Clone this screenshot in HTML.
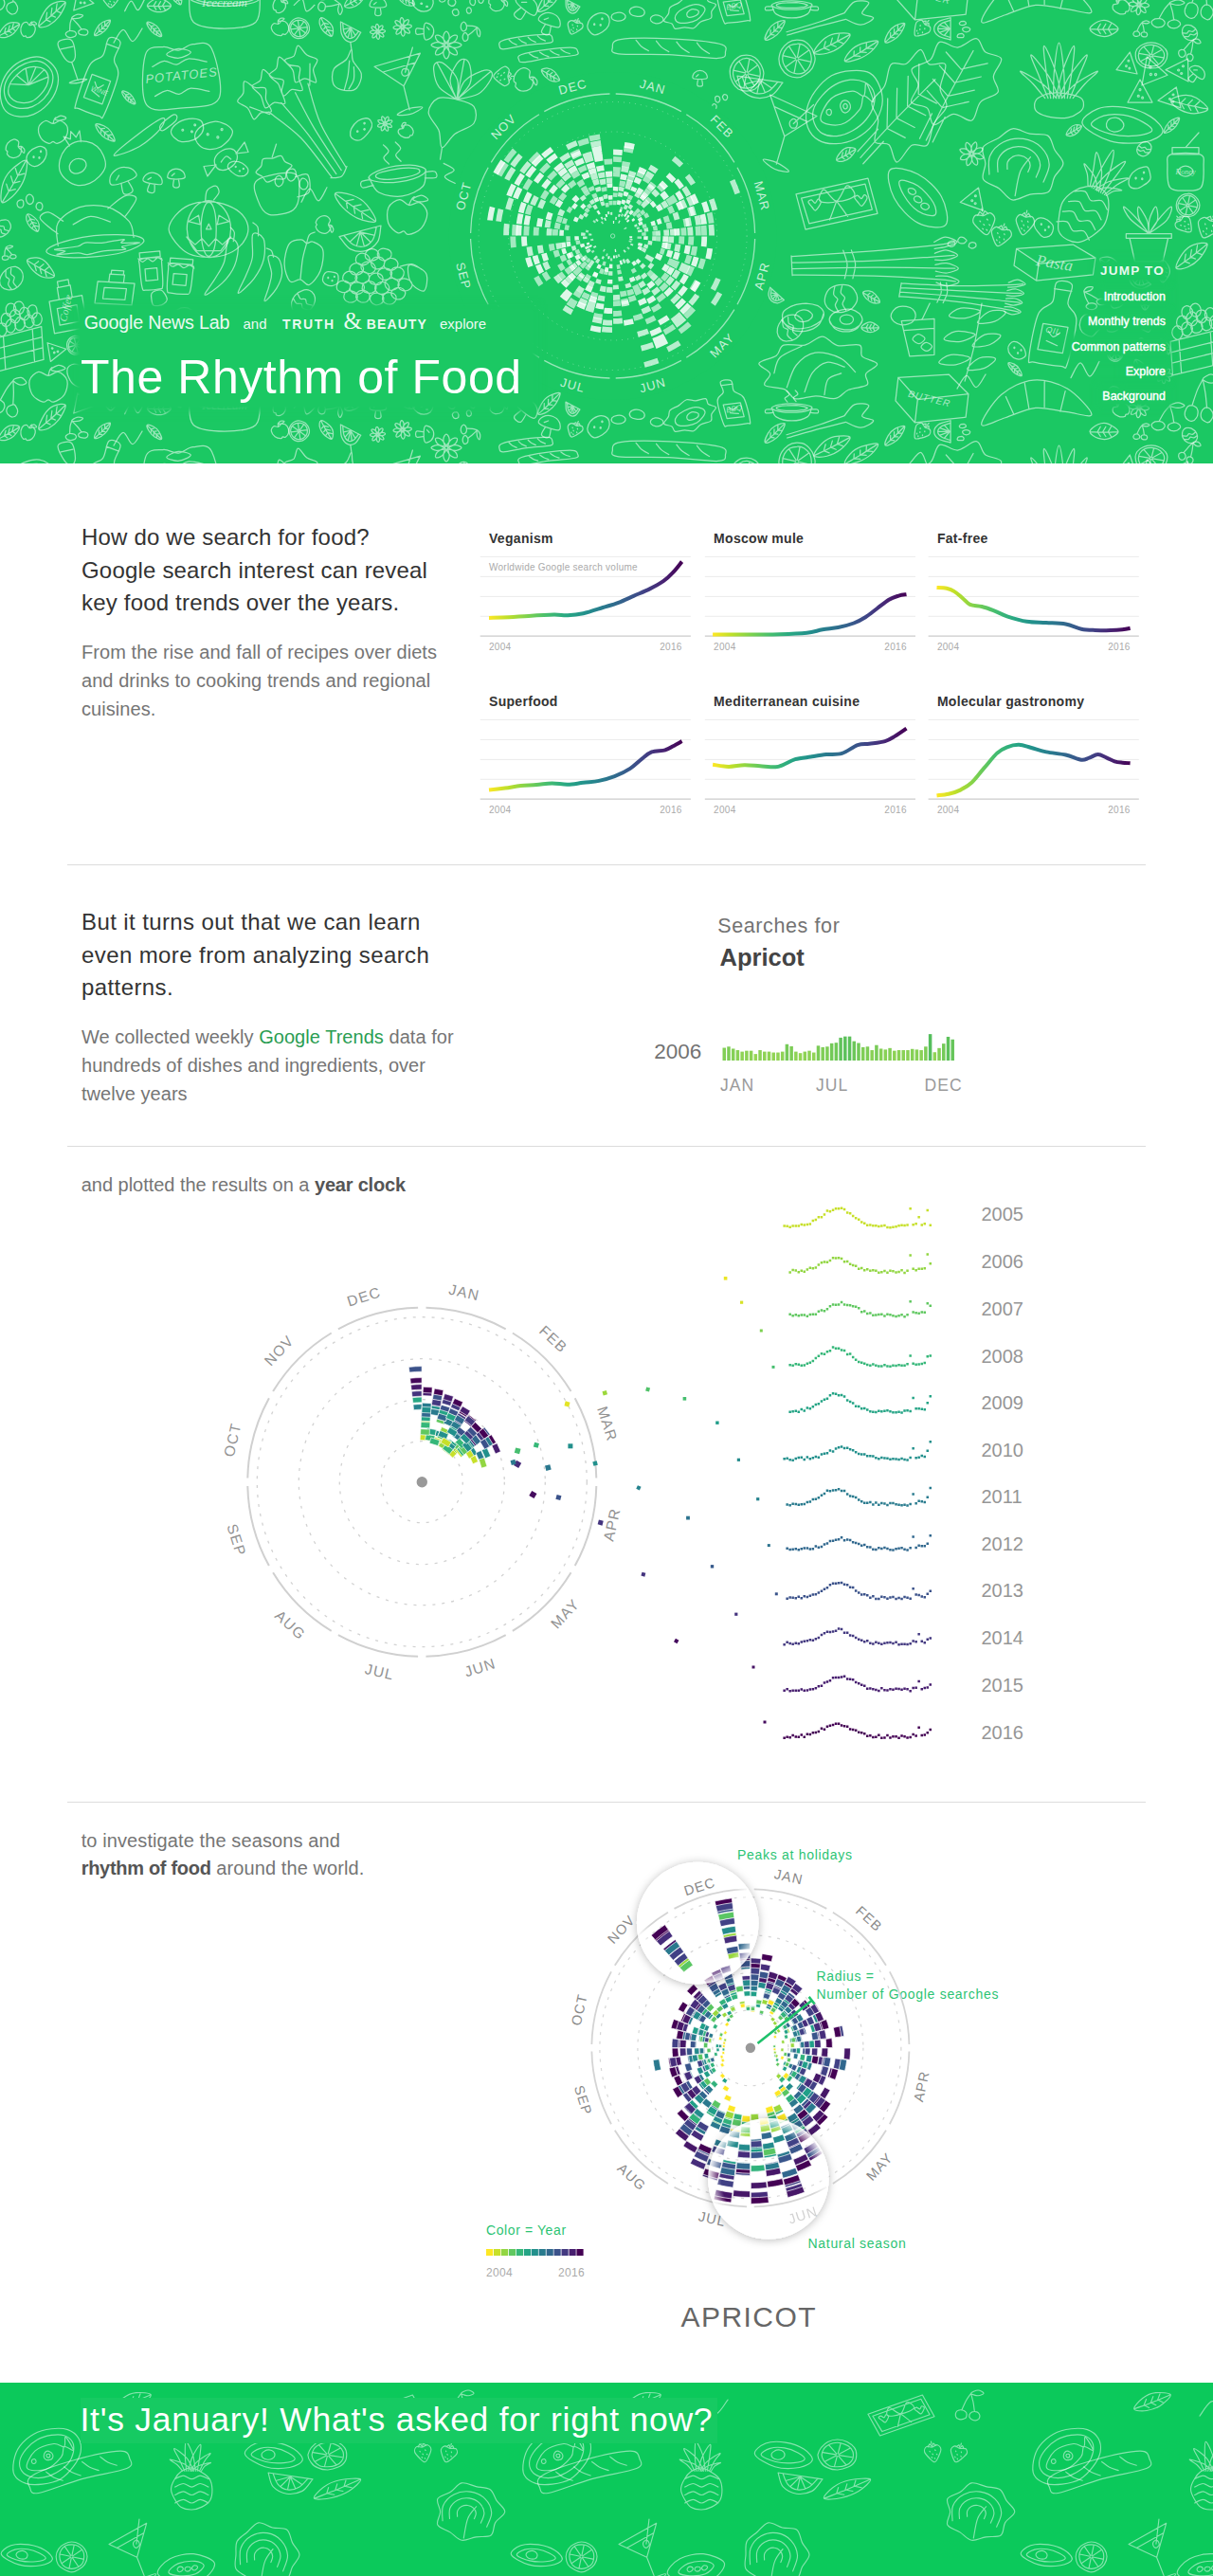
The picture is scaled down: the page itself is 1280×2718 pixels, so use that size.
<!DOCTYPE html><html lang="en"><head><meta charset="utf-8"><title>The Rhythm of Food</title><style>
*{box-sizing:border-box}
html,body{margin:0;padding:0;background:#fff}
body{font-family:"Liberation Sans", Arial, sans-serif;width:1280px;height:2718px;position:relative;overflow:hidden}
.t{position:absolute;white-space:nowrap;margin:0}
svg{position:absolute;left:0;top:0;overflow:hidden}
svg text{font-family:"Liberation Sans", Arial, sans-serif}
.hd{position:absolute;left:0;top:0;width:1280px;height:488.5px;background:#1bc863;overflow:hidden}
.ft{position:absolute;left:0;top:2514px;width:1280px;height:204px;background:#0bc95b;overflow:hidden}
.dd path{fill:none;stroke:rgba(255,255,255,.56);stroke-width:1.25;vector-effect:non-scaling-stroke;stroke-linecap:round;stroke-linejoin:round}
.ft .dd path{stroke:rgba(255,255,255,.5);stroke-width:1.15}
.hr{position:absolute;left:71px;width:1138px;height:1px;background:#dcdcdc}
.bgt{background:#1bc863;box-shadow:0 0 6px 5px #1bc863}
a{color:#2a9d52;text-decoration:none}
b{font-weight:700;color:#555}
</style></head><body><div class="hd"><svg width="1280" height="488.5" viewBox="0 0 1280 488.5"><g class="dd"><g id="dt"><path transform="translate(30.5 91.6) scale(0.629 0.983) rotate(-15)" d="M50.2 0.0C50.4 5.0 47.9 10.8 43.7 15.1C39.6 19.5 32.6 23.7 25.3 26.3C18.0 28.9 8.4 30.5 0.0 30.5C-8.4 30.5 -17.9 28.8 -25.2 26.2C-32.6 23.7 -40.1 19.6 -44.0 15.3C-48.0 10.9 -49.2 5.0 -49.1 0.0C-48.9 -5.0 -47.2 -10.6 -43.2 -15.0C-39.3 -19.4 -32.7 -23.9 -25.4 -26.4C-18.2 -29.0 -8.5 -30.2 -0.0 -30.2C8.5 -30.2 18.3 -29.0 25.4 -26.4C32.5 -23.8 38.5 -19.2 42.6 -14.8C46.8 -10.4 50.1 -5.0 50.2 0.0ZM41.9 -2.0C42.0 2.0 39.5 6.4 36.0 9.9C32.5 13.3 27.0 16.8 21.0 18.8C15.0 20.9 6.9 22.1 0.0 22.1C-6.9 22.0 -14.6 20.4 -20.6 18.4C-26.6 16.3 -32.5 13.3 -36.0 9.9C-39.5 6.5 -41.5 2.0 -41.6 -2.0C-41.8 -6.0 -40.4 -10.7 -37.0 -14.2C-33.6 -17.7 -27.4 -21.1 -21.2 -23.0C-15.1 -24.9 -7.1 -25.7 -0.0 -25.7C7.1 -25.7 15.3 -25.0 21.2 -23.0C27.2 -21.1 32.4 -17.3 35.8 -13.8C39.3 -10.3 41.9 -6.0 41.9 -2.0ZM34.2 -2.0C34.1 1.0 31.7 4.3 28.8 6.8C25.8 9.3 21.3 11.5 16.5 13.1C11.7 14.7 5.5 16.4 0.0 16.4C-5.5 16.4 -11.9 14.9 -16.7 13.3C-21.5 11.7 -25.9 9.4 -28.9 6.8C-32.0 4.3 -34.8 1.0 -35.0 -2.0C-35.2 -5.0 -33.1 -8.6 -30.1 -11.2C-27.1 -13.8 -21.8 -15.8 -16.8 -17.4C-11.8 -18.9 -5.6 -20.5 -0.0 -20.5C5.6 -20.5 12.1 -19.2 17.0 -17.6C22.0 -16.1 26.9 -13.7 29.8 -11.1C32.6 -8.5 34.4 -5.0 34.2 -2.0ZM0.0 -2.0L34.0 -2.0M0.0 -2.0L-29.4 -11.0M0.0 -2.0L17.0 -17.6M0.0 -2.0L-0.0 -20.0M0.0 -2.0L-17.0 -17.6M0.0 -2.0L29.4 -11.0"/><path transform="translate(107.4 80.5) scale(0.798 0.808) rotate(20)" d="M-8.0 -50.0C-5.3 -54.0 5.3 -54.0 8.0 -50.0C10.7 -46.0 6.0 -33.0 8.0 -26.0C10.0 -19.0 18.0 -20.0 20.0 -8.0C22.0 4.0 21.0 36.3 20.0 46.0C19.0 55.7 19.7 49.3 14.0 50.0C8.3 50.7 -8.3 50.7 -14.0 50.0C-19.7 49.3 -19.0 55.7 -20.0 46.0C-21.0 36.3 -22.0 4.0 -20.0 -8.0C-18.0 -20.0 -10.0 -19.0 -8.0 -26.0C-6.0 -33.0 -10.7 -46.0 -8.0 -50.0ZM-9.0 -42.0L9.0 -42.0M-13.0 2.0L13.0 2.0L13.0 34.0L-13.0 34.0ZM-6.0 10.0C-5.0 11.0 -2.0 16.0 0.0 16.0C2.0 16.0 5.0 11.0 6.0 10.0M-6.0 22.0C-4.0 22.7 4.0 25.3 6.0 26.0"/><path transform="translate(76.0 66.4) scale(0.601 0.471) rotate(-15)" d="M-12.0 -50.0C-8.3 -55.8 8.3 -55.8 12.0 -50.0C15.7 -44.2 12.0 -23.0 10.0 -15.0C8.0 -7.0 3.3 -2.0 0.0 -2.0C-3.3 -2.0 -8.0 -7.0 -10.0 -15.0C-12.0 -23.0 -15.7 -44.2 -12.0 -50.0ZM0.0 -2.0L0.0 40.0M-16.0 42.0C-16.0 40.8 -5.3 39.0 0.0 39.0C5.3 39.0 16.0 40.8 16.0 42.0C16.0 43.2 5.3 46.0 0.0 46.0C-5.3 46.0 -16.0 43.2 -16.0 42.0ZM-11.0 -35.0L11.0 -35.0"/><path transform="translate(190.5 79.3) scale(0.799 0.824) rotate(-5)" d="M-44.0 -30.0C-39.3 -42.0 -27.3 -37.7 -20.0 -38.0C-12.7 -38.3 -6.7 -32.0 0.0 -32.0C6.7 -32.0 12.7 -38.3 20.0 -38.0C27.3 -37.7 39.3 -42.0 44.0 -30.0C48.7 -18.0 55.3 22.0 48.0 34.0C40.7 46.0 16.0 42.0 0.0 42.0C-16.0 42.0 -40.7 46.0 -48.0 34.0C-55.3 22.0 -48.7 -18.0 -44.0 -30.0ZM-16.0 -28.0C-16.0 -26.0 -5.3 -22.0 0.0 -22.0C5.3 -22.0 16.0 -26.0 16.0 -28.0C16.0 -30.0 5.3 -34.0 0.0 -34.0C-5.3 -34.0 -16.0 -30.0 -16.0 -28.0ZM-36.0 -14.0C-33.3 -15.0 -25.3 -20.0 -20.0 -20.0C-14.7 -20.0 -9.3 -14.0 -4.0 -14.0C1.3 -14.0 5.3 -20.0 12.0 -20.0C18.7 -20.0 32.0 -15.0 36.0 -14.0M-36.0 24.0C-33.3 23.0 -25.3 18.0 -20.0 18.0C-14.7 18.0 -9.3 24.0 -4.0 24.0C1.3 24.0 5.3 18.0 12.0 18.0C18.7 18.0 32.0 23.0 36.0 24.0"/><path transform="translate(237.0 3.7) scale(0.780 0.658) rotate(0)" d="M47.4 -10.0C47.5 -7.6 46.2 -4.9 42.3 -2.9C38.4 -0.8 31.2 1.0 24.2 2.2C17.1 3.4 8.1 4.2 0.0 4.3C-8.1 4.3 -17.5 3.5 -24.4 2.3C-31.3 1.1 -37.3 -1.0 -41.2 -3.1C-45.1 -5.1 -47.8 -7.7 -47.7 -10.0C-47.7 -12.3 -45.0 -14.9 -41.0 -16.9C-37.0 -18.9 -30.5 -20.8 -23.7 -22.0C-16.8 -23.1 -7.9 -23.7 -0.0 -23.8C7.9 -23.8 16.9 -23.1 23.8 -22.0C30.8 -20.9 37.8 -19.0 41.7 -17.0C45.7 -15.0 47.3 -12.4 47.4 -10.0ZM41.2 -10.0C41.3 -8.3 40.0 -6.4 36.6 -5.0C33.2 -3.5 27.0 -2.2 20.9 -1.4C14.8 -0.6 7.0 -0.1 0.0 -0.1C-7.0 -0.0 -15.2 -0.4 -21.3 -1.2C-27.3 -2.1 -32.9 -3.5 -36.3 -5.0C-39.7 -6.5 -41.7 -8.3 -41.7 -10.0C-41.7 -11.7 -39.8 -13.5 -36.3 -15.0C-32.9 -16.5 -27.2 -17.9 -21.2 -18.7C-15.1 -19.5 -7.1 -19.8 -0.0 -19.8C7.1 -19.8 15.5 -19.6 21.4 -18.8C27.3 -18.0 32.4 -16.4 35.7 -14.9C39.0 -13.4 41.0 -11.7 41.2 -10.0ZM-48.0 -8.0C-47.0 -1.7 -50.0 22.0 -42.0 30.0C-34.0 38.0 -14.0 40.0 0.0 40.0C14.0 40.0 34.0 38.0 42.0 30.0C50.0 22.0 47.0 -1.7 48.0 -8.0"/><path transform="translate(320.5 127.1) scale(1.291 1.331) rotate(-35)" d="M-7.0 50.0C-7.5 43.3 -7.7 22.0 -9.8 10.0C-11.9 -2.0 -18.0 -16.7 -19.6 -22.0M-21.9 -53.2C-20.2 -52.9 -19.5 -46.5 -17.6 -44.2C-15.8 -41.8 -11.3 -41.1 -11.0 -38.9C-10.7 -36.7 -14.8 -34.1 -15.9 -31.1C-16.9 -28.1 -16.0 -22.1 -17.5 -21.1C-19.0 -20.1 -22.4 -24.6 -25.0 -25.1C-27.5 -25.6 -31.7 -22.6 -32.8 -24.1C-33.9 -25.6 -31.4 -31.0 -31.9 -34.2C-32.3 -37.4 -36.3 -41.3 -35.6 -43.3C-35.0 -45.3 -30.3 -44.4 -28.0 -46.1C-25.8 -47.7 -23.7 -53.5 -21.9 -53.2ZM-2.5 50.0C-2.7 43.3 -2.8 22.0 -3.5 10.0C-4.2 -2.0 -6.4 -16.7 -7.0 -22.0M-4.8 -19.9C-6.4 -19.3 -8.9 -24.4 -11.4 -25.4C-14.0 -26.5 -18.9 -24.2 -19.9 -26.1C-20.9 -27.9 -17.6 -32.9 -17.5 -36.3C-17.3 -39.7 -20.1 -44.6 -19.0 -46.3C-17.9 -48.0 -13.4 -45.3 -10.9 -46.3C-8.4 -47.3 -5.6 -52.8 -4.0 -52.1C-2.4 -51.5 -2.7 -45.1 -1.2 -42.4C0.2 -39.6 4.6 -37.8 4.6 -35.6C4.5 -33.4 0.0 -31.8 -1.5 -29.2C-3.1 -26.6 -3.1 -20.6 -4.8 -19.9ZM2.5 50.0C2.7 43.3 2.8 22.0 3.5 10.0C4.2 -2.0 6.4 -16.7 7.0 -22.0M12.4 -52.7C14.1 -52.1 14.0 -45.6 15.6 -42.9C17.1 -40.2 21.5 -38.7 21.5 -36.4C21.6 -34.2 17.3 -32.2 15.9 -29.5C14.5 -26.9 14.5 -21.0 12.9 -20.3C11.2 -19.7 8.6 -24.8 6.1 -25.7C3.6 -26.6 -1.1 -23.9 -2.2 -25.5C-3.3 -27.2 -0.4 -32.4 -0.4 -35.7C-0.5 -39.0 -3.4 -43.7 -2.4 -45.6C-1.5 -47.4 3.0 -45.6 5.5 -46.7C8.0 -47.9 10.7 -53.3 12.4 -52.7ZM7.0 50.0C7.5 43.3 7.7 22.0 9.8 10.0C11.9 -2.0 18.0 -16.7 19.6 -22.0M25.6 -19.0C24.0 -18.7 22.1 -25.0 19.8 -26.6C17.5 -28.2 12.6 -26.8 11.9 -28.6C11.2 -30.5 15.2 -34.6 15.6 -37.9C16.1 -41.1 13.6 -46.5 14.8 -48.0C15.9 -49.4 20.1 -45.9 22.7 -46.4C25.2 -47.0 28.7 -52.2 30.2 -51.2C31.7 -50.3 30.8 -44.0 31.9 -41.0C33.0 -38.0 37.1 -35.1 36.7 -33.1C36.3 -31.0 31.3 -30.8 29.5 -28.5C27.6 -26.2 27.2 -19.4 25.6 -19.0ZM-8.0 50.0C-6.7 50.7 -2.7 54.0 0.0 54.0C2.7 54.0 6.7 50.7 8.0 50.0M-20.0 -20.0C-21.7 -22.3 -28.3 -31.7 -30.0 -34.0M20.0 -20.0C21.7 -22.3 28.3 -31.7 30.0 -34.0"/><path transform="translate(367.0 74.2) scale(0.566 0.563) rotate(10)" d="M0-40C2-40 2-27 6-20C10-13 23-6 26 2C29 10 26 24 22 30C18 36 7 38 0 38C-7 38-18 36-22 30C-26 24-29 10-26 2C-23-6-10-13-6-20C-2-27-2-40 0-40ZM0-40C-1-42-3-50-4-52M0-18C0-13 2 1 2 10C2 19 0 33 0 38M10-8C11-4 14 7 14 14C14 21 9 31 8 34"/><path transform="translate(425.7 89.5) scale(0.626 0.681) rotate(-15)" d="M-40.0 -40.0L40.0 -40.0L0.0 2.0ZM0.0 2.0L0.0 40.0M-22.0 42.0C-22.0 40.5 -7.3 38.0 0.0 38.0C7.3 38.0 22.0 40.5 22.0 42.0C22.0 43.5 7.3 47.0 0.0 47.0C-7.3 47.0 -22.0 43.5 -22.0 42.0ZM-28.0 -28.0L28.0 -28.0M14.4 -18.0C14.3 -16.8 13.6 -15.4 12.9 -14.5C12.1 -13.5 10.9 -12.7 9.8 -12.4C8.7 -12.0 7.3 -12.1 6.2 -12.5C5.1 -12.8 3.8 -13.5 3.1 -14.4C2.4 -15.4 1.8 -16.8 1.8 -18.0C1.8 -19.2 2.4 -20.6 3.2 -21.5C3.9 -22.5 5.1 -23.3 6.2 -23.7C7.3 -24.0 8.6 -23.7 9.8 -23.4C10.9 -23.1 12.3 -22.6 13.1 -21.7C13.9 -20.8 14.4 -19.2 14.4 -18.0ZM8.0 -18.0L30.0 -52.0"/><path transform="translate(480.7 109.5) scale(0.886 0.772) rotate(15)" d="M0.0 -6.0C7.3 -6.0 17.3 -6.3 22.0 -2.0C26.7 2.3 30.0 13.0 28.0 20.0C26.0 27.0 14.7 33.0 10.0 40.0C5.3 47.0 3.3 62.0 0.0 62.0C-3.3 62.0 -5.3 47.0 -10.0 40.0C-14.7 33.0 -26.0 27.0 -28.0 20.0C-30.0 13.0 -26.7 2.3 -22.0 -2.0C-17.3 -6.3 -7.3 -6.0 0.0 -6.0ZM0.0 62.0C0.3 64.7 1.7 75.3 2.0 78.0M0.0 -6.0C-4.1 -7.8 -18.5 -11.4 -24.6 -16.6C-30.8 -21.9 -35.1 -32.2 -37.0 -37.6C-38.9 -42.9 -38.1 -47.1 -36.1 -48.8C-34.0 -50.5 -29.8 -50.7 -24.8 -47.9C-19.8 -45.1 -10.4 -39.1 -6.3 -32.1C-2.1 -25.1 -1.0 -10.3 0.0 -6.0M0.0 -6.0L-36.1 -48.8M0.0 -6.0C-2.4 -9.8 -12.2 -20.9 -14.3 -28.7C-16.5 -36.5 -14.2 -47.5 -12.8 -53.0C-11.3 -58.5 -8.2 -61.5 -5.6 -61.7C-2.9 -62.0 0.6 -59.7 3.2 -54.6C5.7 -49.5 10.1 -39.2 9.5 -31.1C9.0 -23.0 1.6 -10.2 0.0 -6.0M0.0 -6.0L-5.6 -61.7M0.0 -6.0C0.4 -10.5 -0.7 -25.2 2.3 -32.7C5.4 -40.2 13.8 -47.6 18.3 -51.1C22.8 -54.6 27.0 -55.1 29.3 -53.7C31.5 -52.3 33.0 -48.3 31.9 -42.7C30.8 -37.1 28.1 -26.3 22.8 -20.2C17.5 -14.1 3.8 -8.4 0.0 -6.0M0.0 -6.0L29.3 -53.7"/><path transform="translate(471.0 47.5) scale(0.348 0.315) rotate(0)" d="M6-5C10-6 23-10 30-9C37-8 46-3 46 0C46 3 37 8 30 9C23 10 10 6 6 5M8 1C11 3 24 10 28 15C32 20 35 30 32 32C30 35 20 32 15 28C10 24 3 11 1 8M5 6C6 10 10 23 9 30C8 37 3 46 0 46C-3 46-8 37-9 30C-10 23-6 10-5 6M-1 8C-3 11-10 24-15 28C-20 32-30 35-32 32C-35 30-32 20-28 15C-24 10-11 3-8 1M-6 5C-10 6-23 10-30 9C-37 8-46 3-46 0C-46-3-37-8-30-9C-23-10-10-6-6-5M-8-1C-11-3-24-10-28-15C-32-20-35-30-32-32C-30-35-20-32-15-28C-10-24-3-11-1-8M-5-6C-6-10-10-23-9-30C-8-37-3-46 0-46C3-46 8-37 9-30C10-23 6-10 5-6M1-8C3-11 10-24 15-28C20-32 30-35 32-32C35-30 32-20 28-15C24-10 11-3 8-1M5 0C5 1 5 2 4 3C4 4 2 5 2 5C1 5 0 5-2 4C-2 4-4 4-4 3C-5 2-5 1-5 0C-5-1-5-2-4-3C-4-4-2-5-2-5C-1-5 0-5 2-4C2-4 4-4 4-3C5-2 5-1 5 0Z"/><path transform="translate(554.7 43.3) scale(0.567 0.439) rotate(-10)" d="M-50 4C-50 1-52-5-44-8C-36-11-15-12 0-12C15-12 36-10 44-8C52-6 50 0 50 3C50 6 52 11 44 12C36 13 15 10 0 10C-15 10-36 13-44 12C-52 11-50 7-50 4ZM-30-8C-29-7-27-2-25 0C-23 2-19 5-18 6M-12-8C-11-7-9-2-7 0C-5 2-1 5 0 6M6-8C7-7 9-2 11 0C13 2 17 5 18 6M24-8C25-7 27-2 29 0C31 2 35 5 36 6"/><path transform="translate(578.1 57.2) scale(0.634 0.407) rotate(-12)" d="M-50.0 4.0C-50.0 0.7 -52.3 -5.3 -44.0 -8.0C-35.7 -10.7 -14.7 -12.0 0.0 -12.0C14.7 -12.0 35.7 -10.5 44.0 -8.0C52.3 -5.5 50.0 -0.3 50.0 3.0C50.0 6.3 52.3 10.8 44.0 12.0C35.7 13.2 14.7 10.0 0.0 10.0C-14.7 10.0 -35.7 13.0 -44.0 12.0C-52.3 11.0 -50.0 7.3 -50.0 4.0ZM-30.0 -8.0C-29.2 -6.7 -27.0 -2.3 -25.0 0.0C-23.0 2.3 -19.2 5.0 -18.0 6.0M-12.0 -8.0C-11.2 -6.7 -9.0 -2.3 -7.0 0.0C-5.0 2.3 -1.2 5.0 0.0 6.0M6.0 -8.0C6.8 -6.7 9.0 -2.3 11.0 0.0C13.0 2.3 16.8 5.0 18.0 6.0M24.0 -8.0C24.8 -6.7 27.0 -2.3 29.0 0.0C31.0 2.3 34.8 5.0 36.0 6.0"/><path transform="translate(85.6 168.4) scale(0.639 0.633) rotate(-20)" d="M36.9 6.0C37.2 12.0 36.9 19.4 33.8 24.5C30.8 29.6 24.3 33.8 18.7 36.7C13.1 39.6 6.4 41.6 0.0 41.9C-6.4 42.2 -14.1 41.3 -19.8 38.4C-25.4 35.5 -30.6 29.9 -33.8 24.5C-37.1 19.1 -39.6 12.1 -39.4 6.0C-39.3 -0.1 -36.2 -6.7 -32.8 -11.9C-29.4 -17.1 -24.4 -22.0 -19.0 -25.1C-13.5 -28.3 -6.3 -30.7 -0.0 -30.7C6.3 -30.7 13.6 -28.3 19.0 -25.1C24.4 -22.0 29.4 -16.9 32.4 -11.7C35.4 -6.5 36.7 -0.0 36.9 6.0ZM-10.0 -28.0L-14.0 -46.0L-5.0 -38.0L0.0 -50.0L5.0 -38.0L14.0 -46.0L10.0 -28.0M5.7 8.0C5.7 10.7 3.5 13.9 1.2 15.9C-1.1 17.8 -4.7 19.5 -8.0 19.7C-11.3 19.9 -16.3 19.3 -18.9 17.3C-21.4 15.4 -23.4 11.0 -23.3 8.0C-23.2 5.0 -20.7 1.3 -18.2 -0.7C-15.6 -2.7 -11.3 -4.1 -8.0 -4.0C-4.7 -3.9 -0.7 -2.2 1.6 -0.2C3.9 1.8 5.8 5.3 5.7 8.0Z"/><path transform="translate(56.0 138.8) scale(0.361 0.297) rotate(0)" d="M0-28C7-28 15-40 22-38C29-36 40-25 42-15C44-5 41 12 36 22C31 32 18 40 12 42C6 44 4 36 0 36C-4 36-6 44-12 42C-18 40-31 32-36 22C-41 12-44-5-42-15C-40-25-29-36-22-38C-15-40-7-28 0-28ZM0-28C0-30 2-38 3-42C4-46 7-49 8-50M6-44C6-47 17-55 22-56C27-57 38-51 38-48C38-45 27-41 22-40C17-39 6-41 6-44Z"/><path transform="translate(152.5 145.2) scale(0.646 0.933) rotate(0)" d="M-50.0 20.0C-50.3 17.7 -23.3 3.0 -10.0 -4.0C3.3 -11.0 24.0 -21.0 30.0 -22.0C36.0 -23.0 32.3 -15.3 26.0 -10.0C19.7 -4.7 4.7 5.0 -8.0 10.0C-20.7 15.0 -49.7 22.3 -50.0 20.0ZM26.0 -14.0C29.0 -17.0 43.7 -25.0 48.0 -26.0C52.3 -27.0 55.0 -23.0 52.0 -20.0C49.0 -17.0 34.3 -9.0 30.0 -8.0C25.7 -7.0 23.0 -11.0 26.0 -14.0Z"/><path transform="translate(198.7 137.3) scale(0.407 0.420) rotate(-15)" d="M40 0C40 6 38 11 32 16C27 20 17 26 8 27C-1 28-16 27-24 24C-32 21-37 14-40 9C-44 3-46-4-44-9C-41-15-32-21-23-24C-15-27-2-28 8-27C18-26 29-22 35-17C40-13 41-6 40 0ZM-12-4C-12-4-12-3-12-3C-13-2-13-2-13-2C-14-2-14-2-15-2C-15-2-15-2-16-3C-16-3-16-4-16-4C-16-4-16-5-16-5C-15-6-15-6-15-6C-14-6-14-6-13-6C-13-6-13-6-12-5C-12-5-12-4-12-4ZM10 6C10 6 10 7 10 7C9 7 9 8 9 8C8 8 8 8 7 8C7 8 7 8 6 7C6 7 6 6 6 6C6 6 6 5 6 5C6 4 7 4 7 4C8 4 8 4 9 4C9 4 9 4 10 5C10 5 10 6 10 6ZM22-8C22-8 22-7 22-7C21-6 21-6 21-6C20-6 20-6 19-6C19-6 19-6 18-7C18-7 18-8 18-8C18-8 18-9 18-9C19-10 19-10 19-10C20-10 20-10 21-10C21-10 21-10 22-9C22-9 22-8 22-8Z"/><path transform="translate(225.8 142.5) scale(0.453 0.517) rotate(-10)" d="M44 0C44 5 38 11 32 16C25 20 17 26 8 27C-1 29-16 28-24 24C-32 21-38 14-41 9C-44 3-46-4-43-9C-40-15-32-21-23-24C-14-26-1-28 8-27C17-26 25-20 32-16C38-11 44-5 44 0ZM-12-4C-12-4-12-3-12-3C-13-2-13-2-13-2C-14-2-14-2-15-2C-15-2-15-2-16-3C-16-3-16-4-16-4C-16-4-16-5-16-5C-15-6-15-6-15-6C-14-6-14-6-13-6C-13-6-13-5-12-5C-12-5-12-4-12-4ZM10 6C10 6 10 7 10 7C9 8 9 8 9 8C8 8 8 8 7 8C7 8 7 8 6 7C6 7 6 6 6 6C6 6 6 5 6 5C7 4 7 4 7 4C8 4 8 4 9 4C9 4 9 5 10 5C10 5 10 6 10 6ZM22-8C22-8 22-7 22-7C21-7 21-6 21-6C20-6 20-6 19-6C19-6 19-6 18-7C18-7 18-8 18-8C18-8 18-9 18-9C19-10 19-10 19-10C20-10 20-10 21-10C21-10 22-10 22-9C22-9 22-8 22-8Z"/><path transform="translate(238.5 168.0) scale(0.653 0.750) rotate(0)" d="M16.7 -9.1C18.3 -6.3 18.7 -1.6 17.0 1.9C15.3 5.4 10.7 9.8 6.6 12.0C2.5 14.3 -3.7 15.8 -7.6 15.3C-11.5 14.9 -15.2 12.1 -16.9 9.2C-18.6 6.3 -19.4 1.6 -17.7 -2.0C-16.0 -5.5 -10.8 -10.0 -6.6 -12.1C-2.5 -14.3 3.4 -15.3 7.3 -14.8C11.2 -14.2 15.1 -11.9 16.7 -9.1ZM-16.0 8.0L-36.0 10.0L-30.0 24.0ZM16.0 -8.0L36.0 -10.0L30.0 -24.0ZM-8.0 4.0C-6.7 2.7 -2.7 -3.3 0.0 -4.0C2.7 -4.7 6.7 -0.7 8.0 0.0"/><path transform="translate(130.7 190.2) scale(0.371 0.362) rotate(-20)" d="M-38 0C-43-5-36-20-30-26C-24-32-10-38 0-38C10-38 24-32 30-26C36-20 43-5 38 0C33 5 13 6 0 6C-13 6-33 5-38 0ZM-10 6C-11 11-16 30-14 36C-12 42-5 42 0 42C5 42 12 42 14 36C16 30 11 11 10 6M-20-8C-18-10-10-16-8-18"/><path transform="translate(160.8 192.4) scale(0.260 0.266) rotate(10)" d="M-38 0C-43-5-36-20-30-26C-24-32-10-38 0-38C10-38 24-32 30-26C36-20 43-5 38 0C33 5 13 6 0 6C-13 6-33 5-38 0ZM-10 6C-11 11-16 30-14 36C-12 42-5 42 0 42C5 42 12 42 14 36C16 30 11 11 10 6M-20-8C-18-10-10-16-8-18"/><path transform="translate(186.0 187.5) scale(0.233 0.250) rotate(0)" d="M-38 0C-43-5-36-20-30-26C-24-32-10-38 0-38C10-38 24-32 30-26C36-20 43-5 38 0C33 5 13 6 0 6C-13 6-33 5-38 0ZM-10 6C-11 11-16 30-14 36C-12 42-5 42 0 42C5 42 12 42 14 36C16 30 11 11 10 6M-20-8C-18-10-10-16-8-18"/><path transform="translate(291.7 193.4) scale(0.651 0.703) rotate(-10)" d="M-30.0 -10.0C-19.3 -15.0 19.3 -15.0 30.0 -10.0C40.7 -5.0 35.7 11.0 34.0 20.0C32.3 29.0 29.0 40.0 20.0 44.0C11.0 48.0 -11.0 48.0 -20.0 44.0C-29.0 40.0 -32.3 29.0 -34.0 20.0C-35.7 11.0 -40.7 -5.0 -30.0 -10.0ZM29.4 -22.0C29.3 -19.5 21.5 -17.3 19.1 -14.4C16.6 -11.5 17.8 -5.8 14.6 -4.5C11.4 -3.2 4.9 -6.4 0.0 -6.4C-4.9 -6.4 -11.2 -3.2 -14.6 -4.4C-18.1 -5.7 -18.1 -10.8 -20.6 -13.8C-23.2 -16.7 -29.9 -19.3 -29.8 -22.0C-29.6 -24.7 -22.2 -26.9 -19.7 -29.9C-17.2 -32.8 -18.2 -38.5 -14.9 -39.8C-11.6 -41.2 -4.9 -38.1 -0.0 -38.0C4.9 -38.0 11.2 -40.7 14.4 -39.3C17.6 -37.9 16.7 -32.5 19.2 -29.7C21.7 -26.8 29.4 -24.5 29.4 -22.0ZM32.0 -4.0C35.3 -4.0 49.0 -8.3 52.0 -4.0C55.0 0.3 53.7 17.0 50.0 22.0C46.3 27.0 33.3 25.3 30.0 26.0M0.0 -40.0L10.0 -58.0"/><path transform="translate(420.3 187.5) scale(0.657 0.519) rotate(-10)" d="M46.3 -8.0C46.4 -5.4 43.8 -2.3 40.0 0.0C36.2 2.4 30.3 4.8 23.6 6.2C17.0 7.6 7.8 8.5 0.0 8.4C-7.8 8.4 -16.6 7.4 -23.1 5.9C-29.7 4.5 -35.5 2.3 -39.5 -0.1C-43.5 -2.4 -47.2 -5.4 -47.1 -8.0C-46.9 -10.6 -42.7 -13.5 -38.6 -15.8C-34.5 -18.0 -28.9 -20.1 -22.5 -21.5C-16.0 -22.9 -7.6 -24.0 -0.0 -24.1C7.6 -24.1 16.7 -23.3 23.2 -22.0C29.7 -20.6 35.1 -18.2 39.0 -15.8C42.8 -13.5 46.1 -10.6 46.3 -8.0ZM-46.0 -8.0C-44.3 -2.7 -43.7 16.3 -36.0 24.0C-28.3 31.7 -12.0 38.0 0.0 38.0C12.0 38.0 28.3 31.7 36.0 24.0C43.7 16.3 44.3 -2.7 46.0 -8.0M36.5 -8.0C36.5 -6.0 34.5 -3.5 30.3 -1.9C26.0 -0.3 17.9 0.8 11.0 1.4C4.1 1.9 -4.5 2.1 -11.0 1.4C-17.6 0.8 -24.3 -0.7 -28.3 -2.3C-32.4 -3.9 -34.9 -6.0 -35.2 -8.0C-35.6 -10.0 -34.5 -12.6 -30.5 -14.2C-26.5 -15.7 -18.0 -16.8 -11.0 -17.4C-4.0 -18.0 4.8 -18.5 11.6 -17.9C18.5 -17.4 26.2 -15.8 30.3 -14.1C34.5 -12.5 36.5 -10.0 36.5 -8.0ZM-10.0 -30.0C-11.0 -32.3 -16.7 -39.7 -16.0 -44.0C-15.3 -48.3 -6.7 -51.7 -6.0 -56.0C-5.3 -60.3 -11.0 -67.7 -12.0 -70.0M10.0 -32.0C9.0 -34.3 3.3 -41.7 4.0 -46.0C4.7 -50.3 13.3 -53.7 14.0 -58.0C14.7 -62.3 9.0 -69.7 8.0 -72.0M-46.0 -4.0C-48.3 -3.7 -57.7 -4.3 -60.0 -2.0C-62.3 0.3 -63.0 8.3 -60.0 10.0C-57.0 11.7 -45.0 8.3 -42.0 8.0M46.0 -4.0C48.3 -3.7 57.7 -4.3 60.0 -2.0C62.3 0.3 63.0 8.3 60.0 10.0C57.0 11.7 45.0 8.3 42.0 8.0"/><path transform="translate(375.0 218.9) scale(0.544 0.535) rotate(35)" d="M-48 0C-48-5-30-13-20-16C-10-19 4-20 15-17C26-14 48-5 48 0C48 5 26 13 15 15C4 17-10 16-20 14C-30 12-48 5-48 0ZM-48 0C-40 0-16 1 0 1C16 1 40 0 48 0M-22 0L-12-11M-22 0L-12 10M-4 0L6-11M-4 0L6 10M14 0L24-11M14 0L24 10"/><path transform="translate(429.1 228.5) scale(0.494 0.436) rotate(10)" d="M0-28C7-28 15-40 22-38C29-36 40-25 42-15C44-5 41 12 36 22C31 32 18 40 12 42C6 44 4 36 0 36C-4 36-6 44-12 42C-18 40-31 32-36 22C-41 12-44-5-42-15C-40-25-29-36-22-38C-15-40-7-28 0-28ZM0-28C0-30 2-38 3-42C4-46 7-49 8-50M6-44C6-47 17-55 22-56C27-57 38-51 38-48C38-45 27-41 22-40C17-39 6-41 6-44Z"/><path transform="translate(98.0 242.5) scale(0.983 0.788) rotate(-8)" d="M52.3 22.0C52.1 24.3 48.6 26.8 44.4 28.9C40.1 31.0 34.1 33.3 26.8 34.5C19.4 35.7 8.8 36.1 0.0 36.0C-8.8 35.9 -18.4 35.2 -25.9 34.1C-33.3 32.9 -39.9 30.9 -44.5 28.9C-49.2 26.9 -53.4 24.3 -53.5 22.0C-53.6 19.7 -49.7 17.0 -45.0 15.0C-40.4 13.0 -33.2 11.2 -25.7 10.0C-18.2 8.9 -8.5 8.0 -0.0 8.0C8.5 8.0 17.8 9.0 25.4 10.2C33.0 11.3 40.9 13.0 45.4 14.9C49.8 16.9 52.5 19.7 52.3 22.0ZM-40.0 16.0C-39.3 11.0 -41.0 -6.0 -36.0 -14.0C-31.0 -22.0 -19.3 -29.7 -10.0 -32.0C-0.7 -34.3 11.7 -32.3 20.0 -28.0C28.3 -23.7 36.3 -13.3 40.0 -6.0C43.7 1.3 41.7 12.3 42.0 16.0M20.0 -26.0C23.3 -28.3 34.7 -38.3 40.0 -40.0C45.3 -41.7 51.3 -39.0 52.0 -36.0C52.7 -33.0 46.7 -26.0 44.0 -22.0C41.3 -18.0 37.3 -13.7 36.0 -12.0M-30.0 -16.0C-32.3 -18.3 -40.0 -28.7 -44.0 -30.0C-48.0 -31.3 -53.7 -27.3 -54.0 -24.0C-54.3 -20.7 -48.7 -14.0 -46.0 -10.0C-43.3 -6.0 -39.3 -1.7 -38.0 0.0M47.8 24.0C47.8 24.8 31.1 25.3 28.2 26.4C25.3 27.5 34.0 30.1 30.5 30.7C27.0 31.2 14.2 29.4 7.4 29.6C0.5 29.8 -5.8 32.1 -10.3 31.9C-14.9 31.7 -14.6 29.1 -20.0 28.4C-25.4 27.7 -40.4 28.3 -42.6 27.6C-44.8 26.9 -33.1 25.2 -33.4 24.0C-33.6 22.8 -46.4 21.0 -44.1 20.3C-41.7 19.6 -25.0 20.5 -19.4 19.7C-13.9 19.0 -14.9 16.1 -10.5 15.9C-6.1 15.8 -0.0 18.5 6.9 18.7C13.8 18.9 27.3 16.7 30.9 17.2C34.5 17.7 25.4 20.5 28.2 21.6C31.1 22.8 47.8 23.2 47.8 24.0ZM-20.0 -10.0C-16.7 -11.3 -6.7 -18.3 0.0 -18.0C6.7 -17.7 16.7 -9.7 20.0 -8.0"/><path transform="translate(220.3 238.6) scale(0.898 0.815) rotate(0)" d="M46.4 4.0C46.4 10.0 43.6 16.7 39.8 22.0C35.9 27.2 29.9 32.5 23.3 35.5C16.6 38.6 7.8 40.3 0.0 40.3C-7.8 40.3 -17.0 38.9 -23.4 35.8C-29.9 32.6 -34.7 26.7 -38.6 21.5C-42.5 16.2 -46.9 9.9 -47.0 4.0C-47.1 -1.9 -43.2 -8.5 -39.2 -13.7C-35.2 -18.9 -29.6 -24.3 -23.1 -27.3C-16.5 -30.2 -7.6 -31.6 -0.0 -31.5C7.6 -31.4 16.0 -29.6 22.6 -26.7C29.3 -23.8 36.0 -19.2 39.9 -14.0C43.9 -8.9 46.4 -2.0 46.4 4.0ZM25.9 4.0C25.9 11.0 23.8 19.2 20.9 25.0C17.9 30.8 13.0 36.5 8.2 38.7C3.3 41.0 -3.3 40.8 -8.1 38.4C-12.8 36.1 -17.5 30.3 -20.4 24.6C-23.4 18.8 -25.5 10.9 -25.6 4.0C-25.7 -2.9 -23.9 -11.3 -21.0 -17.1C-18.1 -23.0 -13.1 -28.8 -8.2 -31.1C-3.4 -33.4 3.3 -33.3 8.2 -31.0C13.1 -28.7 18.1 -23.1 21.1 -17.2C24.0 -11.4 26.0 -3.0 25.9 4.0ZM8.8 4.0C8.8 12.4 7.9 23.2 6.4 29.0C5.0 34.8 2.1 38.9 0.0 38.9C-2.1 38.9 -4.9 34.6 -6.4 28.8C-7.9 23.0 -9.1 12.3 -9.1 4.0C-9.1 -4.3 -7.9 -15.1 -6.4 -20.9C-4.9 -26.7 -2.1 -30.9 -0.0 -31.0C2.1 -31.0 5.0 -27.0 6.5 -21.2C7.9 -15.3 8.8 -4.4 8.8 4.0ZM-4.0 -32.0C-3.7 -34.3 -4.0 -42.7 -2.0 -46.0C0.0 -49.3 5.7 -52.3 8.0 -52.0C10.3 -51.7 12.3 -47.0 12.0 -44.0C11.7 -41.0 7.0 -35.7 6.0 -34.0M-24.0 -6.0L-12.0 -14.0L-10.0 -2.0ZM24.0 -6.0L12.0 -14.0L10.0 -2.0ZM-3.0 4.0L3.0 4.0L0.0 -3.0ZM-26.0 14.0L-16.0 24.0L-8.0 16.0L0.0 26.0L8.0 16.0L16.0 24.0L26.0 14.0L14.0 32.0L-14.0 32.0Z"/><path transform="translate(235.4 282.5) scale(0.720 0.749) rotate(25)" d="M-10.0 -40.0C-8.7 -45.0 2.0 -43.0 6.0 -38.0C10.0 -33.0 13.7 -19.7 14.0 -10.0C14.3 -0.3 11.7 10.7 8.0 20.0C4.3 29.3 -6.0 46.3 -8.0 46.0C-10.0 45.7 -5.0 27.0 -4.0 18.0C-3.0 9.0 -1.0 1.7 -2.0 -8.0C-3.0 -17.7 -11.3 -35.0 -10.0 -40.0ZM-2.0 -40.0C-2.7 -42.0 -4.0 -49.3 -6.0 -52.0C-8.0 -54.7 -12.7 -55.3 -14.0 -56.0"/><path transform="translate(266.2 277.9) scale(0.753 0.743) rotate(15)" d="M-10.0 -40.0C-8.7 -45.0 2.0 -43.0 6.0 -38.0C10.0 -33.0 13.7 -19.7 14.0 -10.0C14.3 -0.3 11.7 10.7 8.0 20.0C4.3 29.3 -6.0 46.3 -8.0 46.0C-10.0 45.7 -5.0 27.0 -4.0 18.0C-3.0 9.0 -1.0 1.7 -2.0 -8.0C-3.0 -17.7 -11.3 -35.0 -10.0 -40.0ZM-2.0 -40.0C-2.7 -42.0 -4.0 -49.3 -6.0 -52.0C-8.0 -54.7 -12.7 -55.3 -14.0 -56.0"/><path transform="translate(287.5 293.1) scale(0.682 0.546) rotate(5)" d="M-10.0 -40.0C-8.7 -45.0 2.0 -43.0 6.0 -38.0C10.0 -33.0 13.7 -19.7 14.0 -10.0C14.3 -0.3 11.7 10.7 8.0 20.0C4.3 29.3 -6.0 46.3 -8.0 46.0C-10.0 45.7 -5.0 27.0 -4.0 18.0C-3.0 9.0 -1.0 1.7 -2.0 -8.0C-3.0 -17.7 -11.3 -35.0 -10.0 -40.0ZM-2.0 -40.0C-2.7 -42.0 -4.0 -49.3 -6.0 -52.0C-8.0 -54.7 -12.7 -55.3 -14.0 -56.0"/><path transform="translate(320.7 273.2) scale(0.644 0.647) rotate(10)" d="M-10.0 -30.0C-5.3 -31.0 -3.3 -26.0 0.0 -26.0C3.3 -26.0 5.3 -31.0 10.0 -30.0C14.7 -29.0 24.7 -27.3 28.0 -20.0C31.3 -12.7 32.0 4.0 30.0 14.0C28.0 24.0 21.0 36.7 16.0 40.0C11.0 43.3 5.3 34.0 0.0 34.0C-5.3 34.0 -11.0 43.3 -16.0 40.0C-21.0 36.7 -28.0 24.0 -30.0 14.0C-32.0 4.0 -31.3 -12.7 -28.0 -20.0C-24.7 -27.3 -14.7 -29.0 -10.0 -30.0ZM0.0 -26.0C0.3 -28.3 0.3 -36.7 2.0 -40.0C3.7 -43.3 8.7 -45.0 10.0 -46.0M0.0 -26.0C-0.3 -21.7 -2.0 -10.0 -2.0 0.0C-2.0 10.0 -0.3 28.3 0.0 34.0"/><path transform="translate(399.5 292.4) scale(0.878 0.746) rotate(60)" d="M-16.1 -22.0C-16.0 -19.9 -16.8 -17.2 -18.2 -15.8C-19.6 -14.4 -22.4 -13.7 -24.5 -13.8C-26.5 -13.8 -28.9 -14.7 -30.3 -16.1C-31.8 -17.5 -33.3 -20.1 -33.2 -22.0C-33.2 -23.9 -31.7 -26.3 -30.2 -27.7C-28.7 -29.2 -26.4 -30.7 -24.5 -30.8C-22.5 -30.8 -19.7 -29.6 -18.3 -28.1C-16.9 -26.7 -16.1 -24.1 -16.1 -22.0ZM0.0 -22.0C0.1 -20.0 -0.7 -17.3 -2.1 -15.8C-3.5 -14.3 -6.3 -13.1 -8.3 -13.2C-10.3 -13.2 -12.7 -14.7 -14.1 -16.2C-15.5 -17.7 -16.7 -20.0 -16.8 -22.0C-16.8 -24.0 -15.7 -26.6 -14.3 -28.0C-12.9 -29.5 -10.3 -30.5 -8.3 -30.5C-6.3 -30.5 -3.7 -29.3 -2.4 -27.9C-1.0 -26.5 0.0 -24.0 0.0 -22.0ZM15.2 -22.0C15.3 -20.0 14.2 -17.2 12.8 -15.8C11.4 -14.4 8.6 -13.8 6.6 -13.9C4.6 -13.9 2.2 -14.8 0.8 -16.2C-0.7 -17.5 -2.1 -20.0 -2.2 -22.0C-2.2 -24.0 -1.0 -26.7 0.4 -28.2C1.9 -29.6 4.6 -30.7 6.6 -30.6C8.6 -30.6 10.9 -29.2 12.3 -27.7C13.8 -26.3 15.1 -24.0 15.2 -22.0ZM33.8 -22.0C33.8 -19.9 32.7 -17.1 31.2 -15.7C29.7 -14.2 26.9 -13.2 24.9 -13.3C22.9 -13.4 20.6 -14.8 19.2 -16.3C17.7 -17.7 16.1 -20.1 16.1 -22.0C16.1 -23.9 17.6 -26.4 19.0 -27.8C20.5 -29.3 22.9 -30.6 24.9 -30.6C26.9 -30.7 29.7 -29.7 31.2 -28.3C32.7 -26.8 33.8 -24.1 33.8 -22.0ZM-23.0 -9.0C-23.0 -7.0 -23.9 -4.6 -25.3 -3.1C-26.6 -1.6 -29.2 -0.1 -31.2 -0.1C-33.1 -0.2 -35.5 -1.7 -37.0 -3.2C-38.4 -4.7 -39.7 -7.0 -39.7 -9.0C-39.8 -11.0 -38.5 -13.6 -37.1 -15.0C-35.7 -16.3 -33.2 -17.2 -31.2 -17.2C-29.1 -17.2 -26.4 -16.5 -25.1 -15.1C-23.7 -13.7 -22.9 -11.0 -23.0 -9.0ZM-9.7 -9.0C-9.6 -7.0 -10.5 -4.4 -11.9 -3.1C-13.2 -1.7 -15.9 -0.8 -17.8 -0.9C-19.8 -0.9 -22.1 -1.9 -23.6 -3.3C-25.0 -4.6 -26.3 -7.0 -26.4 -9.0C-26.5 -11.0 -25.4 -13.7 -24.0 -15.2C-22.6 -16.6 -19.8 -17.9 -17.8 -17.8C-15.8 -17.8 -13.4 -16.3 -12.0 -14.8C-10.7 -13.3 -9.7 -11.0 -9.7 -9.0ZM8.1 -9.0C8.1 -7.0 7.2 -4.3 5.8 -2.9C4.4 -1.5 1.8 -0.5 -0.3 -0.5C-2.3 -0.5 -5.1 -1.3 -6.5 -2.7C-7.9 -4.1 -8.8 -7.0 -8.7 -9.0C-8.6 -11.0 -7.4 -13.3 -6.0 -14.7C-4.6 -16.2 -2.2 -17.7 -0.3 -17.7C1.7 -17.7 4.1 -16.2 5.5 -14.8C6.9 -13.4 8.0 -11.0 8.1 -9.0ZM25.0 -9.0C25.0 -6.9 24.2 -4.2 22.8 -2.7C21.4 -1.3 18.6 -0.4 16.5 -0.5C14.5 -0.5 11.8 -1.5 10.4 -2.9C9.1 -4.3 8.2 -7.0 8.2 -9.0C8.2 -11.0 9.1 -13.7 10.5 -15.0C11.9 -16.4 14.5 -17.3 16.5 -17.3C18.6 -17.3 21.3 -16.5 22.7 -15.2C24.1 -13.8 25.0 -11.1 25.0 -9.0ZM40.3 -9.0C40.3 -7.1 39.3 -4.5 37.9 -3.1C36.6 -1.8 34.1 -0.7 32.1 -0.6C30.1 -0.6 27.3 -1.4 25.9 -2.8C24.5 -4.2 23.8 -7.0 23.8 -9.0C23.8 -11.0 24.6 -13.7 25.9 -15.1C27.3 -16.6 30.1 -17.7 32.1 -17.6C34.1 -17.6 36.5 -16.2 37.8 -14.8C39.2 -13.3 40.2 -10.9 40.3 -9.0ZM-23.2 4.0C-23.2 6.0 -24.2 8.4 -25.5 9.8C-26.9 11.2 -29.4 12.6 -31.3 12.6C-33.3 12.6 -35.7 11.3 -37.2 9.9C-38.7 8.4 -40.1 6.0 -40.1 4.0C-40.2 2.0 -38.8 -0.6 -37.3 -2.0C-35.9 -3.4 -33.4 -4.3 -31.3 -4.3C-29.3 -4.4 -26.5 -3.6 -25.1 -2.2C-23.8 -0.8 -23.1 2.0 -23.2 4.0ZM-9.2 4.0C-9.3 6.0 -10.7 8.4 -12.1 9.7C-13.6 11.1 -15.9 12.1 -17.9 12.2C-19.9 12.3 -22.7 11.6 -24.2 10.3C-25.6 8.9 -26.6 6.0 -26.5 4.0C-26.5 2.0 -25.2 -0.5 -23.7 -1.8C-22.3 -3.2 -19.9 -4.1 -17.9 -4.2C-15.9 -4.2 -13.0 -3.7 -11.6 -2.3C-10.1 -0.9 -9.1 2.0 -9.2 4.0ZM9.4 4.0C9.4 6.0 7.9 8.4 6.5 9.8C5.0 11.2 2.6 12.6 0.7 12.6C-1.3 12.6 -3.9 11.4 -5.3 9.9C-6.6 8.5 -7.6 6.0 -7.6 4.0C-7.6 2.0 -6.6 -0.5 -5.2 -1.9C-3.9 -3.3 -1.3 -4.6 0.7 -4.6C2.6 -4.6 5.1 -3.4 6.6 -1.9C8.0 -0.5 9.5 2.0 9.4 4.0ZM23.7 4.0C23.8 6.0 23.1 8.8 21.8 10.2C20.4 11.6 17.6 12.6 15.5 12.6C13.5 12.6 10.8 11.6 9.3 10.2C7.9 8.8 7.1 6.1 7.1 4.0C7.1 1.9 7.9 -0.8 9.3 -2.2C10.7 -3.6 13.5 -4.5 15.5 -4.5C17.6 -4.5 20.2 -3.5 21.6 -2.1C23.0 -0.6 23.7 2.0 23.7 4.0ZM41.0 4.0C41.0 6.0 39.7 8.6 38.2 9.9C36.8 11.3 34.2 12.2 32.3 12.2C30.3 12.1 27.9 11.1 26.6 9.7C25.2 8.4 24.0 5.9 24.0 4.0C24.0 2.1 25.2 -0.3 26.6 -1.7C27.9 -3.2 30.3 -4.8 32.3 -4.8C34.2 -4.9 36.8 -3.5 38.3 -2.0C39.7 -0.5 41.0 2.0 41.0 4.0ZM-14.9 17.0C-14.9 19.0 -15.6 21.5 -17.0 23.0C-18.3 24.5 -20.9 25.8 -23.0 25.8C-25.0 25.8 -27.6 24.6 -29.0 23.1C-30.4 21.6 -31.4 19.0 -31.4 17.0C-31.4 15.0 -30.4 12.4 -28.9 11.0C-27.5 9.7 -24.9 8.8 -23.0 8.8C-21.0 8.9 -18.5 9.8 -17.2 11.2C-15.8 12.6 -14.9 15.0 -14.9 17.0ZM-1.0 17.0C-1.0 19.0 -2.0 21.5 -3.4 22.9C-4.8 24.4 -7.4 25.8 -9.4 25.8C-11.3 25.8 -13.8 24.3 -15.2 22.8C-16.5 21.3 -17.6 18.9 -17.7 17.0C-17.7 15.1 -16.6 12.5 -15.2 11.1C-13.9 9.8 -11.3 8.8 -9.4 8.8C-7.4 8.8 -4.9 9.7 -3.5 11.1C-2.1 12.5 -1.0 15.0 -1.0 17.0ZM15.4 17.0C15.4 19.0 14.1 21.3 12.7 22.7C11.3 24.2 8.9 25.8 6.9 25.9C5.0 25.9 2.5 24.4 1.0 22.9C-0.5 21.5 -1.9 19.0 -1.9 17.0C-2.0 15.0 -0.7 12.3 0.8 10.9C2.3 9.4 4.9 8.3 6.9 8.4C9.0 8.4 11.5 9.6 12.9 11.0C14.3 12.4 15.5 15.0 15.4 17.0ZM34.0 17.0C34.0 19.0 33.3 21.7 31.9 23.1C30.5 24.5 27.8 25.3 25.8 25.3C23.7 25.3 21.1 24.5 19.7 23.1C18.2 21.7 17.0 19.0 17.1 17.0C17.1 15.0 18.5 12.6 20.0 11.2C21.4 9.8 23.9 8.7 25.8 8.8C27.7 8.8 30.1 9.9 31.5 11.3C32.9 12.6 33.9 15.0 34.0 17.0ZM-8.9 30.0C-9.0 32.0 -9.8 34.5 -11.1 36.0C-12.5 37.4 -15.1 38.9 -17.1 38.9C-19.1 38.9 -21.6 37.4 -23.0 35.9C-24.4 34.4 -25.4 32.0 -25.4 30.0C-25.4 28.0 -24.5 25.4 -23.1 24.0C-21.7 22.6 -19.1 21.7 -17.1 21.7C-15.1 21.7 -12.3 22.5 -10.9 23.8C-9.6 25.2 -8.9 28.0 -8.9 30.0ZM9.1 30.0C9.1 31.9 8.1 34.4 6.7 35.9C5.4 37.3 2.9 38.6 0.9 38.6C-1.1 38.7 -4.0 37.7 -5.4 36.3C-6.8 34.8 -7.8 32.0 -7.8 30.0C-7.7 28.0 -6.5 25.5 -5.1 24.0C-3.7 22.5 -1.1 21.1 0.9 21.1C2.8 21.1 5.2 22.8 6.6 24.3C8.0 25.8 9.1 28.1 9.1 30.0ZM23.0 30.0C23.0 32.0 21.7 34.6 20.2 36.0C18.7 37.3 16.2 38.1 14.2 38.1C12.2 38.1 9.7 37.4 8.2 36.0C6.7 34.7 5.3 32.0 5.3 30.0C5.3 28.0 6.7 25.4 8.2 24.0C9.7 22.6 12.3 21.6 14.2 21.6C16.2 21.7 18.6 22.8 20.0 24.2C21.5 25.6 22.9 28.0 23.0 30.0ZM-0.9 43.0C-0.8 45.0 -2.2 47.5 -3.7 49.0C-5.2 50.5 -7.8 51.9 -9.7 51.9C-11.7 51.8 -14.1 50.2 -15.5 48.7C-16.8 47.3 -18.0 44.9 -18.0 43.0C-18.0 41.1 -16.8 38.7 -15.5 37.3C-14.1 35.9 -11.6 34.6 -9.7 34.6C-7.8 34.6 -5.4 35.9 -4.0 37.3C-2.5 38.7 -0.9 41.0 -0.9 43.0ZM15.4 43.0C15.4 45.0 14.3 47.5 12.9 48.9C11.5 50.2 9.0 51.1 7.0 51.1C5.1 51.1 2.8 50.1 1.3 48.7C-0.2 47.4 -1.9 44.9 -1.9 43.0C-1.9 41.1 -0.3 38.6 1.2 37.2C2.7 35.8 5.1 34.5 7.0 34.5C9.0 34.5 11.6 35.6 13.0 37.0C14.4 38.5 15.5 41.0 15.4 43.0ZM0.0 -30.0C0.7 -32.3 1.3 -40.7 4.0 -44.0C6.7 -47.3 14.0 -49.0 16.0 -50.0M4.0 -42.0C6.0 -45.0 17.3 -52.7 24.0 -52.0C30.7 -51.3 43.0 -41.7 44.0 -38.0C45.0 -34.3 35.3 -30.7 30.0 -30.0C24.7 -29.3 16.3 -32.0 12.0 -34.0C7.7 -36.0 2.0 -39.0 4.0 -42.0Z"/><path transform="translate(159.3 283.3) scale(0.451 0.483) rotate(-5)" d="M-22-22C-14-24 14-24 22-22C30-20 26-20 26-10C26 0 26 31 24 40C22 49 23 45 16 46C9 47-9 47-16 46C-23 45-22 49-24 40C-26 31-26 0-26-10C-26-20-30-20-22-22ZM-24-36L24-36L24-24L-24-24ZM-14 0L14 0L14 26L-14 26ZM-28-24C-26-23-22-16-18-16C-14-16-10-22-6-22C-2-22 2-15 6-15C10-15 14-22 18-22C22-22 26-17 28-16"/><path transform="translate(190.2 289.1) scale(0.501 0.449) rotate(5)" d="M-22-22C-14-24 14-24 22-22C30-20 26-20 26-10C26 0 26 31 24 40C22 49 23 45 16 46C9 47-9 47-16 46C-23 45-22 49-24 40C-26 31-26 0-26-10C-26-20-30-20-22-22ZM-24-36L24-36L24-24L-24-24ZM-14 0L14 0L14 26L-14 26ZM-28-24C-26-23-22-16-18-16C-14-16-10-22-6-22C-2-22 2-15 6-15C10-15 14-22 18-22C22-22 26-17 28-16"/><path transform="translate(70.3 321.1) scale(0.584 0.636) rotate(-10)" d="M-30.0 -10.0L30.0 -10.0L30.0 44.0L-30.0 44.0ZM-12.0 -30.0L12.0 -30.0L12.0 -10.0L-12.0 -10.0ZM-18.0 4.0L18.0 4.0L18.0 32.0L-18.0 32.0ZM-10.0 -40.0L10.0 -40.0L10.0 -30.0L-10.0 -30.0Z"/><path transform="translate(122.0 302.3) scale(0.651 0.424) rotate(5)" d="M-30.0 -10.0L30.0 -10.0L30.0 44.0L-30.0 44.0ZM-12.0 -30.0L12.0 -30.0L12.0 -10.0L-12.0 -10.0ZM-18.0 4.0L18.0 4.0L18.0 32.0L-18.0 32.0ZM-10.0 -40.0L10.0 -40.0L10.0 -30.0L-10.0 -30.0Z"/><path transform="translate(19.8 357.1) scale(0.536 0.700) rotate(-5)" d="M-46.0 -4.0L46.0 -14.0L46.0 36.0L-46.0 46.0ZM-46.0 12.0L46.0 2.0M-46.0 28.0L46.0 18.0M-30.0 -6.0L-30.0 44.0M28.0 -12.0L28.0 38.0M-22.0 -16.0C-22.1 -13.7 -23.6 -10.9 -25.3 -9.3C-27.0 -7.7 -29.8 -6.2 -32.0 -6.2C-34.2 -6.2 -37.1 -7.6 -38.7 -9.3C-40.4 -10.9 -41.9 -13.6 -42.1 -16.0C-42.2 -18.4 -41.1 -21.7 -39.4 -23.4C-37.8 -25.1 -34.5 -26.1 -32.0 -26.1C-29.5 -26.1 -26.3 -25.1 -24.6 -23.4C-23.0 -21.7 -21.9 -18.3 -22.0 -16.0ZM-4.3 -20.0C-4.4 -17.7 -5.7 -15.0 -7.3 -13.3C-8.9 -11.7 -11.7 -10.0 -14.0 -10.0C-16.3 -9.9 -19.4 -11.3 -21.1 -12.9C-22.7 -14.6 -24.1 -17.7 -24.1 -20.0C-24.1 -22.3 -22.6 -25.3 -21.0 -27.0C-19.3 -28.7 -16.4 -30.1 -14.0 -30.2C-11.6 -30.2 -8.3 -29.0 -6.7 -27.3C-5.1 -25.6 -4.2 -22.3 -4.3 -20.0ZM14.5 -22.0C14.5 -19.7 12.7 -16.7 10.9 -15.1C9.2 -13.4 6.4 -12.1 4.0 -12.1C1.6 -12.0 -1.7 -13.0 -3.3 -14.7C-5.0 -16.3 -5.8 -19.7 -5.7 -22.0C-5.6 -24.3 -4.4 -27.1 -2.7 -28.7C-1.1 -30.4 1.8 -31.8 4.0 -31.8C6.2 -31.8 9.0 -30.4 10.7 -28.7C12.5 -27.1 14.5 -24.3 14.5 -22.0ZM32.3 -24.0C32.4 -21.6 31.1 -18.3 29.3 -16.7C27.6 -15.0 24.3 -14.1 22.0 -14.2C19.7 -14.3 16.8 -15.6 15.2 -17.2C13.7 -18.9 12.5 -21.7 12.5 -24.0C12.5 -26.3 13.6 -29.3 15.1 -30.9C16.7 -32.4 19.7 -33.5 22.0 -33.5C24.3 -33.5 27.3 -32.6 29.0 -31.0C30.7 -29.4 32.3 -26.4 32.3 -24.0ZM48.1 -26.0C48.1 -23.7 46.5 -20.7 44.9 -19.1C43.2 -17.6 40.3 -16.6 38.0 -16.5C35.7 -16.5 32.3 -17.2 30.8 -18.8C29.2 -20.3 28.5 -23.7 28.5 -26.0C28.6 -28.3 29.6 -31.2 31.2 -32.8C32.8 -34.4 35.7 -35.7 38.0 -35.7C40.3 -35.8 43.3 -34.6 45.0 -33.0C46.6 -31.3 48.1 -28.3 48.1 -26.0ZM-12.5 -30.0C-12.5 -27.6 -13.4 -24.6 -15.0 -23.0C-16.6 -21.4 -19.6 -20.3 -22.0 -20.2C-24.4 -20.2 -27.6 -21.1 -29.3 -22.7C-31.0 -24.3 -32.0 -27.6 -32.1 -30.0C-32.1 -32.4 -31.1 -35.7 -29.4 -37.4C-27.7 -39.1 -24.4 -40.2 -22.0 -40.2C-19.6 -40.2 -16.3 -39.0 -14.7 -37.3C-13.1 -35.6 -12.4 -32.4 -12.5 -30.0ZM6.1 -34.0C6.1 -31.7 4.7 -28.7 3.0 -27.0C1.3 -25.2 -1.6 -23.7 -4.0 -23.6C-6.4 -23.6 -9.4 -25.1 -11.2 -26.8C-13.0 -28.5 -14.5 -31.6 -14.5 -34.0C-14.6 -36.4 -13.0 -39.6 -11.3 -41.3C-9.5 -43.0 -6.4 -44.3 -4.0 -44.2C-1.6 -44.2 1.2 -42.6 2.9 -40.9C4.6 -39.2 6.1 -36.3 6.1 -34.0ZM24.4 -36.0C24.4 -33.7 22.7 -30.6 21.0 -29.0C19.2 -27.4 16.3 -26.4 14.0 -26.4C11.7 -26.5 8.9 -27.7 7.3 -29.3C5.7 -30.9 4.4 -33.7 4.4 -36.0C4.4 -38.3 5.5 -41.2 7.1 -42.9C8.7 -44.6 11.7 -46.2 14.0 -46.2C16.3 -46.2 19.2 -44.6 20.9 -42.9C22.6 -41.2 24.4 -38.3 24.4 -36.0ZM39.5 -38.0C39.5 -35.6 38.9 -32.4 37.3 -30.7C35.7 -29.0 32.3 -27.8 30.0 -27.9C27.7 -28.0 24.9 -29.7 23.3 -31.3C21.8 -33.0 20.6 -35.8 20.5 -38.0C20.5 -40.2 21.7 -43.1 23.2 -44.8C24.8 -46.4 27.6 -47.7 30.0 -47.8C32.4 -47.9 35.8 -47.0 37.4 -45.4C39.0 -43.7 39.5 -40.4 39.5 -38.0ZM14.5 -46.0C14.5 -43.6 12.9 -40.4 11.2 -38.8C9.4 -37.2 6.4 -36.3 4.0 -36.3C1.6 -36.3 -1.4 -37.4 -3.0 -39.0C-4.6 -40.6 -5.8 -43.7 -5.8 -46.0C-5.8 -48.3 -4.6 -51.4 -2.9 -52.9C-1.3 -54.5 1.7 -55.4 4.0 -55.4C6.3 -55.5 9.4 -54.7 11.1 -53.1C12.9 -51.6 14.5 -48.4 14.5 -46.0ZM-1.6 -44.0C-1.6 -41.5 -3.0 -38.3 -4.7 -36.7C-6.5 -35.2 -9.6 -34.5 -12.0 -34.5C-14.4 -34.5 -17.5 -35.3 -19.1 -36.9C-20.7 -38.5 -21.6 -41.6 -21.6 -44.0C-21.6 -46.4 -20.8 -49.6 -19.2 -51.2C-17.6 -52.9 -14.4 -53.9 -12.0 -53.9C-9.6 -54.0 -6.3 -53.1 -4.6 -51.4C-2.8 -49.8 -1.6 -46.5 -1.6 -44.0Z"/><path transform="translate(51.0 407.5) scale(0.474 0.396) rotate(0)" d="M0-28C7-28 15-40 22-38C29-36 40-25 42-15C44-5 41 12 36 22C31 32 18 40 12 42C6 44 4 36 0 36C-4 36-6 44-12 42C-18 40-31 32-36 22C-41 12-44-5-42-15C-40-25-29-36-22-38C-15-40-7-28 0-28ZM0-28C0-30 2-38 3-42C4-46 7-49 8-50M6-44C6-47 17-55 22-56C27-57 38-51 38-48C38-45 27-41 22-40C17-39 6-41 6-44Z"/><path transform="translate(7.1 419.2) scale(0.392 0.432) rotate(10)" d="M-2 26C-2 29-4 33-6 36C-8 38-12 41-15 42C-19 42-23 42-26 40C-29 39-32 35-33 32C-34 28-34 24-33 21C-32 17-29 14-26 12C-23 10-19 9-15 10C-12 10-8 13-5 15C-3 18-1 23-2 26ZM35 30C35 33 34 38 32 40C30 43 26 44 23 45C19 45 16 44 13 42C10 41 7 38 6 35C4 32 5 28 6 25C7 22 10 19 13 18C16 16 20 14 23 14C26 15 29 18 31 21C33 23 35 27 35 30ZM-16 10C-14 5-8-11-4-20C0-29 8-40 10-44M20 15C19 10 18-6 16-16C14-26 11-39 10-44M10-44C10-47 24-54 30-54C36-54 46-47 46-44C46-41 36-36 30-36C24-36 10-41 10-44Z"/><path transform="translate(380.8 246.7) scale(0.495 0.491) rotate(-15)" d="M-46-6C-43-1-38 19-30 26C-22 33-10 38 0 38C10 38 22 33 30 26C38 19 43-1 46-6ZM-36-6C-34-2-28 12-22 18C-16 24-7 28 0 28C7 28 16 24 22 18C28 12 34-2 36-6M0-4L26 10M0-4L15 22M0-4L0 26M0-4L-15 22M0-4L-26 10"/><path transform="translate(14.9 191.5) scale(0.527 0.532) rotate(-60)" d="M-48 0C-48-5-30-13-20-16C-10-19 4-20 15-17C26-14 48-5 48 0C48 5 26 13 15 15C4 17-10 16-20 14C-30 12-48 5-48 0ZM-48 0C-40 0-16 1 0 1C16 1 40 0 48 0M-22 0L-12-11M-22 0L-12 10M-4 0L6-11M-4 0L6 10M14 0L24-11M14 0L24 10"/><path transform="translate(43.0 282.9) scale(0.320 0.500) rotate(20)" d="M-48 0C-48-5-30-13-20-16C-10-19 4-20 15-17C26-14 48-5 48 0C48 5 26 13 15 15C4 17-10 16-20 14C-30 12-48 5-48 0ZM-48 0C-40 0-16 1 0 1C16 1 40 0 48 0M-22 0L-12-11M-22 0L-12 10M-4 0L6-11M-4 0L6 10M14 0L24-11M14 0L24 10"/><path transform="translate(307.3 190.8) scale(0.643 0.797) rotate(0)" d="M-12.9 0.0C-12.9 1.8 -14.2 4.2 -15.7 5.5C-17.1 6.7 -19.9 7.8 -21.7 7.3C-23.4 6.9 -25.5 4.7 -26.2 3.0C-26.9 1.3 -26.7 -1.3 -25.9 -2.9C-25.2 -4.4 -23.2 -6.1 -21.5 -6.5C-19.8 -6.9 -17.3 -6.2 -15.9 -5.1C-14.5 -4.1 -12.9 -1.8 -12.9 0.0ZM8.1 -8.0C8.0 -5.8 6.5 -3.3 4.8 -1.9C3.2 -0.6 0.1 0.7 -1.9 0.2C-3.8 -0.3 -6.0 -2.8 -6.8 -4.7C-7.7 -6.6 -7.9 -9.6 -7.0 -11.4C-6.1 -13.2 -3.8 -14.8 -1.7 -15.4C0.4 -16.0 3.8 -16.1 5.5 -14.9C7.1 -13.6 8.2 -10.2 8.1 -8.0ZM27.5 4.0C27.5 5.9 26.2 8.7 24.7 9.9C23.2 11.0 20.2 11.5 18.4 11.0C16.6 10.5 14.5 8.6 13.8 7.0C13.1 5.3 13.4 2.9 14.1 1.2C14.9 -0.5 16.6 -2.8 18.3 -3.3C20.0 -3.7 22.8 -2.7 24.4 -1.5C25.9 -0.2 27.4 2.1 27.5 4.0Z"/><path transform="translate(55.0 440.1) scale(0.340 0.527) rotate(-30)" d="M-48 0C-48-5-30-13-20-16C-10-19 4-20 15-17C26-14 48-5 48 0C48 5 26 13 15 15C4 17-10 16-20 14C-30 12-48 5-48 0ZM-48 0C-40 0-16 1 0 1C16 1 40 0 48 0M-22 0L-12-11M-22 0L-12 10M-4 0L6-11M-4 0L6 10M14 0L24-11M14 0L24 10"/><path transform="translate(315.0 341.6) scale(0.311 0.487) rotate(10)" d="M-48 0C-48-5-30-13-20-16C-10-19 4-20 15-17C26-14 48-5 48 0C48 5 26 13 15 15C4 17-10 16-20 14C-30 12-48 5-48 0ZM-48 0C-40 0-16 1 0 1C16 1 40 0 48 0M-22 0L-12-11M-22 0L-12 10M-4 0L6-11M-4 0L6 10M14 0L24-11M14 0L24 10"/><path transform="translate(135.0 38.2) scale(0.500 0.682) rotate(0)" d="M-30.0 10.0C-26.7 6.7 -16.7 -9.7 -10.0 -10.0C-3.3 -10.3 3.3 8.3 10.0 8.0C16.7 7.7 26.7 -8.7 30.0 -12.0"/><path transform="translate(31.6 215.1) scale(0.493 0.637) rotate(0)" d="M-13.6 0.0C-13.7 1.8 -14.6 4.1 -15.9 5.1C-17.2 6.2 -19.7 6.6 -21.4 6.3C-23.2 6.0 -25.7 4.8 -26.6 3.2C-27.5 1.6 -27.7 -1.7 -26.8 -3.3C-26.0 -4.9 -23.4 -6.0 -21.5 -6.4C-19.6 -6.8 -16.7 -6.9 -15.4 -5.8C-14.1 -4.7 -13.6 -1.8 -13.6 0.0ZM7.7 -8.0C7.8 -6.0 6.8 -2.9 5.2 -1.5C3.6 -0.1 0.2 0.9 -1.9 0.4C-4.0 -0.1 -6.4 -2.4 -7.4 -4.4C-8.3 -6.5 -8.6 -9.8 -7.6 -11.7C-6.7 -13.5 -3.8 -15.3 -1.7 -15.6C0.3 -15.9 2.9 -14.9 4.5 -13.6C6.1 -12.4 7.6 -10.0 7.7 -8.0ZM27.0 4.0C27.1 5.8 25.9 8.5 24.4 9.6C23.0 10.6 20.3 10.8 18.5 10.4C16.8 10.0 14.6 8.5 13.8 7.0C13.1 5.4 13.1 2.6 13.9 1.1C14.7 -0.5 16.9 -1.8 18.6 -2.2C20.3 -2.6 22.8 -2.3 24.2 -1.3C25.6 -0.2 27.0 2.2 27.0 4.0Z"/><path transform="translate(251.6 178.2) scale(0.244 0.261) rotate(20)" d="M43 0C43 6 39 12 34 17C28 21 17 26 8 27C-1 28-13 25-22 22C-30 19-42 15-45 10C-49 4-48-4-44-10C-40-15-32-22-24-24C-15-27-2-28 8-27C18-25 29-22 35-17C41-13 43-6 43 0ZM-12-4C-12-4-12-3-12-3C-13-2-13-2-13-2C-14-2-14-2-15-2C-15-2-15-2-16-3C-16-3-16-4-16-4C-16-4-16-5-16-5C-15-5-15-6-15-6C-14-6-14-6-13-6C-13-6-13-6-12-5C-12-5-12-4-12-4ZM10 6C10 6 10 7 10 7C9 8 9 8 9 8C8 8 8 8 7 8C7 8 6 8 6 7C6 7 6 6 6 6C6 6 6 5 6 5C7 4 7 4 7 4C8 4 8 4 9 4C9 4 9 4 10 5C10 5 10 6 10 6ZM22-8C22-8 22-7 22-7C21-6 21-6 21-6C20-6 20-6 19-6C19-6 19-6 18-7C18-7 18-8 18-8C18-8 18-9 18-9C19-10 19-10 19-10C20-10 20-10 21-10C21-10 21-10 22-9C22-9 22-8 22-8Z"/><path transform="translate(111.0 140.0) scale(0.274 0.287) rotate(40)" d="M-48 0C-48-5-30-13-20-16C-10-19 4-20 15-17C26-14 48-5 48 0C48 5 26 13 15 15C4 17-10 16-20 14C-30 12-48 5-48 0ZM-48 0C-40 0-16 1 0 1C16 1 40 0 48 0M-22 0L-12-11M-22 0L-12 10M-4 0L6-11M-4 0L6 10M14 0L24-11M14 0L24 10"/><path transform="translate(331.5 206.2) scale(0.450 0.703) rotate(0)" d="M-30.0 10.0C-26.7 6.7 -16.7 -9.7 -10.0 -10.0C-3.3 -10.3 3.3 8.3 10.0 8.0C16.7 7.7 26.7 -8.7 30.0 -12.0"/><path transform="translate(706.2 50.0) scale(1.193 0.763) rotate(4)" d="M-50.0 4.0C-50.0 0.7 -52.3 -5.3 -44.0 -8.0C-35.7 -10.7 -14.7 -12.0 0.0 -12.0C14.7 -12.0 35.7 -10.5 44.0 -8.0C52.3 -5.5 50.0 -0.3 50.0 3.0C50.0 6.3 52.3 10.8 44.0 12.0C35.7 13.2 14.7 10.0 0.0 10.0C-14.7 10.0 -35.7 13.0 -44.0 12.0C-52.3 11.0 -50.0 7.3 -50.0 4.0ZM-30.0 -8.0C-29.2 -6.7 -27.0 -2.3 -25.0 0.0C-23.0 2.3 -19.2 5.0 -18.0 6.0M-12.0 -8.0C-11.2 -6.7 -9.0 -2.3 -7.0 0.0C-5.0 2.3 -1.2 5.0 0.0 6.0M6.0 -8.0C6.8 -6.7 9.0 -2.3 11.0 0.0C13.0 2.3 16.8 5.0 18.0 6.0M24.0 -8.0C24.8 -6.7 27.0 -2.3 29.0 0.0C31.0 2.3 34.8 5.0 36.0 6.0"/><path transform="translate(787.9 77.4) scale(0.400 0.436) rotate(0)" d="M45 0C45 7 42 16 38 22C34 28 28 34 22 38C16 41 7 43 0 43C-7 43-16 41-22 38C-28 34-34 28-37 22C-41 15-44 7-44 0C-45-7-43-16-39-22C-35-29-29-35-22-39C-16-43-7-44 0-44C7-44 16-42 22-38C28-34 33-28 37-22C41-15 45-7 45 0ZM36 0C36 6 34 13 31 18C28 23 23 29 18 32C13 34 6 36 0 36C-6 36-13 35-18 32C-24 29-28 23-31 18C-34 12-36 6-36 0C-36-6-34-12-31-18C-28-23-23-28-18-31C-13-35-6-37 0-37C6-37 12-34 18-31C23-27 28-23 31-18C35-13 36-6 36 0ZM4 1L33 7M2 3L19 28M-1 4L-7 33M-3 2L-28 19M-4-1L-33-7M-2-3L-19-28M1-4L7-33M3-2L28-19"/><path transform="translate(841.0 62.0) scale(0.425 0.450) rotate(0)" d="M45 0C45 7 41 16 38 22C34 28 28 33 21 37C15 41 7 44 0 44C-7 44-16 42-22 39C-29 35-35 29-39 22C-43 16-45 7-45 0C-44-7-42-16-38-22C-34-28-28-34-22-38C-16-42-7-44 0-44C7-44 16-43 22-39C29-35 34-28 38-22C41-15 45-7 45 0ZM36 0C36 6 34 13 31 18C28 24 24 29 18 32C13 35 6 36 0 35C-6 35-12 33-18 30C-23 27-27 23-30 18C-34 12-36 6-36 0C-36-6-34-13-31-18C-28-23-23-28-18-31C-12-34-6-35 0-35C6-36 13-34 18-31C23-28 28-23 32-18C34-13 36-6 36 0ZM4 1L33 7M2 3L19 28M-1 4L-7 33M-3 2L-28 19M-4-1L-33-7M-2-3L-19-28M1-4L7-33M3-2L28-19"/><path transform="translate(801.4 86.3) scale(0.530 0.452) rotate(10)" d="M-46-6C-43-1-38 19-30 26C-22 33-10 38 0 38C10 38 22 33 30 26C38 19 43-1 46-6ZM-36-6C-34-2-28 12-22 18C-16 24-7 28 0 28C7 28 16 24 22 18C28 12 34-2 36-6M0-4L26 10M0-4L15 22M0-4L0 26M0-4L-15 22M0-4L-26 10"/><path transform="translate(878.0 46.1) scale(0.438 0.481) rotate(-25)" d="M-48 0C-48-5-30-13-20-16C-10-19 4-20 15-17C26-14 48-5 48 0C48 5 26 13 15 15C4 17-10 16-20 14C-30 12-48 5-48 0ZM-48 0C-40 0-16 1 0 1C16 1 40 0 48 0M-22 0L-12-11M-22 0L-12 10M-4 0L6-11M-4 0L6 10M14 0L24-11M14 0L24 10"/><path transform="translate(909.0 54.0) scale(0.474 0.345) rotate(-40)" d="M-48 0C-48-5-30-13-20-16C-10-19 4-20 15-17C26-14 48-5 48 0C48 5 26 13 15 15C4 17-10 16-20 14C-30 12-48 5-48 0ZM-48 0C-40 0-16 1 0 1C16 1 40 0 48 0M-22 0L-12-11M-22 0L-12 10M-4 0L6-11M-4 0L6 10M14 0L24-11M14 0L24 10"/><path transform="translate(828.3 142.2) scale(0.657 0.823) rotate(20)" d="M-40.0 -40.0L40.0 -40.0L0.0 2.0ZM0.0 2.0L0.0 40.0M-22.0 42.0C-22.0 40.5 -7.3 38.0 0.0 38.0C7.3 38.0 22.0 40.5 22.0 42.0C22.0 43.5 7.3 47.0 0.0 47.0C-7.3 47.0 -22.0 43.5 -22.0 42.0ZM-28.0 -28.0L28.0 -28.0M14.1 -18.0C14.1 -16.8 13.7 -15.3 13.0 -14.4C12.3 -13.5 10.9 -12.9 9.8 -12.6C8.6 -12.2 7.3 -12.0 6.1 -12.3C5.0 -12.6 3.7 -13.4 3.0 -14.3C2.2 -15.3 1.6 -16.8 1.7 -18.0C1.7 -19.2 2.5 -20.5 3.3 -21.4C4.0 -22.4 5.0 -23.6 6.1 -23.9C7.2 -24.3 8.7 -24.2 9.9 -23.8C11.1 -23.4 12.4 -22.7 13.1 -21.7C13.8 -20.7 14.2 -19.2 14.1 -18.0ZM8.0 -18.0L30.0 -52.0"/><path transform="translate(890.4 113.1) scale(0.891 1.074) rotate(-25)" d="M47.2 0.0C47.2 5.7 45.8 12.2 42.1 17.2C38.3 22.2 31.5 27.3 24.5 30.0C17.5 32.8 8.0 34.2 0.0 34.0C-8.0 33.7 -16.6 31.6 -23.4 28.7C-30.2 25.9 -36.9 21.5 -40.8 16.7C-44.7 11.9 -47.1 5.5 -47.0 0.0C-47.0 -5.5 -44.5 -11.8 -40.6 -16.6C-36.6 -21.4 -30.3 -25.9 -23.5 -28.8C-16.7 -31.8 -7.8 -34.2 -0.0 -34.2C7.8 -34.2 16.4 -31.6 23.4 -28.7C30.5 -25.9 38.2 -22.1 42.2 -17.3C46.2 -12.5 47.2 -5.7 47.2 0.0ZM38.5 0.0C38.7 4.2 36.7 9.1 33.5 12.7C30.3 16.4 24.9 19.9 19.3 22.0C13.8 24.1 6.5 25.3 0.0 25.3C-6.5 25.3 -13.8 24.3 -19.5 22.2C-25.1 20.1 -30.7 16.5 -33.8 12.8C-36.9 9.1 -38.3 4.3 -38.3 0.0C-38.3 -4.3 -37.1 -9.3 -33.8 -12.8C-30.5 -16.4 -24.2 -19.2 -18.5 -21.1C-12.9 -23.1 -6.2 -24.4 -0.0 -24.4C6.2 -24.4 13.1 -23.1 18.5 -21.1C23.9 -19.1 29.0 -15.8 32.3 -12.3C35.7 -8.8 38.3 -4.2 38.5 0.0ZM-30.0 0.0C-30.0 -4.7 -17.7 -12.3 -10.0 -14.0C-2.3 -15.7 10.0 -12.3 16.0 -10.0C22.0 -7.7 23.0 0.0 26.0 0.0C29.0 0.0 32.7 -11.7 34.0 -10.0C35.3 -8.3 35.3 8.3 34.0 10.0C32.7 11.7 29.0 0.0 26.0 0.0C23.0 0.0 22.0 7.7 16.0 10.0C10.0 12.3 -2.3 15.7 -10.0 14.0C-17.7 12.3 -30.0 4.7 -30.0 0.0ZM-15.0 -3.0C-15.1 -2.4 -15.3 -1.7 -15.6 -1.2C-15.9 -0.8 -16.5 -0.3 -17.1 -0.1C-17.6 0.1 -18.4 0.1 -19.0 -0.1C-19.5 -0.3 -20.0 -0.8 -20.3 -1.3C-20.6 -1.8 -20.9 -2.4 -21.0 -3.0C-21.0 -3.6 -20.8 -4.3 -20.4 -4.8C-20.1 -5.2 -19.5 -5.7 -18.9 -5.8C-18.4 -6.0 -17.7 -5.9 -17.1 -5.7C-16.6 -5.6 -15.9 -5.2 -15.5 -4.8C-15.2 -4.3 -15.0 -3.6 -15.0 -3.0ZM7.9 0.0C8.0 1.2 7.6 2.7 7.0 3.6C6.3 4.6 5.0 5.3 3.9 5.7C2.7 6.1 1.2 6.4 0.0 6.0C-1.1 5.7 -2.5 4.7 -3.1 3.7C-3.7 2.7 -3.7 1.2 -3.7 0.0C-3.7 -1.2 -3.6 -2.7 -3.0 -3.6C-2.4 -4.6 -1.0 -5.5 0.1 -5.9C1.2 -6.2 2.7 -6.0 3.8 -5.6C4.9 -5.2 5.9 -4.3 6.6 -3.4C7.3 -2.4 7.9 -1.2 7.9 0.0ZM4.5 0.0C4.5 0.5 4.3 1.0 4.0 1.4C3.7 1.9 3.3 2.3 2.8 2.4C2.3 2.6 1.7 2.7 1.2 2.5C0.7 2.3 0.3 1.9 0.0 1.4C-0.3 1.0 -0.4 0.5 -0.4 0.0C-0.4 -0.5 -0.3 -1.1 -0.0 -1.5C0.3 -1.9 0.7 -2.3 1.2 -2.4C1.7 -2.6 2.3 -2.6 2.8 -2.5C3.3 -2.3 3.8 -1.9 4.0 -1.5C4.3 -1.1 4.5 -0.5 4.5 0.0Z"/><path transform="translate(949.3 121.0) scale(1.011 1.580) rotate(55)" d="M33.1 -12.0C32.9 -7.5 25.5 -4.1 24.0 1.3C22.6 6.7 26.7 17.2 24.3 20.5C22.0 23.7 14.2 18.8 10.1 20.6C6.1 22.4 3.4 31.4 0.0 31.4C-3.4 31.3 -6.1 22.3 -10.0 20.3C-13.9 18.2 -20.9 22.2 -23.3 19.1C-25.8 16.0 -23.2 6.9 -24.8 1.7C-26.3 -3.5 -32.7 -7.5 -32.6 -12.0C-32.4 -16.5 -25.5 -20.1 -23.9 -25.2C-22.3 -30.3 -25.4 -39.6 -23.1 -42.8C-20.8 -46.0 -13.9 -41.9 -10.1 -44.5C-6.2 -47.1 -3.4 -58.3 -0.0 -58.4C3.4 -58.4 6.2 -47.1 10.1 -44.6C14.1 -42.2 21.0 -46.5 23.6 -43.4C26.1 -40.3 23.8 -31.2 25.4 -26.0C26.9 -20.8 33.3 -16.5 33.1 -12.0ZM0.0 50.0C0.0 43.3 -0.3 25.7 0.0 10.0C0.3 -5.7 1.7 -35.0 2.0 -44.0M0.0 -24.0C-2.7 -26.0 -13.3 -34.0 -16.0 -36.0M0.0 -24.0C2.7 -26.0 13.3 -34.0 16.0 -36.0M0.0 -10.0C-2.7 -12.0 -13.3 -20.0 -16.0 -22.0M0.0 -10.0C2.7 -12.0 13.3 -20.0 16.0 -22.0M0.0 4.0C-2.7 2.0 -13.3 -6.0 -16.0 -8.0M0.0 4.0C2.7 2.0 13.3 -6.0 16.0 -8.0M0.0 16.0C-2.7 14.0 -13.3 6.0 -16.0 4.0M0.0 16.0C2.7 14.0 13.3 6.0 16.0 4.0M-5.0 50.0C-5.0 45.7 -5.0 28.3 -5.0 24.0M5.0 50.0C5.0 45.7 5.0 28.3 5.0 24.0"/><path transform="translate(1002.3 97.4) scale(1.461 1.079) rotate(20)" d="M32.6 -12.0C32.6 -7.5 25.5 -4.1 24.1 1.3C22.7 6.7 26.7 17.4 24.3 20.4C21.9 23.3 13.7 16.8 9.6 19.1C5.6 21.3 3.3 33.5 0.0 33.7C-3.3 33.8 -6.2 22.6 -10.0 20.1C-13.8 17.6 -20.6 21.7 -22.9 18.6C-25.2 15.4 -22.1 6.3 -23.8 1.2C-25.6 -3.9 -33.5 -7.6 -33.5 -12.0C-33.5 -16.4 -25.7 -20.0 -24.1 -25.3C-22.5 -30.6 -26.2 -40.7 -23.8 -43.7C-21.4 -46.7 -13.7 -41.2 -9.7 -43.2C-5.7 -45.2 -3.4 -55.4 -0.0 -55.9C3.4 -56.4 6.6 -48.0 10.5 -45.9C14.5 -43.9 21.4 -47.0 23.7 -43.5C26.0 -40.1 22.8 -30.7 24.3 -25.4C25.8 -20.2 32.7 -16.5 32.6 -12.0ZM0.0 50.0C0.0 43.3 -0.3 25.7 0.0 10.0C0.3 -5.7 1.7 -35.0 2.0 -44.0M0.0 -24.0C-2.7 -26.0 -13.3 -34.0 -16.0 -36.0M0.0 -24.0C2.7 -26.0 13.3 -34.0 16.0 -36.0M0.0 -10.0C-2.7 -12.0 -13.3 -20.0 -16.0 -22.0M0.0 -10.0C2.7 -12.0 13.3 -20.0 16.0 -22.0M0.0 4.0C-2.7 2.0 -13.3 -6.0 -16.0 -8.0M0.0 4.0C2.7 2.0 13.3 -6.0 16.0 -8.0M0.0 16.0C-2.7 14.0 -13.3 6.0 -16.0 4.0M0.0 16.0C2.7 14.0 13.3 6.0 16.0 4.0M-5.0 50.0C-5.0 45.7 -5.0 28.3 -5.0 24.0M5.0 50.0C5.0 45.7 5.0 28.3 5.0 24.0"/><path transform="translate(1117.5 81.7) scale(0.995 0.917) rotate(0)" d="M-14.8 24.0C-16.9 21.2 -23.2 12.6 -27.5 7.4C-31.9 2.2 -42.7 -7.2 -41.0 -7.2C-39.3 -7.2 -23.9 2.2 -17.5 7.4C-11.2 12.6 -5.3 21.2 -2.8 24.0M-11.6 24.0C-13.2 19.7 -18.3 6.4 -21.3 -1.9C-24.3 -10.3 -31.3 -25.9 -29.6 -25.9C-28.0 -25.9 -16.3 -10.3 -11.3 -1.9C-6.3 6.4 -1.5 19.7 0.4 24.0M-8.8 24.0C-9.6 18.8 -12.5 2.9 -13.7 -7.2C-14.8 -17.2 -17.4 -36.4 -15.8 -36.4C-14.1 -36.4 -6.8 -17.2 -3.7 -7.2C-0.5 2.9 2.1 18.8 3.2 24.0M-6.0 24.0C-5.8 18.5 -6.0 1.7 -5.0 -9.0C-4.0 -19.7 -1.7 -40.0 0.0 -40.0C1.7 -40.0 4.0 -19.7 5.0 -9.0C6.0 1.7 5.8 18.5 6.0 24.0M-3.2 24.0C-2.1 18.8 0.5 2.9 3.7 -7.2C6.8 -17.2 14.1 -36.4 15.8 -36.4C17.4 -36.4 14.8 -17.2 13.7 -7.2C12.5 2.9 9.6 18.8 8.8 24.0M-0.4 24.0C1.5 19.7 6.3 6.4 11.3 -1.9C16.3 -10.3 28.0 -25.9 29.6 -25.9C31.3 -25.9 24.3 -10.3 21.3 -1.9C18.3 6.4 13.2 19.7 11.6 24.0M2.8 24.0C5.3 21.2 11.2 12.6 17.5 7.4C23.9 2.2 39.3 -7.2 41.0 -7.2C42.7 -7.2 31.9 2.2 27.5 7.4C23.2 12.6 16.9 21.2 14.8 24.0M26.1 32.0C26.0 34.7 24.7 37.6 21.9 39.9C19.0 42.3 14.4 45.3 9.3 46.3C4.2 47.2 -3.6 46.7 -8.9 45.7C-14.2 44.7 -19.8 42.5 -22.7 40.2C-25.5 38.0 -26.1 34.7 -26.0 32.0C-25.9 29.3 -25.1 26.2 -22.3 23.9C-19.4 21.6 -14.2 18.9 -9.0 18.1C-3.9 17.2 3.2 17.9 8.6 18.8C13.9 19.8 20.1 21.5 23.0 23.6C25.9 25.8 26.3 29.3 26.1 32.0Z"/><path transform="translate(1190.3 67.5) scale(0.372 0.422) rotate(10)" d="M-30 20L0-30L30 20ZM-2 6C-2 6-2 7-2 7C-3 8-3 8-3 8C-4 8-4 8-5 8C-5 8-5 7-6 7C-6 7-6 6-6 6C-6 6-6 5-6 5C-5 4-5 4-5 4C-4 4-4 4-3 4C-3 4-2 4-2 5C-2 5-2 6-2 6ZM8 10C8 10 8 11 8 11C8 12 7 12 7 12C6 12 6 12 5 12C5 12 5 12 4 11C4 11 4 10 4 10C4 10 4 9 4 9C5 8 5 8 5 8C6 8 6 8 7 8C7 8 7 8 8 9C8 9 8 10 8 10ZM2-8C2-8 2-7 2-7C1-6 1-6 1-6C0-6 0-6-1-6C-1-6-1-6-2-7C-2-7-2-8-2-8C-2-8-2-9-2-9C-1-9-1-10-1-10C0-10 0-10 1-10C1-10 1-10 2-9C2-9 2-8 2-8Z"/><path transform="translate(1215.2 74.8) scale(0.479 0.524) rotate(-20)" d="M-30 20L0-30L30 20ZM-2 6C-2 6-2 7-2 7C-3 8-3 8-3 8C-4 8-4 8-5 8C-5 8-5 8-6 7C-6 7-6 6-6 6C-6 6-6 5-6 5C-5 4-5 4-5 4C-4 4-4 4-3 4C-3 4-2 4-2 5C-2 5-2 6-2 6ZM8 10C8 10 8 11 8 11C7 11 7 12 7 12C6 12 6 12 5 12C5 12 5 12 4 11C4 11 4 10 4 10C4 10 4 9 4 9C5 8 5 8 5 8C6 8 6 8 7 8C7 8 7 8 8 9C8 9 8 10 8 10ZM2-8C2-8 2-7 2-7C1-6 1-6 1-6C0-6 0-6-1-6C-1-6-1-6-2-7C-2-7-2-8-2-8C-2-8-2-9-2-9C-1-10-1-10-1-10C0-10 0-10 1-10C1-10 2-10 2-9C2-9 2-8 2-8Z"/><path transform="translate(1246.6 72.7) scale(0.462 0.412) rotate(30)" d="M-30 20L0-30L30 20ZM-2 6C-2 6-2 7-2 7C-3 8-3 8-3 8C-4 8-4 8-5 8C-5 8-5 8-6 7C-6 7-6 6-6 6C-6 6-6 5-6 5C-5 4-5 4-5 4C-4 4-4 4-3 4C-3 4-3 4-2 5C-2 5-2 6-2 6ZM8 10C8 10 8 11 8 11C7 12 7 12 7 12C6 12 6 12 5 12C5 12 5 11 4 11C4 11 4 10 4 10C4 10 4 9 4 9C5 9 5 8 5 8C6 8 6 8 7 8C7 8 7 9 8 9C8 9 8 10 8 10ZM2-8C2-8 2-7 2-7C1-6 1-6 1-6C0-6 0-6-1-6C-1-6-1-6-2-7C-2-7-2-8-2-8C-2-8-2-9-2-9C-1-10-1-10-1-10C0-10 0-10 1-10C1-10 2-10 2-9C2-9 2-8 2-8Z"/><path transform="translate(1203.0 98.4) scale(0.433 0.480) rotate(0)" d="M-30 20L0-30L30 20ZM-2 6C-2 6-2 7-2 7C-3 8-3 8-3 8C-4 8-4 8-5 8C-5 8-5 8-6 7C-6 7-6 6-6 6C-6 6-6 5-6 5C-5 4-5 4-5 4C-4 4-4 4-3 4C-3 4-3 4-2 5C-2 5-2 6-2 6ZM8 10C8 10 8 11 8 11C7 12 7 12 7 12C6 12 6 12 5 12C5 12 5 12 4 11C4 11 4 10 4 10C4 10 4 9 4 9C5 9 5 8 5 8C6 8 6 8 7 8C7 8 7 9 8 9C8 9 8 10 8 10ZM2-8C2-8 2-7 2-7C1-6 1-6 1-6C0-6 0-6-1-6C-1-6-1-6-2-7C-2-7-2-8-2-8C-2-8-2-9-2-9C-1-10-1-10-1-10C0-10 0-10 1-10C1-10 1-10 2-9C2-9 2-8 2-8Z"/><path transform="translate(1236.9 102.8) scale(0.426 0.384) rotate(20)" d="M-30 20L0-30L30 20ZM-2 6C-2 6-2 7-2 7C-3 8-3 8-3 8C-4 8-4 8-5 8C-5 8-6 8-6 7C-6 7-6 6-6 6C-6 6-6 5-6 5C-6 4-5 4-5 4C-4 4-4 4-3 4C-3 4-3 5-2 5C-2 5-2 6-2 6ZM8 10C8 10 8 11 8 11C7 12 7 12 7 12C6 12 6 12 5 12C5 12 5 12 4 11C4 11 4 10 4 10C4 10 4 9 4 9C4 8 5 8 5 8C6 8 6 8 7 8C7 8 7 9 8 9C8 9 8 10 8 10ZM2-8C2-8 2-7 2-7C1-6 1-6 1-6C0-6 0-6-1-6C-1-6-2-6-2-7C-2-7-2-8-2-8C-2-8-2-9-2-9C-1-9-1-10-1-10C0-10 0-10 1-10C1-10 1-9 2-9C2-9 2-8 2-8Z"/><path transform="translate(1184.3 130.9) scale(0.948 0.800) rotate(8)" d="M-44.0 6.0C-47.3 -0.7 -37.3 -11.3 -30.0 -16.0C-22.7 -20.7 -10.0 -22.3 0.0 -22.0C10.0 -21.7 22.3 -18.3 30.0 -14.0C37.7 -9.7 46.3 -1.7 46.0 4.0C45.7 9.7 37.3 16.7 28.0 20.0C18.7 23.3 2.0 26.3 -10.0 24.0C-22.0 21.7 -40.7 12.7 -44.0 6.0ZM-34.0 6.0C-36.0 2.2 -27.7 -5.0 -22.0 -8.0C-16.3 -11.0 -7.3 -12.3 0.0 -12.0C7.3 -11.7 16.3 -8.7 22.0 -6.0C27.7 -3.3 34.7 0.8 34.0 4.0C33.3 7.2 25.3 11.2 18.0 13.0C10.7 14.8 -1.3 16.2 -10.0 15.0C-18.7 13.8 -32.0 9.8 -34.0 6.0ZM2.0 2.0C2.0 4.1 0.8 6.9 -0.8 8.5C-2.5 10.0 -5.6 11.3 -8.0 11.4C-10.4 11.4 -13.6 10.1 -15.2 8.5C-16.8 6.9 -17.6 4.2 -17.6 2.0C-17.6 -0.2 -16.8 -2.9 -15.2 -4.5C-13.6 -6.0 -10.3 -7.4 -8.0 -7.3C-5.7 -7.3 -2.9 -5.7 -1.2 -4.1C0.5 -2.6 1.9 -0.1 2.0 2.0Z"/><path transform="translate(1251.0 174.8) scale(0.636 0.600) rotate(0)" d="M-24.0 -20.0C-15.0 -23.3 15.0 -23.3 24.0 -20.0C33.0 -16.7 29.7 -9.7 30.0 0.0C30.3 9.7 31.0 30.7 26.0 38.0C21.0 45.3 8.7 44.0 0.0 44.0C-8.7 44.0 -21.0 45.3 -26.0 38.0C-31.0 30.7 -30.3 9.7 -30.0 0.0C-29.7 -9.7 -33.0 -16.7 -24.0 -20.0ZM-22.0 -32.0L22.0 -32.0L22.0 -20.0L-22.0 -20.0ZM0.0 -32.0L22.0 -58.0M12.3 10.0C12.3 12.1 10.3 14.7 8.3 16.2C6.2 17.7 2.7 18.8 0.0 18.8C-2.7 18.8 -6.0 17.5 -8.1 16.0C-10.1 14.6 -12.2 12.1 -12.3 10.0C-12.4 7.9 -10.6 5.2 -8.5 3.6C-6.4 2.1 -2.8 0.6 -0.0 0.6C2.8 0.6 6.4 2.1 8.5 3.7C10.5 5.2 12.3 7.9 12.3 10.0Z"/><path transform="translate(882.9 214.1) scale(0.875 0.951) rotate(-5)" d="M-48.0 -14.0L40.0 -24.0L48.0 16.0L-40.0 26.0ZM-42.0 -9.0L36.0 -18.0L42.0 11.0L-35.0 20.0ZM0.0 -2.0C-6.0 -3.7 -10.7 -15.7 -14.0 -16.0C-17.3 -16.3 -22.3 -6.3 -20.0 -4.0C-17.7 -1.7 -5.7 0.3 0.0 -2.0C5.7 -4.3 10.3 -17.3 14.0 -18.0C17.7 -18.7 24.3 -8.7 22.0 -6.0C19.7 -3.3 6.0 -0.3 0.0 -2.0ZM0.0 -2.0C-1.7 1.3 -8.3 14.7 -10.0 18.0M0.0 -2.0C2.0 1.0 10.0 13.0 12.0 16.0M-30.0 2.0C-31.3 0.3 -34.0 -2.7 -34.0 -4.0C-34.0 -5.3 -31.3 -6.3 -30.0 -6.0C-28.7 -5.7 -27.3 -2.0 -26.0 -2.0C-24.7 -2.0 -23.2 -6.0 -22.0 -6.0C-20.8 -6.0 -18.3 -4.0 -19.0 -2.0C-19.7 0.0 -24.2 5.3 -26.0 6.0C-27.8 6.7 -28.7 3.7 -30.0 2.0ZM26.0 2.0C24.7 0.3 22.0 -2.7 22.0 -4.0C22.0 -5.3 24.7 -6.3 26.0 -6.0C27.3 -5.7 28.7 -2.0 30.0 -2.0C31.3 -2.0 32.8 -6.0 34.0 -6.0C35.2 -6.0 37.7 -4.0 37.0 -2.0C36.3 0.0 31.8 5.3 30.0 6.0C28.2 6.7 27.3 3.7 26.0 2.0Z"/><path transform="translate(967.3 209.5) scale(0.928 0.787) rotate(40)" d="M-48.0 -10.0C-48.0 -17.0 -31.3 -24.3 -20.0 -26.0C-8.7 -27.7 8.7 -25.3 20.0 -20.0C31.3 -14.7 47.7 -1.3 48.0 6.0C48.3 13.3 33.3 22.3 22.0 24.0C10.7 25.7 -8.3 21.7 -20.0 16.0C-31.7 10.3 -48.0 -3.0 -48.0 -10.0ZM-30.0 -6.0C-29.3 -9.3 -18.0 -13.7 -10.0 -14.0C-2.0 -14.3 11.3 -11.0 18.0 -8.0C24.7 -5.0 31.0 0.7 30.0 4.0C29.0 7.3 19.3 11.7 12.0 12.0C4.7 12.3 -7.0 9.0 -14.0 6.0C-21.0 3.0 -30.7 -2.7 -30.0 -6.0ZM-5.3 -4.0C-5.3 -2.9 -6.5 -1.3 -7.6 -0.7C-8.8 -0.2 -11.1 -0.2 -12.4 -0.7C-13.7 -1.2 -15.5 -2.9 -15.4 -4.0C-15.4 -5.1 -13.6 -6.7 -12.4 -7.3C-11.1 -7.8 -8.9 -7.7 -7.7 -7.2C-6.5 -6.6 -5.4 -5.1 -5.3 -4.0ZM6.9 0.0C6.8 1.1 5.5 2.6 4.3 3.2C3.1 3.7 0.8 3.9 -0.5 3.4C-1.7 2.9 -3.1 1.2 -3.1 0.0C-3.1 -1.2 -1.8 -3.0 -0.6 -3.6C0.7 -4.1 3.1 -3.8 4.3 -3.2C5.6 -2.6 6.9 -1.1 6.9 0.0ZM18.6 2.0C18.6 3.2 17.7 4.9 16.5 5.5C15.3 6.1 12.6 6.2 11.4 5.6C10.2 5.0 9.0 3.2 9.1 2.0C9.1 0.8 10.2 -0.9 11.5 -1.5C12.7 -2.1 15.5 -2.3 16.7 -1.7C17.9 -1.2 18.7 0.8 18.6 2.0Z"/><path transform="translate(1078.4 172.5) scale(0.908 0.852) rotate(0)" d="M47.9 0.0C47.9 5.6 40.6 10.8 37.8 16.6C34.9 22.5 35.4 31.5 30.7 35.1C26.0 38.7 16.5 36.5 9.5 38.2C2.6 39.9 -5.2 46.4 -11.3 45.1C-17.3 43.9 -21.2 34.9 -26.8 30.7C-32.4 26.5 -42.3 24.8 -44.9 19.7C-47.5 14.6 -42.4 6.6 -42.5 0.0C-42.6 -6.6 -47.8 -14.7 -45.3 -19.9C-42.8 -25.1 -33.2 -27.6 -27.4 -31.4C-21.7 -35.3 -16.9 -42.2 -10.8 -43.1C-4.7 -44.0 2.4 -38.2 9.2 -36.8C16.0 -35.4 25.3 -37.8 30.1 -34.5C34.9 -31.2 35.1 -22.5 38.1 -16.7C41.0 -11.0 48.0 -5.6 47.9 0.0ZM-38.0 13.5C-37.8 9.7 -40.0 -2.5 -37.3 -9.2C-34.6 -15.8 -28.3 -22.9 -21.8 -26.4C-15.4 -30.0 -5.8 -31.7 1.6 -30.6C9.0 -29.5 17.5 -25.1 22.5 -19.8C27.5 -14.5 31.3 -5.9 31.7 1.2C32.0 8.3 26.0 19.4 24.9 23.0M-28.0 10.4C-27.9 7.7 -29.4 -0.9 -27.5 -5.6C-25.6 -10.3 -21.2 -15.3 -16.6 -17.8C-12.0 -20.3 -5.3 -21.5 -0.1 -20.7C5.2 -19.9 11.2 -16.8 14.7 -13.1C18.3 -9.3 20.9 -3.3 21.2 1.7C21.4 6.8 17.2 14.5 16.4 17.1M-17.0 7.0C-16.9 5.6 -17.8 0.9 -16.7 -1.7C-15.7 -4.2 -13.3 -6.9 -10.8 -8.3C-8.3 -9.6 -4.7 -10.3 -1.9 -9.8C1.0 -9.4 4.2 -7.7 6.1 -5.7C8.1 -3.7 9.5 -0.4 9.6 2.3C9.8 5.0 7.5 9.3 7.0 10.6M-8.0 40.0C-7.0 35.0 -5.0 18.0 -2.0 10.0C1.0 2.0 8.0 -5.0 10.0 -8.0"/><path transform="translate(1038.8 234.7) scale(0.324 0.299) rotate(-10)" d="M0-24C8-24 18-33 24-30C30-27 37-17 36-8C35 1 24 17 18 26C12 35 6 44 0 44C-6 44-12 35-18 26C-24 17-35 1-36-8C-37-17-30-27-24-30C-18-33-8-24 0-24ZM-18-28L-8-40L0-28L8-40L18-28M0-40L0-50M-14-8L-12-5M10-10L12-7M-4 6L-2 9M14 10L16 13M-10 20L-8 23M2 26L4 29"/><path transform="translate(1056.1 248.6) scale(0.296 0.260) rotate(15)" d="M0-24C8-24 18-33 24-30C30-27 37-17 36-8C35 1 24 17 18 26C12 35 6 44 0 44C-6 44-12 35-18 26C-24 17-35 1-36-8C-37-17-30-27-24-30C-18-33-8-24 0-24ZM-18-28L-8-40L0-28L8-40L18-28M0-40L0-50M-14-8L-12-5M10-10L12-7M-4 6L-2 9M14 10L16 13M-10 20L-8 23M2 26L4 29"/><path transform="translate(1081.4 235.7) scale(0.270 0.278) rotate(10)" d="M0-24C8-24 18-33 24-30C30-27 37-17 36-8C35 1 24 17 18 26C12 35 6 44 0 44C-6 44-12 35-18 26C-24 17-35 1-36-8C-37-17-30-27-24-30C-18-33-8-24 0-24ZM-18-28L-8-40L0-28L8-40L18-28M0-40L0-50M-14-8L-12-5M10-10L12-7M-4 6L-2 9M14 10L16 13M-10 20L-8 23M2 26L4 29"/><path transform="translate(1149.3 214.6) scale(0.903 0.879) rotate(30)" d="M28.1 14.0C27.9 20.0 25.2 26.3 22.8 31.6C20.4 36.8 17.5 42.4 13.7 45.6C9.9 48.7 4.6 50.3 0.0 50.5C-4.6 50.7 -10.4 49.8 -14.1 46.6C-17.9 43.4 -20.2 36.7 -22.5 31.3C-24.8 25.9 -27.6 19.8 -27.7 14.0C-27.8 8.2 -25.5 1.3 -23.0 -3.7C-20.5 -8.7 -16.8 -12.8 -13.0 -15.9C-9.1 -19.1 -4.5 -22.1 -0.0 -22.5C4.5 -22.9 10.0 -21.3 14.0 -18.3C17.9 -15.2 21.2 -9.5 23.6 -4.1C25.9 1.2 28.2 8.0 28.1 14.0ZM-22.0 -4.0C-20.2 -5.0 -14.7 -10.0 -11.0 -10.0C-7.3 -10.0 -3.7 -4.0 0.0 -4.0C3.7 -4.0 7.3 -10.0 11.0 -10.0C14.7 -10.0 20.2 -5.0 22.0 -4.0M-22.0 10.0C-20.2 9.0 -14.7 4.0 -11.0 4.0C-7.3 4.0 -3.7 10.0 0.0 10.0C3.7 10.0 7.3 4.0 11.0 4.0C14.7 4.0 20.2 9.0 22.0 10.0M-22.0 24.0C-20.2 23.0 -14.7 18.0 -11.0 18.0C-7.3 18.0 -3.7 24.0 0.0 24.0C3.7 24.0 7.3 18.0 11.0 18.0C14.7 18.0 20.2 23.0 22.0 24.0M-22.0 38.0C-20.2 37.0 -14.7 32.0 -11.0 32.0C-7.3 32.0 -3.7 38.0 0.0 38.0C3.7 38.0 7.3 32.0 11.0 32.0C14.7 32.0 20.2 37.0 22.0 38.0M-12.0 -18.0C-13.2 -19.9 -16.5 -25.8 -19.3 -29.2C-22.1 -32.6 -30.3 -38.2 -28.6 -38.4C-26.9 -38.5 -14.1 -33.5 -9.3 -30.1C-4.5 -26.7 -1.6 -20.0 0.0 -18.0M-9.3 -18.0C-10.5 -21.5 -14.2 -32.2 -16.5 -38.8C-18.8 -45.3 -24.7 -57.2 -23.0 -57.5C-21.3 -57.8 -10.8 -47.2 -6.5 -40.6C-2.2 -34.0 1.2 -21.8 2.7 -18.0M-6.9 -18.0C-7.2 -22.5 -8.6 -36.1 -8.7 -44.7C-8.8 -53.3 -9.1 -69.0 -7.5 -69.4C-5.8 -69.9 -0.8 -55.8 1.3 -47.2C3.4 -38.6 4.5 -22.9 5.1 -18.0M-4.5 -18.0C-3.6 -22.0 -2.0 -34.5 0.7 -42.3C3.3 -50.0 9.7 -64.2 11.4 -64.6C13.0 -64.9 11.3 -52.3 10.7 -44.5C10.0 -36.8 8.0 -22.4 7.5 -18.0M-1.8 -18.0C-0.3 -20.8 2.9 -29.4 7.2 -34.5C11.6 -39.7 22.8 -48.8 24.5 -49.1C26.1 -49.3 19.6 -41.2 17.2 -36.0C14.9 -30.8 11.4 -21.0 10.2 -18.0M0.6 -18.0C1.7 -19.4 3.4 -23.9 7.5 -26.4C11.5 -28.8 23.3 -32.6 25.0 -32.7C26.6 -32.8 19.5 -29.4 17.5 -27.0C15.4 -24.5 13.4 -19.5 12.6 -18.0"/><path transform="translate(1212.3 248.9) scale(0.922 0.590) rotate(0)" d="M-22.0 4.0L22.0 4.0L16.0 46.0L-16.0 46.0ZM-26.0 -4.0L26.0 -4.0L26.0 4.0L-26.0 4.0ZM0.0 -4.0C-3.5 -8.3 -16.4 -22.0 -21.2 -30.0C-26.0 -38.0 -30.2 -52.3 -28.7 -52.0C-27.2 -51.7 -17.0 -36.0 -12.2 -28.0C-7.4 -20.0 -2.0 -8.0 0.0 -4.0M0.0 -4.0C-1.8 -8.3 -9.1 -22.0 -11.1 -30.0C-13.1 -38.0 -13.3 -52.3 -11.8 -52.0C-10.3 -51.7 -4.1 -36.0 -2.1 -28.0C-0.1 -20.0 -0.3 -8.0 0.0 -4.0M0.0 -4.0C0.1 -8.3 -0.6 -22.0 0.8 -30.0C2.1 -38.0 6.4 -52.3 7.9 -52.0C9.4 -51.7 11.1 -36.0 9.8 -28.0C8.4 -20.0 1.6 -8.0 0.0 -4.0M0.0 -4.0C1.9 -8.3 7.2 -22.0 11.5 -30.0C15.8 -38.0 24.3 -52.3 25.8 -52.0C27.3 -51.7 24.8 -36.0 20.5 -28.0C16.2 -20.0 3.4 -8.0 0.0 -4.0"/><path transform="translate(921.5 278.3) scale(1.720 1.151) rotate(-2)" d="M-50.0 -8.4C-41.7 -9.0 -14.7 -10.5 0.0 -11.7C14.7 -12.9 29.7 -14.6 38.0 -15.6C46.3 -16.6 48.0 -17.6 50.0 -18.0M38.0 -18.6C39.2 -19.3 42.7 -23.1 45.0 -23.0C47.3 -22.9 52.0 -19.5 52.0 -18.0C52.0 -16.5 47.3 -14.9 45.0 -14.0C42.7 -13.1 39.2 -12.8 38.0 -12.6M-50.0 -2.8C-41.7 -2.8 -14.7 -2.3 0.0 -2.7C14.7 -3.1 29.7 -4.6 38.0 -5.2C46.3 -5.8 48.0 -5.9 50.0 -6.0M38.0 -8.2C39.2 -8.7 42.7 -11.4 45.0 -11.0C47.3 -10.6 52.0 -7.5 52.0 -6.0C52.0 -4.5 47.3 -2.6 45.0 -2.0C42.7 -1.4 39.2 -2.2 38.0 -2.2M-50.0 2.8C-41.7 2.9 -14.7 3.0 0.0 3.4C14.7 3.8 29.7 4.8 38.0 5.2C46.3 5.6 48.0 5.9 50.0 6.0M38.0 2.2C39.2 2.0 42.7 0.4 45.0 1.0C47.3 1.6 52.0 4.5 52.0 6.0C52.0 7.5 47.3 9.6 45.0 10.0C42.7 10.4 39.2 8.5 38.0 8.2M-50.0 8.4C-41.7 8.8 -14.7 9.9 0.0 11.1C14.7 12.3 29.7 14.4 38.0 15.6C46.3 16.8 48.0 17.6 50.0 18.0M38.0 12.6C39.2 12.7 42.7 12.1 45.0 13.0C47.3 13.9 52.0 16.5 52.0 18.0C52.0 19.5 47.3 21.9 45.0 22.0C42.7 22.1 39.2 19.2 38.0 18.6M-18.0 -13.0C-17.7 -10.8 -16.0 -4.3 -16.0 0.0C-16.0 4.3 -17.7 10.8 -18.0 13.0M-13.0 -13.0C-12.7 -10.8 -11.0 -4.3 -11.0 0.0C-11.0 4.3 -12.7 10.8 -13.0 13.0M-50.0 -9.0L-50.0 9.0"/><path transform="translate(1113.4 273.5) scale(0.913 0.894) rotate(8)" d="M-46.0 -6.0L18.0 -20.0L46.0 -8.0L-18.0 8.0ZM-46.0 -6.0L-18.0 8.0L-18.0 28.0L-46.0 14.0ZM-18.0 8.0L46.0 -8.0L46.0 12.0L-18.0 28.0Z"/><path transform="translate(1013.5 310.1) scale(1.278 0.818) rotate(6)" d="M-50.0 -8.4C-41.7 -8.7 -14.7 -9.2 0.0 -10.4C14.7 -11.6 29.7 -14.3 38.0 -15.6C46.3 -16.9 48.0 -17.6 50.0 -18.0M38.0 -18.6C39.2 -19.3 42.7 -23.1 45.0 -23.0C47.3 -22.9 52.0 -19.5 52.0 -18.0C52.0 -16.5 47.3 -14.9 45.0 -14.0C42.7 -13.1 39.2 -12.8 38.0 -12.6M-50.0 -2.8C-41.7 -3.0 -14.7 -3.7 0.0 -4.1C14.7 -4.5 29.7 -4.9 38.0 -5.2C46.3 -5.5 48.0 -5.9 50.0 -6.0M38.0 -8.2C39.2 -8.7 42.7 -11.4 45.0 -11.0C47.3 -10.6 52.0 -7.5 52.0 -6.0C52.0 -4.5 47.3 -2.6 45.0 -2.0C42.7 -1.4 39.2 -2.2 38.0 -2.2M-50.0 2.8C-41.7 2.9 -14.7 3.0 0.0 3.4C14.7 3.8 29.7 4.8 38.0 5.2C46.3 5.6 48.0 5.9 50.0 6.0M38.0 2.2C39.2 2.0 42.7 0.4 45.0 1.0C47.3 1.6 52.0 4.5 52.0 6.0C52.0 7.5 47.3 9.6 45.0 10.0C42.7 10.4 39.2 8.5 38.0 8.2M-50.0 8.4C-41.7 8.7 -14.7 9.3 0.0 10.5C14.7 11.7 29.7 14.3 38.0 15.6C46.3 16.9 48.0 17.6 50.0 18.0M38.0 12.6C39.2 12.7 42.7 12.1 45.0 13.0C47.3 13.9 52.0 16.5 52.0 18.0C52.0 19.5 47.3 21.9 45.0 22.0C42.7 22.1 39.2 19.2 38.0 18.6M-18.0 -13.0C-17.7 -10.8 -16.0 -4.3 -16.0 0.0C-16.0 4.3 -17.7 10.8 -18.0 13.0M-13.0 -13.0C-12.7 -10.8 -11.0 -4.3 -11.0 0.0C-11.0 4.3 -12.7 10.8 -13.0 13.0M-50.0 -9.0L-50.0 9.0"/><path transform="translate(887.3 315.0) scale(0.429 0.500) rotate(80)" d="M29 0C29 8 27 16 24 23C20 29 15 36 9 38C4 41-4 40-9 38C-15 35-22 30-25 24C-28 18-29 8-29 0C-29-8-27-17-24-23C-21-29-15-35-9-37C-4-40 4-41 10-39C15-37 21-30 25-24C28-17 29-8 29 0ZM-26-8C-24-7-16-2-12-2C-8-2-4-10 0-10C4-10 8-2 12-2C16-2 24-7 26-8M-28 10C-25 11-17 16-12 16C-7 16-4 8 0 8C4 8 7 16 12 16C17 16 25 11 28 10"/><path transform="translate(846.8 333.4) scale(0.507 0.448) rotate(-10)" d="M45 0C45 6 41 13 36 18C30 22 21 26 13 28C5 29-6 30-14 28C-22 27-30 22-35 17C-40 12-42 6-42 0C-42-6-41-13-36-18C-31-22-22-26-13-28C-5-30 5-29 13-28C21-26 30-22 36-18C41-13 45-6 45 0ZM21 0C21 3 18 8 15 10C12 13 6 14 2 14C-2 14-7 12-10 10C-13 7-16 3-16 0C-16-3-13-7-10-10C-7-12-2-14 2-14C6-14 11-12 14-10C17-7 20-3 21 0ZM-44 2C-42 6-37 20-30 26C-23 32-10 36 0 36C10 36 23 32 30 26C37 20 42 6 44 2"/><path transform="translate(833.9 346.0) scale(0.367 0.427) rotate(60)" d="M31 0C31 8 28 17 24 24C21 30 15 36 9 38C4 40-4 40-9 38C-15 35-21 30-24 24C-28 17-31 8-31 0C-31-8-28-17-24-23C-20-30-15-35-9-37C-4-40 4-40 9-38C15-36 21-30 25-24C28-18 31-8 31 0ZM-26-8C-24-7-16-2-12-2C-8-2-4-10 0-10C4-10 8-2 12-2C16-2 24-7 26-8M-28 10C-25 11-17 16-12 16C-7 16-4 8 0 8C4 8 7 16 12 16C17 16 25 11 28 10"/><path transform="translate(892.6 337.1) scale(0.396 0.357) rotate(0)" d="M44 0C44 6 41 13 36 18C31 23 22 28 14 30C6 31-5 30-13 28C-22 26-31 23-36 18C-42 13-44 6-44 0C-44-6-40-12-35-17C-29-22-21-25-13-28C-5-30 6-31 14-30C22-28 31-22 36-18C40-13 44-6 44 0ZM20 0C20 3 18 8 15 10C12 13 6 14 2 14C-2 14-8 12-11 10C-14 8-16 3-16 0C-16-3-14-8-11-10C-8-12-2-14 2-14C6-14 12-12 15-10C18-8 20-3 20 0ZM-44 2C-42 6-37 20-30 26C-23 32-10 36 0 36C10 36 23 32 30 26C37 20 42 6 44 2"/><path transform="translate(970.1 350.8) scale(0.727 0.555) rotate(-5)" d="M-24.0 -24.0L24.0 -24.0L18.0 44.0L-18.0 44.0ZM-22.0 -6.0L22.0 -6.0M7.1 12.0C7.1 15.0 1.0 21.0 -2.0 21.0C-5.0 21.0 -10.9 15.0 -10.9 12.0C-10.9 9.0 -5.0 3.1 -2.0 3.1C1.0 3.1 7.1 9.0 7.1 12.0ZM16.1 28.0C16.1 30.7 10.7 36.1 8.0 36.1C5.3 36.1 0.1 30.7 0.1 28.0C0.1 25.3 5.3 19.8 8.0 19.8C10.7 19.8 16.1 25.3 16.1 28.0ZM-2.4 -34.0C-2.5 -30.5 -3.7 -26.4 -5.7 -23.6C-7.8 -20.8 -11.3 -18.4 -14.6 -17.3C-17.9 -16.2 -22.2 -15.9 -25.5 -16.9C-28.9 -17.9 -32.5 -20.5 -34.7 -23.3C-36.8 -26.2 -38.5 -30.5 -38.4 -34.0C-38.3 -37.5 -36.4 -41.5 -34.3 -44.4C-32.1 -47.3 -28.9 -50.3 -25.6 -51.3C-22.3 -52.4 -17.9 -51.8 -14.6 -50.7C-11.2 -49.6 -7.4 -47.4 -5.4 -44.6C-3.3 -41.8 -2.3 -37.5 -2.4 -34.0ZM6.0 -24.0L20.0 -54.0"/><path transform="translate(1031.9 358.9) scale(1.104 0.807) rotate(-20)" d="M-30.0 46.0C-26.0 39.3 -14.3 21.0 -6.0 6.0C2.3 -9.0 15.7 -35.7 20.0 -44.0M-22.5 32.5C-22.5 30.2 -11.5 23.2 -6.5 22.5C-1.5 21.8 7.5 26.2 7.5 28.5C7.5 30.8 -1.5 35.8 -6.5 36.5C-11.5 37.2 -22.5 34.8 -22.5 32.5ZM-15.0 19.0C-15.0 16.7 -26.0 9.7 -31.0 9.0C-36.0 8.3 -45.0 12.7 -45.0 15.0C-45.0 17.3 -36.0 22.3 -31.0 23.0C-26.0 23.7 -15.0 21.3 -15.0 19.0ZM-7.5 5.5C-7.5 3.2 3.5 -3.8 8.5 -4.5C13.5 -5.2 22.5 -0.8 22.5 1.5C22.5 3.8 13.5 8.8 8.5 9.5C3.5 10.2 -7.5 7.8 -7.5 5.5ZM0.0 -8.0C0.0 -10.3 -11.0 -17.3 -16.0 -18.0C-21.0 -18.7 -30.0 -14.3 -30.0 -12.0C-30.0 -9.7 -21.0 -4.7 -16.0 -4.0C-11.0 -3.3 0.0 -5.7 0.0 -8.0ZM7.5 -21.5C7.5 -23.8 18.5 -30.8 23.5 -31.5C28.5 -32.2 37.5 -27.8 37.5 -25.5C37.5 -23.2 28.5 -18.2 23.5 -17.5C18.5 -16.8 7.5 -19.2 7.5 -21.5ZM15.0 -35.0C15.0 -37.3 4.0 -44.3 -1.0 -45.0C-6.0 -45.7 -15.0 -41.3 -15.0 -39.0C-15.0 -36.7 -6.0 -31.7 -1.0 -31.0C4.0 -30.3 15.0 -32.7 15.0 -35.0Z"/><path transform="translate(1114.2 341.7) scale(1.029 0.864) rotate(10)" d="M-8.0 -50.0C-5.3 -54.0 5.3 -54.0 8.0 -50.0C10.7 -46.0 6.0 -33.0 8.0 -26.0C10.0 -19.0 18.0 -20.0 20.0 -8.0C22.0 4.0 21.0 36.3 20.0 46.0C19.0 55.7 19.7 49.3 14.0 50.0C8.3 50.7 -8.3 50.7 -14.0 50.0C-19.7 49.3 -19.0 55.7 -20.0 46.0C-21.0 36.3 -22.0 4.0 -20.0 -8.0C-18.0 -20.0 -10.0 -19.0 -8.0 -26.0C-6.0 -33.0 -10.7 -46.0 -8.0 -50.0ZM-9.0 -42.0L9.0 -42.0M-13.0 2.0L13.0 2.0L13.0 34.0L-13.0 34.0ZM-6.0 10.0C-5.0 11.0 -2.0 16.0 0.0 16.0C2.0 16.0 5.0 11.0 6.0 10.0M-6.0 22.0C-4.0 22.7 4.0 25.3 6.0 26.0"/><path transform="translate(864.0 389.6) scale(1.253 0.802) rotate(-8)" d="M49.7 0.0C49.7 3.9 40.4 7.2 38.4 11.5C36.4 15.9 40.4 22.9 37.5 26.0C34.6 29.1 25.9 27.9 21.1 30.2C16.3 32.5 13.3 39.3 8.5 40.0C3.8 40.7 -1.8 35.2 -7.4 34.5C-12.9 33.8 -20.9 37.8 -25.0 35.8C-29.1 33.7 -28.1 25.7 -32.0 22.2C-35.8 18.6 -46.5 18.1 -48.0 14.4C-49.6 10.7 -41.2 4.9 -41.4 0.0C-41.5 -4.9 -50.3 -10.9 -48.8 -14.7C-47.4 -18.5 -36.9 -19.3 -32.9 -22.8C-28.9 -26.3 -29.2 -33.9 -24.9 -35.6C-20.6 -37.4 -12.7 -32.1 -7.1 -33.2C-1.4 -34.3 4.5 -43.0 9.0 -42.3C13.5 -41.5 15.1 -31.2 20.0 -28.7C24.9 -26.1 35.4 -29.6 38.5 -26.7C41.6 -23.9 36.7 -16.1 38.6 -11.6C40.5 -7.2 49.7 -3.9 49.7 0.0ZM-30.0 20.0C-28.0 15.3 -23.0 -1.0 -18.0 -8.0C-13.0 -15.0 -6.3 -21.3 0.0 -22.0C6.3 -22.7 15.0 -17.0 20.0 -12.0C25.0 -7.0 28.3 4.7 30.0 8.0M-16.0 28.0C-14.3 24.0 -10.0 10.0 -6.0 4.0C-2.0 -2.0 3.3 -7.3 8.0 -8.0C12.7 -8.7 19.7 -1.3 22.0 0.0M-38.0 0.0C-36.7 -3.3 -34.7 -14.7 -30.0 -20.0C-25.3 -25.3 -13.3 -30.0 -10.0 -32.0M0.0 34.0C1.0 30.7 3.0 18.3 6.0 14.0C9.0 9.7 16.0 9.0 18.0 8.0"/><path transform="translate(983.9 415.6) scale(0.815 1.243) rotate(10)" d="M-46.0 -6.0L18.0 -20.0L46.0 -8.0L-18.0 8.0ZM-46.0 -6.0L-18.0 8.0L-18.0 28.0L-46.0 14.0ZM-18.0 8.0L46.0 -8.0L46.0 12.0L-18.0 28.0Z"/><path transform="translate(1092.8 430.4) scale(1.167 1.228) rotate(-5)" d="M-50.0 10.0C-50.3 6.7 -38.3 -8.3 -30.0 -14.0C-21.7 -19.7 -10.0 -24.0 0.0 -24.0C10.0 -24.0 21.7 -19.7 30.0 -14.0C38.3 -8.3 50.3 6.7 50.0 10.0C49.7 13.3 36.3 7.7 28.0 6.0C19.7 4.3 9.3 0.0 0.0 0.0C-9.3 0.0 -19.7 4.3 -28.0 6.0C-36.3 7.7 -49.7 13.3 -50.0 10.0ZM-26.0 -12.0C-25.0 -9.3 -21.0 1.3 -20.0 4.0M-8.0 -22.0C-7.7 -18.3 -6.3 -3.7 -6.0 0.0M10.0 -22.0C9.7 -18.3 8.3 -3.7 8.0 0.0M28.0 -12.0C27.0 -9.2 23.0 2.2 22.0 5.0"/><path transform="translate(772.0 425.1) scale(0.706 0.463) rotate(-10)" d="M-8.0 -50.0C-5.3 -54.0 5.3 -54.0 8.0 -50.0C10.7 -46.0 6.0 -33.0 8.0 -26.0C10.0 -19.0 18.0 -20.0 20.0 -8.0C22.0 4.0 21.0 36.3 20.0 46.0C19.0 55.7 19.7 49.3 14.0 50.0C8.3 50.7 -8.3 50.7 -14.0 50.0C-19.7 49.3 -19.0 55.7 -20.0 46.0C-21.0 36.3 -22.0 4.0 -20.0 -8.0C-18.0 -20.0 -10.0 -19.0 -8.0 -26.0C-6.0 -33.0 -10.7 -46.0 -8.0 -50.0ZM-9.0 -42.0L9.0 -42.0M-13.0 2.0L13.0 2.0L13.0 34.0L-13.0 34.0ZM-6.0 10.0C-5.0 11.0 -2.0 16.0 0.0 16.0C2.0 16.0 5.0 11.0 6.0 10.0M-6.0 22.0C-4.0 22.7 4.0 25.3 6.0 26.0"/><path transform="translate(835.5 432.9) scale(0.455 0.291) rotate(0)" d="M47-8C47-5 43-2 39 0C35 2 30 5 23 6C17 7 8 8 0 8C-8 8-17 8-23 6C-30 5-35 2-39 0C-43-3-47-5-47-8C-47-11-43-14-39-16C-35-18-30-21-24-22C-17-24-8-24 0-24C8-24 16-23 23-22C30-20 37-18 41-16C45-14 48-11 47-8ZM-46-8C-44-3-44 16-36 24C-28 32-12 38 0 38C12 38 28 32 36 24C44 16 44-3 46-8M37-8C37-6 33-4 29-2C24-1 18 1 11 2C5 2-4 2-11 2C-18 1-26 0-30-2C-34-4-36-6-36-8C-36-10-34-12-30-14C-26-16-18-17-11-17C-4-18 5-18 11-18C18-17 23-15 28-14C32-12 36-10 37-8ZM-10-30C-11-32-17-40-16-44C-15-48-7-52-6-56C-5-60-11-68-12-70M10-32C9-34 3-42 4-46C5-50 13-54 14-58C15-62 9-70 8-72M-46-4C-48-4-58-4-60-2C-62 0-63 8-60 10C-57 12-45 8-42 8M46-4C48-4 58-4 60-2C62 0 63 8 60 10C57 12 45 8 42 8"/><path transform="translate(728.2 438.3) scale(0.555 0.654) rotate(-15)" d="M50.8 0.0C51.1 2.8 42.5 5.5 40.0 8.6C37.6 11.8 40.1 17.0 36.0 18.8C31.9 20.6 21.6 18.4 15.6 19.6C9.6 20.8 5.3 25.9 0.0 26.0C-5.3 26.1 -10.5 21.7 -16.2 20.4C-21.9 19.0 -30.5 19.8 -34.1 17.8C-37.8 15.8 -35.2 11.2 -38.1 8.2C-41.0 5.3 -51.1 2.8 -51.4 0.0C-51.8 -2.8 -43.1 -5.7 -40.3 -8.7C-37.5 -11.7 -38.4 -15.9 -34.4 -18.0C-30.5 -20.0 -22.4 -19.6 -16.7 -21.0C-10.9 -22.4 -5.4 -26.3 -0.0 -26.2C5.4 -26.1 10.1 -21.5 16.0 -20.2C22.0 -18.9 31.8 -20.5 35.5 -18.5C39.2 -16.5 35.6 -11.3 38.2 -8.3C40.7 -5.2 50.4 -2.8 50.8 0.0ZM28.9 2.0C28.7 4.4 25.6 6.9 22.4 9.0C19.1 11.2 14.8 13.8 9.5 14.7C4.2 15.6 -3.6 15.3 -9.4 14.5C-15.2 13.7 -21.8 12.0 -25.2 9.9C-28.7 7.9 -30.2 4.6 -30.0 2.0C-29.8 -0.6 -27.5 -3.6 -24.0 -5.6C-20.5 -7.6 -14.6 -9.1 -9.0 -10.0C-3.4 -10.9 4.2 -11.6 9.6 -10.8C15.1 -10.1 20.6 -7.6 23.8 -5.5C27.0 -3.3 29.1 -0.4 28.9 2.0ZM16.2 2.0C16.4 3.4 15.0 5.5 12.9 6.5C10.9 7.5 7.0 7.9 4.0 7.9C1.0 7.9 -3.0 7.4 -4.8 6.4C-6.6 5.4 -7.1 3.4 -6.9 2.0C-6.8 0.6 -5.9 -1.0 -4.1 -2.0C-2.3 -3.1 1.3 -4.4 4.0 -4.4C6.7 -4.4 9.8 -3.0 11.9 -1.9C13.9 -0.9 16.1 0.6 16.2 2.0Z"/><path transform="translate(873.7 444.9) scale(0.913 0.835) rotate(-10)" d="M-50.0 8.0C-43.3 7.0 -21.7 4.0 -10.0 2.0C1.7 0.0 15.0 -3.0 20.0 -4.0M-50.0 12.0C-43.3 11.2 -21.7 8.3 -10.0 7.0C1.7 5.7 15.0 4.5 20.0 4.0M20.0 -4.0C22.3 -6.0 29.0 -14.7 34.0 -16.0C39.0 -17.3 49.0 -14.7 50.0 -12.0C51.0 -9.3 39.7 -3.3 40.0 0.0C40.3 3.3 52.7 5.7 52.0 8.0C51.3 10.3 41.3 14.7 36.0 14.0C30.7 13.3 22.7 5.7 20.0 4.0"/><path transform="translate(1261.7 360.4) scale(0.578 0.714) rotate(-5)" d="M-46.0 -4.0L46.0 -14.0L46.0 36.0L-46.0 46.0ZM-46.0 12.0L46.0 2.0M-46.0 28.0L46.0 18.0M-30.0 -6.0L-30.0 44.0M28.0 -12.0L28.0 38.0M-22.5 -16.0C-22.6 -13.7 -23.8 -11.1 -25.3 -9.3C-26.9 -7.6 -29.8 -5.7 -32.0 -5.7C-34.2 -5.7 -37.1 -7.5 -38.7 -9.3C-40.4 -11.0 -41.9 -13.7 -41.9 -16.0C-42.0 -18.3 -40.7 -21.3 -39.0 -23.0C-37.4 -24.7 -34.3 -26.4 -32.0 -26.4C-29.7 -26.4 -26.5 -24.8 -24.9 -23.1C-23.4 -21.3 -22.5 -18.3 -22.5 -16.0ZM-4.0 -20.0C-4.1 -17.7 -5.7 -15.1 -7.3 -13.3C-9.0 -11.6 -11.7 -9.8 -14.0 -9.6C-16.3 -9.5 -19.6 -11.0 -21.3 -12.7C-23.0 -14.4 -24.1 -17.6 -24.1 -20.0C-24.2 -22.4 -23.0 -25.7 -21.4 -27.4C-19.7 -29.0 -16.4 -30.2 -14.0 -30.1C-11.6 -30.1 -8.4 -28.9 -6.7 -27.3C-5.1 -25.6 -3.9 -22.3 -4.0 -20.0ZM14.4 -22.0C14.5 -19.6 12.9 -16.4 11.2 -14.8C9.4 -13.3 6.4 -12.6 4.0 -12.6C1.6 -12.5 -1.6 -13.0 -3.4 -14.6C-5.2 -16.2 -6.7 -19.6 -6.6 -22.0C-6.5 -24.4 -4.6 -27.2 -2.8 -28.8C-1.1 -30.4 1.7 -31.5 4.0 -31.5C6.3 -31.5 9.2 -30.5 10.9 -28.9C12.7 -27.4 14.4 -24.4 14.4 -22.0ZM31.5 -24.0C31.5 -21.6 30.5 -18.6 29.0 -17.0C27.4 -15.5 24.3 -14.5 22.0 -14.5C19.7 -14.5 16.7 -15.6 15.2 -17.2C13.6 -18.8 12.6 -21.7 12.6 -24.0C12.6 -26.3 13.4 -29.4 15.0 -31.0C16.6 -32.6 19.6 -33.7 22.0 -33.8C24.4 -33.8 27.7 -32.9 29.3 -31.3C30.9 -29.6 31.6 -26.4 31.5 -24.0ZM47.9 -26.0C47.8 -23.7 46.4 -21.0 44.8 -19.2C43.1 -17.5 40.4 -15.6 38.0 -15.5C35.6 -15.4 32.3 -16.8 30.6 -18.6C28.9 -20.4 27.7 -23.6 27.8 -26.0C27.9 -28.4 29.5 -31.2 31.2 -32.8C32.9 -34.5 35.7 -35.9 38.0 -35.9C40.3 -35.9 43.4 -34.7 45.0 -33.0C46.7 -31.4 47.9 -28.3 47.9 -26.0ZM-12.1 -30.0C-12.2 -27.7 -13.7 -25.0 -15.3 -23.3C-17.0 -21.7 -19.7 -20.2 -22.0 -20.1C-24.3 -19.9 -27.6 -21.0 -29.3 -22.7C-31.0 -24.4 -32.2 -27.6 -32.2 -30.0C-32.2 -32.4 -31.1 -35.7 -29.4 -37.4C-27.7 -39.1 -24.4 -40.2 -22.0 -40.2C-19.6 -40.2 -16.4 -39.0 -14.7 -37.3C-13.1 -35.6 -12.0 -32.3 -12.1 -30.0ZM6.4 -34.0C6.5 -31.6 5.2 -28.3 3.4 -26.6C1.7 -24.8 -1.6 -23.6 -4.0 -23.6C-6.4 -23.7 -9.3 -25.3 -11.0 -27.0C-12.7 -28.7 -14.2 -31.6 -14.2 -34.0C-14.2 -36.4 -12.9 -39.5 -11.2 -41.2C-9.5 -42.9 -6.4 -44.5 -4.0 -44.5C-1.6 -44.5 1.5 -43.0 3.3 -41.3C5.0 -39.5 6.4 -36.4 6.4 -34.0ZM23.9 -36.0C23.9 -33.7 22.5 -30.8 20.8 -29.2C19.2 -27.6 16.3 -26.2 14.0 -26.2C11.7 -26.2 8.8 -27.5 7.1 -29.1C5.4 -30.8 3.9 -33.6 3.8 -36.0C3.7 -38.4 5.0 -41.7 6.7 -43.3C8.4 -44.9 11.6 -45.7 14.0 -45.6C16.4 -45.6 19.4 -44.7 21.1 -43.1C22.8 -41.5 24.0 -38.3 23.9 -36.0ZM40.4 -38.0C40.5 -35.7 38.7 -32.6 37.0 -31.0C35.2 -29.5 32.4 -28.5 30.0 -28.5C27.6 -28.5 24.5 -29.3 22.8 -30.8C21.2 -32.4 20.1 -35.7 20.2 -38.0C20.2 -40.3 21.6 -43.1 23.2 -44.8C24.9 -46.4 27.8 -47.8 30.0 -47.7C32.2 -47.7 34.9 -46.3 36.7 -44.7C38.4 -43.0 40.4 -40.3 40.4 -38.0ZM13.6 -46.0C13.6 -43.7 12.6 -40.6 11.0 -39.0C9.4 -37.4 6.3 -36.4 4.0 -36.5C1.7 -36.5 -1.0 -37.8 -2.7 -39.3C-4.3 -40.9 -5.9 -43.6 -6.1 -46.0C-6.2 -48.4 -5.1 -51.7 -3.5 -53.5C-1.8 -55.2 1.6 -56.5 4.0 -56.4C6.4 -56.3 9.3 -54.7 10.9 -52.9C12.5 -51.2 13.6 -48.3 13.6 -46.0ZM-1.5 -44.0C-1.5 -41.7 -3.5 -38.9 -5.3 -37.3C-7.0 -35.7 -9.8 -34.4 -12.0 -34.4C-14.2 -34.4 -17.1 -35.8 -18.7 -37.3C-20.2 -38.9 -21.4 -41.7 -21.5 -44.0C-21.6 -46.3 -20.7 -49.4 -19.2 -51.2C-17.6 -52.9 -14.4 -54.3 -12.0 -54.3C-9.6 -54.3 -6.7 -52.8 -4.9 -51.1C-3.2 -49.3 -1.4 -46.3 -1.5 -44.0Z"/><path transform="translate(1264.9 422.6) scale(0.436 0.512) rotate(0)" d="M-2 26C-2 30-4 34-6 36C-8 39-12 42-15 42C-18 43-23 42-26 40C-29 38-32 35-33 32C-34 28-34 24-32 21C-31 18-29 14-26 12C-23 10-19 10-15 10C-12 11-8 13-5 15C-3 18-1 22-2 26ZM35 30C35 33 33 37 31 39C29 42 26 45 23 45C20 46 16 44 13 42C10 41 7 38 6 35C5 32 5 28 6 25C7 22 10 18 12 17C15 15 20 14 23 15C26 16 29 18 31 21C33 23 35 27 35 30ZM-16 10C-14 5-8-11-4-20C0-29 8-40 10-44M20 15C19 10 18-6 16-16C14-26 11-39 10-44M10-44C10-47 24-54 30-54C36-54 46-47 46-44C46-41 36-36 30-36C24-36 10-41 10-44Z"/><path transform="translate(672.8 442.7) scale(1.005 0.655) rotate(0)" d="M-12.7 0.0C-12.7 1.8 -14.2 4.3 -15.7 5.4C-17.2 6.5 -19.7 6.9 -21.5 6.6C-23.3 6.2 -25.9 4.9 -26.8 3.3C-27.6 1.6 -27.5 -1.6 -26.7 -3.2C-25.8 -4.8 -23.4 -6.2 -21.5 -6.6C-19.6 -7.0 -17.0 -6.8 -15.5 -5.7C-14.0 -4.6 -12.6 -1.8 -12.7 0.0ZM7.4 -8.0C7.5 -6.0 6.5 -2.9 5.0 -1.7C3.5 -0.5 0.4 -0.4 -1.6 -0.9C-3.7 -1.3 -6.4 -2.6 -7.4 -4.4C-8.4 -6.2 -8.7 -9.8 -7.8 -11.8C-6.9 -13.7 -3.9 -15.7 -1.8 -16.0C0.2 -16.3 3.0 -15.0 4.5 -13.7C6.1 -12.3 7.3 -10.0 7.4 -8.0ZM27.0 4.0C27.1 5.7 25.8 8.3 24.3 9.4C22.9 10.6 20.2 11.2 18.5 10.7C16.8 10.3 14.9 8.4 14.1 6.8C13.4 5.2 13.3 2.7 14.0 1.1C14.7 -0.5 16.8 -2.4 18.5 -2.8C20.1 -3.1 22.6 -2.1 24.0 -1.0C25.4 0.1 27.0 2.3 27.0 4.0Z"/><path transform="translate(1172.5 280.3) scale(0.267 0.417) rotate(20)" d="M-48 0C-48-5-30-13-20-16C-10-19 4-20 15-17C26-14 48-5 48 0C48 5 26 13 15 15C4 17-10 16-20 14C-30 12-48 5-48 0ZM-48 0C-40 0-16 1 0 1C16 1 40 0 48 0M-22 0L-12-11M-22 0L-12 10M-4 0L6-11M-4 0L6 10M14 0L24-11M14 0L24 10"/><path transform="translate(1230.1 16.3) scale(0.433 0.303) rotate(0)" d="M-2 26C-2 29-4 33-6 36C-8 39-12 41-15 41C-18 42-23 41-26 39C-29 38-31 34-33 31C-34 28-35 23-34 20C-32 17-29 14-26 12C-23 11-19 10-15 11C-12 12-8 13-6 16C-4 18-2 23-2 26ZM36 30C36 33 33 37 31 39C29 42 26 44 23 44C20 45 16 44 13 43C10 41 7 38 6 35C4 32 5 28 6 25C7 22 10 19 13 18C16 16 20 14 23 15C26 15 29 18 31 20C34 23 36 27 36 30ZM-16 10C-14 5-8-11-4-20C0-29 8-40 10-44M20 15C19 10 18-6 16-16C14-26 11-39 10-44M10-44C10-47 24-54 30-54C36-54 46-47 46-44C46-41 36-36 30-36C24-36 10-41 10-44Z"/><path transform="translate(1257.5 270.1) scale(0.396 0.527) rotate(-30)" d="M-48 0C-48-5-30-13-20-16C-10-19 4-20 15-17C26-14 48-5 48 0C48 5 26 13 15 15C4 17-10 16-20 14C-30 12-48 5-48 0ZM-48 0C-40 0-16 1 0 1C16 1 40 0 48 0M-22 0L-12-11M-22 0L-12 10M-4 0L6-11M-4 0L6 10M14 0L24-11M14 0L24 10"/><path transform="translate(1145.0 390.8) scale(0.500 0.781) rotate(0)" d="M-30.0 10.0C-26.7 6.7 -16.7 -9.7 -10.0 -10.0C-3.3 -10.3 3.3 8.3 10.0 8.0C16.7 7.7 26.7 -8.7 30.0 -12.0"/><path transform="translate(1214.8 58.6) scale(0.385 0.311) rotate(0)" d="M44 0C44 7 42 15 38 22C34 28 29 36 22 39C16 42 7 43 0 43C-7 43-15 41-22 38C-28 34-34 28-38 22C-41 16-43 7-43 0C-44-7-42-16-39-22C-35-29-28-35-22-38C-16-42-7-44 0-44C7-44 16-42 22-38C28-35 35-29 39-22C43-16 45-7 44 0ZM36 0C36 6 34 13 31 18C28 23 23 28 18 32C13 34 6 36 0 36C-6 36-13 34-18 31C-23 28-28 23-31 18C-34 13-35 6-35 0C-35-6-34-13-31-18C-28-23-24-29-18-32C-13-35-6-36 0-36C6-35 13-34 18-31C23-28 28-23 31-18C34-13 36-6 36 0ZM4 1L33 7M2 3L19 28M-1 4L-7 33M-3 2L-28 19M-4-1L-33-7M-2-3L-19-28M1-4L7-33M3-2L28-19"/><path transform="translate(1255.0 110.7) scale(0.415 0.528) rotate(10)" d="M-48 0C-48-5-30-13-20-16C-10-19 4-20 15-17C26-14 48-5 48 0C48 5 26 13 15 15C4 17-10 16-20 14C-30 12-48 5-48 0ZM-48 0C-40 0-16 1 0 1C16 1 40 0 48 0M-22 0L-12-11M-22 0L-12 10M-4 0L6-11M-4 0L6 10M14 0L24-11M14 0L24 10"/><path transform="translate(1165.0 30.6) scale(0.312 0.488) rotate(0)" d="M-48 0C-48-5-30-13-20-16C-10-19 4-20 15-17C26-14 48-5 48 0C48 5 26 13 15 15C4 17-10 16-20 14C-30 12-48 5-48 0ZM-48 0C-40 0-16 1 0 1C16 1 40 0 48 0M-22 0L-12-11M-22 0L-12 10M-4 0L6-11M-4 0L6 10M14 0L24-11M14 0L24 10"/><path transform="translate(1025.0 403.2) scale(0.500 0.682) rotate(0)" d="M-30.0 10.0C-26.7 6.7 -16.7 -9.7 -10.0 -10.0C-3.3 -10.3 3.3 8.3 10.0 8.0C16.7 7.7 26.7 -8.7 30.0 -12.0"/><path transform="translate(1015.1 257.2) scale(0.552 0.440) rotate(0)" d="M-13 0C-13 2-14 4-16 5C-17 6-20 7-22 7C-23 6-26 5-27 3C-27 2-27-1-26-3C-25-4-23-6-21-6C-20-7-17-7-15-6C-14-5-13-2-13 0ZM9-8C9-6 6-4 5-2C3-1 0 0-2-1C-4-1-6-3-7-4C-8-6-8-9-7-11C-6-13-4-16-2-16C0-16 3-15 4-14C6-12 9-10 9-8ZM27 4C27 6 26 8 24 9C23 10 20 11 18 11C17 10 14 9 13 7C13 6 13 3 14 1C14-1 16-3 18-3C20-4 23-3 25-2C26-1 27 2 27 4Z"/><path transform="translate(85.8 0.3) scale(0.375 0.369) rotate(-20)" d="M-30 20L0-30L30 20ZM-2 6C-2 6-2 7-2 7C-3 8-3 8-3 8C-4 8-4 8-5 8C-5 8-5 8-6 7C-6 7-6 6-6 6C-6 6-6 5-6 5C-5 4-5 4-5 4C-4 4-4 4-3 4C-3 4-3 4-2 5C-2 5-2 6-2 6ZM8 10C8 10 8 11 8 11C8 12 7 12 7 12C6 12 6 12 5 12C5 12 4 12 4 11C4 11 4 10 4 10C4 10 4 9 4 9C4 8 5 8 5 8C6 8 6 8 7 8C7 8 7 8 8 9C8 9 8 10 8 10ZM2-8C2-8 2-7 2-7C1-6 1-6 1-6C0-6 0-6-1-6C-1-6-1-6-2-7C-2-7-2-8-2-8C-2-8-2-9-2-9C-1-10-1-10-1-10C0-10 0-10 1-10C1-10 1-10 2-9C2-9 2-8 2-8Z"/><path transform="translate(116.8 0.1) scale(0.227 0.179) rotate(0)" d="M0-24C8-24 18-33 24-30C30-27 37-17 36-8C35 1 24 17 18 26C12 35 6 44 0 44C-6 44-12 35-18 26C-24 17-35 1-36-8C-37-17-30-27-24-30C-18-33-8-24 0-24ZM-18-28L-8-40L0-28L8-40L18-28M0-40L0-50M-14-8L-12-5M10-10L12-7M-4 6L-2 9M14 10L16 13M-10 20L-8 23M2 26L4 29"/><path transform="translate(141.9 6.4) scale(0.344 0.538) rotate(0)" d="M-30 10C-27 7-17-10-10-10C-3-10 3 8 10 8C17 8 27-9 30-12"/><path transform="translate(167.9 6.1) scale(0.262 0.409) rotate(0)" d="M-48 0C-48-5-30-13-20-16C-10-19 4-20 15-17C26-14 48-5 48 0C48 5 26 13 15 15C4 17-10 16-20 14C-30 12-48 5-48 0ZM-48 0C-40 0-16 1 0 1C16 1 40 0 48 0M-22 0L-12-11M-22 0L-12 10M-4 0L6-11M-4 0L6 10M14 0L24-11M14 0L24 10"/><path transform="translate(294.5 5.9) scale(0.151 0.177) rotate(40)" d="M0-28C7-28 15-40 22-38C29-36 40-25 42-15C44-5 41 12 36 22C31 32 18 40 12 42C6 44 4 36 0 36C-4 36-6 44-12 42C-18 40-31 32-36 22C-41 12-44-5-42-15C-40-25-29-36-22-38C-15-40-7-28 0-28ZM0-28C0-30 2-38 3-42C4-46 7-49 8-50M6-44C6-47 17-55 22-56C27-57 38-51 38-48C38-45 27-41 22-40C17-39 6-41 6-44Z"/><path transform="translate(321.0 5.9) scale(0.340 0.531) rotate(20)" d="M-30 10C-27 7-17-10-10-10C-3-10 3 8 10 8C17 8 27-9 30-12"/><path transform="translate(347.3 0.7) scale(0.259 0.321) rotate(90)" d="M-3 26C-3 30-3 34-5 37C-7 39-12 42-15 42C-19 42-23 41-26 40C-29 38-32 35-33 32C-34 28-34 24-33 20C-32 17-29 14-26 12C-23 10-18 9-15 10C-12 10-8 13-5 15C-3 18-3 22-3 26ZM35 30C35 33 33 37 31 40C29 42 26 44 23 45C20 45 16 44 13 43C10 41 6 38 5 35C4 32 5 28 6 25C8 22 10 19 12 17C15 15 19 15 22 16C26 16 30 18 32 20C34 23 35 27 35 30ZM-16 10C-14 5-8-11-4-20C0-29 8-40 10-44M20 15C19 10 18-6 16-16C14-26 11-39 10-44M10-44C10-47 24-54 30-54C36-54 46-47 46-44C46-41 36-36 30-36C24-36 10-41 10-44Z"/><path transform="translate(374.5 0.4) scale(0.241 0.377) rotate(-20)" d="M-48 0C-48-5-30-13-20-16C-10-19 4-20 15-17C26-14 48-5 48 0C48 5 26 13 15 15C4 17-10 16-20 14C-30 12-48 5-48 0ZM-48 0C-40 0-16 1 0 1C16 1 40 0 48 0M-22 0L-12-11M-22 0L-12 10M-4 0L6-11M-4 0L6 10M14 0L24-11M14 0L24 10"/><path transform="translate(398.9 6.6) scale(0.221 0.237) rotate(0)" d="M-38 0C-43-5-36-20-30-26C-24-32-10-38 0-38C10-38 24-32 30-26C36-20 43-5 38 0C33 5 13 6 0 6C-13 6-33 5-38 0ZM-10 6C-11 11-16 30-14 36C-12 42-5 42 0 42C5 42 12 42 14 36C16 30 11 11 10 6M-20-8C-18-10-10-16-8-18"/><path transform="translate(428.3 -0.4) scale(0.205 0.320) rotate(20)" d="M-48 0C-48-5-30-13-20-16C-10-19 4-20 15-17C26-14 48-5 48 0C48 5 26 13 15 15C4 17-10 16-20 14C-30 12-48 5-48 0ZM-48 0C-40 0-16 1 0 1C16 1 40 0 48 0M-22 0L-12-11M-22 0L-12 10M-4 0L6-11M-4 0L6 10M14 0L24-11M14 0L24 10"/><path transform="translate(447.2 1.6) scale(0.416 0.266) rotate(90)" d="M40 0C40 5 37 11 32 16C27 20 18 27 8 28C-1 29-15 27-23 24C-31 20-36 14-39 8C-42 3-44-4-41-9C-38-14-28-18-20-20C-12-23-2-24 7-24C16-23 26-20 32-16C37-12 40-5 40 0ZM-12-4C-12-4-12-3-12-3C-13-2-13-2-13-2C-14-2-14-2-15-2C-15-2-15-3-16-3C-16-3-16-4-16-4C-16-4-16-5-16-5C-15-6-15-6-15-6C-14-6-14-6-13-6C-13-6-13-6-12-5C-12-5-12-4-12-4ZM10 6C10 6 10 7 10 7C9 7 9 8 9 8C8 8 8 8 7 8C7 8 7 7 6 7C6 7 6 6 6 6C6 6 6 5 6 5C7 4 7 4 7 4C8 4 8 4 9 4C9 4 10 4 10 5C10 5 10 6 10 6ZM22-8C22-8 22-7 22-7C21-6 21-6 21-6C20-6 20-6 19-6C19-6 19-6 18-7C18-7 18-8 18-8C18-8 18-9 18-9C19-10 19-10 19-10C20-10 20-10 21-10C21-10 21-9 22-9C22-9 22-8 22-8Z"/><path transform="translate(474.2 5.2) scale(0.504 0.480) rotate(40)" d="M-13 0C-13 2-15 4-16 5C-17 6-20 7-21 6C-23 6-25 4-26 3C-27 1-27-1-26-3C-25-5-23-7-22-7C-20-8-17-7-16-6C-14-4-13-2-13 0ZM8-8C9-6 7-3 5-1C4 0 0 0-2 0C-4-1-6-3-7-5C-8-6-8-10-7-11C-6-13-4-15-2-16C0-16 3-16 5-14C7-13 8-10 8-8ZM28 4C28 6 26 9 25 10C23 11 20 11 18 10C17 10 15 8 14 7C13 5 14 3 14 1C15 0 17-2 18-3C20-3 23-2 24-1C26 0 27 2 28 4Z"/><path transform="translate(500.7 4.7) scale(0.372 0.496) rotate(-40)" d="M-14 0C-14 2-14 4-16 5C-17 6-20 7-22 6C-23 6-25 4-26 3C-27 1-27-2-26-3C-26-5-23-7-22-7C-20-7-17-6-16-5C-14-4-14-2-14 0ZM8-8C8-6 6-4 5-2C3-1 0 1-2 0C-4 0-6-3-7-5C-8-7-8-10-7-12C-6-13-4-16-2-16C0-17 4-16 5-14C7-13 8-10 8-8ZM27 4C27 6 26 9 25 10C23 11 20 12 18 11C16 10 14 9 14 7C13 6 13 3 14 1C15 0 17-2 18-2C20-3 23-2 24-1C26 0 27 2 27 4Z"/><path transform="translate(524.0 2.2) scale(0.189 0.226) rotate(70)" d="M0-28C7-28 15-40 22-38C29-36 40-25 42-15C44-5 41 12 36 22C31 32 18 40 12 42C6 44 4 36 0 36C-4 36-6 44-12 42C-18 40-31 32-36 22C-41 12-44-5-42-15C-40-25-29-36-22-38C-15-40-7-28 0-28ZM0-28C0-30 2-38 3-42C4-46 7-49 8-50M6-44C6-47 17-55 22-56C27-57 38-51 38-48C38-45 27-41 22-40C17-39 6-41 6-44Z"/><path transform="translate(553.9 8.5) scale(0.332 0.319) rotate(40)" d="M-38 0C-43-5-36-20-30-26C-24-32-10-38 0-38C10-38 24-32 30-26C36-20 43-5 38 0C33 5 13 6 0 6C-13 6-33 5-38 0ZM-10 6C-11 11-16 30-14 36C-12 42-5 42 0 42C5 42 12 42 14 36C16 30 11 11 10 6M-20-8C-18-10-10-16-8-18"/><path transform="translate(579.4 0.9) scale(0.314 0.362) rotate(-40)" d="M-48 0C-48-5-30-13-20-16C-10-19 4-20 15-17C26-14 48-5 48 0C48 5 26 13 15 15C4 17-10 16-20 14C-30 12-48 5-48 0ZM-48 0C-40 0-16 1 0 1C16 1 40 0 48 0M-22 0L-12-11M-22 0L-12 10M-4 0L6-11M-4 0L6 10M14 0L24-11M14 0L24 10"/><path transform="translate(604.1 4.5) scale(0.173 0.249) rotate(20)" d="M-46-6C-43-1-38 19-30 26C-22 33-10 38 0 38C10 38 22 33 30 26C38 19 43-1 46-6ZM-36-6C-34-2-28 12-22 18C-16 24-7 28 0 28C7 28 16 24 22 18C28 12 34-2 36-6M0-4L26 10M0-4L15 22M0-4L0 26M0-4L-15 22M0-4L-26 10"/><path transform="translate(1183.3 7.5) scale(0.204 0.172) rotate(-40)" d="M0-28C7-28 15-40 22-38C29-36 40-25 42-15C44-5 41 12 36 22C31 32 18 40 12 42C6 44 4 36 0 36C-4 36-6 44-12 42C-18 40-31 32-36 22C-41 12-44-5-42-15C-40-25-29-36-22-38C-15-40-7-28 0-28ZM0-28C0-30 2-38 3-42C4-46 7-49 8-50M6-44C6-47 17-55 22-56C27-57 38-51 38-48C38-45 27-41 22-40C17-39 6-41 6-44Z"/><path transform="translate(1201.9 5.0) scale(0.236 0.236) rotate(-40)" d="M6-5C10-6 23-10 30-9C37-8 46-3 46 0C46 3 37 8 30 9C23 10 10 6 6 5M8 1C11 3 24 10 28 15C32 20 35 30 32 32C30 35 20 32 15 28C10 24 3 11 1 8M5 6C6 10 10 23 9 30C8 37 3 46 0 46C-3 46-8 37-9 30C-10 23-6 10-5 6M-1 8C-3 11-10 24-15 28C-20 32-30 35-32 32C-35 30-32 20-28 15C-24 10-11 3-8 1M-6 5C-10 6-23 10-30 9C-37 8-46 3-46 0C-46-3-37-8-30-9C-23-10-10-6-6-5M-8-1C-11-3-24-10-28-15C-32-20-35-30-32-32C-30-35-20-32-15-28C-10-24-3-11-1-8M-5-6C-6-10-10-23-9-30C-8-37-3-46 0-46C3-46 8-37 9-30C10-23 6-10 5-6M1-8C3-11 10-24 15-28C20-32 30-35 32-32C35-30 32-20 28-15C24-10 11-3 8-1M5 0C5 1 4 2 4 3C3 4 2 5 2 5C1 5-1 5-2 5C-2 4-4 4-4 3C-5 2-5 1-5 0C-5-1-5-2-4-3C-4-4-2-4-2-5C0-5 1-5 2-5C2-4 4-4 4-3C5-2 5-1 5 0Z"/><path transform="translate(9.7 31.8) scale(0.242 0.378) rotate(-20)" d="M-48 0C-48-5-30-13-20-16C-10-19 4-20 15-17C26-14 48-5 48 0C48 5 26 13 15 15C4 17-10 16-20 14C-30 12-48 5-48 0ZM-48 0C-40 0-16 1 0 1C16 1 40 0 48 0M-22 0L-12-11M-22 0L-12 10M-4 0L6-11M-4 0L6 10M14 0L24-11M14 0L24 10"/><path transform="translate(29.3 31.5) scale(0.177 0.188) rotate(20)" d="M0-28C7-28 15-40 22-38C29-36 40-25 42-15C44-5 41 12 36 22C31 32 18 40 12 42C6 44 4 36 0 36C-4 36-6 44-12 42C-18 40-31 32-36 22C-41 12-44-5-42-15C-40-25-29-36-22-38C-15-40-7-28 0-28ZM0-28C0-30 2-38 3-42C4-46 7-49 8-50M6-44C6-47 17-55 22-56C27-57 38-51 38-48C38-45 27-41 22-40C17-39 6-41 6-44Z"/><path transform="translate(77.7 29.1) scale(0.351 0.225) rotate(-20)" d="M-2 26C-2 29-4 34-6 36C-8 39-12 41-15 41C-19 42-23 42-26 40C-29 38-32 35-33 32C-34 28-34 24-33 20C-32 17-29 14-26 13C-23 11-19 10-15 10C-12 11-8 13-6 16C-3 18-2 23-2 26ZM34 30C34 33 33 37 31 39C29 42 26 45 23 45C20 46 16 44 13 42C10 41 7 38 6 35C5 32 5 28 6 25C7 22 10 19 13 18C16 16 20 15 22 16C26 16 29 18 31 21C33 23 35 27 34 30ZM-16 10C-14 5-8-11-4-20C0-29 8-40 10-44M20 15C19 10 18-6 16-16C14-26 11-39 10-44M10-44C10-47 24-54 30-54C36-54 46-47 46-44C46-41 36-36 30-36C24-36 10-41 10-44Z"/><path transform="translate(108.1 29.4) scale(0.226 0.260) rotate(-40)" d="M-48 0C-48-5-30-13-20-16C-10-19 4-20 15-17C26-14 48-5 48 0C48 5 26 13 15 15C4 17-10 16-20 14C-30 12-48 5-48 0ZM-48 0C-40 0-16 1 0 1C16 1 40 0 48 0M-22 0L-12-11M-22 0L-12 10M-4 0L6-11M-4 0L6 10M14 0L24-11M14 0L24 10"/><path transform="translate(162.8 31.0) scale(0.209 0.241) rotate(40)" d="M-48 0C-48-5-30-13-20-16C-10-19 4-20 15-17C26-14 48-5 48 0C48 5 26 13 15 15C4 17-10 16-20 14C-30 12-48 5-48 0ZM-48 0C-40 0-16 1 0 1C16 1 40 0 48 0M-22 0L-12-11M-22 0L-12 10M-4 0L6-11M-4 0L6 10M14 0L24-11M14 0L24 10"/><path transform="translate(295.8 29.9) scale(0.213 0.177) rotate(-20)" d="M0-28C7-28 15-40 22-38C29-36 40-25 42-15C44-5 41 12 36 22C31 32 18 40 12 42C6 44 4 36 0 36C-4 36-6 44-12 42C-18 40-31 32-36 22C-41 12-44-5-42-15C-40-25-29-36-22-38C-15-40-7-28 0-28ZM0-28C0-30 2-38 3-42C4-46 7-49 8-50M6-44C6-47 17-55 22-56C27-57 38-51 38-48C38-45 27-41 22-40C17-39 6-41 6-44Z"/><path transform="translate(315.6 29.8) scale(0.245 0.244) rotate(-20)" d="M44 0C44 7 43 16 39 22C35 29 28 34 21 37C15 41 7 43 0 44C-7 44-16 42-22 39C-29 35-35 29-38 22C-42 16-43 7-43 0C-43-7-41-15-38-22C-34-28-28-34-22-38C-16-42-7-45 0-45C7-45 16-42 22-38C28-34 34-28 38-22C41-15 44-7 44 0ZM36 0C36 6 34 13 31 18C28 23 23 28 18 30C12 34 6 36 0 36C-6 36-13 35-18 32C-23 28-28 23-31 18C-34 13-36 6-36 0C-36-6-35-13-32-18C-29-24-24-29-18-32C-13-35-6-36 0-36C6-36 12-33 18-30C23-27 28-23 31-18C34-13 36-6 36 0ZM4 1L33 7M2 3L19 28M-1 4L-7 33M-3 2L-28 19M-4-1L-33-7M-2-3L-19-28M1-4L7-33M3-2L28-19"/><path transform="translate(344.2 28.6) scale(0.341 0.218) rotate(70)" d="M-48 0C-48-5-30-13-20-16C-10-19 4-20 15-17C26-14 48-5 48 0C48 5 26 13 15 15C4 17-10 16-20 14C-30 12-48 5-48 0ZM-48 0C-40 0-16 1 0 1C16 1 40 0 48 0M-22 0L-12-11M-22 0L-12 10M-4 0L6-11M-4 0L6 10M14 0L24-11M14 0L24 10"/><path transform="translate(369.6 30.6) scale(0.248 0.357) rotate(20)" d="M-46-6C-43-1-38 19-30 26C-22 33-10 38 0 38C10 38 22 33 30 26C38 19 43-1 46-6ZM-36-6C-34-2-28 12-22 18C-16 24-7 28 0 28C7 28 16 24 22 18C28 12 34-2 36-6M0-4L26 10M0-4L15 22M0-4L0 26M0-4L-15 22M0-4L-26 10"/><path transform="translate(398.5 33.4) scale(0.178 0.178) rotate(40)" d="M6-5C10-6 23-10 30-9C37-8 46-3 46 0C46 3 37 8 30 9C23 10 10 6 6 5M8 1C11 3 24 10 28 15C32 20 35 30 32 32C30 35 20 32 15 28C10 24 3 11 1 8M5 6C6 10 10 23 9 30C8 37 3 46 0 46C-3 46-8 37-9 30C-10 23-6 10-5 6M-1 8C-3 11-10 24-15 28C-20 32-30 35-32 32C-35 30-32 20-28 15C-24 10-11 3-8 1M-6 5C-10 6-23 10-30 9C-37 8-46 3-46 0C-46-3-37-8-30-9C-23-10-10-6-6-5M-8-1C-11-3-24-10-28-15C-32-20-35-30-32-32C-30-35-20-32-15-28C-10-24-3-11-1-8M-5-6C-6-10-10-23-9-30C-8-37-3-46 0-46C3-46 8-37 9-30C10-23 6-10 5-6M1-8C3-11 10-24 15-28C20-32 30-35 32-32C35-30 32-20 28-15C24-10 11-3 8-1M5 0C5 1 4 2 4 3C3 4 2 5 2 5C1 5-1 5-2 5C-2 4-4 4-4 3C-5 2-5 1-5 0C-5-1-5-2-4-3C-4-4-3-5-2-5C-1-5 1-5 2-5C2-4 4-4 4-3C5-2 5-1 5 0Z"/><path transform="translate(424.7 28.4) scale(0.214 0.214) rotate(40)" d="M6-5C10-6 23-10 30-9C37-8 46-3 46 0C46 3 37 8 30 9C23 10 10 6 6 5M8 1C11 3 24 10 28 15C32 20 35 30 32 32C30 35 20 32 15 28C10 24 3 11 1 8M5 6C6 10 10 23 9 30C8 37 3 46 0 46C-3 46-8 37-9 30C-10 23-6 10-5 6M-1 8C-3 11-10 24-15 28C-20 32-30 35-32 32C-35 30-32 20-28 15C-24 10-11 3-8 1M-6 5C-10 6-23 10-30 9C-37 8-46 3-46 0C-46-3-37-8-30-9C-23-10-10-6-6-5M-8-1C-11-3-24-10-28-15C-32-20-35-30-32-32C-30-35-20-32-15-28C-10-24-3-11-1-8M-5-6C-6-10-10-23-9-30C-8-37-3-46 0-46C3-46 8-37 9-30C10-23 6-10 5-6M1-8C3-11 10-24 15-28C20-32 30-35 32-32C35-30 32-20 28-15C24-10 11-3 8-1M5 0C5 1 4 2 4 3C3 4 2 4 2 5C1 5-1 5-2 5C-2 4-3 4-4 3C-4 2-5 1-5 0C-5-1-4-2-4-3C-3-4-2-4-2-5C-1-5 1-5 2-5C2-4 4-4 4-3C5-2 5-1 5 0Z"/><path transform="translate(448.6 33.1) scale(0.240 0.224) rotate(90)" d="M-38 0C-43-5-36-20-30-26C-24-32-10-38 0-38C10-38 24-32 30-26C36-20 43-5 38 0C33 5 13 6 0 6C-13 6-33 5-38 0ZM-10 6C-11 11-16 30-14 36C-12 42-5 42 0 42C5 42 12 42 14 36C16 30 11 11 10 6M-20-8C-18-10-10-16-8-18"/><path transform="translate(495.1 30.5) scale(0.189 0.295) rotate(70)" d="M-2 26C-2 30-4 34-6 36C-8 39-12 42-15 42C-18 43-23 42-26 40C-29 38-32 35-33 32C-34 28-35 23-34 20C-33 17-29 14-26 12C-23 11-19 9-15 10C-12 10-7 13-5 15C-3 18-2 22-2 26ZM34 30C34 33 34 37 32 40C30 42 26 44 23 45C19 46 15 45 12 43C10 41 7 38 6 35C4 32 4 28 5 25C7 22 10 19 13 18C16 16 20 15 23 15C26 16 30 18 32 20C34 23 34 27 34 30ZM-16 10C-14 5-8-11-4-20C0-29 8-40 10-44M20 15C19 10 18-6 16-16C14-26 11-39 10-44M10-44C10-47 24-54 30-54C36-54 46-47 46-44C46-41 36-36 30-36C24-36 10-41 10-44Z"/><path transform="translate(579.1 24.8) scale(0.303 0.295) rotate(20)" d="M-38 0C-43-5-36-20-30-26C-24-32-10-38 0-38C10-38 24-32 30-26C36-20 43-5 38 0C33 5 13 6 0 6C-13 6-33 5-38 0ZM-10 6C-11 11-16 30-14 36C-12 42-5 42 0 42C5 42 12 42 14 36C16 30 11 11 10 6M-20-8C-18-10-10-16-8-18"/><path transform="translate(606.4 28.3) scale(0.227 0.186) rotate(20)" d="M0-24C8-24 18-33 24-30C30-27 37-17 36-8C35 1 24 17 18 26C12 35 6 44 0 44C-6 44-12 35-18 26C-24 17-35 1-36-8C-37-17-30-27-24-30C-18-33-8-24 0-24ZM-18-28L-8-40L0-28L8-40L18-28M0-40L0-50M-14-8L-12-5M10-10L12-7M-4 6L-2 9M14 10L16 13M-10 20L-8 23M2 26L4 29"/><path transform="translate(631.1 25.3) scale(0.271 0.377) rotate(-20)" d="M46 0C46 6 43 14 37 18C30 23 18 26 8 27C-2 28-16 27-23 24C-31 21-35 14-38 8C-41 3-43-3-41-9C-38-14-32-21-24-24C-16-28-2-29 8-28C18-27 29-22 35-18C42-13 46-6 46 0ZM-12-4C-12-4-12-3-12-3C-13-2-13-2-13-2C-14-2-14-2-15-2C-15-2-15-2-16-3C-16-3-16-4-16-4C-16-4-16-5-16-5C-15-6-15-6-15-6C-14-6-14-6-13-6C-13-6-13-6-12-5C-12-5-12-4-12-4ZM10 6C10 6 10 7 10 7C9 8 9 8 9 8C8 8 8 8 7 8C7 8 7 8 6 7C6 7 6 6 6 6C6 6 6 5 6 5C7 5 7 4 7 4C8 4 8 4 9 4C9 4 9 4 10 5C10 5 10 6 10 6ZM22-8C22-8 22-7 22-7C22-6 21-6 21-6C20-6 20-6 19-6C19-6 19-6 18-7C18-7 18-8 18-8C18-8 18-9 18-9C19-10 19-10 19-10C20-10 20-10 21-10C21-10 21-10 22-9C22-9 22-8 22-8Z"/><path transform="translate(817.7 31.9) scale(0.282 0.325) rotate(-40)" d="M-48 0C-48-5-30-13-20-16C-10-19 4-20 15-17C26-14 48-5 48 0C48 5 26 13 15 15C4 17-10 16-20 14C-30 12-48 5-48 0ZM-48 0C-40 0-16 1 0 1C16 1 40 0 48 0M-22 0L-12-11M-22 0L-12 10M-4 0L6-11M-4 0L6 10M14 0L24-11M14 0L24 10"/><path transform="translate(944.3 34.7) scale(0.281 0.324) rotate(-40)" d="M-48 0C-48-5-30-13-20-16C-10-19 4-20 15-17C26-14 48-5 48 0C48 5 26 13 15 15C4 17-10 16-20 14C-30 12-48 5-48 0ZM-48 0C-40 0-16 1 0 1C16 1 40 0 48 0M-22 0L-12-11M-22 0L-12 10M-4 0L6-11M-4 0L6 10M14 0L24-11M14 0L24 10"/><path transform="translate(972.5 30.1) scale(0.238 0.225) rotate(40)" d="M0-24C8-24 18-33 24-30C30-27 37-17 36-8C35 1 24 17 18 26C12 35 6 44 0 44C-6 44-12 35-18 26C-24 17-35 1-36-8C-37-17-30-27-24-30C-18-33-8-24 0-24ZM-18-28L-8-40L0-28L8-40L18-28M0-40L0-50M-14-8L-12-5M10-10L12-7M-4 6L-2 9M14 10L16 13M-10 20L-8 23M2 26L4 29"/><path transform="translate(1000.7 30.4) scale(0.396 0.254) rotate(90)" d="M-46-6C-43-1-38 19-30 26C-22 33-10 38 0 38C10 38 22 33 30 26C38 19 43-1 46-6ZM-36-6C-34-2-28 12-22 18C-16 24-7 28 0 28C7 28 16 24 22 18C28 12 34-2 36-6M0-4L26 10M0-4L15 22M0-4L0 26M0-4L-15 22M0-4L-26 10"/><path transform="translate(1015.6 31.2) scale(0.512 0.328) rotate(90)" d="M-14 0C-14 2-15 4-16 5C-17 6-20 7-21 6C-23 6-25 4-26 3C-27 1-27-2-27-3C-26-5-24-7-22-7C-20-8-17-7-16-5C-14-4-14-2-14 0ZM8-8C8-6 6-3 5-2C3-1 0 0-2 0C-4 0-6-3-7-4C-8-6-8-9-7-11C-6-13-4-15-2-16C0-16 3-15 5-14C6-13 8-10 8-8ZM26 4C26 6 26 9 25 10C23 11 20 11 19 10C17 10 15 9 14 7C13 5 13 2 13 1C14-1 16-2 18-3C20-3 23-3 25-2C26-1 26 2 26 4Z"/><path transform="translate(1203.1 31.2) scale(0.215 0.174) rotate(0)" d="M-2 26C-2 30-3 34-5 37C-7 39-12 40-15 41C-19 42-23 42-26 40C-29 39-32 35-33 31C-34 28-34 24-32 21C-31 18-29 14-26 12C-23 11-18 9-15 10C-12 10-8 13-6 16C-3 18-2 22-2 26ZM35 30C35 33 34 38 32 40C30 42 26 44 22 44C19 44 15 44 13 43C10 41 7 38 6 35C5 32 4 28 5 25C6 22 9 18 12 16C15 15 19 15 22 16C26 16 30 18 32 20C34 22 35 27 35 30ZM-16 10C-14 5-8-11-4-20C0-29 8-40 10-44M20 15C19 10 18-6 16-16C14-26 11-39 10-44M10-44C10-47 24-54 30-54C36-54 46-47 46-44C46-41 36-36 30-36C24-36 10-41 10-44Z"/><path transform="translate(1255.5 34.6) scale(0.260 0.209) rotate(-20)" d="M30 0C30 8 28 17 24 23C20 29 15 35 9 37C4 40-4 40-9 38C-15 36-21 30-24 24C-28 17-30 8-30 0C-30-8-27-17-24-23C-21-30-15-37-10-39C-4-42 4-41 9-38C15-35 20-30 24-23C28-17 30-8 30 0ZM-26-8C-24-7-16-2-12-2C-8-2-4-10 0-10C4-10 8-2 12-2C16-2 24-7 26-8M-28 10C-25 11-17 16-12 16C-7 16-4 8 0 8C4 8 7 16 12 16C17 16 25 11 28 10"/><path transform="translate(1253.4 51.7) scale(0.234 0.255) rotate(20)" d="M-2 26C-2 29-4 33-6 36C-8 39-12 41-15 42C-18 42-23 41-26 39C-29 38-31 34-33 31C-34 28-35 24-34 20C-33 17-29 14-26 12C-23 10-19 10-15 10C-12 11-8 13-6 16C-3 18-2 23-2 26ZM35 30C35 33 34 37 32 40C29 42 26 44 23 45C19 45 15 44 13 42C10 41 8 38 7 35C6 32 5 28 6 25C7 22 10 19 13 17C15 16 19 15 22 16C26 16 30 18 32 20C34 22 35 27 35 30ZM-16 10C-14 5-8-11-4-20C0-29 8-40 10-44M20 15C19 10 18-6 16-16C14-26 11-39 10-44M10-44C10-47 24-54 30-54C36-54 46-47 46-44C46-41 36-36 30-36C24-36 10-41 10-44Z"/><path transform="translate(530.6 80.4) scale(0.222 0.282) rotate(90)" d="M0-24C8-24 18-33 24-30C30-27 37-17 36-8C35 1 24 17 18 26C12 35 6 44 0 44C-6 44-12 35-18 26C-24 17-35 1-36-8C-37-17-30-27-24-30C-18-33-8-24 0-24ZM-18-28L-8-40L0-28L8-40L18-28M0-40L0-50M-14-8L-12-5M10-10L12-7M-4 6L-2 9M14 10L16 13M-10 20L-8 23M2 26L4 29"/><path transform="translate(552.4 84.3) scale(0.236 0.283) rotate(70)" d="M0-28C7-28 15-40 22-38C29-36 40-25 42-15C44-5 41 12 36 22C31 32 18 40 12 42C6 44 4 36 0 36C-4 36-6 44-12 42C-18 40-31 32-36 22C-41 12-44-5-42-15C-40-25-29-36-22-38C-15-40-7-28 0-28ZM0-28C0-30 2-38 3-42C4-46 7-49 8-50M6-44C6-47 17-55 22-56C27-57 38-51 38-48C38-45 27-41 22-40C17-39 6-41 6-44Z"/><path transform="translate(580.9 79.3) scale(0.213 0.332) rotate(20)" d="M-48 0C-48-5-30-13-20-16C-10-19 4-20 15-17C26-14 48-5 48 0C48 5 26 13 15 15C4 17-10 16-20 14C-30 12-48 5-48 0ZM-48 0C-40 0-16 1 0 1C16 1 40 0 48 0M-22 0L-12-11M-22 0L-12 10M-4 0L6-11M-4 0L6 10M14 0L24-11M14 0L24 10"/><path transform="translate(738.6 82.4) scale(0.196 0.210) rotate(0)" d="M-38 0C-43-5-36-20-30-26C-24-32-10-38 0-38C10-38 24-32 30-26C36-20 43-5 38 0C33 5 13 6 0 6C-13 6-33 5-38 0ZM-10 6C-11 11-16 30-14 36C-12 42-5 42 0 42C5 42 12 42 14 36C16 30 11 11 10 6M-20-8C-18-10-10-16-8-18"/><path transform="translate(1262.1 78.2) scale(0.233 0.224) rotate(40)" d="M-38 0C-43-5-36-20-30-26C-24-32-10-38 0-38C10-38 24-32 30-26C36-20 43-5 38 0C33 5 13 6 0 6C-13 6-33 5-38 0ZM-10 6C-11 11-16 30-14 36C-12 42-5 42 0 42C5 42 12 42 14 36C16 30 11 11 10 6M-20-8C-18-10-10-16-8-18"/><path transform="translate(135.8 103.0) scale(0.188 0.216) rotate(40)" d="M-48 0C-48-5-30-13-20-16C-10-19 4-20 15-17C26-14 48-5 48 0C48 5 26 13 15 15C4 17-10 16-20 14C-30 12-48 5-48 0ZM-48 0C-40 0-16 1 0 1C16 1 40 0 48 0M-22 0L-12-11M-22 0L-12 10M-4 0L6-11M-4 0L6 10M14 0L24-11M14 0L24 10"/><path transform="translate(759.0 107.1) scale(0.337 0.439) rotate(-40)" d="M-13 0C-13 2-14 4-16 5C-17 6-20 7-22 7C-23 6-26 5-26 3C-27 2-27-1-26-3C-25-5-23-7-22-7C-20-8-17-7-16-6C-14-4-13-2-13 0ZM7-8C7-6 6-4 5-2C3-1 0 1-2 0C-4 0-6-2-7-4C-8-6-8-9-7-11C-6-13-4-16-2-16C0-16 3-15 4-14C6-12 7-10 7-8ZM28 4C28 6 26 9 25 10C23 11 20 12 18 11C17 10 15 8 14 7C14 5 13 3 14 1C14-1 17-3 18-3C20-4 23-3 24-2C26 0 28 2 28 4Z"/><path transform="translate(381.4 136.6) scale(0.314 0.342) rotate(-40)" d="M41 0C41 5 38 12 32 16C26 20 16 22 7 23C-2 24-14 25-22 23C-30 20-36 14-39 8C-42 3-43-3-41-9C-38-14-32-21-24-24C-16-27-1-29 8-28C18-26 28-21 34-17C39-12 42-5 41 0ZM-12-4C-12-4-12-3-12-3C-13-2-13-2-13-2C-14-2-14-2-15-2C-15-2-15-2-16-3C-16-3-16-4-16-4C-16-4-16-5-16-5C-15-6-15-6-15-6C-14-6-14-6-13-6C-13-6-12-6-12-5C-12-5-12-4-12-4ZM10 6C10 6 10 7 10 7C10 8 9 8 9 8C8 8 8 8 7 8C7 8 7 7 6 7C6 7 6 6 6 6C6 6 6 5 6 5C6 4 7 4 7 4C8 4 8 4 9 4C9 4 9 4 10 5C10 5 10 6 10 6ZM22-8C22-8 22-7 22-7C21-7 21-6 21-6C20-6 20-6 19-6C19-6 19-6 18-7C18-7 18-8 18-8C18-8 18-9 18-9C19-10 19-10 19-10C20-10 20-10 21-10C21-10 21-10 22-9C22-9 22-8 22-8Z"/><path transform="translate(406.2 130.5) scale(0.177 0.177) rotate(-20)" d="M6-5C10-6 23-10 30-9C37-8 46-3 46 0C46 3 37 8 30 9C23 10 10 6 6 5M8 1C11 3 24 10 28 15C32 20 35 30 32 32C30 35 20 32 15 28C10 24 3 11 1 8M5 6C6 10 10 23 9 30C8 37 3 46 0 46C-3 46-8 37-9 30C-10 23-6 10-5 6M-1 8C-3 11-10 24-15 28C-20 32-30 35-32 32C-35 30-32 20-28 15C-24 10-11 3-8 1M-6 5C-10 6-23 10-30 9C-37 8-46 3-46 0C-46-3-37-8-30-9C-23-10-10-6-6-5M-8-1C-11-3-24-10-28-15C-32-20-35-30-32-32C-30-35-20-32-15-28C-10-24-3-11-1-8M-5-6C-6-10-10-23-9-30C-8-37-3-46 0-46C3-46 8-37 9-30C10-23 6-10 5-6M1-8C3-11 10-24 15-28C20-32 30-35 32-32C35-30 32-20 28-15C24-10 11-3 8-1M5 0C5 1 4 2 4 3C3 4 2 5 2 5C1 5-1 5-2 4C-2 4-3 4-4 3C-4 2-5 1-5 0C-5-1-5-2-4-3C-4-4-2-4-2-5C-1-5 1-5 2-5C2-4 4-4 4-3C5-2 5-1 5 0Z"/><path transform="translate(428.5 138.8) scale(0.181 0.152) rotate(-40)" d="M0-28C7-28 15-40 22-38C29-36 40-25 42-15C44-5 41 12 36 22C31 32 18 40 12 42C6 44 4 36 0 36C-4 36-6 44-12 42C-18 40-31 32-36 22C-41 12-44-5-42-15C-40-25-29-36-22-38C-15-40-7-28 0-28ZM0-28C0-30 2-38 3-42C4-46 7-49 8-50M6-44C6-47 17-55 22-56C27-57 38-51 38-48C38-45 27-41 22-40C17-39 6-41 6-44Z"/><path transform="translate(1133.3 137.7) scale(0.180 0.282) rotate(-20)" d="M-48 0C-48-5-30-13-20-16C-10-19 4-20 15-17C26-14 48-5 48 0C48 5 26 13 15 15C4 17-10 16-20 14C-30 12-48 5-48 0ZM-48 0C-40 0-16 1 0 1C16 1 40 0 48 0M-22 0L-12-11M-22 0L-12 10M-4 0L6-11M-4 0L6 10M14 0L24-11M14 0L24 10"/><path transform="translate(1236.5 132.3) scale(0.219 0.252) rotate(-40)" d="M-48 0C-48-5-30-13-20-16C-10-19 4-20 15-17C26-14 48-5 48 0C48 5 26 13 15 15C4 17-10 16-20 14C-30 12-48 5-48 0ZM-48 0C-40 0-16 1 0 1C16 1 40 0 48 0M-22 0L-12-11M-22 0L-12 10M-4 0L6-11M-4 0L6 10M14 0L24-11M14 0L24 10"/><path transform="translate(14.3 157.1) scale(0.189 0.226) rotate(70)" d="M0-28C7-28 15-40 22-38C29-36 40-25 42-15C44-5 41 12 36 22C31 32 18 40 12 42C6 44 4 36 0 36C-4 36-6 44-12 42C-18 40-31 32-36 22C-41 12-44-5-42-15C-40-25-29-36-22-38C-15-40-7-28 0-28ZM0-28C0-30 2-38 3-42C4-46 7-49 8-50M6-44C6-47 17-55 22-56C27-57 38-51 38-48C38-45 27-41 22-40C17-39 6-41 6-44Z"/><path transform="translate(39.1 165.3) scale(0.246 0.385) rotate(-20)" d="M43 0C43 5 38 12 32 16C26 20 16 23 7 24C-1 25-13 24-20 21C-28 18-33 13-38 8C-42 3-47-4-45-10C-43-15-33-22-24-24C-15-27-2-26 7-25C17-24 27-21 33-16C39-12 44-5 43 0ZM-12-4C-12-4-12-3-12-3C-12-2-13-2-13-2C-14-2-14-2-15-2C-15-2-15-2-16-3C-16-3-16-4-16-4C-16-4-16-5-16-5C-15-5-15-6-15-6C-14-6-14-6-13-6C-13-6-13-6-12-5C-12-5-12-4-12-4ZM10 6C10 6 10 7 10 7C9 8 9 8 9 8C8 8 8 8 7 8C7 8 7 8 6 7C6 7 6 6 6 6C6 6 6 5 6 5C7 4 7 4 7 4C8 4 8 4 9 4C9 4 9 4 10 5C10 5 10 6 10 6ZM22-8C22-8 22-7 22-7C22-6 21-6 21-6C20-6 20-6 19-6C19-6 19-6 18-7C18-7 18-8 18-8C18-8 18-9 18-9C19-9 19-10 19-10C20-10 20-10 21-10C21-10 21-9 22-9C22-9 22-8 22-8Z"/><path transform="translate(892.8 163.1) scale(0.225 0.351) rotate(-20)" d="M-48 0C-48-5-30-13-20-16C-10-19 4-20 15-17C26-14 48-5 48 0C48 5 26 13 15 15C4 17-10 16-20 14C-30 12-48 5-48 0ZM-48 0C-40 0-16 1 0 1C16 1 40 0 48 0M-22 0L-12-11M-22 0L-12 10M-4 0L6-11M-4 0L6 10M14 0L24-11M14 0L24 10"/><path transform="translate(1025.3 162.3) scale(0.285 0.285) rotate(20)" d="M6-5C10-6 23-10 30-9C37-8 46-3 46 0C46 3 37 8 30 9C23 10 10 6 6 5M8 1C11 3 24 10 28 15C32 20 35 30 32 32C30 35 20 32 15 28C10 24 3 11 1 8M5 6C6 10 10 23 9 30C8 37 3 46 0 46C-3 46-8 37-9 30C-10 23-6 10-5 6M-1 8C-3 11-10 24-15 28C-20 32-30 35-32 32C-35 30-32 20-28 15C-24 10-11 3-8 1M-6 5C-10 6-23 10-30 9C-37 8-46 3-46 0C-46-3-37-8-30-9C-23-10-10-6-6-5M-8-1C-11-3-24-10-28-15C-32-20-35-30-32-32C-30-35-20-32-15-28C-10-24-3-11-1-8M-5-6C-6-10-10-23-9-30C-8-37-3-46 0-46C3-46 8-37 9-30C10-23 6-10 5-6M1-8C3-11 10-24 15-28C20-32 30-35 32-32C35-30 32-20 28-15C24-10 11-3 8-1M5 0C5 1 5 2 4 3C3 4 2 4 2 5C1 5-1 5-2 4C-2 4-3 4-4 3C-4 2-5 1-5 0C-5-1-5-2-4-3C-3-4-2-4-2-5C-1-5 1-5 2-5C2-5 4-4 4-3C5-2 5-1 5 0Z"/><path transform="translate(1207.3 157.2) scale(0.242 0.194) rotate(20)" d="M30 0C30 8 27 17 24 23C20 30 15 37 10 39C4 42-3 40-9 37C-15 35-21 30-24 24C-28 17-30 8-30 0C-30-8-27-17-24-23C-20-30-15-36-10-39C-4-41 4-41 9-38C15-36 21-30 25-24C28-17 30-8 30 0ZM-26-8C-24-7-16-2-12-2C-8-2-4-10 0-10C4-10 8-2 12-2C16-2 24-7 26-8M-28 10C-25 11-17 16-12 16C-7 16-4 8 0 8C4 8 7 16 12 16C17 16 25 11 28 10"/><path transform="translate(473.7 182.9) scale(0.548 0.351) rotate(90)" d="M-30 10C-27 7-17-10-10-10C-3-10 3 8 10 8C17 8 27-9 30-12"/><path transform="translate(1202.6 187.6) scale(0.278 0.388) rotate(-20)" d="M41 0C41 6 42 14 36 18C30 22 17 24 7 24C-2 25-14 26-22 23C-31 20-40 15-43 9C-46 4-44-3-40-9C-36-14-29-19-21-22C-13-24-2-25 7-25C17-24 31-22 37-18C42-14 41-6 41 0ZM-12-4C-12-4-12-3-12-3C-13-2-13-2-13-2C-14-2-14-2-15-2C-15-2-15-2-16-3C-16-3-16-4-16-4C-16-4-16-5-16-5C-15-5-15-6-15-6C-14-6-14-6-13-6C-13-6-12-6-12-5C-12-5-12-4-12-4ZM10 6C10 6 10 7 10 7C10 8 9 8 9 8C8 8 8 8 7 8C7 8 7 8 6 7C6 7 6 6 6 6C6 6 6 5 6 5C7 4 7 4 7 4C8 4 8 4 9 4C9 4 9 5 10 5C10 5 10 6 10 6ZM22-8C22-8 22-7 22-7C21-6 21-6 21-6C20-6 20-6 19-6C19-6 19-6 18-7C18-7 18-8 18-8C18-8 18-9 18-9C19-9 19-10 19-10C20-10 20-10 21-10C21-10 21-10 22-9C22-9 22-8 22-8Z"/><path transform="translate(1028.2 209.9) scale(0.427 0.420) rotate(20)" d="M-30 20L0-30L30 20ZM-2 6C-2 6-2 7-2 7C-2 8-3 8-3 8C-4 8-4 8-5 8C-5 8-5 8-6 7C-6 7-6 6-6 6C-6 6-6 5-6 5C-5 4-5 4-5 4C-4 4-4 4-3 4C-3 4-3 4-2 5C-2 5-2 6-2 6ZM8 10C8 10 8 11 8 11C7 11 7 12 7 12C6 12 6 12 5 12C5 12 5 12 4 11C4 11 4 10 4 10C4 10 4 9 4 9C5 8 5 8 5 8C6 8 6 8 7 8C7 8 7 8 8 9C8 9 8 10 8 10ZM2-8C2-8 2-7 2-7C1-6 1-6 1-6C0-6 0-6-1-6C-1-6-2-6-2-7C-2-7-2-8-2-8C-2-8-2-9-2-9C-1-10-1-10-1-10C0-10 0-10 1-10C1-10 1-10 2-9C2-9 2-8 2-8Z"/><path transform="translate(1253.3 216.6) scale(0.281 0.280) rotate(90)" d="M43 0C44 7 42 16 38 22C35 28 28 34 22 38C15 41 7 43 0 43C-7 43-15 41-22 37C-28 34-34 28-38 22C-42 16-44 7-44 0C-45-7-42-16-38-22C-35-29-28-34-22-38C-16-42-7-45 0-45C7-45 16-42 22-38C28-34 34-28 38-22C41-16 43-7 43 0ZM36 0C36 6 35 13 32 18C28 23 23 28 18 31C13 34 6 37 0 37C-6 37-12 33-18 30C-23 27-28 23-31 18C-34 13-37 6-37 0C-37-6-35-13-32-18C-29-24-23-28-18-31C-12-34-6-37 0-37C6-37 13-34 18-31C23-28 29-24 32-18C35-13 37-6 36 0ZM4 1L33 7M2 3L19 28M-1 4L-7 33M-3 2L-28 19M-4-1L-33-7M-2-3L-19-28M1-4L7-33M3-2L28-19"/><path transform="translate(2.2 240.8) scale(0.264 0.252) rotate(40)" d="M30 0C30 8 28 17 24 24C21 30 15 36 9 38C4 41-4 42-10 39C-15 37-21 30-24 23C-27 17-30 8-30 0C-30-8-27-17-24-23C-20-29-15-36-9-38C-4-41 3-40 9-37C15-35 21-30 25-24C28-18 30-8 30 0ZM-26-8C-24-7-16-2-12-2C-8-2-4-10 0-10C4-10 8-2 12-2C16-2 24-7 26-8M-28 10C-25 11-17 16-12 16C-7 16-4 8 0 8C4 8 7 16 12 16C17 16 25 11 28 10"/><path transform="translate(34.4 235.1) scale(0.321 0.206) rotate(70)" d="M-48 0C-48-5-30-13-20-16C-10-19 4-20 15-17C26-14 48-5 48 0C48 5 26 13 15 15C4 17-10 16-20 14C-30 12-48 5-48 0ZM-48 0C-40 0-16 1 0 1C16 1 40 0 48 0M-22 0L-12-11M-22 0L-12 10M-4 0L6-11M-4 0L6 10M14 0L24-11M14 0L24 10"/><path transform="translate(341.2 237.0) scale(0.190 0.217) rotate(90)" d="M0-28C7-28 15-40 22-38C29-36 40-25 42-15C44-5 41 12 36 22C31 32 18 40 12 42C6 44 4 36 0 36C-4 36-6 44-12 42C-18 40-31 32-36 22C-41 12-44-5-42-15C-40-25-29-36-22-38C-15-40-7-28 0-28ZM0-28C0-30 2-38 3-42C4-46 7-49 8-50M6-44C6-47 17-55 22-56C27-57 38-51 38-48C38-45 27-41 22-40C17-39 6-41 6-44Z"/><path transform="translate(1101.6 239.7) scale(0.235 0.362) rotate(20)" d="M41 0C40 6 37 11 32 16C26 20 17 27 8 28C-1 29-13 26-22 22C-31 19-40 14-44 9C-46 4-44-4-40-9C-36-14-29-19-21-21C-13-24-2-25 7-25C17-24 31-22 37-18C42-14 42-6 41 0ZM-12-4C-12-4-12-3-12-3C-12-2-13-2-13-2C-14-2-14-2-15-2C-15-2-15-2-16-3C-16-3-16-4-16-4C-16-4-16-5-16-5C-16-6-15-6-15-6C-14-6-14-6-13-6C-13-6-13-6-12-5C-12-5-12-4-12-4ZM10 6C10 6 10 7 10 7C9 8 9 8 9 8C8 8 8 8 7 8C7 8 7 8 6 7C6 7 6 6 6 6C6 6 6 5 6 5C7 5 7 4 7 4C8 4 8 4 9 4C9 4 9 4 10 5C10 5 10 6 10 6ZM22-8C22-8 22-7 22-7C21-6 21-6 21-6C20-6 20-6 19-6C19-6 19-6 18-7C18-7 18-8 18-8C18-8 18-9 18-9C19-10 19-10 19-10C20-10 20-10 21-10C21-10 21-10 22-9C22-9 22-8 22-8Z"/><path transform="translate(1249.6 236.9) scale(0.243 0.229) rotate(-40)" d="M0-24C8-24 18-33 24-30C30-27 37-17 36-8C35 1 24 17 18 26C12 35 6 44 0 44C-6 44-12 35-18 26C-24 17-35 1-36-8C-37-17-30-27-24-30C-18-33-8-24 0-24ZM-18-28L-8-40L0-28L8-40L18-28M0-40L0-50M-14-8L-12-5M10-10L12-7M-4 6L-2 9M14 10L16 13M-10 20L-8 23M2 26L4 29"/><path transform="translate(1275.2 239.4) scale(0.340 0.278) rotate(20)" d="M0-24C8-24 18-33 24-30C30-27 37-17 36-8C35 1 24 17 18 26C12 35 6 44 0 44C-6 44-12 35-18 26C-24 17-35 1-36-8C-37-17-30-27-24-30C-18-33-8-24 0-24ZM-18-28L-8-40L0-28L8-40L18-28M0-40L0-50M-14-8L-12-5M10-10L12-7M-4 6L-2 9M14 10L16 13M-10 20L-8 23M2 26L4 29"/><path transform="translate(7.4 267.8) scale(0.219 0.140) rotate(-20)" d="M-2 26C-2 29-4 33-6 36C-8 38-12 40-15 41C-19 42-23 42-26 40C-29 39-32 35-34 32C-34 28-34 24-32 21C-31 18-29 13-26 12C-24 10-19 9-15 10C-12 11-8 13-5 15C-3 18-1 23-2 26ZM35 30C35 33 34 37 31 40C29 42 26 44 22 44C19 45 15 45 12 43C10 42 7 38 6 35C4 32 5 28 6 25C7 22 10 19 13 17C15 16 19 15 23 15C26 16 30 18 32 20C34 22 35 27 35 30ZM-16 10C-14 5-8-11-4-20C0-29 8-40 10-44M20 15C19 10 18-6 16-16C14-26 11-39 10-44M10-44C10-47 24-54 30-54C36-54 46-47 46-44C46-41 36-36 30-36C24-36 10-41 10-44Z"/><path transform="translate(12.2 293.8) scale(0.313 0.392) rotate(70)" d="M30 0C30 8 27 17 24 23C20 30 15 36 10 39C4 42-4 42-10 39C-15 36-20 30-24 23C-27 16-29 8-30 0C-30-8-28-18-25-24C-21-30-15-35-9-38C-4-40 4-40 9-38C15-36 21-30 24-24C28-17 30-8 30 0ZM-26-8C-24-7-16-2-12-2C-8-2-4-10 0-10C4-10 8-2 12-2C16-2 24-7 26-8M-28 10C-25 11-17 16-12 16C-7 16-4 8 0 8C4 8 7 16 12 16C17 16 25 11 28 10"/><path transform="translate(349.0 294.3) scale(0.193 0.301) rotate(0)" d="M42 0C42 6 40 13 34 17C28 21 16 23 7 24C-2 25-13 24-21 21C-29 19-38 14-42 9C-45 4-44-3-41-9C-38-14-32-22-24-24C-16-27-3-25 7-24C17-23 31-22 36-18C42-14 42-6 42 0ZM-12-4C-12-4-12-3-12-3C-13-2-13-2-13-2C-14-2-14-2-15-2C-15-2-16-2-16-3C-16-3-16-4-16-4C-16-4-16-5-16-5C-16-6-15-6-15-6C-14-6-14-6-13-6C-13-6-13-6-12-5C-12-5-12-4-12-4ZM10 6C10 6 10 7 10 7C9 7 9 8 9 8C8 8 8 8 7 8C7 8 7 7 6 7C6 7 6 6 6 6C6 6 6 5 6 5C7 4 7 4 7 4C8 4 8 4 9 4C9 4 9 5 10 5C10 5 10 6 10 6ZM22-8C22-8 22-7 22-7C21-6 21-6 21-6C20-6 20-6 19-6C19-6 19-6 18-7C18-7 18-8 18-8C18-8 18-9 18-9C19-10 19-10 19-10C20-10 20-10 21-10C21-10 22-10 22-9C22-9 22-8 22-8Z"/><path transform="translate(1203.0 292.1) scale(0.294 0.318) rotate(40)" d="M-46-6C-43-1-38 19-30 26C-22 33-10 38 0 38C10 38 22 33 30 26C38 19 43-1 46-6ZM-36-6C-34-2-28 12-22 18C-16 24-7 28 0 28C7 28 16 24 22 18C28 12 34-2 36-6M0-4L26 10M0-4L15 22M0-4L0 26M0-4L-15 22M0-4L-26 10"/><path transform="translate(1227.1 286.2) scale(0.382 0.245) rotate(90)" d="M-48 0C-48-5-30-13-20-16C-10-19 4-20 15-17C26-14 48-5 48 0C48 5 26 13 15 15C4 17-10 16-20 14C-30 12-48 5-48 0ZM-48 0C-40 0-16 1 0 1C16 1 40 0 48 0M-22 0L-12-11M-22 0L-12 10M-4 0L6-11M-4 0L6 10M14 0L24-11M14 0L24 10"/><path transform="translate(167.7 314.5) scale(0.268 0.216) rotate(90)" d="M37 0C38 7 40 17 35 22C30 27 16 28 7 29C-3 30-15 32-22 29C-30 26-35 17-37 10C-40 4-41-5-38-10C-35-16-26-20-19-24C-11-28 0-33 8-32C16-31 25-24 29-18C34-13 36-7 37 0Z"/><path transform="translate(319.9 318.4) scale(0.371 0.348) rotate(40)" d="M31 0C31 8 28 18 25 24C21 30 15 36 9 38C4 40-4 39-9 37C-14 34-20 29-24 23C-27 17-30 8-30 0C-30-8-28-17-24-23C-21-30-15-36-9-38C-4-40 3-39 9-37C15-34 21-30 24-24C28-17 31-8 31 0ZM-26-8C-24-7-16-2-12-2C-8-2-4-10 0-10C4-10 8-2 12-2C16-2 24-7 26-8M-28 10C-25 11-17 16-12 16C-7 16-4 8 0 8C4 8 7 16 12 16C17 16 25 11 28 10"/><path transform="translate(819.2 310.9) scale(0.209 0.226) rotate(40)" d="M-46-6C-43-1-38 19-30 26C-22 33-10 38 0 38C10 38 22 33 30 26C38 19 43-1 46-6ZM-36-6C-34-2-28 12-22 18C-16 24-7 28 0 28C7 28 16 24 22 18C28 12 34-2 36-6M0-4L26 10M0-4L15 22M0-4L0 26M0-4L-15 22M0-4L-26 10"/><path transform="translate(919.5 313.7) scale(0.199 0.310) rotate(20)" d="M-48 0C-48-5-30-13-20-16C-10-19 4-20 15-17C26-14 48-5 48 0C48 5 26 13 15 15C4 17-10 16-20 14C-30 12-48 5-48 0ZM-48 0C-40 0-16 1 0 1C16 1 40 0 48 0M-22 0L-12-11M-22 0L-12 10M-4 0L6-11M-4 0L6 10M14 0L24-11M14 0L24 10"/><path transform="translate(1150.8 316.4) scale(0.336 0.215) rotate(-40)" d="M-1 26C-1 30-3 34-5 37C-8 39-12 42-15 42C-19 43-23 42-26 40C-29 38-32 35-33 32C-34 28-35 24-34 20C-33 17-29 13-26 12C-23 10-19 10-15 10C-12 11-8 13-6 16C-3 18-2 22-1 26ZM36 30C36 33 34 37 32 40C29 42 26 44 23 45C20 45 16 44 13 43C10 41 7 38 6 35C5 32 5 28 6 25C7 22 9 18 12 16C15 15 19 14 23 14C26 15 30 17 32 20C34 22 36 27 36 30ZM-16 10C-14 5-8-11-4-20C0-29 8-40 10-44M20 15C19 10 18-6 16-16C14-26 11-39 10-44M10-44C10-47 24-54 30-54C36-54 46-47 46-44C46-41 36-36 30-36C24-36 10-41 10-44Z"/><path transform="translate(1180.8 315.7) scale(0.250 0.263) rotate(-40)" d="M45 0C45 6 33 12 26 17C20 21 14 24 6 26C-2 27-11 27-19 25C-27 22-38 17-41 11C-44 5-42-4-38-10C-34-16-26-22-18-24C-11-27-2-27 6-26C14-25 22-22 28-18C35-14 46-6 45 0Z"/><path transform="translate(1208.2 318.2) scale(0.294 0.188) rotate(90)" d="M-48 0C-48-5-30-13-20-16C-10-19 4-20 15-17C26-14 48-5 48 0C48 5 26 13 15 15C4 17-10 16-20 14C-30 12-48 5-48 0ZM-48 0C-40 0-16 1 0 1C16 1 40 0 48 0M-22 0L-12-11M-22 0L-12 10M-4 0L6-11M-4 0L6 10M14 0L24-11M14 0L24 10"/><path transform="translate(109.5 339.8) scale(0.397 0.254) rotate(90)" d="M-48 0C-48-5-30-13-20-16C-10-19 4-20 15-17C26-14 48-5 48 0C48 5 26 13 15 15C4 17-10 16-20 14C-30 12-48 5-48 0ZM-48 0C-40 0-16 1 0 1C16 1 40 0 48 0M-22 0L-12-11M-22 0L-12 10M-4 0L6-11M-4 0L6 10M14 0L24-11M14 0L24 10"/><path transform="translate(144.2 340.3) scale(0.175 0.274) rotate(0)" d="M-46-6C-43-1-38 19-30 26C-22 33-10 38 0 38C10 38 22 33 30 26C38 19 43-1 46-6ZM-36-6C-34-2-28 12-22 18C-16 24-7 28 0 28C7 28 16 24 22 18C28 12 34-2 36-6M0-4L26 10M0-4L15 22M0-4L0 26M0-4L-15 22M0-4L-26 10"/><path transform="translate(161.4 341.4) scale(0.186 0.186) rotate(-20)" d="M43 0C43 7 41 15 37 22C34 28 28 35 22 39C16 42 7 43 0 43C-7 43-15 41-22 37C-28 34-35 28-38 22C-42 16-43 7-43 0C-43-7-42-16-39-22C-35-29-29-35-22-38C-16-42-7-45 0-45C7-45 16-42 22-39C29-35 35-29 39-22C42-16 43-7 43 0ZM36 0C35 6 34 13 31 18C28 23 23 28 18 31C13 34 6 36 0 36C-6 36-13 35-18 32C-24 29-28 23-31 18C-34 13-37 6-37 0C-37-6-35-13-31-18C-28-23-23-28-18-30C-12-33-6-35 0-35C6-36 13-34 18-31C23-28 29-24 32-18C35-13 36-6 36 0ZM4 1L33 7M2 3L19 28M-1 4L-7 33M-3 2L-28 19M-4-1L-33-7M-2-3L-19-28M1-4L7-33M3-2L28-19"/><path transform="translate(194.5 337.4) scale(0.430 0.324) rotate(0)" d="M30 0C30 8 27 17 24 23C20 30 15 35 9 38C4 40-4 40-9 38C-15 36-21 30-24 23C-28 17-31 8-31 0C-31-8-28-17-24-24C-21-30-15-35-9-38C-4-40 4-40 9-38C15-35 21-30 24-24C28-17 30-8 30 0ZM-26-8C-24-7-16-2-12-2C-8-2-4-10 0-10C4-10 8-2 12-2C16-2 24-7 26-8M-28 10C-25 11-17 16-12 16C-7 16-4 8 0 8C4 8 7 16 12 16C17 16 25 11 28 10"/><path transform="translate(220.7 340.1) scale(0.297 0.291) rotate(40)" d="M29 0C29 8 28 17 24 23C21 30 15 34 9 37C4 40-4 41-9 38C-15 36-21 30-25 24C-28 18-31 8-31 0C-31-8-28-17-24-24C-21-30-15-35-9-38C-4-40 4-40 9-38C15-36 21-30 24-24C28-17 29-8 29 0ZM-26-8C-24-7-16-2-12-2C-8-2-4-10 0-10C4-10 8-2 12-2C16-2 24-7 26-8M-28 10C-25 11-17 16-12 16C-7 16-4 8 0 8C4 8 7 16 12 16C17 16 25 11 28 10"/><path transform="translate(239.5 345.0) scale(0.222 0.215) rotate(-40)" d="M29 0C29 8 28 17 24 24C21 30 15 36 9 38C4 40-4 40-9 37C-15 35-21 30-24 23C-28 17-31 8-31 0C-31-8-28-17-24-24C-21-30-15-35-9-38C-4-40 4-40 9-37C15-35 21-30 24-24C28-18 29-8 29 0ZM-26-8C-24-7-16-2-12-2C-8-2-4-10 0-10C4-10 8-2 12-2C16-2 24-7 26-8M-28 10C-25 11-17 16-12 16C-7 16-4 8 0 8C4 8 7 16 12 16C17 16 25 11 28 10"/><path transform="translate(271.3 345.9) scale(0.205 0.200) rotate(20)" d="M-38 0C-43-5-36-20-30-26C-24-32-10-38 0-38C10-38 24-32 30-26C36-20 43-5 38 0C33 5 13 6 0 6C-13 6-33 5-38 0ZM-10 6C-11 11-16 30-14 36C-12 42-5 42 0 42C5 42 12 42 14 36C16 30 11 11 10 6M-20-8C-18-10-10-16-8-18"/><path transform="translate(347.1 344.9) scale(0.238 0.286) rotate(70)" d="M0-28C7-28 15-40 22-38C29-36 40-25 42-15C44-5 41 12 36 22C31 32 18 40 12 42C6 44 4 36 0 36C-4 36-6 44-12 42C-18 40-31 32-36 22C-41 12-44-5-42-15C-40-25-29-36-22-38C-15-40-7-28 0-28ZM0-28C0-30 2-38 3-42C4-46 7-49 8-50M6-44C6-47 17-55 22-56C27-57 38-51 38-48C38-45 27-41 22-40C17-39 6-41 6-44Z"/><path transform="translate(370.3 337.6) scale(0.186 0.186) rotate(90)" d="M6-5C10-6 23-10 30-9C37-8 46-3 46 0C46 3 37 8 30 9C23 10 10 6 6 5M8 1C11 3 24 10 28 15C32 20 35 30 32 32C30 35 20 32 15 28C10 24 3 11 1 8M5 6C6 10 10 23 9 30C8 37 3 46 0 46C-3 46-8 37-9 30C-10 23-6 10-5 6M-1 8C-3 11-10 24-15 28C-20 32-30 35-32 32C-35 30-32 20-28 15C-24 10-11 3-8 1M-6 5C-10 6-23 10-30 9C-37 8-46 3-46 0C-46-3-37-8-30-9C-23-10-10-6-6-5M-8-1C-11-3-24-10-28-15C-32-20-35-30-32-32C-30-35-20-32-15-28C-10-24-3-11-1-8M-5-6C-6-10-10-23-9-30C-8-37-3-46 0-46C3-46 8-37 9-30C10-23 6-10 5-6M1-8C3-11 10-24 15-28C20-32 30-35 32-32C35-30 32-20 28-15C24-10 11-3 8-1M5 0C5 1 4 2 4 3C3 4 2 4 2 5C1 5-1 5-2 5C-2 4-4 4-4 3C-5 2-5 1-5 0C-5-1-5-2-4-3C-3-4-2-4-2-5C-1-5 1-5 2-5C2-4 4-4 4-3C5-2 5-1 5 0Z"/><path transform="translate(403.4 338.7) scale(0.197 0.308) rotate(-20)" d="M-48 0C-48-5-30-13-20-16C-10-19 4-20 15-17C26-14 48-5 48 0C48 5 26 13 15 15C4 17-10 16-20 14C-30 12-48 5-48 0ZM-48 0C-40 0-16 1 0 1C16 1 40 0 48 0M-22 0L-12-11M-22 0L-12 10M-4 0L6-11M-4 0L6 10M14 0L24-11M14 0L24 10"/><path transform="translate(422.3 340.0) scale(0.179 0.256) rotate(20)" d="M42 0C42 5 38 11 32 16C26 20 17 27 8 28C0 29-12 24-20 21C-29 18-40 14-43 9C-46 4-43-3-39-8C-36-14-30-20-22-22C-14-25-1-26 8-25C17-24 26-20 32-16C38-12 42-5 42 0ZM-12-4C-12-4-12-3-12-3C-12-2-13-2-13-2C-14-2-14-2-15-2C-15-2-15-2-16-3C-16-3-16-4-16-4C-16-4-16-5-16-5C-15-6-15-6-15-6C-14-6-14-6-13-6C-13-6-13-6-12-5C-12-5-12-4-12-4ZM10 6C10 6 10 7 10 7C9 8 9 8 9 8C8 8 8 8 7 8C7 8 6 8 6 7C6 7 6 6 6 6C6 6 6 5 6 5C7 5 7 4 7 4C8 4 8 4 9 4C9 4 9 4 10 5C10 5 10 6 10 6ZM22-8C22-8 22-7 22-7C22-6 21-6 21-6C20-6 20-6 19-6C19-6 19-7 18-7C18-7 18-8 18-8C18-8 18-9 18-9C18-10 19-10 19-10C20-10 20-10 21-10C21-10 21-10 22-9C22-9 22-8 22-8Z"/><path transform="translate(454.9 339.1) scale(0.206 0.237) rotate(40)" d="M-48 0C-48-5-30-13-20-16C-10-19 4-20 15-17C26-14 48-5 48 0C48 5 26 13 15 15C4 17-10 16-20 14C-30 12-48 5-48 0ZM-48 0C-40 0-16 1 0 1C16 1 40 0 48 0M-22 0L-12-11M-22 0L-12 10M-4 0L6-11M-4 0L6 10M14 0L24-11M14 0L24 10"/><path transform="translate(483.1 341.2) scale(0.463 0.443) rotate(40)" d="M-30 20L0-30L30 20ZM-2 6C-2 6-2 7-2 7C-2 8-3 8-3 8C-4 8-4 8-5 8C-5 8-5 7-6 7C-6 7-6 6-6 6C-6 6-6 5-6 5C-5 4-5 4-5 4C-4 4-4 4-3 4C-3 4-3 5-2 5C-2 5-2 6-2 6ZM8 10C8 10 8 11 8 11C7 12 7 12 7 12C6 12 6 12 5 12C5 12 5 12 4 11C4 11 4 10 4 10C4 10 4 9 4 9C5 8 5 8 5 8C6 8 6 8 7 8C7 8 7 8 8 9C8 9 8 10 8 10ZM2-8C2-8 2-7 2-7C1-6 1-6 1-6C0-6 0-6-1-6C-1-6-2-6-2-7C-2-7-2-8-2-8C-2-8-2-9-2-9C-1-10-1-10-1-10C0-10 0-10 1-10C1-10 2-10 2-9C2-9 2-8 2-8Z"/><path transform="translate(918.2 345.7) scale(0.193 0.302) rotate(0)" d="M-48 0C-48-5-30-13-20-16C-10-19 4-20 15-17C26-14 48-5 48 0C48 5 26 13 15 15C4 17-10 16-20 14C-30 12-48 5-48 0ZM-48 0C-40 0-16 1 0 1C16 1 40 0 48 0M-22 0L-12-11M-22 0L-12 10M-4 0L6-11M-4 0L6 10M14 0L24-11M14 0L24 10"/><path transform="translate(1150.3 343.4) scale(0.277 0.375) rotate(0)" d="M45 0C44 6 33 12 27 17C20 22 15 29 7 31C0 32-12 28-19 25C-27 22-34 16-37 10C-40 4-41-4-38-10C-36-17-30-25-22-29C-15-32-2-32 7-31C17-30 28-27 34-22C41-16 46-6 45 0Z"/><path transform="translate(1175.7 343.0) scale(0.179 0.269) rotate(-20)" d="M42 0C42 6 41 14 36 18C30 22 17 24 8 25C-2 26-12 24-21 21C-29 18-40 14-44 9C-47 4-46-4-42-9C-38-14-29-18-21-21C-12-24-1-28 8-28C17-27 28-21 34-17C39-12 41-6 42 0ZM-12-4C-12-4-12-3-12-3C-12-2-13-2-13-2C-14-2-14-2-15-2C-15-2-15-2-16-3C-16-3-16-4-16-4C-16-4-16-5-16-5C-15-6-15-6-15-6C-14-6-14-6-13-6C-13-6-13-6-12-5C-12-5-12-4-12-4ZM10 6C10 6 10 7 10 7C9 8 9 8 9 8C8 8 8 8 7 8C7 8 7 8 6 7C6 7 6 6 6 6C6 6 6 5 6 5C7 4 7 4 7 4C8 4 8 4 9 4C9 4 9 5 10 5C10 5 10 6 10 6ZM22-8C22-8 22-7 22-7C21-6 21-6 21-6C20-6 20-6 19-6C19-6 19-6 18-7C18-7 18-8 18-8C18-8 18-9 18-9C18-10 19-10 19-10C20-10 20-10 21-10C21-10 21-10 22-9C22-9 22-8 22-8Z"/><path transform="translate(1208.2 341.2) scale(0.266 0.218) rotate(-20)" d="M0-24C8-24 18-33 24-30C30-27 37-17 36-8C35 1 24 17 18 26C12 35 6 44 0 44C-6 44-12 35-18 26C-24 17-35 1-36-8C-37-17-30-27-24-30C-18-33-8-24 0-24ZM-18-28L-8-40L0-28L8-40L18-28M0-40L0-50M-14-8L-12-5M10-10L12-7M-4 6L-2 9M14 10L16 13M-10 20L-8 23M2 26L4 29"/><path transform="translate(57.0 369.6) scale(0.358 0.342) rotate(-40)" d="M-30 20L0-30L30 20ZM-2 6C-2 6-2 7-2 7C-3 7-3 8-3 8C-4 8-4 8-5 8C-5 8-5 7-6 7C-6 7-6 6-6 6C-6 6-6 5-6 5C-5 4-5 4-5 4C-4 4-4 4-3 4C-3 4-2 4-2 5C-2 5-2 6-2 6ZM8 10C8 10 8 11 8 11C7 12 7 12 7 12C6 12 6 12 5 12C5 12 4 12 4 11C4 11 4 10 4 10C4 10 4 9 4 9C5 8 5 8 5 8C6 8 6 8 7 8C7 8 7 8 8 9C8 9 8 10 8 10ZM2-8C2-8 2-7 2-7C1-7 1-6 1-6C0-6 0-6-1-6C-1-6-1-7-2-7C-2-7-2-8-2-8C-2-8-2-9-2-9C-1-10-1-10-1-10C0-10 0-10 1-10C1-10 1-10 2-9C2-9 2-8 2-8Z"/><path transform="translate(80.3 364.2) scale(0.222 0.225) rotate(20)" d="M43 0C43 7 40 15 37 21C34 28 28 34 22 38C16 42 7 45 0 45C-7 45-16 42-22 38C-28 34-35 28-38 22C-42 16-44 7-44 0C-44-7-42-16-38-22C-34-28-28-34-22-38C-16-41-7-43 0-43C7-43 16-43 23-39C29-36 35-29 39-22C42-16 43-7 43 0ZM35 0C35 6 33 12 31 18C28 23 23 29 18 32C13 35 6 36 0 36C-6 36-13 35-18 32C-24 29-29 24-32 18C-34 13-35 6-35 0C-35-6-35-13-32-18C-29-24-23-28-18-31C-12-33-6-35 0-35C6-35 13-34 18-32C24-29 29-24 32-18C35-13 35-6 35 0ZM4 1L33 7M2 3L19 28M-1 4L-7 33M-3 2L-28 19M-4-1L-33-7M-2-3L-19-28M1-4L7-33M3-2L28-19"/><path transform="translate(109.7 367.9) scale(0.290 0.279) rotate(40)" d="M-38 0C-43-5-36-20-30-26C-24-32-10-38 0-38C10-38 24-32 30-26C36-20 43-5 38 0C33 5 13 6 0 6C-13 6-33 5-38 0ZM-10 6C-11 11-16 30-14 36C-12 42-5 42 0 42C5 42 12 42 14 36C16 30 11 11 10 6M-20-8C-18-10-10-16-8-18"/><path transform="translate(138.5 366.8) scale(0.216 0.275) rotate(90)" d="M0-24C8-24 18-33 24-30C30-27 37-17 36-8C35 1 24 17 18 26C12 35 6 44 0 44C-6 44-12 35-18 26C-24 17-35 1-36-8C-37-17-30-27-24-30C-18-33-8-24 0-24ZM-18-28L-8-40L0-28L8-40L18-28M0-40L0-50M-14-8L-12-5M10-10L12-7M-4 6L-2 9M14 10L16 13M-10 20L-8 23M2 26L4 29"/><path transform="translate(161.0 368.0) scale(0.207 0.252) rotate(70)" d="M0-24C8-24 18-33 24-30C30-27 37-17 36-8C35 1 24 17 18 26C12 35 6 44 0 44C-6 44-12 35-18 26C-24 17-35 1-36-8C-37-17-30-27-24-30C-18-33-8-24 0-24ZM-18-28L-8-40L0-28L8-40L18-28M0-40L0-50M-14-8L-12-5M10-10L12-7M-4 6L-2 9M14 10L16 13M-10 20L-8 23M2 26L4 29"/><path transform="translate(187.3 366.5) scale(0.192 0.299) rotate(-20)" d="M-48 0C-48-5-30-13-20-16C-10-19 4-20 15-17C26-14 48-5 48 0C48 5 26 13 15 15C4 17-10 16-20 14C-30 12-48 5-48 0ZM-48 0C-40 0-16 1 0 1C16 1 40 0 48 0M-22 0L-12-11M-22 0L-12 10M-4 0L6-11M-4 0L6 10M14 0L24-11M14 0L24 10"/><path transform="translate(215.4 363.4) scale(0.415 0.397) rotate(-40)" d="M-30 20L0-30L30 20ZM-2 6C-2 6-2 7-2 7C-3 8-3 8-3 8C-4 8-4 8-5 8C-5 8-5 8-6 7C-6 7-6 6-6 6C-6 6-6 5-6 5C-5 4-5 4-5 4C-4 4-4 4-3 4C-3 4-2 4-2 5C-2 5-2 6-2 6ZM8 10C8 10 8 11 8 11C7 11 7 12 7 12C6 12 6 12 5 12C5 12 4 12 4 11C4 11 4 10 4 10C4 10 4 9 4 9C4 8 5 8 5 8C6 8 6 8 7 8C7 8 8 8 8 9C8 9 8 10 8 10ZM2-8C2-8 2-7 2-7C1-6 1-6 1-6C0-6 0-6-1-6C-1-6-1-6-2-7C-2-7-2-8-2-8C-2-8-2-9-2-9C-1-10-1-10-1-10C0-10 0-10 1-10C1-10 1-10 2-9C2-9 2-8 2-8Z"/><path transform="translate(261.0 363.3) scale(0.184 0.184) rotate(90)" d="M6-5C10-6 23-10 30-9C37-8 46-3 46 0C46 3 37 8 30 9C23 10 10 6 6 5M8 1C11 3 24 10 28 15C32 20 35 30 32 32C30 35 20 32 15 28C10 24 3 11 1 8M5 6C6 10 10 23 9 30C8 37 3 46 0 46C-3 46-8 37-9 30C-10 23-6 10-5 6M-1 8C-3 11-10 24-15 28C-20 32-30 35-32 32C-35 30-32 20-28 15C-24 10-11 3-8 1M-6 5C-10 6-23 10-30 9C-37 8-46 3-46 0C-46-3-37-8-30-9C-23-10-10-6-6-5M-8-1C-11-3-24-10-28-15C-32-20-35-30-32-32C-30-35-20-32-15-28C-10-24-3-11-1-8M-5-6C-6-10-10-23-9-30C-8-37-3-46 0-46C3-46 8-37 9-30C10-23 6-10 5-6M1-8C3-11 10-24 15-28C20-32 30-35 32-32C35-30 32-20 28-15C24-10 11-3 8-1M5 0C5 1 4 2 4 3C3 4 2 5 2 5C1 5-1 5-2 5C-2 4-3 4-4 3C-4 2-5 1-5 0C-5-1-5-2-4-3C-4-4-2-5-2-5C-1-5 1-5 2-5C2-4 4-4 4-3C5-2 5-1 5 0Z"/><path transform="translate(290.1 364.9) scale(0.171 0.171) rotate(-40)" d="M6-5C10-6 23-10 30-9C37-8 46-3 46 0C46 3 37 8 30 9C23 10 10 6 6 5M8 1C11 3 24 10 28 15C32 20 35 30 32 32C30 35 20 32 15 28C10 24 3 11 1 8M5 6C6 10 10 23 9 30C8 37 3 46 0 46C-3 46-8 37-9 30C-10 23-6 10-5 6M-1 8C-3 11-10 24-15 28C-20 32-30 35-32 32C-35 30-32 20-28 15C-24 10-11 3-8 1M-6 5C-10 6-23 10-30 9C-37 8-46 3-46 0C-46-3-37-8-30-9C-23-10-10-6-6-5M-8-1C-11-3-24-10-28-15C-32-20-35-30-32-32C-30-35-20-32-15-28C-10-24-3-11-1-8M-5-6C-6-10-10-23-9-30C-8-37-3-46 0-46C3-46 8-37 9-30C10-23 6-10 5-6M1-8C3-11 10-24 15-28C20-32 30-35 32-32C35-30 32-20 28-15C24-10 11-3 8-1M5 0C5 1 5 2 4 3C4 4 2 4 2 5C1 5-1 5-2 5C-3 5-4 4-4 3C-5 2-5 1-5 0C-5-1-5-2-4-3C-4-4-2-5-2-5C-1-5 1-5 2-5C2-4 3-4 4-3C5-2 5-1 5 0Z"/><path transform="translate(321.8 367.6) scale(0.305 0.312) rotate(70)" d="M-38 0C-43-5-36-20-30-26C-24-32-10-38 0-38C10-38 24-32 30-26C36-20 43-5 38 0C33 5 13 6 0 6C-13 6-33 5-38 0ZM-10 6C-11 11-16 30-14 36C-12 42-5 42 0 42C5 42 12 42 14 36C16 30 11 11 10 6M-20-8C-18-10-10-16-8-18"/><path transform="translate(372.6 372.6) scale(0.283 0.283) rotate(20)" d="M6-5C10-6 23-10 30-9C37-8 46-3 46 0C46 3 37 8 30 9C23 10 10 6 6 5M8 1C11 3 24 10 28 15C32 20 35 30 32 32C30 35 20 32 15 28C10 24 3 11 1 8M5 6C6 10 10 23 9 30C8 37 3 46 0 46C-3 46-8 37-9 30C-10 23-6 10-5 6M-1 8C-3 11-10 24-15 28C-20 32-30 35-32 32C-35 30-32 20-28 15C-24 10-11 3-8 1M-6 5C-10 6-23 10-30 9C-37 8-46 3-46 0C-46-3-37-8-30-9C-23-10-10-6-6-5M-8-1C-11-3-24-10-28-15C-32-20-35-30-32-32C-30-35-20-32-15-28C-10-24-3-11-1-8M-5-6C-6-10-10-23-9-30C-8-37-3-46 0-46C3-46 8-37 9-30C10-23 6-10 5-6M1-8C3-11 10-24 15-28C20-32 30-35 32-32C35-30 32-20 28-15C24-10 11-3 8-1M5 0C5 1 4 2 4 3C3 4 2 5 2 5C1 5 0 5-2 5C-2 4-4 4-4 3C-5 2-5 1-5 0C-5-1-5-2-4-3C-3-4-2-4-2-4C0-5 1-5 2-5C2-4 4-4 4-3C5-2 5-1 5 0Z"/><path transform="translate(399.3 369.9) scale(0.332 0.509) rotate(20)" d="M-13 0C-13 2-14 4-16 5C-17 6-20 7-22 7C-23 6-25 4-26 3C-27 1-27-2-26-3C-26-5-24-7-22-7C-20-8-17-7-15-6C-14-5-13-2-13 0ZM8-8C8-6 7-3 5-2C3 0 0 0-2-1C-4-2-6-3-7-5C-8-6-8-10-7-11C-6-13-4-15-2-15C0-16 3-15 5-14C6-12 8-10 8-8ZM28 4C28 6 26 8 24 10C23 11 20 11 18 11C17 10 14 9 14 7C13 6 12 2 13 1C14-1 17-3 18-3C20-3 23-3 24-1C26 0 28 2 28 4Z"/><path transform="translate(419.3 366.7) scale(0.274 0.402) rotate(20)" d="M43 0C44 6 43 14 37 18C31 23 18 28 8 28C-1 28-12 24-20 21C-29 18-40 14-44 10C-48 4-46-4-42-9C-39-14-30-19-21-22C-13-25-1-28 8-27C17-26 26-20 32-16C38-12 42-6 43 0ZM-12-4C-12-4-12-3-12-3C-13-2-13-2-13-2C-14-2-14-2-15-2C-15-2-15-2-16-3C-16-3-16-4-16-4C-16-4-16-5-16-5C-15-6-15-6-15-6C-14-6-14-6-13-6C-13-6-13-5-12-5C-12-5-12-4-12-4ZM10 6C10 6 10 7 10 7C9 8 9 8 9 8C8 8 8 8 7 8C7 8 7 7 6 7C6 7 6 6 6 6C6 6 6 5 6 5C7 5 7 4 7 4C8 4 8 4 9 4C9 4 9 5 10 5C10 5 10 6 10 6ZM22-8C22-8 22-7 22-7C22-6 21-6 21-6C20-6 20-6 19-6C19-6 19-6 18-7C18-7 18-8 18-8C18-8 18-9 18-9C19-10 19-10 19-10C20-10 20-10 21-10C21-10 21-10 22-9C22-9 22-8 22-8Z"/><path transform="translate(443.6 372.7) scale(0.469 0.395) rotate(70)" d="M-30 10C-27 7-17-10-10-10C-3-10 3 8 10 8C17 8 27-9 30-12"/><path transform="translate(502.1 371.5) scale(0.259 0.317) rotate(70)" d="M29 0C29 8 27 17 24 23C21 30 15 36 9 38C4 41-4 41-10 39C-15 36-20 30-24 23C-27 17-30 8-30 0C-30-8-28-18-25-24C-22-30-15-35-9-38C-4-40 4-40 9-37C15-35 21-29 24-23C27-17 29-8 29 0ZM-26-8C-24-7-16-2-12-2C-8-2-4-10 0-10C4-10 8-2 12-2C16-2 24-7 26-8M-28 10C-25 11-17 16-12 16C-7 16-4 8 0 8C4 8 7 16 12 16C17 16 25 11 28 10"/><path transform="translate(1072.9 369.7) scale(0.214 0.330) rotate(20)" d="M47 0C47 6 39 12 33 16C26 21 17 25 8 26C-2 28-16 27-24 24C-32 22-40 15-42 9C-45 4-42-3-39-8C-35-14-30-20-22-22C-14-25-2-26 7-25C17-24 27-21 34-17C40-12 47-6 47 0ZM-12-4C-12-4-12-3-12-3C-12-2-13-2-13-2C-14-2-14-2-15-2C-15-2-15-2-16-3C-16-3-16-4-16-4C-16-4-16-5-16-5C-15-6-15-6-15-6C-14-6-14-6-13-6C-13-6-13-5-12-5C-12-5-12-4-12-4ZM10 6C10 6 10 7 10 7C9 8 9 8 9 8C8 8 8 8 7 8C7 8 6 8 6 7C6 7 6 6 6 6C6 6 6 5 6 5C7 4 7 4 7 4C8 4 8 4 9 4C9 4 9 4 10 5C10 5 10 6 10 6ZM22-8C22-8 22-7 22-7C21-6 21-6 21-6C20-6 20-6 19-6C19-6 19-6 18-7C18-7 18-8 18-8C18-8 18-9 18-9C19-10 19-10 19-10C20-10 20-10 21-10C21-10 21-10 22-9C22-9 22-8 22-8Z"/><path transform="translate(1177.0 372.7) scale(0.189 0.190) rotate(-20)" d="M44 0C44 7 41 15 37 21C33 28 28 34 22 37C15 41 7 44 0 44C-7 44-16 42-22 39C-29 35-35 29-39 22C-43 16-45 8-45 0C-45-8-42-16-39-22C-35-29-29-36-23-39C-16-43-7-44 0-43C7-43 15-41 22-37C28-34 34-28 37-22C41-15 44-7 44 0ZM37 0C36 6 34 12 31 18C28 23 23 28 18 31C13 34 6 35 0 35C-6 35-13 35-18 32C-24 29-28 23-31 18C-34 12-35 6-35 0C-36-6-34-13-31-18C-28-23-23-29-18-32C-13-34-6-35 0-35C6-35 13-34 18-31C23-28 28-23 31-18C34-13 37-6 37 0ZM4 1L33 7M2 3L19 28M-1 4L-7 33M-3 2L-28 19M-4-1L-33-7M-2-3L-19-28M1-4L7-33M3-2L28-19"/><path transform="translate(1204.1 365.5) scale(0.289 0.185) rotate(90)" d="M-48 0C-48-5-30-13-20-16C-10-19 4-20 15-17C26-14 48-5 48 0C48 5 26 13 15 15C4 17-10 16-20 14C-30 12-48 5-48 0ZM-48 0C-40 0-16 1 0 1C16 1 40 0 48 0M-22 0L-12-11M-22 0L-12 10M-4 0L6-11M-4 0L6 10M14 0L24-11M14 0L24 10"/><path transform="translate(1229.0 366.0) scale(0.270 0.173) rotate(70)" d="M-48 0C-48-5-30-13-20-16C-10-19 4-20 15-17C26-14 48-5 48 0C48 5 26 13 15 15C4 17-10 16-20 14C-30 12-48 5-48 0ZM-48 0C-40 0-16 1 0 1C16 1 40 0 48 0M-22 0L-12-11M-22 0L-12 10M-4 0L6-11M-4 0L6 10M14 0L24-11M14 0L24 10"/><path transform="translate(84.1 395.7) scale(0.329 0.371) rotate(40)" d="M41 0C41 6 36 14 31 19C25 25 16 31 8 32C-1 34-14 32-22 28C-30 25-39 18-42 11C-44 5-40-4-36-10C-32-15-24-19-17-22C-10-26 0-30 7-29C14-28 21-21 26-16C32-12 40-6 41 0Z"/><path transform="translate(112.5 394.5) scale(0.265 0.250) rotate(-40)" d="M0-24C8-24 18-33 24-30C30-27 37-17 36-8C35 1 24 17 18 26C12 35 6 44 0 44C-6 44-12 35-18 26C-24 17-35 1-36-8C-37-17-30-27-24-30C-18-33-8-24 0-24ZM-18-28L-8-40L0-28L8-40L18-28M0-40L0-50M-14-8L-12-5M10-10L12-7M-4 6L-2 9M14 10L16 13M-10 20L-8 23M2 26L4 29"/><path transform="translate(142.4 395.4) scale(0.258 0.199) rotate(90)" d="M42 0C41 6 36 14 30 19C25 24 16 30 8 32C-1 33-14 32-22 29C-30 25-37 18-40 11C-43 4-43-5-40-11C-36-17-27-21-19-25C-11-28-1-32 7-32C16-31 26-25 32-20C38-15 42-6 42 0Z"/><path transform="translate(164.9 389.0) scale(0.271 0.344) rotate(90)" d="M0-24C8-24 18-33 24-30C30-27 37-17 36-8C35 1 24 17 18 26C12 35 6 44 0 44C-6 44-12 35-18 26C-24 17-35 1-36-8C-37-17-30-27-24-30C-18-33-8-24 0-24ZM-18-28L-8-40L0-28L8-40L18-28M0-40L0-50M-14-8L-12-5M10-10L12-7M-4 6L-2 9M14 10L16 13M-10 20L-8 23M2 26L4 29"/><path transform="translate(193.8 389.9) scale(0.198 0.190) rotate(40)" d="M-38 0C-43-5-36-20-30-26C-24-32-10-38 0-38C10-38 24-32 30-26C36-20 43-5 38 0C33 5 13 6 0 6C-13 6-33 5-38 0ZM-10 6C-11 11-16 30-14 36C-12 42-5 42 0 42C5 42 12 42 14 36C16 30 11 11 10 6M-20-8C-18-10-10-16-8-18"/><path transform="translate(222.6 395.1) scale(0.371 0.355) rotate(40)" d="M-30 20L0-30L30 20ZM-2 6C-2 6-2 7-2 7C-2 8-3 8-3 8C-4 8-4 8-5 8C-5 8-5 8-6 7C-6 7-6 6-6 6C-6 6-6 5-6 5C-5 4-5 4-5 4C-4 4-4 4-3 4C-3 4-3 4-2 5C-2 5-2 6-2 6ZM8 10C8 10 8 11 8 11C7 12 7 12 7 12C6 12 6 12 5 12C5 12 4 12 4 11C4 11 4 10 4 10C4 10 4 9 4 9C5 9 5 8 5 8C6 8 6 8 7 8C7 8 7 8 8 9C8 9 8 10 8 10ZM2-8C2-8 2-7 2-7C1-6 1-6 1-6C0-6 0-6-1-6C-1-6-2-6-2-7C-2-7-2-8-2-8C-2-8-2-9-2-9C-1-10-1-10-1-10C0-10 0-10 1-10C1-10 1-10 2-9C2-9 2-8 2-8Z"/><path transform="translate(245.5 392.9) scale(0.231 0.218) rotate(-40)" d="M29 0C29 8 28 17 24 23C21 30 15 36 9 38C4 41-4 42-10 39C-15 37-21 30-24 24C-28 17-31 8-31 0C-31-8-28-18-25-24C-21-30-15-36-9-38C-4-40 4-40 9-38C15-36 21-30 25-24C28-18 30-8 29 0ZM-26-8C-24-7-16-2-12-2C-8-2-4-10 0-10C4-10 8-2 12-2C16-2 24-7 26-8M-28 10C-25 11-17 16-12 16C-7 16-4 8 0 8C4 8 7 16 12 16C17 16 25 11 28 10"/><path transform="translate(269.2 395.8) scale(0.248 0.258) rotate(-40)" d="M46 0C46 6 40 12 33 16C27 20 16 23 7 24C-2 25-15 26-23 24C-31 21-37 14-40 8C-42 3-42-4-39-8C-36-14-29-18-21-21C-13-24-1-27 8-27C17-26 28-22 35-17C41-13 46-6 46 0ZM-12-4C-12-4-12-3-12-3C-13-2-13-2-13-2C-14-2-14-2-15-2C-15-2-15-2-16-3C-16-3-16-4-16-4C-16-4-16-5-16-5C-16-6-15-6-15-6C-14-6-14-6-13-6C-13-6-13-5-12-5C-12-5-12-4-12-4ZM10 6C10 6 10 7 10 7C10 8 9 8 9 8C8 8 8 8 7 8C7 8 6 8 6 7C6 7 6 6 6 6C6 6 6 5 6 5C7 4 7 4 7 4C8 4 8 4 9 4C9 4 9 5 10 5C10 5 10 6 10 6ZM22-8C22-8 22-7 22-7C21-6 21-6 21-6C20-6 20-6 19-6C19-6 18-6 18-7C18-7 18-8 18-8C18-8 18-9 18-9C19-10 19-10 19-10C20-10 20-10 21-10C21-10 21-10 22-9C22-9 22-8 22-8Z"/><path transform="translate(295.4 399.9) scale(0.358 0.229) rotate(-20)" d="M-2 26C-2 30-3 34-5 37C-7 39-12 42-15 42C-19 43-23 42-26 40C-29 38-31 34-32 31C-34 28-34 24-33 21C-32 17-29 14-26 12C-23 10-19 10-15 10C-12 11-8 13-6 16C-4 19-2 22-2 26ZM35 30C35 33 33 37 31 39C29 42 26 44 23 45C20 45 15 45 12 43C10 42 7 38 6 35C5 32 5 28 6 25C7 22 10 19 13 17C16 16 20 14 23 15C26 15 29 18 31 20C33 23 35 27 35 30ZM-16 10C-14 5-8-11-4-20C0-29 8-40 10-44M20 15C19 10 18-6 16-16C14-26 11-39 10-44M10-44C10-47 24-54 30-54C36-54 46-47 46-44C46-41 36-36 30-36C24-36 10-41 10-44Z"/><path transform="translate(348.4 397.8) scale(0.359 0.346) rotate(40)" d="M30 0C30 8 28 18 25 24C21 30 15 35 9 38C4 40-3 39-9 37C-15 35-21 30-24 24C-28 18-31 8-30 0C-30-8-27-17-24-23C-20-29-15-35-9-38C-4-40 4-41 10-39C15-37 21-30 24-24C28-17 30-8 30 0ZM-26-8C-24-7-16-2-12-2C-8-2-4-10 0-10C4-10 8-2 12-2C16-2 24-7 26-8M-28 10C-25 11-17 16-12 16C-7 16-4 8 0 8C4 8 7 16 12 16C17 16 25 11 28 10"/><path transform="translate(376.1 394.7) scale(0.255 0.326) rotate(-20)" d="M39 0C39 6 33 12 27 17C22 22 14 26 6 28C-2 29-12 29-20 27C-29 24-39 18-42 12C-45 5-43-4-39-11C-36-18-30-27-23-30C-15-33-2-31 7-29C15-27 21-22 27-17C32-12 39-6 39 0Z"/><path transform="translate(397.4 389.7) scale(0.301 0.193) rotate(90)" d="M-48 0C-48-5-30-13-20-16C-10-19 4-20 15-17C26-14 48-5 48 0C48 5 26 13 15 15C4 17-10 16-20 14C-30 12-48 5-48 0ZM-48 0C-40 0-16 1 0 1C16 1 40 0 48 0M-22 0L-12-11M-22 0L-12 10M-4 0L6-11M-4 0L6 10M14 0L24-11M14 0L24 10"/><path transform="translate(429.4 396.9) scale(0.321 0.206) rotate(70)" d="M-48 0C-48-5-30-13-20-16C-10-19 4-20 15-17C26-14 48-5 48 0C48 5 26 13 15 15C4 17-10 16-20 14C-30 12-48 5-48 0ZM-48 0C-40 0-16 1 0 1C16 1 40 0 48 0M-22 0L-12-11M-22 0L-12 10M-4 0L6-11M-4 0L6 10M14 0L24-11M14 0L24 10"/><path transform="translate(454.2 395.0) scale(0.274 0.429) rotate(-20)" d="M-48 0C-48-5-30-13-20-16C-10-19 4-20 15-17C26-14 48-5 48 0C48 5 26 13 15 15C4 17-10 16-20 14C-30 12-48 5-48 0ZM-48 0C-40 0-16 1 0 1C16 1 40 0 48 0M-22 0L-12-11M-22 0L-12 10M-4 0L6-11M-4 0L6 10M14 0L24-11M14 0L24 10"/><path transform="translate(475.9 392.9) scale(0.266 0.170) rotate(-20)" d="M-2 26C-2 30-4 34-6 36C-8 39-12 40-15 41C-19 42-23 41-26 39C-29 38-32 35-34 32C-35 28-35 24-34 20C-32 17-29 14-26 13C-23 11-19 10-15 11C-12 11-7 13-5 15C-3 18-2 22-2 26ZM34 30C34 33 33 37 31 40C29 42 26 44 22 44C19 45 15 44 13 43C10 41 8 38 7 35C5 32 5 28 6 25C7 22 10 18 12 17C15 15 19 15 22 16C26 16 30 18 32 20C34 23 34 27 34 30ZM-16 10C-14 5-8-11-4-20C0-29 8-40 10-44M20 15C19 10 18-6 16-16C14-26 11-39 10-44M10-44C10-47 24-54 30-54C36-54 46-47 46-44C46-41 36-36 30-36C24-36 10-41 10-44Z"/><path transform="translate(502.9 398.8) scale(0.251 0.202) rotate(-20)" d="M29 0C30 8 28 17 25 24C21 30 15 36 10 39C4 42-4 42-10 39C-15 36-21 30-24 24C-28 17-29 8-29 0C-29-8-28-18-25-24C-21-30-15-35-9-37C-3-40 4-41 9-39C15-36 21-30 24-23C27-17 29-8 29 0ZM-26-8C-24-7-16-2-12-2C-8-2-4-10 0-10C4-10 8-2 12-2C16-2 24-7 26-8M-28 10C-25 11-17 16-12 16C-7 16-4 8 0 8C4 8 7 16 12 16C17 16 25 11 28 10"/><path transform="translate(525.3 399.3) scale(0.260 0.167) rotate(-40)" d="M-1 26C-1 29-4 33-6 36C-8 39-12 42-15 42C-18 43-23 42-26 40C-29 38-32 34-33 31C-34 28-34 24-33 20C-32 17-29 14-26 12C-23 11-19 10-15 11C-12 11-8 13-6 16C-3 18-1 23-1 26ZM35 30C35 33 34 37 32 40C30 42 26 44 23 44C19 45 15 45 12 43C10 42 7 38 6 35C5 32 5 28 6 25C7 22 10 19 13 17C16 16 20 14 23 15C26 15 29 18 31 21C33 23 35 27 35 30ZM-16 10C-14 5-8-11-4-20C0-29 8-40 10-44M20 15C19 10 18-6 16-16C14-26 11-39 10-44M10-44C10-47 24-54 30-54C36-54 46-47 46-44C46-41 36-36 30-36C24-36 10-41 10-44Z"/><path transform="translate(1071.1 389.7) scale(0.191 0.220) rotate(40)" d="M-48 0C-48-5-30-13-20-16C-10-19 4-20 15-17C26-14 48-5 48 0C48 5 26 13 15 15C4 17-10 16-20 14C-30 12-48 5-48 0ZM-48 0C-40 0-16 1 0 1C16 1 40 0 48 0M-22 0L-12-11M-22 0L-12 10M-4 0L6-11M-4 0L6 10M14 0L24-11M14 0L24 10"/><path transform="translate(1203.9 389.3) scale(0.340 0.218) rotate(70)" d="M-48 0C-48-5-30-13-20-16C-10-19 4-20 15-17C26-14 48-5 48 0C48 5 26 13 15 15C4 17-10 16-20 14C-30 12-48 5-48 0ZM-48 0C-40 0-16 1 0 1C16 1 40 0 48 0M-22 0L-12-11M-22 0L-12 10M-4 0L6-11M-4 0L6 10M14 0L24-11M14 0L24 10"/><path transform="translate(1228.1 395.7) scale(0.193 0.193) rotate(90)" d="M6-5C10-6 23-10 30-9C37-8 46-3 46 0C46 3 37 8 30 9C23 10 10 6 6 5M8 1C11 3 24 10 28 15C32 20 35 30 32 32C30 35 20 32 15 28C10 24 3 11 1 8M5 6C6 10 10 23 9 30C8 37 3 46 0 46C-3 46-8 37-9 30C-10 23-6 10-5 6M-1 8C-3 11-10 24-15 28C-20 32-30 35-32 32C-35 30-32 20-28 15C-24 10-11 3-8 1M-6 5C-10 6-23 10-30 9C-37 8-46 3-46 0C-46-3-37-8-30-9C-23-10-10-6-6-5M-8-1C-11-3-24-10-28-15C-32-20-35-30-32-32C-30-35-20-32-15-28C-10-24-3-11-1-8M-5-6C-6-10-10-23-9-30C-8-37-3-46 0-46C3-46 8-37 9-30C10-23 6-10 5-6M1-8C3-11 10-24 15-28C20-32 30-35 32-32C35-30 32-20 28-15C24-10 11-3 8-1M5 0C5 1 4 2 4 3C3 4 2 4 2 5C1 5-1 5-2 5C-2 4-3 4-4 3C-4 2-5 1-5 0C-5-1-5-2-4-3C-4-4-2-4-2-5C-1-5 1-5 2-5C2-4 3-4 4-3C5-2 5-1 5 0Z"/><path transform="translate(186.1 422.2) scale(0.265 0.170) rotate(70)" d="M-48 0C-48-5-30-13-20-16C-10-19 4-20 15-17C26-14 48-5 48 0C48 5 26 13 15 15C4 17-10 16-20 14C-30 12-48 5-48 0ZM-48 0C-40 0-16 1 0 1C16 1 40 0 48 0M-22 0L-12-11M-22 0L-12 10M-4 0L6-11M-4 0L6 10M14 0L24-11M14 0L24 10"/><path transform="translate(398.9 415.7) scale(0.164 0.174) rotate(20)" d="M0-28C7-28 15-40 22-38C29-36 40-25 42-15C44-5 41 12 36 22C31 32 18 40 12 42C6 44 4 36 0 36C-4 36-6 44-12 42C-18 40-31 32-36 22C-41 12-44-5-42-15C-40-25-29-36-22-38C-15-40-7-28 0-28ZM0-28C0-30 2-38 3-42C4-46 7-49 8-50M6-44C6-47 17-55 22-56C27-57 38-51 38-48C38-45 27-41 22-40C17-39 6-41 6-44Z"/><path transform="translate(1176.0 415.5) scale(0.200 0.192) rotate(40)" d="M-38 0C-43-5-36-20-30-26C-24-32-10-38 0-38C10-38 24-32 30-26C36-20 43-5 38 0C33 5 13 6 0 6C-13 6-33 5-38 0ZM-10 6C-11 11-16 30-14 36C-12 42-5 42 0 42C5 42 12 42 14 36C16 30 11 11 10 6M-20-8C-18-10-10-16-8-18"/><text x="192" y="84" transform="rotate(-6 192 84)" text-anchor="middle" font-size="13" font-style="italic" letter-spacing="1" style="font-family:'Liberation Sans',sans-serif" fill="rgba(255,255,255,.62)">POTATOES</text><text x="237" y="7" transform="rotate(0 237 7)" text-anchor="middle" font-size="13" font-style="italic" letter-spacing="0" style="font-family:'Liberation Serif',serif" fill="rgba(255,255,255,.62)">Icecream</text><text x="980" y="424" transform="rotate(14 980 424)" text-anchor="middle" font-size="10" font-style="italic" letter-spacing="1" style="font-family:'Liberation Sans',sans-serif" fill="rgba(255,255,255,.62)">BUTTER</text><text x="1112" y="283" transform="rotate(9 1112 283)" text-anchor="middle" font-size="17" font-style="italic" letter-spacing="0" style="font-family:'Liberation Serif',serif" fill="rgba(255,255,255,.62)">Pasta</text><text x="1111" y="352" transform="rotate(10 1111 352)" text-anchor="middle" font-size="9" font-style="italic" letter-spacing="0.5" style="font-family:'Liberation Sans',sans-serif" fill="rgba(255,255,255,.62)">OIL</text><text x="775" y="434" transform="rotate(-10 775 434)" text-anchor="middle" font-size="8" font-style="italic" letter-spacing="0" style="font-family:'Liberation Sans',sans-serif" fill="rgba(255,255,255,.62)">BBQ</text><text x="1251" y="184" transform="rotate(0 1251 184)" text-anchor="middle" font-size="8" font-style="italic" letter-spacing="0" style="font-family:'Liberation Serif',serif" fill="rgba(255,255,255,.62)">Honey</text><text x="73" y="326" transform="rotate(-78 73 326)" text-anchor="middle" font-size="11" font-style="italic" letter-spacing="0" style="font-family:'Liberation Serif',serif" fill="rgba(255,255,255,.62)">Coffee</text><text x="104" y="98" transform="rotate(20 104 98)" text-anchor="middle" font-size="7" font-style="italic" letter-spacing="0" style="font-family:'Liberation Sans',sans-serif" fill="rgba(255,255,255,.62)">WINE</text></g><use href="#dt" y="425"/><use href="#dt" y="-425"/></g><circle cx="646.6" cy="249.0" r="173" fill="#1bc863"/><circle cx="646.6" cy="249.0" r="141.5" fill="none" stroke="rgba(255,255,255,.35)" stroke-width="1" stroke-dasharray="1 5"/><circle cx="646.6" cy="249.0" r="110.0" fill="none" stroke="rgba(255,255,255,.35)" stroke-width="1" stroke-dasharray="1 5"/><path d="M649.7 99.0A150.0 150.0 0 0 1 718.9 117.6" fill="none" stroke="rgba(255,255,255,.55)" stroke-width="1.3"/><path d="M724.3 120.7A150.0 150.0 0 0 1 774.9 171.3" fill="none" stroke="rgba(255,255,255,.55)" stroke-width="1.3"/><path d="M778.0 176.7A150.0 150.0 0 0 1 796.6 245.9" fill="none" stroke="rgba(255,255,255,.55)" stroke-width="1.3"/><path d="M796.6 252.1A150.0 150.0 0 0 1 778.0 321.3" fill="none" stroke="rgba(255,255,255,.55)" stroke-width="1.3"/><path d="M774.9 326.7A150.0 150.0 0 0 1 724.3 377.3" fill="none" stroke="rgba(255,255,255,.55)" stroke-width="1.3"/><path d="M718.9 380.4A150.0 150.0 0 0 1 649.7 399.0" fill="none" stroke="rgba(255,255,255,.55)" stroke-width="1.3"/><path d="M643.5 399.0A150.0 150.0 0 0 1 574.3 380.4" fill="none" stroke="rgba(255,255,255,.55)" stroke-width="1.3"/><path d="M568.9 377.3A150.0 150.0 0 0 1 518.3 326.7" fill="none" stroke="rgba(255,255,255,.55)" stroke-width="1.3"/><path d="M515.2 321.3A150.0 150.0 0 0 1 496.6 252.1" fill="none" stroke="rgba(255,255,255,.55)" stroke-width="1.3"/><path d="M496.6 245.9A150.0 150.0 0 0 1 515.2 176.7" fill="none" stroke="rgba(255,255,255,.55)" stroke-width="1.3"/><path d="M518.3 171.3A150.0 150.0 0 0 1 568.9 120.7" fill="none" stroke="rgba(255,255,255,.55)" stroke-width="1.3"/><path d="M574.3 117.6A150.0 150.0 0 0 1 643.5 99.0" fill="none" stroke="rgba(255,255,255,.55)" stroke-width="1.3"/><text x="688.8" y="91.6" transform="rotate(15.0 688.8 91.6)" text-anchor="middle" dominant-baseline="central" font-size="13" letter-spacing="1" fill="rgba(255,255,255,.75)">JAN</text><text x="761.9" y="133.7" transform="rotate(45.0 761.9 133.7)" text-anchor="middle" dominant-baseline="central" font-size="13" letter-spacing="1" fill="rgba(255,255,255,.75)">FEB</text><text x="804.0" y="206.8" transform="rotate(75.0 804.0 206.8)" text-anchor="middle" dominant-baseline="central" font-size="13" letter-spacing="1" fill="rgba(255,255,255,.75)">MAR</text><text x="804.0" y="291.2" transform="rotate(-75.0 804.0 291.2)" text-anchor="middle" dominant-baseline="central" font-size="13" letter-spacing="1" fill="rgba(255,255,255,.75)">APR</text><text x="761.9" y="364.3" transform="rotate(-45.0 761.9 364.3)" text-anchor="middle" dominant-baseline="central" font-size="13" letter-spacing="1" fill="rgba(255,255,255,.75)">MAY</text><text x="688.8" y="406.4" transform="rotate(-15.0 688.8 406.4)" text-anchor="middle" dominant-baseline="central" font-size="13" letter-spacing="1" fill="rgba(255,255,255,.75)">JUN</text><text x="604.4" y="406.4" transform="rotate(15.0 604.4 406.4)" text-anchor="middle" dominant-baseline="central" font-size="13" letter-spacing="1" fill="rgba(255,255,255,.75)">JUL</text><text x="489.2" y="291.2" transform="rotate(75.0 489.2 291.2)" text-anchor="middle" dominant-baseline="central" font-size="13" letter-spacing="1" fill="rgba(255,255,255,.75)">SEP</text><text x="489.2" y="206.8" transform="rotate(285.0 489.2 206.8)" text-anchor="middle" dominant-baseline="central" font-size="13" letter-spacing="1" fill="rgba(255,255,255,.75)">OCT</text><text x="531.3" y="133.7" transform="rotate(315.0 531.3 133.7)" text-anchor="middle" dominant-baseline="central" font-size="13" letter-spacing="1" fill="rgba(255,255,255,.75)">NOV</text><text x="604.4" y="91.6" transform="rotate(345.0 604.4 91.6)" text-anchor="middle" dominant-baseline="central" font-size="13" letter-spacing="1" fill="rgba(255,255,255,.75)">DEC</text><path d="M646.9 234.5A15 15 0 0 1 648.1 234.5M653.6 222.4A27 27 0 0 1 655.9 223.1M658.8 226.6A25 25 0 0 1 660.7 227.8M661.9 227.7A26 26 0 0 1 663.7 229.0M661.9 232.3A23 23 0 0 1 663.3 233.7M667.5 231.1A28 28 0 0 1 669.0 233.0M665.7 249.3A19 19 0 0 1 665.6 251.0M650.1 264.3A16 16 0 0 1 648.8 264.5M648.9 271.0A22 22 0 0 1 647.0 271.1M643.4 271.8A23 23 0 0 1 641.5 271.5M623.6 260.6A26 26 0 0 1 622.7 258.6M620.9 258.2A27 27 0 0 1 620.2 256.0M637.9 231.7A19 19 0 0 1 639.4 231.0M639.0 227.8A22 22 0 0 1 640.8 227.3" fill="none" stroke="rgba(255,255,255,0.86)" stroke-width="3"/><path d="M646.8 213.9A35 35 0 0 1 650.6 214.1M646.9 205.4A44 44 0 0 1 651.6 205.7M654.3 220.1A30 30 0 0 1 656.7 220.9M662.7 207.3A45 45 0 0 1 667.1 209.3M672.5 212.0A45 45 0 0 1 676.3 215.0M677.1 205.3A53 53 0 0 1 681.7 208.9M668.4 224.7A33 33 0 0 1 670.9 227.2M671.5 221.2A37 37 0 0 1 674.4 224.1M682.3 209.2A54 54 0 0 1 686.4 213.3M672.9 226.0A35 35 0 0 1 675.2 229.0M676.7 222.6A40 40 0 0 1 679.4 226.0M680.9 225.6A41 41 0 0 1 683.2 229.5M679.4 236.8A35 35 0 0 1 680.5 240.4M690.9 238.4A46 46 0 0 1 691.8 243.2M679.3 245.2A33 33 0 0 1 679.5 248.8M690.4 243.9A44 44 0 0 1 690.7 248.7M674.8 249.5A28 28 0 0 1 674.7 251.9M694.9 249.3A48 48 0 0 1 694.6 254.5M699.7 262.4A55 55 0 0 1 697.9 268.1M670.7 284.4A43 43 0 0 1 666.7 286.8M654.3 281.1A33 33 0 0 1 650.8 281.8M655.6 286.6A39 39 0 0 1 651.5 287.4M641.6 287.9A39 39 0 0 1 637.4 287.1M639.1 278.5A30 30 0 0 1 636.0 277.6M637.1 286.4A39 39 0 0 1 633.1 285.2M636.9 287.3A39 39 0 0 1 632.8 286.0M630.3 291.3A45 45 0 0 1 625.8 289.3M622.9 293.5A50 50 0 0 1 618.2 290.7M622.3 283.8A42 42 0 0 1 618.6 281.0M622.2 276.2A37 37 0 0 1 619.4 273.4M618.6 280.2A42 42 0 0 1 615.4 277.0M616.8 282.2A45 45 0 0 1 613.4 278.8M613.1 286.4A50 50 0 0 1 609.2 282.5M610.1 289.7A55 55 0 0 1 605.9 285.5M618.7 273.5A37 37 0 0 1 616.2 270.3M613.3 271.7A40 40 0 0 1 611.0 268.0M602.4 279.1A53 53 0 0 1 599.4 274.1M610.5 267.7A41 41 0 0 1 608.6 263.7M610.4 257.7A37 37 0 0 1 609.6 253.7M599.8 254.4A47 47 0 0 1 599.5 249.3M597.8 242.8A49 49 0 0 1 598.8 237.5M595.2 236.0A53 53 0 0 1 596.9 230.5M599.6 223.9A53 53 0 0 1 602.6 219.0M618.1 223.5A38 38 0 0 1 621.1 220.5M620.3 218.9A40 40 0 0 1 623.7 216.3M617.0 205.5A53 53 0 0 1 621.8 202.5M625.2 207.6A47 47 0 0 1 629.8 205.5M621.6 200.6A55 55 0 0 1 627.0 198.2M638.8 216.6A33 33 0 0 1 642.4 215.9M634.9 200.3A50 50 0 0 1 640.3 199.3M642.6 214.3A35 35 0 0 1 646.4 214.1" fill="none" stroke="rgba(255,255,255,0.6)" stroke-width="4.5"/><path d="M646.9 199.1A50 50 0 0 1 652.3 199.4M651.1 213.5A36 36 0 0 1 655.0 214.2M655.8 212.6A38 38 0 0 1 659.7 213.8M658.0 204.0A46 46 0 0 1 662.8 205.5M660.9 212.0A40 40 0 0 1 664.8 213.8M666.0 198.7A54 54 0 0 1 671.4 201.1M664.6 223.2A31 31 0 0 1 667.3 225.3M676.0 207.0A51 51 0 0 1 680.3 210.5M687.3 213.3A54 54 0 0 1 691.0 218.0M674.6 229.9A34 34 0 0 1 676.5 233.1M675.2 234.2A32 32 0 0 1 676.6 237.4M688.5 233.4A45 45 0 0 1 689.9 238.0M694.7 231.1A51 51 0 0 1 696.4 236.4M681.5 249.2A35 35 0 0 1 681.3 253.0M675.9 256.4A30 30 0 0 1 675.0 259.6M675.9 260.3A31 31 0 0 1 674.5 263.4M695.3 267.8A52 52 0 0 1 692.9 273.0M697.3 268.6A54 54 0 0 1 694.9 274.0M674.8 274.3A38 38 0 0 1 671.9 277.2M670.7 276.6A37 37 0 0 1 667.6 279.0M669.7 293.7A50 50 0 0 1 664.7 295.9M656.5 276.6A29 29 0 0 1 654.1 277.3M646.4 280.9A32 32 0 0 1 642.9 280.7M646.3 297.3A48 48 0 0 1 641.1 296.9M642.0 284.7A36 36 0 0 1 638.2 284.0M633.9 282.0A35 35 0 0 1 630.4 280.4M630.6 290.5A44 44 0 0 1 626.2 288.5M612.1 279.2A46 46 0 0 1 609.0 275.3M605.6 284.9A55 55 0 0 1 601.9 280.3M610.7 273.4A43 43 0 0 1 608.3 269.4M620.1 262.3A30 30 0 0 1 619.1 260.0M601.8 272.2A50 50 0 0 1 599.6 267.2M615.2 260.7A33 33 0 0 1 614.1 257.2M596.2 267.8A54 54 0 0 1 594.4 262.2M600.5 260.1A47 47 0 0 1 599.6 255.0M595.3 261.3A53 53 0 0 1 594.3 255.7M608.8 253.4A38 38 0 0 1 608.5 249.2M592.5 248.7A54 54 0 0 1 592.8 242.8M607.0 233.7A42 42 0 0 1 608.9 229.5M604.8 219.8A51 51 0 0 1 608.2 215.4M613.8 219.5A44 44 0 0 1 617.1 216.2M630.6 224.9A29 29 0 0 1 632.7 223.6M627.3 211.7A42 42 0 0 1 631.5 209.9M632.3 210.7A41 41 0 0 1 636.6 209.4M641.9 208.4A41 41 0 0 1 646.4 208.2M640.5 195.9A53 53 0 0 1 646.3 195.6" fill="none" stroke="rgba(255,255,255,0.86)" stroke-width="4.5"/><path d="M647.0 183.4A66 66 0 0 1 654.1 183.8M647.0 178.8A70 70 0 0 1 654.6 179.3M647.1 167.9A81 81 0 0 1 655.9 168.4M653.7 193.3A56 56 0 0 1 659.7 194.4M656.3 172.9A77 77 0 0 1 664.5 174.4M658.3 157.2A93 93 0 0 1 668.2 159.0M662.2 187.2A64 64 0 0 1 668.8 189.3M672.2 182.6A71 71 0 0 1 679.3 185.8M679.3 187.6A70 70 0 0 1 685.8 191.5M680.3 200.9A59 59 0 0 1 685.3 204.8M685.1 193.9A67 67 0 0 1 690.9 198.4M694.8 195.3A72 72 0 0 1 700.3 200.8M704.8 209.4A70 70 0 0 1 708.7 215.9M708.3 207.0A75 75 0 0 1 712.5 213.9M706.5 218.0A67 67 0 0 1 709.5 224.7M702.3 228.3A59 59 0 0 1 704.2 234.4M727.6 218.8A86 86 0 0 1 730.4 227.8M705.4 234.9A60 60 0 0 1 706.6 241.3M723.3 230.6A79 79 0 0 1 724.9 239.0M748.6 224.5A105 105 0 0 1 750.7 235.7M721.1 240.4A75 75 0 0 1 721.6 248.5M736.4 238.6A90 90 0 0 1 737.0 248.4M742.5 238.0A97 97 0 0 1 743.1 248.4M719.4 249.4A73 73 0 0 1 718.9 257.3M729.4 249.5A83 83 0 0 1 728.8 258.5M733.2 260.0A87 87 0 0 1 731.5 269.4M727.5 269.5A83 83 0 0 1 724.8 278.1M742.0 273.1A98 98 0 0 1 738.9 283.3M709.2 273.2A67 67 0 0 1 706.3 279.8M714.5 275.2A73 73 0 0 1 711.2 282.4M730.3 281.3A90 90 0 0 1 726.3 290.2M735.7 296.5A101 101 0 0 1 730.0 305.8M704.0 289.1A70 70 0 0 1 699.3 295.1M688.4 286.5A56 56 0 0 1 684.1 290.8M697.6 294.8A69 69 0 0 1 692.4 300.0M703.3 299.8A76 76 0 0 1 697.4 305.7M731.9 325.5A115 115 0 0 1 723.1 334.3M701.1 311.3A83 83 0 0 1 694.0 316.8M727.7 341.7A123 123 0 0 1 717.2 350.0M696.5 322.3A89 89 0 0 1 688.3 327.3M711.6 344.4A115 115 0 0 1 700.9 350.9M674.2 302.3A60 60 0 0 1 668.2 305.0M676.3 306.4A65 65 0 0 1 669.9 309.3M691.2 335.2A97 97 0 0 1 681.6 339.6M668.4 307.4A62 62 0 0 1 661.9 309.4M670.8 313.9A69 69 0 0 1 663.6 316.1M677.9 333.1A90 90 0 0 1 668.6 336.0M661.1 309.3A62 62 0 0 1 654.4 310.5M663.0 317.4A70 70 0 0 1 655.5 318.8M654.8 319.8A71 71 0 0 1 647.0 320.3M656.0 330.4A82 82 0 0 1 647.1 331.0M635.7 334.4A86 86 0 0 1 626.5 332.7M630.6 312.3A65 65 0 0 1 623.8 310.1M621.6 313.8A69 69 0 0 1 614.7 310.7M612.9 312.2A72 72 0 0 1 606.3 308.2M608.3 320.9A81 81 0 0 1 600.7 316.3M607.0 323.3A84 84 0 0 1 599.2 318.6M614.6 294.7A56 56 0 0 1 609.9 291.0M601.8 288.2A60 60 0 0 1 597.8 283.1M595.1 294.0A68 68 0 0 1 590.6 288.2M594.3 284.6A63 63 0 0 1 590.7 278.7M578.8 295.2A82 82 0 0 1 574.2 287.6M570.9 300.6A92 92 0 0 1 565.8 292.1M595.7 275.3A57 57 0 0 1 593.2 269.6M588.4 270.7A62 62 0 0 1 586.4 264.2M583.0 264.3A65 65 0 0 1 581.7 257.3M542.0 261.1A105 105 0 0 1 541.3 249.6M585.8 248.6A61 61 0 0 1 586.2 242.0M565.6 248.5A81 81 0 0 1 566.1 239.7M555.3 248.4A91 91 0 0 1 555.9 238.5M543.0 248.4A104 104 0 0 1 543.6 237.1M587.7 241.5A59 59 0 0 1 588.9 235.2M589.4 234.5A59 59 0 0 1 591.3 228.4M556.8 226.3A93 93 0 0 1 559.8 216.7M582.3 214.7A73 73 0 0 1 586.4 208.0M572.6 209.6A84 84 0 0 1 577.3 201.8M554.0 199.7A105 105 0 0 1 559.9 189.9M526.7 185.1A136 136 0 0 1 534.3 172.5M591.6 210.5A67 67 0 0 1 596.1 204.8M534.0 170.3A137 137 0 0 1 543.2 158.5M588.5 196.9A78 78 0 0 1 594.5 190.9M579.4 188.7A90 90 0 0 1 586.3 181.8M571.3 181.4A101 101 0 0 1 579.0 173.7M559.8 171.1A117 117 0 0 1 568.7 162.2M600.8 196.7A69 69 0 0 1 606.8 192.1M614.3 201.5A57 57 0 0 1 619.6 198.3M610.0 195.3A65 65 0 0 1 616.0 191.6M603.9 186.3A76 76 0 0 1 611.0 182.1M611.0 180.1A78 78 0 0 1 618.6 176.6M602.6 164.0A96 96 0 0 1 612.1 159.7M610.4 151.8A104 104 0 0 1 621.2 148.4M622.0 146.4A106 106 0 0 1 633.2 144.3M637.6 170.9A79 79 0 0 1 646.1 170.4" fill="none" stroke="rgba(255,255,255,0.6)" stroke-width="5.8"/><path d="M647.1 160.5A88 88 0 0 1 656.7 161.1M654.6 186.4A63 63 0 0 1 661.3 187.7M658.9 152.9A97 97 0 0 1 669.2 154.8M669.7 189.2A64 64 0 0 1 676.0 192.1M673.8 178.7A75 75 0 0 1 681.2 182.0M672.6 200.2A55 55 0 0 1 677.7 203.3M697.1 192.7A76 76 0 0 1 702.9 198.5M704.6 184.3A87 87 0 0 1 711.3 191.0M698.4 203.6A69 69 0 0 1 703.0 209.5M699.0 203.2A70 70 0 0 1 703.6 209.1M713.5 190.4A89 89 0 0 1 719.5 198.0M694.1 216.7A57 57 0 0 1 697.3 222.0M714.7 202.6A82 82 0 0 1 719.3 210.3M715.5 213.4A78 78 0 0 1 719.0 221.0M730.6 205.6A95 95 0 0 1 734.8 214.9M742.8 213.2A103 103 0 0 1 746.1 223.8M741.2 226.3A97 97 0 0 1 743.1 236.7M714.2 241.2A68 68 0 0 1 714.6 248.6M702.4 249.3A56 56 0 0 1 702.0 255.4M743.2 249.6A97 97 0 0 1 742.6 260.1M701.8 256.0A56 56 0 0 1 700.7 262.0M726.0 259.1A80 80 0 0 1 724.4 267.7M749.2 262.1A103 103 0 0 1 747.2 273.1M707.5 264.4A63 63 0 0 1 705.5 270.9M714.9 266.3A70 70 0 0 1 712.6 273.6M734.7 271.3A91 91 0 0 1 731.8 280.7M704.2 279.7A65 65 0 0 1 700.5 285.7M709.5 282.5A71 71 0 0 1 705.5 289.1M724.3 290.4A88 88 0 0 1 719.3 298.6M736.9 297.1A102 102 0 0 1 731.1 306.6M723.5 302.8A94 94 0 0 1 717.2 310.8M708.7 304.7A83 83 0 0 1 702.3 311.1M721.9 316.5A101 101 0 0 1 714.1 324.3M727.4 321.5A109 109 0 0 1 719.1 329.8M689.6 298.1A65 65 0 0 1 684.0 302.5M690.8 313.9A78 78 0 0 1 683.5 318.3M705.1 334.9A104 104 0 0 1 695.4 340.7M681.6 316.6A76 76 0 0 1 674.0 320.0M697.4 347.3A111 111 0 0 1 686.5 352.2M701.2 354.5A119 119 0 0 1 689.4 359.8M703.8 359.7A125 125 0 0 1 691.5 365.2M668.2 339.0A93 93 0 0 1 658.3 340.8M646.1 328.1A79 79 0 0 1 637.5 327.6M637.1 323.7A75 75 0 0 1 629.0 322.2M634.0 348.0A100 100 0 0 1 623.3 346.0M629.5 316.8A70 70 0 0 1 622.2 314.5M624.6 306.1A61 61 0 0 1 618.5 303.3M617.6 324.0A80 80 0 0 1 609.6 320.5M602.5 312.0A77 77 0 0 1 596.0 306.9M599.7 316.0A82 82 0 0 1 592.7 310.5M606.2 294.1A61 61 0 0 1 601.5 289.4M599.4 301.7A71 71 0 0 1 593.9 296.2M571.5 287.8A85 85 0 0 1 567.7 279.5M576.4 275.1A75 75 0 0 1 574.0 267.4M567.2 278.6A85 85 0 0 1 564.5 269.8M560.0 281.2A92 92 0 0 1 557.0 271.7M553.6 259.7A94 94 0 0 1 553.0 249.6M547.3 248.4A99 99 0 0 1 547.9 237.6M568.9 239.1A78 78 0 0 1 570.4 230.7M555.5 237.4A92 92 0 0 1 557.3 227.6M547.7 236.4A100 100 0 0 1 549.6 225.7M517.0 232.5A131 131 0 0 1 519.6 218.5M578.6 231.8A70 70 0 0 1 580.8 224.5M549.7 224.5A100 100 0 0 1 552.9 214.1M554.6 213.5A99 99 0 0 1 559.0 203.7M543.8 209.3A110 110 0 0 1 548.7 198.4M537.0 206.7A118 118 0 0 1 542.2 195.0M588.2 217.9A66 66 0 0 1 591.9 211.8M545.0 194.9A115 115 0 0 1 551.5 184.2M523.0 183.2A140 140 0 0 1 530.8 170.1M581.4 203.4A80 80 0 0 1 586.7 196.6M573.6 198.0A89 89 0 0 1 579.6 190.4M565.4 192.2A99 99 0 0 1 572.0 183.7M556.6 186.1A110 110 0 0 1 563.9 176.7M605.5 212.1A55 55 0 0 1 609.7 207.9M594.1 201.9A70 70 0 0 1 599.5 196.5M563.0 174.0A112 112 0 0 1 571.6 165.4M590.2 184.5A86 86 0 0 1 597.5 178.8M586.1 179.9A92 92 0 0 1 594.0 173.7M578.2 170.8A104 104 0 0 1 587.1 163.9M573.0 164.9A112 112 0 0 1 582.5 157.4M600.6 181.5A82 82 0 0 1 608.2 176.9M614.7 187.2A70 70 0 0 1 621.6 184.2M607.3 173.0A86 86 0 0 1 615.8 169.2M621.7 182.1A71 71 0 0 1 629.1 179.8M619.6 176.4A77 77 0 0 1 627.6 173.9M629.7 178.6A72 72 0 0 1 637.4 177.1M627.2 168.2A83 83 0 0 1 636.1 166.6M626.0 163.0A88 88 0 0 1 635.4 161.3M624.9 158.6A93 93 0 0 1 634.8 156.7M639.1 184.0A65 65 0 0 1 646.2 183.5" fill="none" stroke="rgba(255,255,255,0.86)" stroke-width="5.8"/><path d="M649.2 230.3A19 19 0 0 1 650.8 230.5M652.4 227.1A23 23 0 0 1 654.3 227.7M652.7 233.8A16 16 0 0 1 654.0 234.4M660.1 230.1A23 23 0 0 1 661.7 231.4M670.4 237.0A27 27 0 0 1 671.3 239.1M666.1 251.7A20 20 0 0 1 665.8 253.4M667.0 257.2A22 22 0 0 1 666.3 258.9M659.8 264.4A20 20 0 0 1 658.4 265.5M651.5 270.5A22 22 0 0 1 649.6 270.9M637.3 272.3A25 25 0 0 1 635.3 271.4M628.2 261.3A22 22 0 0 1 627.2 259.6M622.8 248.6A24 24 0 0 1 622.9 246.5M629.2 233.0A24 24 0 0 1 630.6 231.6M634.4 230.7A22 22 0 0 1 636.0 229.7M641.1 224.9A25 25 0 0 1 643.2 224.5M644.2 225.4A24 24 0 0 1 646.2 225.3" fill="none" stroke="rgba(255,255,255,0.72)" stroke-width="3"/><path d="M652.2 205.1A44 44 0 0 1 656.9 206.0M653.0 199.1A50 50 0 0 1 658.3 200.1M659.9 196.5A54 54 0 0 1 665.5 198.3M658.6 217.8A33 33 0 0 1 662.0 219.3M660.7 223.2A29 29 0 0 1 662.9 224.5M663.5 217.2A36 36 0 0 1 666.9 219.3M670.3 204.4A50 50 0 0 1 675.0 207.3M677.9 204.2A55 55 0 0 1 682.6 207.9M677.4 214.7A46 46 0 0 1 680.9 218.2M680.2 211.6A50 50 0 0 1 684.0 215.4M675.0 242.5A29 29 0 0 1 675.5 245.0M681.4 240.6A36 36 0 0 1 682.1 244.5M694.4 243.5A48 48 0 0 1 694.8 248.7M690.5 249.3A44 44 0 0 1 690.2 254.0M686.3 254.1A40 40 0 0 1 685.5 258.3M682.2 258.0A37 37 0 0 1 681.0 261.8M680.3 262.0A36 36 0 0 1 678.7 265.6M684.5 269.2A43 43 0 0 1 682.1 273.2M688.3 271.2A47 47 0 0 1 685.6 275.6M688.5 278.3A51 51 0 0 1 685.1 282.7M679.9 278.9A45 45 0 0 1 676.5 282.3M681.8 289.3A53 53 0 0 1 677.3 292.8M664.0 274.6A31 31 0 0 1 661.1 276.3M675.7 291.7A52 52 0 0 1 670.9 294.6M659.7 275.1A29 29 0 0 1 657.4 276.2M665.7 300.3A55 55 0 0 1 660.0 302.1M657.3 293.7A46 46 0 0 1 652.4 294.6M652.8 302.8A54 54 0 0 1 646.9 303.2M646.4 288.5A39 39 0 0 1 642.1 288.2M634.2 297.8A50 50 0 0 1 629.0 296.2M632.1 276.2A31 31 0 0 1 629.3 274.4M621.1 296.9A54 54 0 0 1 616.1 293.8M629.6 272.8A29 29 0 0 1 627.6 271.2M626.2 278.2A36 36 0 0 1 623.1 275.8M624.3 280.9A39 39 0 0 1 621.0 278.3M616.2 292.4A53 53 0 0 1 611.7 288.9M616.8 275.1A40 40 0 0 1 614.1 271.7M608.1 282.7A51 51 0 0 1 604.6 278.4M621.8 265.9A30 30 0 0 1 620.1 263.1M603.7 271.2A48 48 0 0 1 601.6 266.4M606.3 264.0A43 43 0 0 1 604.9 259.5M617.4 252.0A29 29 0 0 1 617.2 249.5M615.3 248.8A31 31 0 0 1 615.5 245.4M612.3 230.7A39 39 0 0 1 614.5 227.1M616.9 228.2A36 36 0 0 1 619.3 225.1M613.2 210.8A51 51 0 0 1 617.5 207.4M626.4 219.4A36 36 0 0 1 629.8 217.4M623.1 214.5A42 42 0 0 1 627.0 212.1M634.1 215.5A36 36 0 0 1 637.8 214.3M628.6 200.7A52 52 0 0 1 634.0 199.0M636.8 208.1A42 42 0 0 1 641.3 207.3" fill="none" stroke="rgba(255,255,255,0.72)" stroke-width="4.5"/><path d="M655.6 178.2A71 71 0 0 1 663.3 179.6M661.1 191.7A59 59 0 0 1 667.2 193.6M663.4 182.7A68 68 0 0 1 670.5 184.9M681.9 182.8A75 75 0 0 1 688.9 187.0M685.4 176.2A82 82 0 0 1 693.0 180.9M683.7 195.9A65 65 0 0 1 689.3 200.3M689.2 201.5A64 64 0 0 1 694.1 206.4M699.6 212.9A64 64 0 0 1 703.2 218.9M721.7 197.8A91 91 0 0 1 726.8 206.3M719.1 211.5A82 82 0 0 1 722.7 219.6M726.5 207.7A90 90 0 0 1 730.5 216.6M712.3 224.6A70 70 0 0 1 714.5 231.8M729.3 218.2A88 88 0 0 1 732.1 227.4M750.7 210.2A111 111 0 0 1 754.3 221.8M725.6 230.0A81 81 0 0 1 727.2 238.7M735.5 227.7A91 91 0 0 1 737.2 237.4M703.0 242.5A57 57 0 0 1 703.4 248.7M709.7 241.7A63 63 0 0 1 710.1 248.6M728.0 239.6A82 82 0 0 1 728.6 248.5M750.4 237.0A105 105 0 0 1 751.1 248.4M708.3 249.4A62 62 0 0 1 707.9 256.1M705.6 256.5A59 59 0 0 1 704.4 262.9M715.5 257.8A69 69 0 0 1 714.1 265.2M722.1 278.1A81 81 0 0 1 718.5 286.2M725.7 279.6A85 85 0 0 1 721.9 288.0M715.5 285.7A78 78 0 0 1 711.1 292.9M709.5 293.0A77 77 0 0 1 704.3 299.5M715.8 297.4A84 84 0 0 1 710.1 304.6M735.8 311.4A109 109 0 0 1 728.5 320.7M692.5 290.1A62 62 0 0 1 687.7 294.9M716.4 311.6A94 94 0 0 1 709.2 318.8M695.2 304.6A74 74 0 0 1 688.9 309.5M718.8 331.5A110 110 0 0 1 709.4 338.9M722.4 335.6A115 115 0 0 1 712.6 343.4M680.2 298.4A60 60 0 0 1 674.7 301.7M684.8 305.1A68 68 0 0 1 678.5 308.9M685.9 325.1A86 86 0 0 1 677.5 328.9M684.0 349.4A107 107 0 0 1 672.9 352.9M689.3 363.7A122 122 0 0 1 676.6 367.6M663.5 319.2A72 72 0 0 1 655.7 320.7M654.1 313.7A65 65 0 0 1 647.0 314.2M656.9 338.3A90 90 0 0 1 647.1 338.9M646.3 306.1A57 57 0 0 1 640.1 305.7M646.0 340.7A92 92 0 0 1 636.1 340.1M646.0 348.1A99 99 0 0 1 635.3 347.4M639.4 305.4A57 57 0 0 1 633.3 304.3M638.1 315.3A67 67 0 0 1 631.0 314.0M635.1 338.8A91 91 0 0 1 625.5 337.0M628.4 321.1A74 74 0 0 1 620.7 318.7M627.5 324.4A78 78 0 0 1 619.4 321.9M626.8 327.2A81 81 0 0 1 618.5 324.6M626.6 300.7A55 55 0 0 1 621.2 298.2M626.4 301.2A56 56 0 0 1 620.9 298.7M619.2 320.0A76 76 0 0 1 611.6 316.6M615.5 307.4A66 66 0 0 1 609.4 303.6M603.7 329.6A91 91 0 0 1 595.2 324.5M603.3 297.3A65 65 0 0 1 598.3 292.3M591.3 297.4A74 74 0 0 1 586.4 291.1M578.4 284.2A77 77 0 0 1 575.0 276.6M590.3 262.5A58 58 0 0 1 589.2 256.3M571.2 267.1A78 78 0 0 1 569.7 258.8M560.1 269.8A89 89 0 0 1 558.4 260.3M579.5 248.6A67 67 0 0 1 579.9 241.3M534.1 248.3A113 113 0 0 1 534.8 236.1M577.5 240.2A70 70 0 0 1 578.9 232.7M526.1 233.6A121 121 0 0 1 528.5 220.7M536.0 221.0A114 114 0 0 1 539.6 209.2M591.0 227.5A60 60 0 0 1 593.6 221.6M569.9 219.4A82 82 0 0 1 573.5 211.2M562.0 216.3A91 91 0 0 1 566.1 207.4M534.8 189.5A127 127 0 0 1 541.9 177.7M550.7 181.9A117 117 0 0 1 558.6 171.9M540.7 175.0A129 129 0 0 1 549.4 163.9M594.5 189.4A79 79 0 0 1 601.2 184.1M596.8 175.9A88 88 0 0 1 605.0 171.0M592.0 168.8A97 97 0 0 1 601.0 163.3M603.5 165.6A94 94 0 0 1 612.8 161.4M598.3 155.6A105 105 0 0 1 608.7 150.9M625.9 193.3A59 59 0 0 1 632.0 191.4M623.7 187.5A66 66 0 0 1 630.5 185.4M617.0 169.5A85 85 0 0 1 625.8 166.7M615.5 165.5A89 89 0 0 1 624.8 162.6M633.0 192.4A58 58 0 0 1 639.2 191.3M631.4 185.5A65 65 0 0 1 638.3 184.3M623.5 152.9A99 99 0 0 1 634.1 150.9M639.9 190.7A59 59 0 0 1 646.2 190.4" fill="none" stroke="rgba(255,255,255,0.72)" stroke-width="5.8"/><path d="M655.5 226.6A24 24 0 0 1 657.4 227.5M659.5 240.4A15 15 0 0 1 660.2 241.6M672.9 239.6A28 28 0 0 1 673.6 241.9M665.3 254.0A19 19 0 0 1 664.8 255.5M663.5 261.1A21 21 0 0 1 662.4 262.5M653.9 269.3A22 22 0 0 1 652.1 269.9M646.2 273.9A25 25 0 0 1 644.0 273.8M641.3 269.1A21 21 0 0 1 639.6 268.6M638.1 264.5A18 18 0 0 1 636.8 263.7M626.4 266.3A27 27 0 0 1 625.0 264.5M624.9 254.0A22 22 0 0 1 624.5 252.1M619.4 245.2A27 27 0 0 1 619.8 242.9M626.6 234.7A25 25 0 0 1 627.9 233.0M634.9 235.3A18 18 0 0 1 636.1 234.4" fill="none" stroke="rgba(255,255,255,0.6)" stroke-width="3"/><path d="M772.6 190.3A139 139 0 0 1 778.2 204.3M710.6 167.0A104 104 0 0 1 719.1 174.5M725.1 185.4A101 101 0 0 1 731.5 194.3M717.1 361.8A133 133 0 0 1 704.4 368.8M694.5 380.6A140 140 0 0 1 679.9 385.0M757.9 294.0A120 120 0 0 1 752.3 305.7M759.6 309.1A128 128 0 0 1 752.4 321.0" fill="none" stroke="rgba(255,255,255,0.68)" stroke-width="5.8"/><circle cx="646.6" cy="249.0" r="2.2" fill="none" stroke="rgba(255,255,255,.5)" stroke-width="1"/></svg><div class="t" style="left:84px;top:327px;width:478px;height:102px;background:#1bc863;box-shadow:0 0 7px 6px #1bc863"></div><div class="t " style="left:88.7px;top:327.17px;font-size:19.7px;line-height:26px;color:rgba(255,255,255,.93);font-weight:400;letter-spacing:-0.2px;">Google News Lab</div><div class="t " style="left:256.5px;top:331.80px;font-size:15px;line-height:20px;color:rgba(255,255,255,.93);font-weight:400;letter-spacing:0px;">and</div><div class="t " style="left:298.0px;top:332.15px;font-size:14px;line-height:20px;color:rgba(255,255,255,.93);font-weight:700;letter-spacing:1.7px;">TRUTH</div><div class="t " style="left:362.5px;top:325.34px;font-size:25px;line-height:28px;color:rgba(255,255,255,.93);font-weight:400;letter-spacing:0px;font-family:'Liberation Serif',serif;">&amp;</div><div class="t " style="left:386.8px;top:332.15px;font-size:14px;line-height:20px;color:rgba(255,255,255,.93);font-weight:700;letter-spacing:1.1px;">BEAUTY</div><div class="t " style="left:464.0px;top:331.80px;font-size:15px;line-height:20px;color:rgba(255,255,255,.93);font-weight:400;letter-spacing:0px;">explore</div><div class="t " style="left:85.0px;top:368.68px;font-size:50px;line-height:58px;color:#fff;font-weight:400;letter-spacing:0.55px;">The Rhythm of Food</div><div class="t bgt" style="right:51.0px;top:277.02px;font-size:13.5px;line-height:18px;color:rgba(255,255,255,.92);font-weight:700;letter-spacing:1.2px;text-align:right;">JUMP TO</div><div class="t bgt" style="right:50.0px;top:305.10px;font-size:12.4px;line-height:16px;color:#fff;font-weight:400;letter-spacing:0.05px;text-align:right;-webkit-text-stroke:.4px #fff;">Introduction</div><div class="t bgt" style="right:50.0px;top:331.30px;font-size:12.4px;line-height:16px;color:#fff;font-weight:400;letter-spacing:0.05px;text-align:right;-webkit-text-stroke:.4px #fff;">Monthly trends</div><div class="t bgt" style="right:50.0px;top:357.50px;font-size:12.4px;line-height:16px;color:#fff;font-weight:400;letter-spacing:0.05px;text-align:right;-webkit-text-stroke:.4px #fff;">Common patterns</div><div class="t bgt" style="right:50.0px;top:383.70px;font-size:12.4px;line-height:16px;color:#fff;font-weight:400;letter-spacing:0.05px;text-align:right;-webkit-text-stroke:.4px #fff;">Explore</div><div class="t bgt" style="right:50.0px;top:409.90px;font-size:12.4px;line-height:16px;color:#fff;font-weight:400;letter-spacing:0.05px;text-align:right;-webkit-text-stroke:.4px #fff;">Background</div></div><div class="t " style="left:86.0px;top:550.03px;font-size:24px;line-height:34.7px;color:#333;font-weight:400;letter-spacing:0.19px;">How do we search for food?<br>Google search interest can reveal<br>key food trends over the years.</div><div class="t " style="left:86.0px;top:672.82px;font-size:20px;line-height:30.1px;color:#757575;font-weight:400;letter-spacing:0.06px;">From the rise and fall of recipes over diets<br>and drinks to cooking trends and regional<br>cuisines.</div><div class="t " style="left:516.0px;top:558.55px;font-size:14px;line-height:18px;color:#333;font-weight:700;letter-spacing:0.3px;">Veganism</div><div class="t " style="left:516.0px;top:591.83px;font-size:10px;line-height:13px;color:#aaa;font-weight:400;letter-spacing:0.25px;">Worldwide Google search volume</div><div class="t " style="left:516.0px;top:676.03px;font-size:10px;line-height:13px;color:#aaa;font-weight:400;letter-spacing:0.3px;">2004</div><div class="t " style="right:560.3px;top:676.03px;font-size:10px;line-height:13px;color:#aaa;font-weight:400;letter-spacing:0.3px;text-align:right;">2016</div><div class="t " style="left:753.1px;top:558.55px;font-size:14px;line-height:18px;color:#333;font-weight:700;letter-spacing:0.3px;">Moscow mule</div><div class="t " style="left:753.1px;top:676.03px;font-size:10px;line-height:13px;color:#aaa;font-weight:400;letter-spacing:0.3px;">2004</div><div class="t " style="right:323.2px;top:676.03px;font-size:10px;line-height:13px;color:#aaa;font-weight:400;letter-spacing:0.3px;text-align:right;">2016</div><div class="t " style="left:988.9px;top:558.55px;font-size:14px;line-height:18px;color:#333;font-weight:700;letter-spacing:0.3px;">Fat-free</div><div class="t " style="left:988.9px;top:676.03px;font-size:10px;line-height:13px;color:#aaa;font-weight:400;letter-spacing:0.3px;">2004</div><div class="t " style="right:87.4px;top:676.03px;font-size:10px;line-height:13px;color:#aaa;font-weight:400;letter-spacing:0.3px;text-align:right;">2016</div><div class="t " style="left:516.0px;top:730.55px;font-size:14px;line-height:18px;color:#333;font-weight:700;letter-spacing:0.3px;">Superfood</div><div class="t " style="left:516.0px;top:848.03px;font-size:10px;line-height:13px;color:#aaa;font-weight:400;letter-spacing:0.3px;">2004</div><div class="t " style="right:560.3px;top:848.03px;font-size:10px;line-height:13px;color:#aaa;font-weight:400;letter-spacing:0.3px;text-align:right;">2016</div><div class="t " style="left:753.1px;top:730.55px;font-size:14px;line-height:18px;color:#333;font-weight:700;letter-spacing:0.3px;">Mediterranean cuisine</div><div class="t " style="left:753.1px;top:848.03px;font-size:10px;line-height:13px;color:#aaa;font-weight:400;letter-spacing:0.3px;">2004</div><div class="t " style="right:323.2px;top:848.03px;font-size:10px;line-height:13px;color:#aaa;font-weight:400;letter-spacing:0.3px;text-align:right;">2016</div><div class="t " style="left:988.9px;top:730.55px;font-size:14px;line-height:18px;color:#333;font-weight:700;letter-spacing:0.3px;">Molecular gastronomy</div><div class="t " style="left:988.9px;top:848.03px;font-size:10px;line-height:13px;color:#aaa;font-weight:400;letter-spacing:0.3px;">2004</div><div class="t " style="right:87.4px;top:848.03px;font-size:10px;line-height:13px;color:#aaa;font-weight:400;letter-spacing:0.3px;text-align:right;">2016</div><div class="hr" style="top:911.5px"></div><div class="hr" style="top:1208.5px;height:1.5px"></div><div class="hr" style="top:1901px"></div><div class="t " style="left:86.0px;top:956.03px;font-size:24px;line-height:34.5px;color:#333;font-weight:400;letter-spacing:0.4px;">But it turns out that we can learn<br>even more from analyzing search<br>patterns.</div><div class="t " style="left:86.0px;top:1078.57px;font-size:20px;line-height:30.2px;color:#757575;font-weight:400;letter-spacing:0.04px;">We collected weekly <a>Google Trends</a> data for<br>hundreds of dishes and ingredients, over<br>twelve years</div><div class="t " style="left:757.3px;top:963.05px;font-size:21.5px;line-height:28px;color:#737373;font-weight:400;letter-spacing:0.6px;">Searches for</div><div class="t " style="left:759.5px;top:994.16px;font-size:25.5px;line-height:32px;color:#444;font-weight:700;letter-spacing:0px;">Apricot</div><div class="t " style="left:690.3px;top:1096.20px;font-size:22.5px;line-height:28px;color:#737373;font-weight:400;letter-spacing:0px;">2006</div><div class="t " style="left:760.0px;top:1133.94px;font-size:17.5px;line-height:22px;color:#9a9a9a;font-weight:400;letter-spacing:1.0px;">JAN</div><div class="t " style="left:861.0px;top:1133.94px;font-size:17.5px;line-height:22px;color:#9a9a9a;font-weight:400;letter-spacing:1.0px;">JUL</div><div class="t " style="left:975.6px;top:1133.94px;font-size:17.5px;line-height:22px;color:#9a9a9a;font-weight:400;letter-spacing:1.0px;">DEC</div><div class="t " style="left:85.7px;top:1236.07px;font-size:20px;line-height:28px;color:#757575;font-weight:400;letter-spacing:-0.02px;">and plotted the results on a <b style="letter-spacing:-.2px">year clock</b></div><div class="t " style="left:1035.5px;top:1268.26px;font-size:20px;line-height:26px;color:#969696;font-weight:400;letter-spacing:0px;">2005</div><div class="t " style="left:1035.5px;top:1317.95px;font-size:20px;line-height:26px;color:#969696;font-weight:400;letter-spacing:0px;">2006</div><div class="t " style="left:1035.5px;top:1368.00px;font-size:20px;line-height:26px;color:#969696;font-weight:400;letter-spacing:0px;">2007</div><div class="t " style="left:1035.5px;top:1417.69px;font-size:20px;line-height:26px;color:#969696;font-weight:400;letter-spacing:0px;">2008</div><div class="t " style="left:1035.5px;top:1466.66px;font-size:20px;line-height:26px;color:#969696;font-weight:400;letter-spacing:0px;">2009</div><div class="t " style="left:1035.5px;top:1516.72px;font-size:20px;line-height:26px;color:#969696;font-weight:400;letter-spacing:0px;">2010</div><div class="t " style="left:1035.5px;top:1566.41px;font-size:20px;line-height:26px;color:#969696;font-weight:400;letter-spacing:0px;">2011</div><div class="t " style="left:1035.5px;top:1616.46px;font-size:20px;line-height:26px;color:#969696;font-weight:400;letter-spacing:0px;">2012</div><div class="t " style="left:1035.5px;top:1665.43px;font-size:20px;line-height:26px;color:#969696;font-weight:400;letter-spacing:0px;">2013</div><div class="t " style="left:1035.5px;top:1715.12px;font-size:20px;line-height:26px;color:#969696;font-weight:400;letter-spacing:0px;">2014</div><div class="t " style="left:1035.5px;top:1764.81px;font-size:20px;line-height:26px;color:#969696;font-weight:400;letter-spacing:0px;">2015</div><div class="t " style="left:1035.5px;top:1814.87px;font-size:20px;line-height:26px;color:#969696;font-weight:400;letter-spacing:0px;">2016</div><div class="t " style="left:85.7px;top:1927.67px;font-size:20px;line-height:29.6px;color:#757575;font-weight:400;letter-spacing:0.1px;">to investigate the seasons and<br><b style="letter-spacing:-.3px">rhythm of food</b> around the world.</div><div class="t " style="left:778.0px;top:1948.15px;font-size:14px;line-height:18px;color:#2cc474;font-weight:400;letter-spacing:0.7px;">Peaks at holidays</div><div class="t " style="left:861.5px;top:2075.65px;font-size:14px;line-height:19px;color:#2cc474;font-weight:400;letter-spacing:0.7px;">Radius =<br>Number of Google searches</div><div class="t " style="left:852.5px;top:2358.15px;font-size:14px;line-height:18px;color:#2cc474;font-weight:400;letter-spacing:0.7px;">Natural season</div><div class="t " style="left:513.0px;top:2344.15px;font-size:14px;line-height:18px;color:#2cc474;font-weight:400;letter-spacing:0.6px;">Color = Year</div><div class="t " style="left:513.0px;top:2391.14px;font-size:12px;line-height:15px;color:#aaa;font-weight:400;letter-spacing:0.3px;">2004</div><div class="t " style="right:663.0px;top:2391.14px;font-size:12px;line-height:15px;color:#aaa;font-weight:400;letter-spacing:0.3px;text-align:right;">2016</div><div class="t " style="left:718.5px;top:2426.61px;font-size:30px;line-height:36px;color:#666;font-weight:400;letter-spacing:1.45px;">APRICOT</div><svg width="1280" height="2718" viewBox="0 0 1280 2718" style="pointer-events:none"><defs><g id="apT"><g stroke="#fff" stroke-width=".7"><path d="M770.2 2217.5A60.7 60.7 0 0 1 763.8 2214.6L766.3 2209.9A55.4 55.4 0 0 0 772.1 2212.5ZM713.2 2071.5A119.1 119.1 0 0 1 724.0 2063.0L727.8 2068.4A112.5 112.5 0 0 0 717.5 2076.4ZM827.4 2152.4A36.5 36.5 0 0 1 828.1 2156.1L825.0 2156.5A33.4 33.4 0 0 0 824.4 2153.1ZM831.7 2140.3A44.8 44.8 0 0 1 833.6 2144.6L830.0 2146.0A40.9 40.9 0 0 0 828.3 2142.1ZM822.0 2172.5A32.3 32.3 0 0 1 820.6 2175.5L818.1 2174.3A29.5 29.5 0 0 0 819.4 2171.5ZM761.8 2181.2A36.3 36.3 0 0 1 759.9 2178.0L762.6 2176.5A33.2 33.2 0 0 0 764.4 2179.4ZM819.6 2136.7A36.7 36.7 0 0 1 821.9 2139.7L819.3 2141.5A33.5 33.5 0 0 0 817.2 2138.8ZM763.5 2153.5A29.3 29.3 0 0 1 764.4 2150.7L766.9 2151.6A26.7 26.7 0 0 0 766.1 2154.2ZM838.0 2155.6A46.4 46.4 0 0 1 838.3 2160.4L834.3 2160.4A42.4 42.4 0 0 0 834.0 2156.1ZM814.9 2128.1A40.0 40.0 0 0 1 818.2 2130.6L815.9 2133.2A36.5 36.5 0 0 0 812.9 2130.9ZM762.9 2041.8A122.5 122.5 0 0 1 776.8 2039.3L777.6 2045.8A115.9 115.9 0 0 0 764.5 2048.2ZM804.7 2109.4A53.0 53.0 0 0 1 810.6 2111.2L808.9 2115.6A48.3 48.3 0 0 0 803.6 2113.9ZM824.4 2247.1A92.2 92.2 0 0 1 814.2 2250.3L812.6 2243.9A85.6 85.6 0 0 0 822.1 2240.9ZM791.7 2254.4A93.6 93.6 0 0 1 780.9 2253.8L781.6 2247.2A87.0 87.0 0 0 0 791.7 2247.8ZM761.5 2125.8A46.4 46.4 0 0 1 765.2 2122.9L767.6 2126.2A42.3 42.3 0 0 0 764.1 2128.9ZM819.3 2164.4A27.6 27.6 0 0 1 818.8 2167.2L816.2 2166.6A25.0 25.0 0 0 0 816.7 2164.0ZM780.1 2112.4A49.8 49.8 0 0 1 785.8 2111.3L786.3 2115.6A45.5 45.5 0 0 0 781.1 2116.6Z" fill="#99d83d"/><path d="M826.2 2095.9A73.4 73.4 0 0 1 833.4 2100.3L829.8 2105.6A66.9 66.9 0 0 0 823.1 2101.6ZM838.9 2108.0A70.7 70.7 0 0 1 844.7 2113.8L840.0 2117.9A64.5 64.5 0 0 0 834.8 2112.7ZM848.2 2111.2A75.1 75.1 0 0 1 853.6 2118.0L848.1 2121.8A68.5 68.5 0 0 0 843.3 2115.5ZM866.9 2212.9A91.3 91.3 0 0 1 860.4 2221.2L855.4 2216.8A84.7 84.7 0 0 0 861.5 2209.1ZM877.8 2150.6A86.5 86.5 0 0 1 878.4 2160.6L871.8 2160.6A79.9 79.9 0 0 0 871.3 2151.4ZM750.6 2081.7A89.2 89.2 0 0 1 760.0 2077.5L762.4 2083.6A82.6 82.6 0 0 0 753.7 2087.5ZM746.7 2278.9A126.5 126.5 0 0 1 733.4 2272.9L736.5 2267.1A119.9 119.9 0 0 0 749.1 2272.8ZM724.4 2168.8A67.9 67.9 0 0 1 724.0 2161.0L730.0 2161.0A61.9 61.9 0 0 0 730.4 2168.1ZM760.3 2076.7A89.8 89.8 0 0 1 770.2 2073.7L771.8 2080.1A83.2 83.2 0 0 0 762.6 2082.9ZM757.5 2298.8A142.3 142.3 0 0 1 741.8 2293.9L744.1 2287.8A135.7 135.7 0 0 0 759.1 2292.4ZM897.5 2161.1A105.6 105.6 0 0 1 896.8 2173.3L890.2 2172.5A99.0 99.0 0 0 0 890.9 2161.1ZM732.3 2227.7A89.6 89.6 0 0 1 725.0 2220.4L729.9 2216.0A83.0 83.0 0 0 0 736.7 2222.8ZM720.5 2151.9A71.9 71.9 0 0 1 722.0 2143.8L728.2 2145.3A65.6 65.6 0 0 0 726.8 2152.7ZM868.3 2272.1A135.0 135.0 0 0 1 854.9 2280.1L851.8 2274.3A128.4 128.4 0 0 0 864.5 2266.6ZM713.1 2180.0A81.1 81.1 0 0 1 711.4 2170.8L717.9 2170.0A74.5 74.5 0 0 0 719.5 2178.4ZM712.0 2190.9A85.3 85.3 0 0 1 709.1 2181.4L715.5 2179.8A78.7 78.7 0 0 0 718.2 2188.5ZM853.2 2278.4A132.7 132.7 0 0 1 839.3 2284.7L836.9 2278.6A126.1 126.1 0 0 0 850.2 2272.6ZM821.3 2083.9A82.3 82.3 0 0 1 830.0 2087.8L826.9 2093.6A75.7 75.7 0 0 0 818.9 2090.0ZM724.6 2195.9A75.9 75.9 0 0 1 721.0 2187.9L727.1 2185.6A69.3 69.3 0 0 0 730.4 2192.9ZM699.8 2056.3A139.2 139.2 0 0 1 712.5 2046.4L716.3 2051.8A132.6 132.6 0 0 0 704.2 2061.3ZM792.1 2079.9A80.9 80.9 0 0 1 801.4 2080.5L800.7 2087.0A74.3 74.3 0 0 0 792.1 2086.5ZM882.6 2183.4A93.4 93.4 0 0 1 879.3 2193.7L873.2 2191.4A86.8 86.8 0 0 0 876.1 2181.8Z" fill="#461768"/><path d="M792.1 2094.7A66.1 66.1 0 0 1 799.7 2095.1L799.0 2100.9A60.3 60.3 0 0 0 792.1 2100.5ZM861.5 2209.1A84.7 84.7 0 0 1 855.4 2216.8L850.5 2212.4A78.1 78.1 0 0 0 856.0 2205.3ZM736.0 2131.3A63.2 63.2 0 0 1 739.8 2125.0L744.4 2128.2A57.6 57.6 0 0 0 741.0 2133.9ZM831.2 2116.7A59.0 59.0 0 0 1 836.0 2121.5L832.1 2125.0A53.9 53.9 0 0 0 827.7 2120.6ZM758.8 2247.3A92.6 92.6 0 0 1 749.1 2242.9L752.1 2237.1A86.0 86.0 0 0 0 761.2 2241.1ZM836.1 2245.6A95.6 95.6 0 0 1 826.0 2250.1L823.7 2243.9A89.0 89.0 0 0 0 833.1 2239.7ZM764.9 2089.0A76.7 76.7 0 0 1 773.3 2086.3L774.9 2092.7A70.1 70.1 0 0 0 767.2 2095.1ZM749.5 2131.4A51.6 51.6 0 0 1 753.2 2126.7L756.6 2129.7A47.1 47.1 0 0 0 753.2 2133.9ZM839.8 2186.1A54.2 54.2 0 0 1 836.6 2191.5L832.7 2188.8A49.5 49.5 0 0 0 835.6 2183.9ZM857.3 2177.1A67.4 67.4 0 0 1 855.0 2184.5L849.4 2182.4A61.5 61.5 0 0 0 851.5 2175.7ZM835.1 2275.5A122.6 122.6 0 0 1 821.5 2279.7L819.9 2273.3A116.0 116.0 0 0 0 832.7 2269.3ZM743.0 2203.9A65.1 65.1 0 0 1 738.4 2197.9L743.1 2194.7A59.4 59.4 0 0 0 747.3 2200.1ZM729.2 2160.6A62.7 62.7 0 0 1 729.6 2153.4L735.1 2154.1A57.2 57.2 0 0 0 734.7 2160.7ZM752.0 2102.6A70.5 70.5 0 0 1 759.0 2098.4L761.9 2103.9A64.3 64.3 0 0 0 755.5 2107.8ZM841.1 2161.2A49.2 49.2 0 0 1 840.8 2166.3L836.6 2165.8A45.0 45.0 0 0 0 836.9 2161.2Z" fill="#2a798e"/><path d="M870.7 2170.6A79.4 79.4 0 0 1 869.1 2179.6L862.7 2178.0A72.8 72.8 0 0 0 864.2 2169.8ZM713.2 2160.6A78.7 78.7 0 0 1 713.8 2151.5L720.3 2152.3A72.1 72.1 0 0 0 719.8 2160.6ZM732.2 2246.8A104.7 104.7 0 0 1 722.7 2239.3L727.0 2234.4A98.1 98.1 0 0 0 736.0 2241.4ZM810.7 2318.7A159.0 159.0 0 0 1 792.3 2319.8L792.3 2313.2A152.4 152.4 0 0 0 809.9 2312.2ZM709.1 2192.0A88.5 88.5 0 0 1 706.0 2182.2L712.4 2180.6A81.9 81.9 0 0 0 715.3 2189.6ZM756.9 2301.0A144.5 144.5 0 0 1 741.0 2296.1L743.3 2289.9A137.9 137.9 0 0 0 758.5 2294.6ZM874.0 2181.3A84.7 84.7 0 0 1 871.1 2190.6L865.0 2188.3A78.1 78.1 0 0 0 867.6 2179.7ZM872.0 2191.4A85.7 85.7 0 0 1 867.9 2200.4L862.1 2197.4A79.1 79.1 0 0 0 865.8 2189.1ZM847.9 2309.6A159.0 159.0 0 0 1 830.4 2315.1L828.8 2308.7A152.4 152.4 0 0 0 845.6 2303.5ZM782.9 2085.0A76.3 76.3 0 0 1 791.7 2084.5L791.7 2091.1A69.7 69.7 0 0 0 783.7 2091.6ZM862.9 2161.0A71.0 71.0 0 0 1 862.4 2169.2L856.2 2168.4A64.7 64.7 0 0 0 856.6 2161.0ZM745.9 2093.7A81.3 81.3 0 0 1 753.9 2088.9L757.0 2094.7A74.7 74.7 0 0 0 749.6 2099.2ZM719.4 2133.1A77.6 77.6 0 0 1 723.1 2124.9L728.9 2128.0A71.0 71.0 0 0 0 725.6 2135.4ZM823.2 2289.2A132.2 132.2 0 0 1 808.2 2292.0L807.4 2285.4A125.6 125.6 0 0 0 821.6 2282.8ZM792.1 2065.9A94.9 94.9 0 0 1 803.1 2066.6L802.3 2073.1A88.3 88.3 0 0 0 792.1 2072.5ZM817.2 2094.7A70.8 70.8 0 0 1 824.6 2098.0L821.7 2103.6A64.5 64.5 0 0 0 814.9 2100.5Z" fill="#462d7b"/><path d="M856.3 2127.2A72.6 72.6 0 0 1 859.7 2134.9L853.7 2137.2A66.2 66.2 0 0 0 850.6 2130.2ZM742.9 2148.6A50.5 50.5 0 0 1 744.6 2143.0L748.7 2144.6A46.1 46.1 0 0 0 747.2 2149.6ZM867.4 2142.4A77.7 77.7 0 0 1 869.0 2151.2L862.4 2152.0A71.1 71.1 0 0 0 861.0 2144.0ZM801.5 2083.7A77.7 77.7 0 0 1 810.3 2085.3L808.7 2091.7A71.1 71.1 0 0 0 800.7 2090.2ZM773.6 2308.2A148.5 148.5 0 0 1 756.7 2305.1L758.3 2298.6A141.9 141.9 0 0 0 774.4 2301.6ZM731.6 2118.9A73.4 73.4 0 0 1 736.8 2112.3L741.7 2116.5A66.9 66.9 0 0 0 736.9 2122.6ZM735.1 2174.6A58.4 58.4 0 0 1 733.9 2168.0L739.0 2167.4A53.3 53.3 0 0 0 740.1 2173.4ZM738.1 2140.2A57.6 57.6 0 0 1 740.9 2134.2L745.3 2136.5A52.5 52.5 0 0 0 742.8 2142.1ZM729.2 2231.2A94.3 94.3 0 0 1 721.5 2223.5L726.4 2219.1A87.7 87.7 0 0 0 733.6 2226.3ZM866.1 2245.0A112.2 112.2 0 0 1 855.9 2253.0L852.1 2247.5A105.6 105.6 0 0 0 861.7 2240.0ZM810.0 2088.1A75.0 75.0 0 0 1 818.3 2090.6L816.0 2096.8A68.4 68.4 0 0 0 808.4 2094.5ZM887.8 2172.7A96.6 96.6 0 0 1 885.8 2183.7L879.3 2182.1A90.0 90.0 0 0 0 881.2 2171.9ZM791.5 2295.4A134.6 134.6 0 0 1 776.0 2294.4L776.8 2287.9A128.0 128.0 0 0 0 791.6 2288.8ZM827.8 2092.8A76.9 76.9 0 0 1 835.4 2097.4L831.7 2102.8A70.3 70.3 0 0 0 824.7 2098.6ZM845.3 2302.7A151.6 151.6 0 0 1 828.6 2307.9L827.0 2301.5A145.0 145.0 0 0 0 843.0 2296.5ZM745.7 2093.5A81.7 81.7 0 0 1 753.8 2088.6L756.8 2094.4A75.1 75.1 0 0 0 749.4 2098.9ZM862.8 2198.2A80.1 80.1 0 0 1 858.0 2206.1L852.5 2202.4A73.5 73.5 0 0 0 856.9 2195.1ZM836.4 2110.8A66.9 66.9 0 0 1 841.9 2116.3L837.5 2120.2A61.0 61.0 0 0 0 832.5 2115.2ZM726.6 2218.3A87.0 87.0 0 0 1 720.4 2210.4L725.9 2206.6A80.4 80.4 0 0 0 731.6 2214.0ZM711.2 2069.2A122.1 122.1 0 0 1 722.3 2060.5L726.0 2065.9A115.5 115.5 0 0 0 715.5 2074.2Z" fill="#414185"/><path d="M818.3 2231.1A75.1 75.1 0 0 1 810.1 2233.6L808.5 2227.2A68.5 68.5 0 0 0 816.0 2224.9ZM763.4 2145.5A32.4 32.4 0 0 1 765.1 2142.6L767.4 2144.2A29.6 29.6 0 0 0 765.8 2146.8ZM828.2 2193.5A48.9 48.9 0 0 1 824.6 2197.1L821.8 2194.0A44.6 44.6 0 0 0 825.1 2190.7ZM762.2 2176.1A33.4 33.4 0 0 1 760.8 2172.9L763.5 2171.9A30.5 30.5 0 0 0 764.7 2174.7ZM825.6 2209.9A59.6 59.6 0 0 1 819.7 2213.5L817.3 2208.9A54.4 54.4 0 0 0 822.7 2205.6ZM765.5 2198.3A45.8 45.8 0 0 1 761.8 2195.4L764.4 2192.4A41.8 41.8 0 0 0 767.8 2195.0ZM831.6 2237.0A85.9 85.9 0 0 1 822.6 2241.0L820.2 2234.9A79.3 79.3 0 0 0 828.6 2231.1ZM746.5 2177.6A48.4 48.4 0 0 1 745.0 2172.8L749.1 2171.8A44.2 44.2 0 0 0 750.4 2176.1ZM769.8 2117.7A48.4 48.4 0 0 1 774.3 2115.7L775.9 2119.6A44.2 44.2 0 0 0 771.7 2121.5ZM769.0 2127.0A40.8 40.8 0 0 1 772.6 2124.8L774.3 2127.9A37.3 37.3 0 0 0 771.0 2129.9ZM818.4 2157.8A26.6 26.6 0 0 1 818.5 2160.6L815.9 2160.6A24.0 24.0 0 0 0 815.8 2158.1ZM717.2 2076.1A112.9 112.9 0 0 1 727.5 2068.0L731.3 2073.5A106.3 106.3 0 0 0 721.6 2081.0Z" fill="#5ac663"/><path d="M822.9 2177.4A35.1 35.1 0 0 1 821.0 2180.5L818.5 2178.8A32.1 32.1 0 0 0 820.2 2176.0ZM836.5 2150.2A45.8 45.8 0 0 1 837.3 2154.9L833.4 2155.4A41.8 41.8 0 0 0 832.6 2151.1ZM800.9 2236.7A76.5 76.5 0 0 1 792.1 2237.3L792.1 2230.7A69.9 69.9 0 0 0 800.1 2230.2ZM817.0 2227.5A71.3 71.3 0 0 1 809.1 2230.0L807.6 2223.9A65.0 65.0 0 0 0 814.8 2221.6ZM761.8 2181.2A36.3 36.3 0 0 1 759.9 2178.0L762.6 2176.5A33.2 33.2 0 0 0 764.4 2179.4ZM760.8 2172.3A33.2 33.2 0 0 1 759.8 2169.0L762.5 2168.3A30.3 30.3 0 0 0 763.4 2171.3ZM766.1 2131.2A39.2 39.2 0 0 1 769.3 2128.7L771.3 2131.5A35.8 35.8 0 0 0 768.4 2133.8ZM780.3 2254.5A94.4 94.4 0 0 1 769.6 2252.5L771.1 2246.1A87.8 87.8 0 0 0 781.1 2247.9Z" fill="#fde725"/><path d="M756.1 2164.8A36.0 36.0 0 0 1 755.9 2161.1L759.0 2161.1A32.9 32.9 0 0 0 759.2 2164.5ZM744.9 2128.2A57.2 57.2 0 0 1 749.0 2123.0L752.7 2126.3A52.2 52.2 0 0 0 749.0 2131.0ZM776.2 2287.6A127.7 127.7 0 0 1 761.7 2284.9L763.2 2278.5A121.1 121.1 0 0 0 777.0 2281.0ZM848.8 2243.7A100.6 100.6 0 0 1 838.9 2249.7L835.8 2243.9A94.0 94.0 0 0 0 845.1 2238.3ZM743.9 2172.5A49.4 49.4 0 0 1 742.9 2166.9L747.2 2166.3A45.1 45.1 0 0 0 748.1 2171.5ZM843.8 2260.3A112.2 112.2 0 0 1 832.0 2265.6L829.6 2259.5A105.6 105.6 0 0 0 840.7 2254.5ZM765.5 2198.3A45.8 45.8 0 0 1 761.8 2195.4L764.4 2192.4A41.8 41.8 0 0 0 767.8 2195.0ZM840.5 2127.4A59.0 59.0 0 0 1 844.1 2133.3L839.5 2135.7A53.8 53.8 0 0 0 836.3 2130.4ZM731.9 2107.4A80.3 80.3 0 0 1 738.5 2100.8L742.9 2105.7A73.7 73.7 0 0 0 736.8 2111.8ZM824.5 2124.6A48.7 48.7 0 0 1 828.1 2128.2L824.9 2131.0A44.5 44.5 0 0 0 821.7 2127.8ZM798.0 2113.7A47.5 47.5 0 0 1 802.9 2114.6L801.9 2118.6A43.3 43.3 0 0 0 797.5 2117.8ZM791.6 2277.2A116.4 116.4 0 0 1 778.2 2276.4L779.0 2269.8A109.8 109.8 0 0 0 791.6 2270.6ZM808.4 2094.6A68.2 68.2 0 0 1 815.9 2097.0L813.8 2102.6A62.2 62.2 0 0 0 806.9 2100.5ZM732.7 2227.2A88.9 88.9 0 0 1 725.5 2220.0L730.4 2215.6A82.3 82.3 0 0 0 737.1 2222.3ZM833.3 2124.3A55.2 55.2 0 0 1 837.2 2129.3L833.3 2132.1A50.4 50.4 0 0 0 829.7 2127.5ZM828.9 2202.8A56.0 56.0 0 0 1 823.8 2206.8L821.0 2202.8A51.1 51.1 0 0 0 825.7 2199.1ZM831.2 2176.1A42.1 42.1 0 0 1 829.4 2180.1L826.1 2178.4A38.5 38.5 0 0 0 827.8 2174.8ZM746.8 2154.9A45.5 45.5 0 0 1 747.7 2150.3L751.5 2151.2A41.5 41.5 0 0 0 750.7 2155.4Z" fill="#209f88"/><path d="M836.7 2191.9A54.6 54.6 0 0 1 832.9 2196.9L829.3 2193.7A49.8 49.8 0 0 0 832.8 2189.2ZM838.0 2136.7A52.0 52.0 0 0 1 840.5 2142.2L836.3 2143.8A47.5 47.5 0 0 0 834.0 2138.8ZM751.9 2139.4A45.4 45.4 0 0 1 754.3 2135.3L757.6 2137.6A41.4 41.4 0 0 0 755.4 2141.2ZM766.1 2131.2A39.2 39.2 0 0 1 769.3 2128.7L771.3 2131.5A35.8 35.8 0 0 0 768.4 2133.8ZM830.6 2146.5A41.2 41.2 0 0 1 831.8 2150.6L828.4 2151.5A37.7 37.7 0 0 0 827.2 2147.8ZM852.1 2248.5A106.4 106.4 0 0 1 841.6 2254.9L838.5 2249.0A99.8 99.8 0 0 0 848.4 2243.1ZM806.2 2103.6A59.0 59.0 0 0 1 812.7 2105.6L810.8 2110.5A53.8 53.8 0 0 0 804.9 2108.6ZM820.7 2237.3A81.8 81.8 0 0 1 811.7 2240.1L810.1 2233.7A75.2 75.2 0 0 0 818.4 2231.1ZM820.1 2168.0A29.1 29.1 0 0 1 819.2 2170.9L816.7 2170.0A26.5 26.5 0 0 0 817.5 2167.4ZM791.7 2242.2A81.4 81.4 0 0 1 782.3 2241.7L783.1 2235.1A74.8 74.8 0 0 0 791.7 2235.6ZM807.3 2290.4A130.6 130.6 0 0 1 792.2 2291.4L792.2 2284.8A124.0 124.0 0 0 0 806.5 2283.9ZM737.1 2154.0A55.2 55.2 0 0 1 738.2 2147.7L742.9 2148.9A50.4 50.4 0 0 0 741.9 2154.6ZM770.8 2119.7A46.2 46.2 0 0 1 775.1 2117.8L776.6 2121.5A42.2 42.2 0 0 0 772.6 2123.3Z" fill="#31b27c"/><path d="M739.6 2236.1A91.7 91.7 0 0 1 731.3 2229.6L735.6 2224.6A85.1 85.1 0 0 0 743.4 2230.7ZM807.0 2100.4A62.3 62.3 0 0 1 813.8 2102.5L811.9 2107.6A56.8 56.8 0 0 0 805.6 2105.7ZM836.1 2121.8A59.0 59.0 0 0 1 840.3 2127.2L836.1 2130.1A53.8 53.8 0 0 0 832.2 2125.2ZM853.7 2176.2A63.6 63.6 0 0 1 851.5 2183.2L846.2 2181.2A58.0 58.0 0 0 0 848.2 2174.8ZM845.3 2238.6A94.3 94.3 0 0 1 836.0 2244.2L832.9 2238.4A87.7 87.7 0 0 0 841.6 2233.1ZM741.8 2204.9A66.8 66.8 0 0 1 737.1 2198.9L741.9 2195.5A60.9 60.9 0 0 0 746.2 2201.0ZM857.1 2168.9A65.7 65.7 0 0 1 855.7 2176.4L850.1 2175.0A59.9 59.9 0 0 0 851.4 2168.2ZM756.3 2228.3A76.3 76.3 0 0 1 748.7 2223.7L752.5 2218.3A69.7 69.7 0 0 0 759.3 2222.4ZM741.9 2179.6A53.4 53.4 0 0 1 740.1 2173.7L744.6 2172.6A48.7 48.7 0 0 0 746.3 2178.0ZM849.9 2201.0A70.6 70.6 0 0 1 844.8 2207.5L840.2 2203.3A64.3 64.3 0 0 0 844.7 2197.5ZM751.1 2188.8A49.5 49.5 0 0 1 748.1 2183.9L751.9 2181.9A45.2 45.2 0 0 0 754.6 2186.4ZM817.6 2266.4A108.6 108.6 0 0 1 805.3 2268.6L804.5 2262.1A102.0 102.0 0 0 0 816.1 2259.9ZM809.6 2114.6A49.5 49.5 0 0 1 814.8 2116.9L812.8 2120.7A45.2 45.2 0 0 0 808.0 2118.6ZM750.1 2131.8A50.8 50.8 0 0 1 753.8 2127.2L757.1 2130.1A46.4 46.4 0 0 0 753.8 2134.3ZM754.4 2127.4A50.2 50.2 0 0 1 758.5 2123.3L761.4 2126.6A45.8 45.8 0 0 0 757.7 2130.3ZM738.0 2188.9A60.8 60.8 0 0 1 735.1 2182.5L740.1 2180.6A55.5 55.5 0 0 0 742.7 2186.5Z" fill="#248b8c"/><path d="M844.5 2300.7A149.4 149.4 0 0 1 828.0 2305.8L826.4 2299.4A142.8 142.8 0 0 0 842.2 2294.5ZM736.8 2122.5A67.1 67.1 0 0 1 741.5 2116.4L746.0 2120.3A61.2 61.2 0 0 0 741.6 2125.9ZM730.7 2214.8A81.6 81.6 0 0 1 724.9 2207.3L730.3 2203.6A75.0 75.0 0 0 0 735.6 2210.4ZM873.9 2233.8A109.7 109.7 0 0 1 864.9 2242.8L860.5 2237.8A103.1 103.1 0 0 0 868.9 2229.4ZM688.7 2043.7A156.0 156.0 0 0 1 702.9 2032.6L706.7 2038.0A149.4 149.4 0 0 0 693.1 2048.7ZM865.6 2122.4A83.1 83.1 0 0 1 869.5 2131.1L863.4 2133.5A76.5 76.5 0 0 0 859.8 2125.4ZM733.3 2271.7A125.5 125.5 0 0 1 720.9 2264.2L724.6 2258.8A118.9 118.9 0 0 0 736.4 2265.9ZM860.3 2113.8A83.0 83.0 0 0 1 865.3 2122.0L859.4 2125.1A76.4 76.4 0 0 0 854.9 2117.6ZM811.1 2083.6A79.6 79.6 0 0 1 819.9 2086.3L817.6 2092.5A73.0 73.0 0 0 0 809.5 2090.0ZM884.6 2183.9A95.6 95.6 0 0 1 881.3 2194.5L875.2 2192.1A89.0 89.0 0 0 0 878.2 2182.3ZM791.6 2293.2A132.4 132.4 0 0 1 776.3 2292.2L777.1 2285.7A125.8 125.8 0 0 0 791.6 2286.6ZM837.3 2095.5A79.5 79.5 0 0 1 844.5 2101.1L840.1 2106.1A72.9 72.9 0 0 0 833.5 2100.9ZM754.2 2006.1A159.2 159.2 0 0 1 772.3 2002.8L773.1 2009.3A152.6 152.6 0 0 0 755.8 2012.5ZM771.6 2324.1A164.6 164.6 0 0 1 752.9 2320.7L754.5 2314.3A158.0 158.0 0 0 0 772.4 2317.6ZM726.4 2255.1A114.8 114.8 0 0 1 716.0 2246.9L720.4 2242.0A108.2 108.2 0 0 0 730.2 2249.7ZM870.2 2141.7A80.6 80.6 0 0 1 871.9 2150.9L865.3 2151.7A74.0 74.0 0 0 0 863.8 2143.3Z" fill="#440154"/><path d="M851.9 2202.4A73.0 73.0 0 0 1 846.7 2209.1L841.8 2204.8A66.6 66.6 0 0 0 846.6 2198.8ZM801.5 2083.1A78.3 78.3 0 0 1 810.4 2084.7L808.9 2091.1A71.7 71.7 0 0 0 800.7 2089.6ZM842.8 2141.6A54.4 54.4 0 0 1 844.7 2147.6L840.1 2148.8A49.7 49.7 0 0 0 838.4 2143.3ZM815.0 2255.6A97.5 97.5 0 0 1 803.9 2257.6L803.1 2251.1A90.9 90.9 0 0 0 813.4 2249.2ZM783.9 2093.5A67.8 67.8 0 0 1 791.7 2093.0L791.7 2099.0A61.8 61.8 0 0 0 784.6 2099.4ZM730.2 2215.2A82.3 82.3 0 0 1 724.3 2207.7L729.8 2203.9A75.7 75.7 0 0 0 735.1 2210.8ZM757.0 2226.9A74.8 74.8 0 0 1 749.6 2222.5L753.3 2217.0A68.2 68.2 0 0 0 760.1 2221.1ZM739.2 2140.6A56.5 56.5 0 0 1 741.8 2134.7L746.2 2137.0A51.5 51.5 0 0 0 743.8 2142.4ZM733.9 2146.3A59.8 59.8 0 0 1 736.0 2139.8L740.9 2141.6A54.5 54.5 0 0 0 739.0 2147.6ZM778.9 2051.0A110.6 110.6 0 0 1 791.6 2050.2L791.6 2056.8A104.0 104.0 0 0 0 779.6 2057.5ZM841.8 2293.4A141.7 141.7 0 0 1 826.2 2298.3L824.6 2291.9A135.1 135.1 0 0 0 839.5 2287.3ZM893.7 2173.4A102.6 102.6 0 0 1 891.6 2185.1L885.2 2183.5A96.0 96.0 0 0 0 887.2 2172.6ZM834.3 2166.3A42.8 42.8 0 0 1 833.5 2170.7L829.9 2169.8A39.1 39.1 0 0 0 830.6 2165.8ZM739.2 2167.1A53.1 53.1 0 0 1 738.8 2160.9L743.4 2160.9A48.5 48.5 0 0 0 743.8 2166.5ZM724.5 2125.2A76.2 76.2 0 0 1 729.1 2117.7L734.5 2121.4A69.6 69.6 0 0 0 730.4 2128.3ZM856.3 2153.1A64.9 64.9 0 0 1 856.8 2160.6L851.1 2160.6A59.2 59.2 0 0 0 850.6 2153.8Z" fill="#31688e"/><path d="M847.5 2267.4A120.2 120.2 0 0 1 834.8 2273.1L832.5 2266.9A113.6 113.6 0 0 0 844.4 2261.5ZM736.8 2174.2A56.7 56.7 0 0 1 735.6 2167.8L740.6 2167.2A51.7 51.7 0 0 0 741.6 2173.1ZM724.9 2168.8A67.5 67.5 0 0 1 724.4 2161.0L730.4 2161.0A61.5 61.5 0 0 0 730.8 2168.1ZM748.4 2274.5A121.7 121.7 0 0 1 735.6 2268.7L738.7 2262.9A115.1 115.1 0 0 0 750.8 2268.3ZM763.8 2107.0A60.7 60.7 0 0 1 770.2 2104.1L772.1 2109.1A55.3 55.3 0 0 0 766.3 2111.7ZM775.8 2290.2A130.4 130.4 0 0 1 761.0 2287.5L762.6 2281.1A123.8 123.8 0 0 0 776.7 2283.7ZM744.8 2250.0A100.8 100.8 0 0 1 734.8 2243.9L738.6 2238.5A94.2 94.2 0 0 0 747.9 2244.1ZM743.4 2186.1A54.8 54.8 0 0 1 740.8 2180.3L745.2 2178.6A50.0 50.0 0 0 0 747.6 2183.9ZM855.6 2233.0A96.3 96.3 0 0 1 846.8 2239.9L843.0 2234.5A89.7 89.7 0 0 0 851.2 2228.1ZM791.6 2270.8A110.0 110.0 0 0 1 778.9 2270.0L779.7 2263.4A103.4 103.4 0 0 0 791.6 2264.2ZM849.1 2191.0A64.7 64.7 0 0 1 845.3 2197.4L840.6 2194.2A59.0 59.0 0 0 0 844.1 2188.4ZM849.1 2139.3A61.1 61.1 0 0 1 851.2 2146.0L845.9 2147.3A55.7 55.7 0 0 0 844.0 2141.2ZM822.6 2286.8A129.6 129.6 0 0 1 807.9 2289.5L807.1 2282.9A123.0 123.0 0 0 0 821.0 2280.3ZM760.1 2288.3A131.4 131.4 0 0 1 745.6 2283.8L747.9 2277.6A124.8 124.8 0 0 0 761.7 2281.9ZM848.5 2154.1A57.0 57.0 0 0 1 848.9 2160.7L843.9 2160.7A52.0 52.0 0 0 0 843.6 2154.7ZM763.4 2084.9A81.1 81.1 0 0 1 772.3 2082.1L773.9 2088.5A74.5 74.5 0 0 0 765.7 2091.1ZM852.3 2161.0A60.4 60.4 0 0 1 851.9 2167.9L846.6 2167.3A55.1 55.1 0 0 0 847.0 2160.9ZM825.7 2122.9A50.8 50.8 0 0 1 829.8 2127.0L826.5 2130.0A46.3 46.3 0 0 0 822.7 2126.2ZM836.2 2278.5A125.8 125.8 0 0 1 822.3 2282.8L820.7 2276.4A119.2 119.2 0 0 0 833.9 2272.3Z" fill="#39558b"/><path d="M791.6 2288.7A127.9 127.9 0 0 1 776.8 2287.8L777.6 2281.3A121.3 121.3 0 0 0 791.6 2282.1ZM743.4 2252.6A103.8 103.8 0 0 1 733.1 2246.4L736.9 2241.0A97.2 97.2 0 0 0 746.5 2246.8ZM701.4 2058.1A136.9 136.9 0 0 1 713.9 2048.4L717.6 2053.8A130.3 130.3 0 0 0 705.8 2063.1ZM691.2 2185.3A103.6 103.6 0 0 1 689.1 2173.6L695.6 2172.7A97.0 97.0 0 0 0 697.7 2183.8ZM800.8 2089.2A72.1 72.1 0 0 1 809.0 2090.7L807.5 2096.9A65.7 65.7 0 0 0 800.0 2095.6ZM832.8 2124.8A54.5 54.5 0 0 1 836.6 2129.7L832.7 2132.5A49.7 49.7 0 0 0 829.2 2127.9ZM738.0 2167.2A54.2 54.2 0 0 1 737.7 2160.9L742.4 2160.9A49.5 49.5 0 0 0 742.8 2166.6ZM781.3 2071.7A89.8 89.8 0 0 1 791.7 2071.0L791.7 2077.6A83.2 83.2 0 0 0 782.1 2078.2ZM823.3 2115.6A55.0 55.0 0 0 1 828.3 2119.5L825.1 2123.2A50.2 50.2 0 0 0 820.5 2119.6ZM822.8 2287.6A130.5 130.5 0 0 1 808.0 2290.3L807.2 2283.8A123.9 123.9 0 0 0 821.2 2281.2ZM757.8 2095.5A73.7 73.7 0 0 1 765.6 2092.0L767.9 2098.1A67.2 67.2 0 0 0 760.8 2101.2ZM747.7 2149.5A45.6 45.6 0 0 1 749.1 2145.0L752.9 2146.4A41.6 41.6 0 0 0 751.6 2150.5ZM842.7 2218.4A76.8 76.8 0 0 1 835.7 2223.9L831.9 2218.4A70.2 70.2 0 0 0 838.3 2213.4ZM806.6 2101.9A60.7 60.7 0 0 1 813.3 2104.0L811.4 2109.0A55.3 55.3 0 0 0 805.3 2107.1ZM845.4 2147.8A55.1 55.1 0 0 1 846.5 2154.0L841.8 2154.6A50.2 50.2 0 0 0 840.7 2148.9ZM726.1 2195.1A74.2 74.2 0 0 1 722.6 2187.3L728.8 2184.9A67.6 67.6 0 0 0 732.0 2192.1ZM738.8 2113.5A71.1 71.1 0 0 1 744.6 2107.7L748.8 2112.4A64.8 64.8 0 0 0 743.5 2117.7ZM739.4 2180.6A56.1 56.1 0 0 1 737.5 2174.4L742.2 2173.2A51.2 51.2 0 0 0 744.0 2178.8ZM738.9 2197.2A64.2 64.2 0 0 1 735.1 2190.8L740.1 2188.2A58.6 58.6 0 0 0 743.6 2194.0ZM819.5 2088.6A77.3 77.3 0 0 1 827.6 2092.3L824.6 2098.1A70.7 70.7 0 0 0 817.1 2094.8ZM765.5 2266.9A109.3 109.3 0 0 1 753.4 2263.1L755.7 2256.9A102.7 102.7 0 0 0 767.1 2260.5Z" fill="#2a798e"/><path d="M738.5 2154.2A53.8 53.8 0 0 1 739.6 2148.1L744.2 2149.2A49.1 49.1 0 0 0 743.2 2154.8ZM757.9 2225.2A72.8 72.8 0 0 1 750.7 2220.8L754.3 2215.5A66.4 66.4 0 0 0 760.9 2219.5ZM822.9 2177.4A35.1 35.1 0 0 1 821.0 2180.5L818.5 2178.8A32.1 32.1 0 0 0 820.2 2176.0ZM757.6 2020.1A144.8 144.8 0 0 1 774.1 2017.1L774.9 2023.7A138.2 138.2 0 0 0 759.2 2026.5ZM772.8 2237.3A78.9 78.9 0 0 1 764.1 2234.6L766.5 2228.4A72.3 72.3 0 0 0 774.4 2230.9ZM833.3 2176.9A44.5 44.5 0 0 1 831.4 2181.1L828.0 2179.4A40.6 40.6 0 0 0 829.7 2175.5ZM818.4 2147.2A29.8 29.8 0 0 1 819.7 2150.0L817.2 2150.9A27.2 27.2 0 0 0 816.1 2148.4ZM745.2 2119.2A62.6 62.6 0 0 1 750.3 2114.1L753.9 2118.2A57.1 57.1 0 0 0 749.3 2122.8ZM760.8 2242.0A87.0 87.0 0 0 1 751.7 2237.9L754.7 2232.1A80.4 80.4 0 0 0 763.2 2235.9ZM758.7 2152.3A34.2 34.2 0 0 1 759.8 2148.9L762.5 2150.0A31.3 31.3 0 0 0 761.6 2153.0ZM769.2 2100.3A64.6 64.6 0 0 1 776.3 2098.1L777.7 2103.6A58.9 58.9 0 0 0 771.2 2105.7ZM746.2 2165.9A46.0 46.0 0 0 1 745.9 2161.2L749.9 2161.2A42.0 42.0 0 0 0 750.2 2165.5ZM749.9 2131.6A51.2 51.2 0 0 1 753.5 2127.0L756.9 2129.9A46.7 46.7 0 0 0 753.5 2134.2ZM843.4 2141.4A55.0 55.0 0 0 1 845.3 2147.5L840.6 2148.7A50.2 50.2 0 0 0 838.9 2143.1ZM737.4 2174.1A56.1 56.1 0 0 1 736.2 2167.7L741.1 2167.1A51.2 51.2 0 0 0 742.2 2172.9ZM800.9 2236.8A76.5 76.5 0 0 1 792.1 2237.3L792.1 2230.7A69.9 69.9 0 0 0 800.1 2230.2Z" fill="#5ac663"/><path d="M791.6 2289.2A128.4 128.4 0 0 1 776.8 2288.3L777.5 2281.7A121.8 121.8 0 0 0 791.6 2282.6ZM746.4 2184.5A51.3 51.3 0 0 1 744.0 2179.1L748.2 2177.5A46.8 46.8 0 0 0 750.4 2182.4ZM845.2 2189.0A60.3 60.3 0 0 1 841.6 2194.9L837.3 2191.9A55.0 55.0 0 0 0 840.6 2186.5ZM848.5 2225.0A85.6 85.6 0 0 1 840.7 2231.1L836.9 2225.7A79.0 79.0 0 0 0 844.1 2220.0ZM742.5 2216.3A74.3 74.3 0 0 1 736.4 2210.2L741.3 2205.9A67.8 67.8 0 0 0 746.8 2211.4ZM847.6 2174.7A57.4 57.4 0 0 1 845.6 2181.0L840.9 2179.2A52.3 52.3 0 0 0 842.7 2173.5ZM726.8 2176.7A67.0 67.0 0 0 1 725.4 2169.0L731.3 2168.3A61.1 61.1 0 0 0 732.6 2175.3ZM756.9 2160.5A35.0 35.0 0 0 1 757.1 2156.9L760.1 2157.2A32.0 32.0 0 0 0 759.9 2160.5ZM831.7 2133.8A48.1 48.1 0 0 1 834.3 2138.1L830.6 2140.1A43.9 43.9 0 0 0 828.2 2136.2ZM718.2 2211.4A89.3 89.3 0 0 1 712.9 2202.5L718.7 2199.4A82.7 82.7 0 0 0 723.7 2207.6ZM810.5 2112.0A52.2 52.2 0 0 1 816.0 2114.5L813.9 2118.6A47.6 47.6 0 0 0 808.9 2116.3ZM801.9 2121.9A40.2 40.2 0 0 1 805.8 2123.1L804.6 2126.4A36.7 36.7 0 0 0 801.0 2125.2ZM718.2 2151.7A74.3 74.3 0 0 1 719.7 2143.2L726.1 2144.8A67.7 67.7 0 0 0 724.7 2152.5ZM764.9 2089.2A76.5 76.5 0 0 1 773.4 2086.5L775.0 2092.9A69.9 69.9 0 0 0 767.3 2095.3ZM849.3 2182.7A61.4 61.4 0 0 1 846.4 2189.2L841.6 2186.7A56.0 56.0 0 0 0 844.2 2180.8ZM804.1 2263.2A103.1 103.1 0 0 1 792.2 2263.9L792.2 2257.3A96.5 96.5 0 0 0 803.3 2256.6ZM750.3 2100.2A73.5 73.5 0 0 1 757.6 2095.8L760.6 2101.6A67.0 67.0 0 0 0 754.0 2105.6ZM736.3 2240.9A97.4 97.4 0 0 1 727.5 2233.9L731.8 2229.0A90.8 90.8 0 0 0 740.1 2235.4ZM792.1 2088.9A71.9 71.9 0 0 1 800.4 2089.4L799.6 2095.7A65.5 65.5 0 0 0 792.1 2095.3ZM847.7 2242.1A98.6 98.6 0 0 1 837.9 2248.0L834.9 2242.1A92.0 92.0 0 0 0 844.0 2236.6ZM839.8 2135.8A54.0 54.0 0 0 1 842.4 2141.5L837.9 2143.2A49.3 49.3 0 0 0 835.6 2138.0ZM847.7 2210.5A74.7 74.7 0 0 1 841.6 2216.6L837.2 2211.6A68.1 68.1 0 0 0 842.7 2206.1ZM844.6 2148.0A54.2 54.2 0 0 1 845.7 2154.1L841.0 2154.7A49.5 49.5 0 0 0 840.0 2149.1Z" fill="#31688e"/><path d="M870.2 2131.3A83.6 83.6 0 0 1 873.1 2140.6L866.7 2142.2A77.0 77.0 0 0 0 864.0 2133.7ZM725.4 2125.7A75.2 75.2 0 0 1 729.9 2118.3L735.4 2122.0A68.6 68.6 0 0 0 731.3 2128.8ZM875.1 2171.1A83.9 83.9 0 0 1 873.4 2180.7L867.0 2179.1A77.3 77.3 0 0 0 868.6 2170.3ZM837.4 2095.3A79.8 79.8 0 0 1 844.6 2101.0L840.3 2105.9A73.2 73.2 0 0 0 833.6 2100.7ZM780.4 2063.6A97.9 97.9 0 0 1 791.6 2062.9L791.7 2069.5A91.3 91.3 0 0 0 781.1 2070.1ZM730.1 2117.9A75.3 75.3 0 0 1 735.4 2111.0L740.4 2115.4A68.7 68.7 0 0 0 735.5 2121.6ZM859.8 2114.2A82.4 82.4 0 0 1 864.8 2122.3L858.9 2125.4A75.8 75.8 0 0 0 854.4 2117.9ZM791.5 2318.5A157.7 157.7 0 0 1 773.3 2317.4L774.1 2310.8A151.1 151.1 0 0 0 791.5 2311.9ZM870.1 2141.8A80.5 80.5 0 0 1 871.7 2150.9L865.2 2151.7A73.9 73.9 0 0 0 863.7 2143.3ZM717.3 2160.6A74.6 74.6 0 0 1 717.8 2152.0L724.4 2152.8A68.0 68.0 0 0 0 723.9 2160.6ZM849.2 2313.1A162.8 162.8 0 0 1 831.3 2318.7L829.7 2312.3A156.2 156.2 0 0 0 846.9 2307.0ZM801.3 2085.2A76.2 76.2 0 0 1 809.9 2086.8L808.4 2093.2A69.6 69.6 0 0 0 800.5 2091.8ZM723.4 2259.4A120.1 120.1 0 0 1 712.5 2250.9L716.9 2245.9A113.5 113.5 0 0 0 727.2 2254.0Z" fill="#461768"/><path d="M737.4 2181.3A58.2 58.2 0 0 1 735.4 2174.9L740.4 2173.6A53.1 53.1 0 0 0 742.2 2179.5ZM875.2 2171.1A84.0 84.0 0 0 1 873.5 2180.7L867.1 2179.1A77.4 77.4 0 0 0 868.7 2170.3ZM733.3 2167.8A59.0 59.0 0 0 1 732.9 2161.0L738.0 2160.9A53.9 53.9 0 0 0 738.4 2167.2ZM864.7 2211.4A88.7 88.7 0 0 1 858.4 2219.4L853.5 2215.1A82.1 82.1 0 0 0 859.3 2207.6ZM780.0 2060.7A100.8 100.8 0 0 1 791.6 2060.0L791.7 2066.6A94.2 94.2 0 0 0 780.8 2067.2ZM819.5 2274.0A116.5 116.5 0 0 1 806.2 2276.4L805.4 2269.8A109.9 109.9 0 0 0 817.9 2267.5ZM706.0 2063.3A129.9 129.9 0 0 1 717.8 2054.1L721.6 2059.5A123.3 123.3 0 0 0 710.4 2068.3ZM853.7 2250.9A109.3 109.3 0 0 1 842.9 2257.4L839.9 2251.6A102.7 102.7 0 0 0 850.0 2245.5ZM724.7 2195.8A75.7 75.7 0 0 1 721.2 2187.8L727.3 2185.5A69.1 69.1 0 0 0 730.6 2192.8ZM731.1 2248.4A106.6 106.6 0 0 1 721.4 2240.8L725.8 2235.8A100.0 100.0 0 0 0 734.9 2242.9ZM745.1 2249.4A100.2 100.2 0 0 1 735.2 2243.4L738.9 2238.0A93.6 93.6 0 0 0 748.2 2243.6ZM888.7 2137.2A99.6 99.6 0 0 1 890.7 2148.5L884.2 2149.3A93.0 93.0 0 0 0 882.3 2138.8Z" fill="#414185"/><path d="M827.3 2121.0A53.3 53.3 0 0 1 831.7 2125.4L828.2 2128.5A48.6 48.6 0 0 0 824.2 2124.5ZM742.1 2141.8A53.3 53.3 0 0 1 744.7 2136.2L748.8 2138.3A48.6 48.6 0 0 0 746.5 2143.4ZM844.0 2141.2A55.6 55.6 0 0 1 845.9 2147.3L841.2 2148.5A50.8 50.8 0 0 0 839.4 2142.9ZM840.2 2149.0A49.7 49.7 0 0 1 841.2 2154.7L836.9 2155.2A45.4 45.4 0 0 0 836.0 2150.1ZM732.9 2167.8A59.4 59.4 0 0 1 732.5 2161.0L737.7 2160.9A54.2 54.2 0 0 0 738.1 2167.2ZM761.2 2034.9A129.5 129.5 0 0 1 775.9 2032.2L776.8 2038.8A122.9 122.9 0 0 0 762.8 2041.4ZM854.6 2153.4A63.2 63.2 0 0 1 855.1 2160.6L849.5 2160.6A57.6 57.6 0 0 0 849.1 2154.0ZM837.3 2201.2A60.8 60.8 0 0 1 832.3 2206.2L828.8 2202.2A55.5 55.5 0 0 0 833.3 2197.7ZM761.2 2241.1A85.9 85.9 0 0 1 752.2 2237.0L755.2 2231.1A79.3 79.3 0 0 0 763.6 2234.9ZM832.5 2206.8A61.3 61.3 0 0 1 826.9 2211.2L823.8 2206.8A55.9 55.9 0 0 0 828.9 2202.8ZM838.5 2128.8A56.6 56.6 0 0 1 841.9 2134.4L837.5 2136.7A51.6 51.6 0 0 0 834.4 2131.6ZM766.8 2094.1A71.2 71.2 0 0 1 774.7 2091.7L776.2 2097.8A64.9 64.9 0 0 0 769.0 2100.0ZM778.8 2266.5A106.5 106.5 0 0 1 766.7 2264.3L768.2 2257.9A99.9 99.9 0 0 0 779.6 2259.9Z" fill="#248b8c"/><path d="M749.0 2273.0A120.1 120.1 0 0 1 736.4 2267.3L739.4 2261.4A113.5 113.5 0 0 0 751.4 2266.8ZM708.0 2139.9A86.4 86.4 0 0 1 711.0 2130.4L717.2 2132.7A79.8 79.8 0 0 0 714.4 2141.5ZM873.8 2161.0A81.9 81.9 0 0 1 873.2 2170.5L866.6 2169.7A75.3 75.3 0 0 0 867.2 2161.0ZM714.9 2201.0A86.9 86.9 0 0 1 710.7 2191.8L716.9 2189.5A80.3 80.3 0 0 0 720.7 2197.9ZM828.7 2091.2A78.7 78.7 0 0 1 836.4 2095.9L832.7 2101.4A72.1 72.1 0 0 0 825.6 2097.1ZM757.5 2299.0A142.4 142.4 0 0 1 741.8 2294.1L744.1 2287.9A135.8 135.8 0 0 0 759.1 2292.6ZM811.3 2324.3A164.6 164.6 0 0 1 792.3 2325.4L792.3 2318.8A158.0 158.0 0 0 0 810.5 2317.7ZM849.6 2109.9A76.9 76.9 0 0 1 855.1 2116.9L849.7 2120.7A70.3 70.3 0 0 0 844.7 2114.3ZM827.0 2305.0A148.4 148.4 0 0 1 810.2 2308.1L809.4 2301.5A141.8 141.8 0 0 0 825.5 2298.6ZM821.6 2083.0A83.2 83.2 0 0 1 830.4 2087.0L827.3 2092.8A76.6 76.6 0 0 0 819.3 2089.2ZM854.1 2193.7A70.4 70.4 0 0 1 849.9 2200.6L844.8 2197.1A64.2 64.2 0 0 0 848.6 2190.8ZM863.9 2169.7A72.5 72.5 0 0 1 862.4 2178.0L856.1 2176.5A66.1 66.1 0 0 0 857.5 2168.9ZM781.0 2069.4A92.1 92.1 0 0 1 791.7 2068.7L791.7 2075.3A85.5 85.5 0 0 0 781.8 2075.9ZM709.1 2192.0A88.5 88.5 0 0 1 706.0 2182.2L712.4 2180.6A81.9 81.9 0 0 0 715.3 2189.6ZM856.1 2254.3A113.4 113.4 0 0 1 844.9 2261.1L841.8 2255.2A106.8 106.8 0 0 0 852.3 2248.9ZM722.8 2238.4A103.9 103.9 0 0 1 714.3 2229.9L719.2 2225.5A97.3 97.3 0 0 0 727.2 2233.5Z" fill="#440154"/><path d="M841.6 2187.0A56.2 56.2 0 0 1 838.2 2192.6L834.2 2189.8A51.3 51.3 0 0 0 837.2 2184.7ZM792.3 2116.5A44.3 44.3 0 0 1 796.9 2116.8L796.4 2120.6A40.4 40.4 0 0 0 792.3 2120.4ZM753.2 2234.1A82.9 82.9 0 0 1 745.0 2229.1L748.7 2223.7A76.3 76.3 0 0 0 756.3 2228.2ZM828.3 2108.4A63.8 63.8 0 0 1 834.1 2112.9L830.4 2117.2A58.2 58.2 0 0 0 825.1 2113.0ZM826.9 2227.8A75.6 75.6 0 0 1 818.9 2231.4L816.5 2225.3A69.0 69.0 0 0 0 823.8 2222.0ZM747.7 2177.1A47.1 47.1 0 0 1 746.2 2172.5L750.2 2171.5A43.0 43.0 0 0 0 751.5 2175.7ZM812.1 2243.6A85.2 85.2 0 0 1 802.4 2245.4L801.6 2238.8A78.6 78.6 0 0 0 810.5 2237.2ZM751.1 2181.8A45.9 45.9 0 0 1 749.1 2177.5L752.8 2176.0A41.9 41.9 0 0 0 754.6 2180.0ZM816.2 2114.8A52.0 52.0 0 0 1 821.3 2117.9L818.8 2121.7A47.5 47.5 0 0 0 814.1 2118.8ZM828.8 2193.7A49.4 49.4 0 0 1 824.8 2197.7L821.9 2194.5A45.1 45.1 0 0 0 825.6 2190.8ZM738.9 2124.0A64.5 64.5 0 0 1 743.5 2118.1L747.8 2121.9A58.8 58.8 0 0 0 743.6 2127.2ZM758.7 2147.9A35.6 35.6 0 0 1 760.2 2144.5L762.9 2145.9A32.6 32.6 0 0 0 761.6 2149.0ZM762.3 2164.1A29.8 29.8 0 0 1 762.1 2161.1L764.7 2161.0A27.2 27.2 0 0 0 764.9 2163.8Z" fill="#31b27c"/><path d="M767.5 2060.7A103.0 103.0 0 0 1 779.2 2058.6L780.0 2065.2A96.4 96.4 0 0 0 769.1 2067.2ZM824.6 2190.3A44.0 44.0 0 0 1 821.4 2193.5L818.8 2190.6A40.2 40.2 0 0 0 821.7 2187.7ZM782.1 2239.8A79.6 79.6 0 0 1 773.1 2238.1L774.6 2231.7A73.0 73.0 0 0 0 782.9 2233.2ZM813.1 2248.0A89.7 89.7 0 0 1 802.9 2249.8L802.1 2243.3A83.1 83.1 0 0 0 811.6 2241.6ZM786.9 2116.4A44.7 44.7 0 0 1 791.5 2116.1L791.5 2120.0A40.8 40.8 0 0 0 787.3 2120.2ZM762.2 2176.1A33.4 33.4 0 0 1 760.8 2172.9L763.5 2171.9A30.5 30.5 0 0 0 764.7 2174.7ZM821.2 2168.3A30.2 30.2 0 0 1 820.3 2171.3L817.8 2170.4A27.6 27.6 0 0 0 818.7 2167.6ZM833.5 2189.7A50.6 50.6 0 0 1 829.9 2194.3L826.6 2191.4A46.2 46.2 0 0 0 829.9 2187.1Z" fill="#99d83d"/><path d="M722.4 2152.2A70.0 70.0 0 0 1 723.8 2144.2L729.9 2145.7A63.9 63.9 0 0 0 728.5 2152.9ZM728.3 2160.6A63.6 63.6 0 0 1 728.7 2153.3L734.3 2154.0A58.0 58.0 0 0 0 733.9 2160.6ZM849.2 2175.1A59.1 59.1 0 0 1 847.2 2181.6L842.3 2179.8A53.9 53.9 0 0 0 844.2 2173.8ZM737.4 2132.0A61.6 61.6 0 0 1 741.1 2126.0L745.6 2129.0A56.2 56.2 0 0 0 742.2 2134.6ZM720.0 2133.3A77.0 77.0 0 0 1 723.6 2125.2L729.5 2128.3A70.4 70.4 0 0 0 726.1 2135.7ZM801.9 2079.9A81.5 81.5 0 0 1 811.2 2081.6L809.6 2088.1A74.9 74.9 0 0 0 801.1 2086.5ZM851.4 2202.1A72.5 72.5 0 0 1 846.3 2208.7L841.5 2204.5A66.1 66.1 0 0 0 846.2 2198.5ZM747.7 2210.4A66.4 66.4 0 0 1 742.3 2205.0L746.7 2201.1A60.5 60.5 0 0 0 751.6 2206.0ZM832.7 2102.0A71.6 71.6 0 0 1 839.2 2107.1L835.1 2111.8A65.3 65.3 0 0 0 829.1 2107.2ZM727.5 2253.6A113.0 113.0 0 0 1 717.2 2245.6L721.6 2240.6A106.4 106.4 0 0 0 731.2 2248.2ZM856.8 2218.6A86.9 86.9 0 0 1 849.7 2225.7L845.3 2220.8A80.3 80.3 0 0 0 851.9 2214.2ZM876.8 2171.3A85.6 85.6 0 0 1 875.0 2181.1L868.6 2179.5A79.0 79.0 0 0 0 870.3 2170.5ZM724.8 2186.1A71.7 71.7 0 0 1 722.3 2178.1L728.5 2176.6A65.4 65.4 0 0 0 730.7 2183.8ZM735.2 2121.5A69.0 69.0 0 0 1 740.1 2115.2L744.7 2119.2A62.9 62.9 0 0 0 740.2 2124.9ZM748.0 2096.8A77.6 77.6 0 0 1 755.7 2092.2L758.8 2098.0A71.0 71.0 0 0 0 751.7 2102.3ZM730.5 2145.5A63.3 63.3 0 0 1 732.7 2138.5L737.9 2140.5A57.7 57.7 0 0 0 735.9 2146.8ZM755.9 2013.0A152.1 152.1 0 0 1 773.2 2009.8L774.0 2016.4A145.5 145.5 0 0 0 757.4 2019.4ZM838.0 2120.2A61.4 61.4 0 0 1 842.4 2125.8L837.9 2128.8A56.0 56.0 0 0 0 833.9 2123.7ZM866.2 2269.1A131.3 131.3 0 0 1 853.2 2276.9L850.2 2271.1A124.7 124.7 0 0 0 862.5 2263.6ZM746.2 2201.1A60.9 60.9 0 0 1 741.9 2195.5L746.3 2192.5A55.6 55.6 0 0 0 750.2 2197.5Z" fill="#39558b"/><path d="M770.3 2103.4A61.3 61.3 0 0 1 777.1 2101.3L778.4 2106.6A55.9 55.9 0 0 0 772.2 2108.5ZM762.7 2193.2A43.7 43.7 0 0 1 759.5 2190.0L762.3 2187.5A39.9 39.9 0 0 0 765.2 2190.4ZM762.5 2160.5A29.4 29.4 0 0 1 762.6 2157.5L765.2 2157.8A26.8 26.8 0 0 0 765.1 2160.6ZM762.3 2167.8A30.4 30.4 0 0 1 761.8 2164.7L764.3 2164.4A27.8 27.8 0 0 0 764.9 2167.2ZM762.2 2176.1A33.4 33.4 0 0 1 760.8 2172.9L763.5 2171.9A30.5 30.5 0 0 0 764.7 2174.7ZM827.5 2169.9A36.7 36.7 0 0 1 826.3 2173.5L823.4 2172.4A33.6 33.6 0 0 0 824.4 2169.1ZM830.8 2205.0A58.9 58.9 0 0 1 825.5 2209.2L822.5 2204.9A53.7 53.7 0 0 0 827.4 2201.1ZM832.7 2189.1A49.7 49.7 0 0 1 829.2 2193.7L825.9 2190.8A45.4 45.4 0 0 0 829.2 2186.7ZM770.2 2217.5A60.7 60.7 0 0 1 763.8 2214.6L766.3 2209.9A55.4 55.4 0 0 0 772.1 2212.5ZM781.0 2114.7A47.4 47.4 0 0 1 785.8 2113.8L786.3 2117.9A43.2 43.2 0 0 0 781.9 2118.7ZM830.8 2235.3A84.1 84.1 0 0 1 821.9 2239.3L819.6 2233.2A77.5 77.5 0 0 0 827.7 2229.5ZM824.9 2208.9A58.4 58.4 0 0 1 819.2 2212.4L816.8 2207.9A53.3 53.3 0 0 0 822.0 2204.7ZM818.4 2147.2A29.8 29.8 0 0 1 819.7 2150.0L817.2 2150.9A27.2 27.2 0 0 0 816.1 2148.4ZM792.3 2119.1A41.7 41.7 0 0 1 796.6 2119.3L796.2 2122.9A38.1 38.1 0 0 0 792.2 2122.7Z" fill="#fde725"/><path d="M818.6 2110.3A57.1 57.1 0 0 1 824.2 2113.7L821.4 2117.8A52.1 52.1 0 0 0 816.2 2114.7ZM770.4 2103.7A61.0 61.0 0 0 1 777.2 2101.6L778.5 2106.8A55.6 55.6 0 0 0 772.3 2108.8ZM737.9 2140.2A57.8 57.8 0 0 1 740.7 2134.1L745.2 2136.4A52.7 52.7 0 0 0 742.7 2142.0ZM830.8 2165.9A39.3 39.3 0 0 1 830.1 2169.9L826.8 2169.1A35.9 35.9 0 0 0 827.5 2165.4ZM857.0 2206.0A79.3 79.3 0 0 1 851.4 2213.2L846.4 2208.8A72.7 72.7 0 0 0 851.6 2202.2ZM819.6 2274.6A117.1 117.1 0 0 1 806.3 2277.0L805.5 2270.5A110.5 110.5 0 0 0 818.1 2268.2ZM745.4 2185.1A52.5 52.5 0 0 1 742.9 2179.5L747.2 2177.9A47.9 47.9 0 0 0 749.4 2182.9ZM730.1 2145.4A63.7 63.7 0 0 1 732.3 2138.4L737.5 2140.3A58.1 58.1 0 0 0 735.5 2146.8ZM727.2 2126.6A73.1 73.1 0 0 1 731.6 2119.4L736.9 2123.1A66.7 66.7 0 0 0 733.0 2129.7ZM853.0 2176.0A62.9 62.9 0 0 1 850.8 2183.0L845.6 2181.0A57.4 57.4 0 0 0 847.6 2174.7ZM764.8 2108.8A58.6 58.6 0 0 1 771.0 2106.0L772.8 2110.8A53.5 53.5 0 0 0 767.2 2113.4ZM743.3 2203.6A64.8 64.8 0 0 1 738.7 2197.7L743.4 2194.5A59.0 59.0 0 0 0 747.6 2199.8ZM745.7 2192.5A56.0 56.0 0 0 1 742.3 2187.0L746.7 2184.7A51.1 51.1 0 0 0 749.7 2189.7ZM851.2 2213.6A79.4 79.4 0 0 1 844.7 2220.1L840.3 2215.2A72.8 72.8 0 0 0 846.3 2209.2ZM792.1 2101.1A59.7 59.7 0 0 1 798.9 2101.5L798.3 2106.7A54.4 54.4 0 0 0 792.0 2106.4ZM860.7 2134.9A73.5 73.5 0 0 1 863.2 2143.0L856.9 2144.6A67.0 67.0 0 0 0 854.6 2137.2ZM811.6 2109.3A55.1 55.1 0 0 1 817.4 2111.9L815.2 2116.2A50.3 50.3 0 0 0 809.9 2113.8ZM837.4 2150.0A46.8 46.8 0 0 1 838.3 2154.8L834.2 2155.3A42.7 42.7 0 0 0 833.4 2150.9ZM766.7 2123.6A44.9 44.9 0 0 1 770.7 2121.2L772.5 2124.6A41.0 41.0 0 0 0 768.9 2126.8ZM755.2 2160.5A36.7 36.7 0 0 1 755.5 2156.7L758.6 2157.1A33.5 33.5 0 0 0 758.4 2160.5Z" fill="#209f88"/><path d="M859.6 2114.3A82.1 82.1 0 0 1 864.5 2122.5L858.7 2125.5A75.5 75.5 0 0 0 854.1 2118.1ZM717.8 2142.3A76.4 76.4 0 0 1 720.4 2133.9L726.6 2136.2A69.8 69.8 0 0 0 724.2 2143.9ZM760.2 2076.7A89.9 89.9 0 0 1 770.2 2073.6L771.8 2080.0A83.3 83.3 0 0 0 762.6 2082.9ZM717.7 2169.6A74.7 74.7 0 0 1 717.2 2161.0L723.8 2161.0A68.1 68.1 0 0 0 724.3 2168.8ZM727.4 2152.8A65.0 65.0 0 0 1 728.7 2145.4L734.3 2146.8A59.3 59.3 0 0 0 733.1 2153.5ZM802.9 2071.9A89.6 89.6 0 0 1 813.1 2073.8L811.5 2080.2A83.0 83.0 0 0 0 802.1 2078.5ZM728.0 2116.4A77.8 77.8 0 0 1 733.5 2109.3L738.5 2113.7A71.2 71.2 0 0 0 733.4 2120.2ZM742.8 2289.3A137.6 137.6 0 0 1 728.3 2282.8L731.3 2277.0A131.0 131.0 0 0 0 745.1 2283.2ZM739.9 2259.3A111.4 111.4 0 0 1 728.9 2252.6L732.6 2247.2A104.8 104.8 0 0 0 743.0 2253.5ZM871.6 2216.1A97.0 97.0 0 0 1 864.7 2224.9L859.7 2220.6A90.4 90.4 0 0 0 866.2 2212.3ZM791.6 2277.0A116.2 116.2 0 0 1 778.2 2276.2L779.0 2269.6A109.6 109.6 0 0 0 791.6 2270.4ZM774.6 2300.2A140.5 140.5 0 0 1 758.6 2297.3L760.2 2290.9A133.9 133.9 0 0 0 775.4 2293.7ZM864.2 2133.6A77.3 77.3 0 0 1 866.9 2142.1L860.5 2143.7A70.7 70.7 0 0 0 858.0 2135.9ZM835.3 2112.1A65.2 65.2 0 0 1 840.6 2117.4L836.3 2121.3A59.4 59.4 0 0 0 831.4 2116.4ZM730.0 2128.1A70.0 70.0 0 0 1 734.2 2121.2L739.3 2124.7A63.8 63.8 0 0 0 735.5 2131.0ZM858.9 2220.5A89.8 89.8 0 0 1 851.6 2227.8L847.2 2222.9A83.2 83.2 0 0 0 854.0 2216.1ZM850.2 2130.4A65.8 65.8 0 0 1 853.4 2137.3L847.9 2139.4A60.0 60.0 0 0 0 845.1 2133.1ZM809.2 2091.5A71.4 71.4 0 0 1 817.0 2094.0L814.8 2099.9A65.1 65.1 0 0 0 807.6 2097.7Z" fill="#462d7b"/><path d="M709.7 2170.6A82.8 82.8 0 0 1 709.1 2161.0L715.7 2161.0A76.2 76.2 0 0 0 716.3 2169.8ZM885.8 2137.9A96.6 96.6 0 0 1 887.8 2148.9L881.2 2149.7A90.0 90.0 0 0 0 879.3 2139.5ZM856.5 2284.7A139.7 139.7 0 0 1 841.8 2291.3L839.4 2285.1A133.1 133.1 0 0 0 853.4 2278.8ZM804.2 2061.4A100.2 100.2 0 0 1 815.6 2063.5L814.1 2069.9A93.6 93.6 0 0 0 803.4 2067.9ZM715.4 2120.4A86.5 86.5 0 0 1 720.6 2111.9L726.0 2115.6A79.9 79.9 0 0 0 721.3 2123.5ZM718.2 2132.6A78.9 78.9 0 0 1 721.9 2124.3L727.8 2127.4A72.3 72.3 0 0 0 724.4 2135.0ZM687.2 2041.9A158.4 158.4 0 0 1 701.6 2030.7L705.3 2036.1A151.8 151.8 0 0 0 691.5 2046.9ZM724.7 2100.9A90.0 90.0 0 0 1 732.0 2093.6L736.4 2098.5A83.4 83.4 0 0 0 729.6 2105.3ZM713.6 2151.1A78.9 78.9 0 0 1 715.3 2142.1L721.7 2143.7A72.3 72.3 0 0 0 720.2 2151.9ZM709.0 2160.6A82.9 82.9 0 0 1 709.5 2151.0L716.1 2151.8A76.3 76.3 0 0 0 715.6 2160.6ZM876.7 2219.7A103.3 103.3 0 0 1 869.4 2229.1L864.4 2224.7A96.7 96.7 0 0 0 871.3 2215.9ZM707.0 2181.5A87.4 87.4 0 0 1 705.2 2171.6L711.8 2170.7A80.8 80.8 0 0 0 713.4 2179.9ZM742.9 2089.4A86.6 86.6 0 0 1 751.5 2084.3L754.6 2090.1A80.0 80.0 0 0 0 746.6 2094.9ZM853.1 2230.2A92.5 92.5 0 0 1 844.7 2236.8L840.9 2231.4A85.9 85.9 0 0 0 848.7 2225.3ZM838.5 2108.5A70.0 70.0 0 0 1 844.2 2114.2L839.6 2118.4A63.8 63.8 0 0 0 834.3 2113.1ZM715.2 2213.5A93.1 93.1 0 0 1 709.6 2204.3L715.4 2201.2A86.5 86.5 0 0 0 720.6 2209.7ZM792.1 2071.5A89.3 89.3 0 0 1 802.4 2072.1L801.7 2078.7A82.7 82.7 0 0 0 792.1 2078.1ZM877.8 2150.6A86.5 86.5 0 0 1 878.4 2160.6L871.8 2160.6A79.9 79.9 0 0 0 871.3 2151.4ZM872.0 2130.7A85.6 85.6 0 0 1 874.9 2140.1L868.5 2141.7A79.0 79.0 0 0 0 865.8 2133.0Z" fill="#440154"/><path d="M771.2 2243.7A85.4 85.4 0 0 1 761.8 2240.8L764.1 2234.6A78.8 78.8 0 0 0 772.8 2237.3ZM849.9 2168.0A58.5 58.5 0 0 1 848.7 2174.6L843.7 2173.4A53.3 53.3 0 0 0 844.8 2167.4ZM763.0 2236.4A80.9 80.9 0 0 1 754.5 2232.5L757.5 2226.7A74.3 74.3 0 0 0 765.4 2230.2ZM826.3 2122.2A51.7 51.7 0 0 1 830.5 2126.4L827.1 2129.4A47.2 47.2 0 0 0 823.3 2125.6ZM787.1 2117.8A43.3 43.3 0 0 1 791.5 2117.5L791.6 2121.3A39.5 39.5 0 0 0 787.5 2121.5ZM838.8 2214.0A70.9 70.9 0 0 1 832.3 2219.0L828.7 2213.9A64.6 64.6 0 0 0 834.6 2209.3ZM822.0 2172.5A32.3 32.3 0 0 1 820.6 2175.5L818.1 2174.3A29.5 29.5 0 0 0 819.4 2171.5ZM758.5 2112.2A59.0 59.0 0 0 1 764.3 2108.6L766.8 2113.2A53.8 53.8 0 0 0 761.4 2116.4ZM735.8 2241.6A98.3 98.3 0 0 1 726.9 2234.6L731.3 2229.6A91.7 91.7 0 0 0 739.6 2236.1ZM828.8 2135.8A44.5 44.5 0 0 1 831.1 2139.8L827.7 2141.6A40.6 40.6 0 0 0 825.6 2138.0ZM754.1 2169.8A38.8 38.8 0 0 1 753.4 2165.8L756.7 2165.4A35.5 35.5 0 0 0 757.4 2169.0ZM832.6 2124.9A54.3 54.3 0 0 1 836.5 2129.8L832.6 2132.6A49.5 49.5 0 0 0 829.1 2128.0ZM782.3 2237.9A77.6 77.6 0 0 1 773.5 2236.2L775.1 2229.8A71.0 71.0 0 0 0 783.2 2231.3ZM754.4 2202.9A56.4 56.4 0 0 1 749.8 2198.3L753.5 2195.0A51.4 51.4 0 0 0 757.7 2199.2ZM739.5 2147.7A54.0 54.0 0 0 1 741.3 2141.8L745.7 2143.4A49.3 49.3 0 0 0 744.0 2148.9ZM752.6 2187.4A47.4 47.4 0 0 1 750.1 2183.2L753.7 2181.3A43.3 43.3 0 0 0 756.1 2185.1ZM771.2 2105.8A58.8 58.8 0 0 1 777.7 2103.8L778.9 2108.8A53.6 53.6 0 0 0 773.0 2110.6Z" fill="#31b27c"/><path d="M804.8 2269.4A109.3 109.3 0 0 1 792.2 2270.1L792.2 2263.5A102.7 102.7 0 0 0 804.0 2262.8ZM842.4 2234.4A89.3 89.3 0 0 1 833.6 2239.8L830.5 2233.9A82.7 82.7 0 0 0 838.7 2229.0ZM844.4 2124.7A63.7 63.7 0 0 1 848.2 2131.0L843.3 2133.7A58.1 58.1 0 0 0 839.8 2127.9ZM842.3 2167.1A50.8 50.8 0 0 1 841.3 2172.8L837.0 2171.8A46.4 46.4 0 0 0 837.9 2166.5ZM722.3 2134.2A74.5 74.5 0 0 1 725.8 2126.3L731.7 2129.4A67.9 67.9 0 0 0 728.5 2136.5ZM849.4 2154.0A58.0 58.0 0 0 1 849.9 2160.6L844.8 2160.7A52.9 52.9 0 0 0 844.4 2154.6ZM780.1 2256.2A96.1 96.1 0 0 1 769.1 2254.2L770.7 2247.8A89.5 89.5 0 0 0 780.9 2249.6ZM727.9 2176.4A65.8 65.8 0 0 1 726.6 2168.9L732.3 2168.2A60.0 60.0 0 0 0 733.6 2175.0ZM747.7 2224.4A77.4 77.4 0 0 1 740.7 2218.9L745.1 2213.9A70.8 70.8 0 0 0 751.5 2219.0ZM861.6 2222.9A93.4 93.4 0 0 1 854.0 2230.5L849.6 2225.6A86.8 86.8 0 0 0 856.7 2218.5ZM837.5 2178.5A48.9 48.9 0 0 1 835.4 2183.1L831.6 2181.2A44.6 44.6 0 0 0 833.5 2177.0ZM820.1 2107.5A60.3 60.3 0 0 1 826.0 2111.1L823.0 2115.4A55.0 55.0 0 0 0 817.6 2112.2ZM728.7 2153.0A63.7 63.7 0 0 1 730.0 2145.7L735.5 2147.0A58.1 58.1 0 0 0 734.2 2153.6ZM749.0 2208.9A64.5 64.5 0 0 1 743.8 2203.7L748.0 2199.9A58.8 58.8 0 0 0 752.8 2204.7ZM840.3 2142.6A51.8 51.8 0 0 1 842.1 2148.3L837.7 2149.4A47.2 47.2 0 0 0 836.1 2144.2Z" fill="#2a798e"/><path d="M830.3 2141.1A43.1 43.1 0 0 1 832.1 2145.2L828.6 2146.5A39.4 39.4 0 0 0 826.9 2142.8ZM844.7 2160.9A52.8 52.8 0 0 1 844.3 2167.0L839.7 2166.5A48.2 48.2 0 0 0 840.1 2160.9ZM822.8 2242.8A87.6 87.6 0 0 1 813.1 2245.8L811.5 2239.4A81.0 81.0 0 0 0 820.4 2236.6ZM784.8 2101.1A60.1 60.1 0 0 1 791.7 2100.7L791.8 2106.0A54.8 54.8 0 0 0 785.4 2106.3ZM763.4 2235.3A79.8 79.8 0 0 1 755.0 2231.5L758.1 2225.7A73.2 73.2 0 0 0 765.8 2229.2ZM859.0 2152.8A67.6 67.6 0 0 1 859.5 2160.6L853.5 2160.6A61.6 61.6 0 0 0 853.1 2153.5ZM805.2 2272.4A112.4 112.4 0 0 1 792.2 2273.2L792.2 2266.6A105.8 105.8 0 0 0 804.4 2265.9ZM830.9 2181.7A44.2 44.2 0 0 1 828.5 2185.6L825.3 2183.5A40.4 40.4 0 0 0 827.5 2179.9ZM769.8 2249.4A91.3 91.3 0 0 1 759.8 2246.2L762.1 2240.1A84.7 84.7 0 0 0 771.4 2243.0ZM828.6 2107.9A64.4 64.4 0 0 1 834.5 2112.5L830.7 2116.7A58.7 58.7 0 0 0 825.4 2112.5ZM750.2 2176.2A44.4 44.4 0 0 1 748.9 2171.8L752.6 2170.9A40.6 40.6 0 0 0 753.9 2174.9ZM754.2 2232.2A80.8 80.8 0 0 1 746.2 2227.4L749.9 2222.0A74.2 74.2 0 0 0 757.3 2226.4Z" fill="#209f88"/><path d="M751.4 2124.7A54.2 54.2 0 0 1 755.8 2120.3L759.0 2123.8A49.5 49.5 0 0 0 754.9 2127.9ZM827.0 2161.1A35.1 35.1 0 0 1 826.8 2164.7L823.8 2164.4A32.1 32.1 0 0 0 824.0 2161.1ZM746.1 2154.8A46.1 46.1 0 0 1 747.0 2150.1L750.9 2151.1A42.1 42.1 0 0 0 750.1 2155.4ZM825.8 2225.8A73.3 73.3 0 0 1 818.1 2229.3L815.8 2223.2A66.8 66.8 0 0 0 822.8 2220.1ZM800.9 2236.7A76.5 76.5 0 0 1 792.1 2237.3L792.1 2230.7A69.9 69.9 0 0 0 800.1 2230.2ZM821.9 2140.5A36.2 36.2 0 0 1 823.8 2143.7L821.0 2145.2A33.1 33.1 0 0 0 819.3 2142.3ZM773.2 2235.9A77.4 77.4 0 0 1 764.6 2233.3L767.0 2227.1A70.8 70.8 0 0 0 774.8 2229.5ZM815.2 2117.4A49.2 49.2 0 0 1 819.5 2120.0L817.1 2123.6A44.9 44.9 0 0 0 813.1 2121.2ZM770.4 2119.0A47.0 47.0 0 0 1 774.9 2117.0L776.3 2120.8A42.9 42.9 0 0 0 772.3 2122.6ZM817.6 2132.3A38.3 38.3 0 0 1 820.4 2135.1L817.9 2137.3A35.0 35.0 0 0 0 815.4 2134.8ZM759.2 2160.5A32.7 32.7 0 0 1 759.4 2157.1L762.2 2157.5A29.9 29.9 0 0 0 762.0 2160.5Z" fill="#99d83d"/><path d="M804.5 2266.8A106.7 106.7 0 0 1 792.2 2267.5L792.2 2260.9A100.1 100.1 0 0 0 803.7 2260.2ZM800.5 2091.2A70.2 70.2 0 0 1 808.5 2092.6L807.0 2098.7A64.0 64.0 0 0 0 799.8 2097.3ZM758.4 2160.5A33.5 33.5 0 0 1 758.6 2157.0L761.4 2157.4A30.7 30.7 0 0 0 761.2 2160.5ZM837.0 2247.3A97.5 97.5 0 0 1 826.7 2251.9L824.4 2245.7A90.9 90.9 0 0 0 833.9 2241.4ZM828.5 2258.1A103.9 103.9 0 0 1 817.0 2261.6L815.4 2255.2A97.3 97.3 0 0 0 826.2 2251.9ZM769.9 2248.9A90.8 90.8 0 0 1 759.9 2245.8L762.3 2239.6A84.2 84.2 0 0 0 771.5 2242.5ZM740.9 2154.5A51.4 51.4 0 0 1 741.9 2148.6L746.3 2149.7A46.9 46.9 0 0 0 745.3 2155.0ZM783.4 2089.4A71.9 71.9 0 0 1 791.7 2088.9L791.7 2095.3A65.5 65.5 0 0 0 784.2 2095.7ZM863.0 2123.7A80.2 80.2 0 0 1 866.8 2132.2L860.7 2134.5A73.6 73.6 0 0 0 857.2 2126.8ZM825.7 2096.8A72.4 72.4 0 0 1 832.9 2101.1L829.2 2106.4A66.0 66.0 0 0 0 822.7 2102.5ZM730.8 2128.5A69.1 69.1 0 0 1 734.9 2121.7L740.0 2125.2A63.0 63.0 0 0 0 736.2 2131.4ZM731.5 2175.5A62.2 62.2 0 0 1 730.2 2168.5L735.6 2167.8A56.7 56.7 0 0 0 736.8 2174.2ZM761.4 2116.4A53.8 53.8 0 0 1 766.8 2113.2L769.0 2117.4A49.1 49.1 0 0 0 764.1 2120.3ZM736.6 2147.0A57.0 57.0 0 0 1 738.5 2140.7L743.2 2142.5A52.0 52.0 0 0 0 741.4 2148.2ZM825.3 2112.7A58.6 58.6 0 0 1 830.6 2116.8L827.2 2120.7A53.4 53.4 0 0 0 822.4 2116.9ZM739.0 2220.2A79.6 79.6 0 0 1 732.5 2213.7L737.4 2209.4A73.0 73.0 0 0 0 743.3 2215.3ZM761.2 2101.9A66.4 66.4 0 0 1 768.2 2098.8L770.3 2104.2A60.6 60.6 0 0 0 763.9 2107.1ZM838.2 2161.2A46.3 46.3 0 0 1 837.9 2166.0L833.9 2165.5A42.3 42.3 0 0 0 834.2 2161.2ZM791.6 2269.4A108.6 108.6 0 0 1 779.1 2268.6L779.9 2262.1A102.0 102.0 0 0 0 791.6 2262.8ZM847.5 2182.0A59.5 59.5 0 0 1 844.6 2188.3L840.0 2185.9A54.3 54.3 0 0 0 842.6 2180.2ZM851.3 2192.2A67.2 67.2 0 0 1 847.3 2198.8L842.4 2195.5A61.2 61.2 0 0 0 846.0 2189.4Z" fill="#248b8c"/><path d="M867.1 2189.5A80.5 80.5 0 0 1 863.3 2198.0L857.4 2195.0A73.9 73.9 0 0 0 860.9 2187.2ZM713.6 2141.3A80.7 80.7 0 0 1 716.4 2132.4L722.5 2134.7A74.1 74.1 0 0 0 720.0 2142.9ZM812.0 2080.0A83.3 83.3 0 0 1 821.2 2082.9L818.9 2089.0A76.7 76.7 0 0 0 810.4 2086.4ZM719.8 2133.2A77.2 77.2 0 0 1 723.5 2125.1L729.3 2128.2A70.6 70.6 0 0 0 726.0 2135.6ZM876.1 2205.3A95.2 95.2 0 0 1 870.4 2214.7L864.9 2210.9A88.6 88.6 0 0 0 870.2 2202.2ZM873.8 2161.0A81.9 81.9 0 0 1 873.2 2170.5L866.6 2169.7A75.3 75.3 0 0 0 867.2 2161.0ZM733.3 2271.7A125.5 125.5 0 0 1 720.9 2264.2L724.6 2258.8A118.9 118.9 0 0 0 736.4 2265.9ZM731.4 2106.9A81.1 81.1 0 0 1 738.0 2100.3L742.4 2105.2A74.5 74.5 0 0 0 736.3 2111.3ZM865.6 2122.4A83.1 83.1 0 0 1 869.5 2131.1L863.4 2133.5A76.5 76.5 0 0 0 859.8 2125.4ZM866.3 2245.3A112.6 112.6 0 0 1 856.1 2253.3L852.3 2247.9A106.0 106.0 0 0 0 862.0 2240.3ZM723.2 2208.0A83.4 83.4 0 0 1 718.2 2199.7L724.0 2196.6A76.8 76.8 0 0 0 728.6 2204.2ZM824.3 2293.6A136.7 136.7 0 0 1 808.7 2296.5L807.9 2289.9A130.1 130.1 0 0 0 822.7 2287.2ZM870.0 2230.4A104.6 104.6 0 0 1 861.5 2238.9L857.1 2234.0A98.0 98.0 0 0 0 865.1 2226.0ZM730.6 2214.8A81.7 81.7 0 0 1 724.8 2207.4L730.2 2203.6A75.1 75.1 0 0 0 735.6 2210.4ZM772.1 2320.0A160.4 160.4 0 0 1 753.9 2316.7L755.5 2310.3A153.8 153.8 0 0 0 773.0 2313.5ZM809.4 2308.5A148.7 148.7 0 0 1 792.3 2309.5L792.3 2302.9A142.1 142.1 0 0 0 808.7 2301.9Z" fill="#461768"/><path d="M762.7 2157.0A29.4 29.4 0 0 1 763.3 2154.0L765.8 2154.6A26.8 26.8 0 0 0 765.3 2157.3ZM767.5 2207.0A52.3 52.3 0 0 1 762.3 2203.9L764.9 2200.1A47.7 47.7 0 0 0 769.6 2203.0ZM758.2 2152.2A34.8 34.8 0 0 1 759.3 2148.7L762.1 2149.8A31.8 31.8 0 0 0 761.1 2152.9ZM818.8 2161.0A26.9 26.9 0 0 1 818.6 2163.8L816.0 2163.5A24.3 24.3 0 0 0 816.2 2161.0ZM818.6 2142.7A32.2 32.2 0 0 1 820.3 2145.6L817.9 2146.9A29.5 29.5 0 0 0 816.3 2144.3ZM813.5 2120.5A45.7 45.7 0 0 1 817.5 2122.9L815.3 2126.2A41.7 41.7 0 0 0 811.6 2124.0ZM774.9 2228.9A70.2 70.2 0 0 1 767.2 2226.5L769.4 2220.7A64.0 64.0 0 0 0 776.4 2222.9ZM791.7 2239.1A78.3 78.3 0 0 1 782.7 2238.6L783.4 2232.0A71.7 71.7 0 0 0 791.7 2232.5ZM811.5 2109.6A54.8 54.8 0 0 1 817.3 2112.2L815.0 2116.4A50.0 50.0 0 0 0 809.8 2114.1ZM764.7 2136.3A36.6 36.6 0 0 1 767.4 2133.6L769.5 2135.9A33.5 33.5 0 0 0 767.0 2138.4ZM763.4 2145.5A32.4 32.4 0 0 1 765.1 2142.6L767.4 2144.2A29.6 29.6 0 0 0 765.8 2146.8ZM811.4 2240.7A82.2 82.2 0 0 1 802.0 2242.4L801.2 2235.9A75.6 75.6 0 0 0 809.8 2234.3Z" fill="#fde725"/><path d="M870.4 2141.7A80.8 80.8 0 0 1 872.1 2150.9L865.5 2151.7A74.2 74.2 0 0 0 864.0 2143.2ZM857.9 2195.6A74.6 74.6 0 0 1 853.4 2203.0L848.0 2199.3A68.0 68.0 0 0 0 852.0 2192.6ZM708.2 2181.2A86.2 86.2 0 0 1 706.4 2171.4L712.9 2170.6A79.6 79.6 0 0 0 714.6 2179.6ZM844.4 2261.5A113.6 113.6 0 0 1 832.5 2266.9L830.1 2260.8A107.0 107.0 0 0 0 841.4 2255.7ZM692.6 2048.1A150.2 150.2 0 0 1 706.3 2037.4L710.0 2042.9A143.6 143.6 0 0 0 697.0 2053.1ZM734.2 2109.4A77.3 77.3 0 0 1 740.5 2103.1L744.9 2108.0A70.7 70.7 0 0 0 739.1 2113.8ZM839.4 2092.4A83.3 83.3 0 0 1 847.0 2098.3L842.6 2103.2A76.7 76.7 0 0 0 835.6 2097.8ZM729.9 2230.4A93.2 93.2 0 0 1 722.3 2222.8L727.3 2218.4A86.6 86.6 0 0 0 734.3 2225.4ZM865.8 2152.0A74.4 74.4 0 0 1 866.3 2160.6L859.7 2160.6A67.8 67.8 0 0 0 859.3 2152.8ZM725.2 2195.6A75.2 75.2 0 0 1 721.6 2187.7L727.8 2185.3A68.6 68.6 0 0 0 731.1 2192.5ZM735.0 2210.9A75.8 75.8 0 0 1 729.6 2204.0L735.0 2200.3A69.2 69.2 0 0 0 740.0 2206.6ZM831.8 2085.3A85.4 85.4 0 0 1 840.2 2090.4L836.5 2095.8A78.8 78.8 0 0 0 828.7 2091.1ZM736.1 2199.1A67.7 67.7 0 0 1 732.1 2192.4L737.3 2189.6A61.7 61.7 0 0 0 741.0 2195.7ZM763.6 2044.5A119.7 119.7 0 0 1 777.2 2042.0L778.0 2048.6A113.1 113.1 0 0 0 765.1 2050.9ZM859.0 2237.0A101.5 101.5 0 0 1 849.8 2244.2L846.0 2238.8A94.9 94.9 0 0 0 854.7 2232.0ZM847.7 2111.6A74.4 74.4 0 0 1 853.0 2118.4L847.6 2122.1A67.8 67.8 0 0 0 842.8 2115.9ZM752.5 2085.3A85.1 85.1 0 0 1 761.5 2081.3L763.9 2087.5A78.5 78.5 0 0 0 755.6 2091.2ZM863.6 2265.2A126.6 126.6 0 0 1 851.0 2272.8L848.0 2266.9A120.0 120.0 0 0 0 859.8 2259.8Z" fill="#462d7b"/><path d="M841.4 2179.7A53.0 53.0 0 0 1 838.9 2185.3L834.7 2183.1A48.3 48.3 0 0 0 837.0 2178.1ZM862.2 2143.7A72.3 72.3 0 0 1 863.7 2151.9L857.3 2152.7A65.9 65.9 0 0 0 856.0 2145.2ZM792.1 2082.6A78.2 78.2 0 0 1 801.1 2083.2L800.3 2089.7A71.6 71.6 0 0 0 792.1 2089.2ZM819.9 2087.6A78.3 78.3 0 0 1 828.1 2091.3L825.1 2097.2A71.7 71.7 0 0 0 817.5 2093.8ZM740.3 2114.8A69.1 69.1 0 0 1 745.9 2109.2L750.0 2113.7A63.0 63.0 0 0 0 744.8 2118.9ZM839.4 2128.2A57.6 57.6 0 0 1 842.9 2133.9L838.4 2136.2A52.6 52.6 0 0 0 835.2 2131.1ZM725.7 2206.2A80.3 80.3 0 0 1 720.9 2198.3L726.7 2195.2A73.7 73.7 0 0 0 731.1 2202.5ZM823.0 2101.8A66.7 66.7 0 0 1 829.6 2105.8L826.3 2110.7A60.8 60.8 0 0 0 820.3 2107.0ZM805.7 2276.7A116.7 116.7 0 0 1 792.2 2277.5L792.2 2270.9A110.1 110.1 0 0 0 804.9 2270.1ZM781.0 2069.2A92.2 92.2 0 0 1 791.7 2068.6L791.7 2075.2A85.6 85.6 0 0 0 781.8 2075.8ZM806.4 2102.8A59.8 59.8 0 0 1 813.0 2104.8L811.1 2109.7A54.6 54.6 0 0 0 805.1 2107.9ZM766.2 2055.5A108.4 108.4 0 0 1 778.6 2053.2L779.4 2059.8A101.8 101.8 0 0 0 767.8 2061.9ZM845.7 2132.7A60.7 60.7 0 0 1 848.6 2139.1L843.6 2141.0A55.3 55.3 0 0 0 841.0 2135.2Z" fill="#39558b"/><path d="M755.3 2010.8A154.4 154.4 0 0 1 772.9 2007.6L773.7 2014.1A147.8 147.8 0 0 0 756.9 2017.2ZM843.9 2260.6A112.5 112.5 0 0 1 832.1 2265.9L829.7 2259.8A105.9 105.9 0 0 0 840.9 2254.7ZM743.3 2154.5A49.0 49.0 0 0 1 744.2 2149.5L748.3 2150.5A44.8 44.8 0 0 0 747.5 2155.0ZM855.1 2161.0A63.2 63.2 0 0 1 854.7 2168.3L849.2 2167.6A57.7 57.7 0 0 0 849.6 2161.0ZM816.5 2096.4A69.0 69.0 0 0 1 823.8 2099.6L821.0 2105.0A62.9 62.9 0 0 0 814.4 2102.0ZM745.8 2281.4A129.1 129.1 0 0 1 732.2 2275.2L735.3 2269.4A122.5 122.5 0 0 0 748.2 2275.2ZM851.2 2183.4A63.4 63.4 0 0 1 848.1 2190.1L843.2 2187.5A57.8 57.8 0 0 0 845.9 2181.5ZM792.1 2076.2A84.6 84.6 0 0 1 801.9 2076.8L801.1 2083.4A78.0 78.0 0 0 0 792.1 2082.8ZM759.1 2026.4A138.4 138.4 0 0 1 774.9 2023.5L775.7 2030.0A131.8 131.8 0 0 0 760.7 2032.8ZM767.5 2095.9A69.4 69.4 0 0 1 775.1 2093.5L776.6 2099.4A63.2 63.2 0 0 0 769.6 2101.6ZM838.2 2120.0A61.7 61.7 0 0 1 842.6 2125.6L838.1 2128.7A56.3 56.3 0 0 0 834.1 2123.6ZM855.0 2117.5A76.6 76.6 0 0 1 859.6 2125.0L853.8 2128.1A70.0 70.0 0 0 0 849.6 2121.2ZM763.6 2274.3A117.0 117.0 0 0 1 750.7 2270.3L753.0 2264.1A110.4 110.4 0 0 0 765.2 2267.9ZM853.8 2153.4A62.3 62.3 0 0 1 854.2 2160.6L848.8 2160.7A56.9 56.9 0 0 0 848.4 2154.1ZM874.7 2181.4A85.4 85.4 0 0 1 871.8 2190.9L865.6 2188.5A78.8 78.8 0 0 0 868.3 2179.8ZM831.3 2104.1A69.0 69.0 0 0 1 837.5 2109.0L833.5 2113.6A62.9 62.9 0 0 0 827.8 2109.1ZM709.0 2160.6A82.9 82.9 0 0 1 709.5 2151.0L716.1 2151.8A76.3 76.3 0 0 0 715.6 2160.6ZM804.3 2265.1A105.0 105.0 0 0 1 792.2 2265.8L792.2 2259.2A98.4 98.4 0 0 0 803.5 2258.5ZM723.4 2124.6A77.5 77.5 0 0 1 728.0 2117.0L733.5 2120.7A70.9 70.9 0 0 0 729.2 2127.7ZM722.8 2208.2A83.8 83.8 0 0 1 717.8 2199.9L723.6 2196.9A77.2 77.2 0 0 0 728.2 2204.5ZM757.7 2095.2A73.9 73.9 0 0 1 765.5 2091.7L767.8 2097.8A67.4 67.4 0 0 0 760.7 2101.0ZM736.0 2111.0A74.8 74.8 0 0 1 742.1 2104.9L746.5 2109.8A68.2 68.2 0 0 0 740.9 2115.4ZM847.6 2139.8A59.5 59.5 0 0 1 849.6 2146.4L844.6 2147.7A54.3 54.3 0 0 0 842.7 2141.7Z" fill="#414185"/><path d="M835.0 2171.8A44.5 44.5 0 0 1 833.6 2176.2L830.0 2174.9A40.6 40.6 0 0 0 831.3 2170.9ZM792.3 2117.6A43.2 43.2 0 0 1 796.7 2117.9L796.3 2121.6A39.4 39.4 0 0 0 792.2 2121.4ZM838.9 2149.6A48.3 48.3 0 0 1 839.8 2154.6L835.6 2155.1A44.1 44.1 0 0 0 834.8 2150.6ZM802.1 2120.9A41.2 41.2 0 0 1 806.2 2122.2L804.9 2125.5A37.6 37.6 0 0 0 801.2 2124.3ZM755.7 2119.8A54.7 54.7 0 0 1 760.7 2115.9L763.5 2119.8A49.9 49.9 0 0 0 758.9 2123.4ZM776.2 2096.5A66.2 66.2 0 0 1 783.8 2095.1L784.5 2100.9A60.3 60.3 0 0 0 777.6 2102.2ZM781.6 2243.7A83.5 83.5 0 0 1 772.1 2241.9L773.7 2235.5A76.9 76.9 0 0 0 782.4 2237.1ZM823.3 2126.0A46.9 46.9 0 0 1 826.7 2129.4L823.7 2132.1A42.8 42.8 0 0 0 820.6 2129.0ZM830.7 2165.9A39.2 39.2 0 0 1 830.0 2169.8L826.7 2169.1A35.8 35.8 0 0 0 827.4 2165.4ZM742.4 2160.7A49.5 49.5 0 0 1 742.7 2155.0L747.0 2155.5A45.2 45.2 0 0 0 746.7 2160.7ZM746.6 2200.7A60.4 60.4 0 0 1 742.3 2195.2L746.7 2192.2A55.1 55.1 0 0 0 750.6 2197.2ZM798.2 2109.8A51.4 51.4 0 0 1 804.1 2110.8L803.0 2115.2A46.9 46.9 0 0 0 797.7 2114.2ZM791.7 2250.8A90.0 90.0 0 0 1 781.3 2250.1L782.1 2243.6A83.4 83.4 0 0 0 791.7 2244.2ZM833.5 2208.0A62.9 62.9 0 0 1 827.7 2212.4L824.6 2207.9A57.3 57.3 0 0 0 829.8 2203.8ZM830.3 2126.9A51.2 51.2 0 0 1 834.0 2131.6L830.3 2134.2A46.7 46.7 0 0 0 827.0 2129.9ZM818.7 2142.7A32.3 32.3 0 0 1 820.4 2145.5L818.0 2146.8A29.6 29.6 0 0 0 816.4 2144.2ZM819.1 2272.4A114.9 114.9 0 0 1 806.0 2274.8L805.2 2268.2A108.3 108.3 0 0 0 817.5 2266.0ZM815.0 2117.8A48.8 48.8 0 0 1 819.3 2120.4L816.9 2123.9A44.6 44.6 0 0 0 813.0 2121.5ZM759.0 2148.0A35.3 35.3 0 0 1 760.5 2144.6L763.2 2146.0A32.3 32.3 0 0 0 761.8 2149.1Z" fill="#5ac663"/><path d="M742.9 2126.8A59.7 59.7 0 0 1 747.1 2121.3L751.1 2124.8A54.4 54.4 0 0 0 747.2 2129.8ZM840.4 2161.2A48.5 48.5 0 0 1 840.1 2166.2L835.9 2165.7A44.2 44.2 0 0 0 836.1 2161.2ZM763.1 2236.2A80.8 80.8 0 0 1 754.6 2232.4L757.6 2226.6A74.2 74.2 0 0 0 765.4 2230.1ZM775.2 2295.8A136.0 136.0 0 0 1 759.7 2292.9L761.3 2286.5A129.4 129.4 0 0 0 776.0 2289.2ZM841.1 2255.1A106.4 106.4 0 0 1 829.9 2260.1L827.5 2254.0A99.8 99.8 0 0 0 838.0 2249.3ZM760.7 2101.0A67.4 67.4 0 0 1 767.8 2097.8L770.0 2103.4A61.5 61.5 0 0 0 763.5 2106.3ZM827.3 2093.8A75.8 75.8 0 0 1 834.8 2098.3L831.1 2103.8A69.2 69.2 0 0 0 824.2 2099.6ZM769.1 2252.1A94.1 94.1 0 0 1 758.8 2248.9L761.1 2242.7A87.5 87.5 0 0 0 770.7 2245.7ZM834.3 2123.4A56.6 56.6 0 0 1 838.4 2128.5L834.3 2131.4A51.6 51.6 0 0 0 830.6 2126.7ZM826.7 2110.7A61.0 61.0 0 0 1 832.2 2115.1L828.7 2119.1A55.6 55.6 0 0 0 823.6 2115.1ZM750.7 2176.0A43.9 43.9 0 0 1 749.4 2171.7L753.1 2170.7A40.1 40.1 0 0 0 754.3 2174.7Z" fill="#31688e"/></g></g><clipPath id="mc0"><circle cx="736.2" cy="2029.1" r="64.3"/></clipPath><clipPath id="mc1"><circle cx="810.9" cy="2298.8" r="63.7"/></clipPath><filter id="sh" x="-30%" y="-30%" width="160%" height="160%"><feDropShadow dx="0" dy="1" stdDeviation="5" flood-color="#000" flood-opacity=".28"/></filter><radialGradient id="fade"><stop offset="0" stop-color="#fff" stop-opacity="0"/><stop offset=".78" stop-color="#fff" stop-opacity="0"/><stop offset="1" stop-color="#fff" stop-opacity=".95"/></radialGradient></defs><rect x="506.7" y="586.9" width="222.2" height="1" fill="#ececec"/><rect x="506.7" y="607.9" width="222.2" height="1" fill="#ececec"/><rect x="506.7" y="628.9" width="222.2" height="1" fill="#ececec"/><rect x="506.7" y="649.8" width="222.2" height="1" fill="#ececec"/><rect x="506.7" y="670.4" width="222.2" height="1.5" fill="#d4d4d4"/><linearGradient id="g0" gradientUnits="userSpaceOnUse" x1="516.0" y1="0" x2="719.6" y2="0"><stop offset="0.00" stop-color="#fde725"/><stop offset="0.10" stop-color="#bcdf2a"/><stop offset="0.20" stop-color="#7cd14f"/><stop offset="0.30" stop-color="#46be6f"/><stop offset="0.40" stop-color="#28a883"/><stop offset="0.50" stop-color="#22908c"/><stop offset="0.60" stop-color="#2a788e"/><stop offset="0.70" stop-color="#355f8c"/><stop offset="0.80" stop-color="#404386"/><stop offset="0.90" stop-color="#482474"/><stop offset="1.00" stop-color="#440154"/></linearGradient><path d="M516.0 651.9C519.5 651.8 530.2 651.6 537.2 651.3C544.2 651.0 549.9 650.3 557.8 649.9C565.7 649.4 577.8 648.7 584.6 648.6C591.5 648.5 593.9 649.5 599.1 649.2C604.2 649.0 609.4 648.5 615.5 647.2C621.7 645.8 630.0 642.9 636.1 641.0C642.3 639.1 647.1 637.9 652.6 635.8C658.1 633.8 663.6 631.0 669.1 628.6C674.6 626.2 680.5 624.0 685.6 621.4C690.8 618.8 695.9 616.1 700.0 613.2C704.2 610.2 707.1 607.3 710.3 603.9C713.6 600.5 718.1 594.4 719.6 592.6" fill="none" stroke="url(#g0)" stroke-width="4" stroke-linejoin="round"/><rect x="743.8" y="586.9" width="222.2" height="1" fill="#ececec"/><rect x="743.8" y="607.9" width="222.2" height="1" fill="#ececec"/><rect x="743.8" y="628.9" width="222.2" height="1" fill="#ececec"/><rect x="743.8" y="649.8" width="222.2" height="1" fill="#ececec"/><rect x="743.8" y="670.4" width="222.2" height="1.5" fill="#d4d4d4"/><linearGradient id="g1" gradientUnits="userSpaceOnUse" x1="752.1" y1="0" x2="956.5" y2="0"><stop offset="0.00" stop-color="#fde725"/><stop offset="0.10" stop-color="#bcdf2a"/><stop offset="0.20" stop-color="#7cd14f"/><stop offset="0.30" stop-color="#46be6f"/><stop offset="0.40" stop-color="#28a883"/><stop offset="0.50" stop-color="#22908c"/><stop offset="0.60" stop-color="#2a788e"/><stop offset="0.70" stop-color="#355f8c"/><stop offset="0.80" stop-color="#404386"/><stop offset="0.90" stop-color="#482474"/><stop offset="1.00" stop-color="#440154"/></linearGradient><path d="M752.1 669.4C759.7 669.4 786.1 669.5 797.8 669.4C809.6 669.4 813.6 669.5 822.6 669.2C831.5 669.0 843.9 668.6 851.4 667.8C859.0 667.0 862.4 665.2 867.9 664.3C873.4 663.3 878.9 663.1 884.4 662.0C889.9 660.9 896.1 659.3 900.9 657.5C905.7 655.7 909.1 653.9 913.2 651.3C917.4 648.7 921.5 645.1 925.6 642.0C929.7 638.9 934.2 635.0 938.0 632.7C941.8 630.5 945.2 629.6 948.3 628.6C951.4 627.7 955.2 627.4 956.5 627.2" fill="none" stroke="url(#g1)" stroke-width="4" stroke-linejoin="round"/><rect x="979.6" y="586.9" width="222.2" height="1" fill="#ececec"/><rect x="979.6" y="607.9" width="222.2" height="1" fill="#ececec"/><rect x="979.6" y="628.9" width="222.2" height="1" fill="#ececec"/><rect x="979.6" y="649.8" width="222.2" height="1" fill="#ececec"/><rect x="979.6" y="670.4" width="222.2" height="1.5" fill="#d4d4d4"/><linearGradient id="g2" gradientUnits="userSpaceOnUse" x1="988.5" y1="0" x2="1192.6" y2="0"><stop offset="0.00" stop-color="#fde725"/><stop offset="0.10" stop-color="#bcdf2a"/><stop offset="0.20" stop-color="#7cd14f"/><stop offset="0.30" stop-color="#46be6f"/><stop offset="0.40" stop-color="#28a883"/><stop offset="0.50" stop-color="#22908c"/><stop offset="0.60" stop-color="#2a788e"/><stop offset="0.70" stop-color="#355f8c"/><stop offset="0.80" stop-color="#404386"/><stop offset="0.90" stop-color="#482474"/><stop offset="1.00" stop-color="#440154"/></linearGradient><path d="M988.5 620.0C990.3 620.1 995.8 620.1 998.9 620.8C1001.9 621.5 1004.4 622.4 1007.1 624.1C1009.8 625.7 1012.6 628.4 1015.3 630.7C1018.1 633.0 1020.2 636.4 1023.6 637.9C1027.0 639.4 1031.8 638.9 1036.0 640.0C1040.1 641.0 1043.9 642.4 1048.3 644.1C1052.8 645.8 1056.9 648.3 1062.7 650.3C1068.6 652.2 1076.5 654.7 1083.4 655.8C1090.2 657.0 1097.1 656.6 1104.0 657.1C1110.8 657.5 1118.4 657.4 1124.6 658.5C1130.8 659.6 1135.9 662.6 1141.1 663.7C1146.2 664.7 1150.3 664.7 1155.5 664.9C1160.6 665.1 1167.2 665.2 1172.0 665.1C1176.8 665.0 1180.9 664.7 1184.3 664.3C1187.8 663.9 1191.2 663.1 1192.6 662.8" fill="none" stroke="url(#g2)" stroke-width="4" stroke-linejoin="round"/><rect x="506.7" y="758.9" width="222.2" height="1" fill="#ececec"/><rect x="506.7" y="779.9" width="222.2" height="1" fill="#ececec"/><rect x="506.7" y="800.9" width="222.2" height="1" fill="#ececec"/><rect x="506.7" y="821.8" width="222.2" height="1" fill="#ececec"/><rect x="506.7" y="842.4" width="222.2" height="1.5" fill="#d4d4d4"/><linearGradient id="g3" gradientUnits="userSpaceOnUse" x1="516.0" y1="0" x2="719.6" y2="0"><stop offset="0.00" stop-color="#fde725"/><stop offset="0.10" stop-color="#bcdf2a"/><stop offset="0.20" stop-color="#7cd14f"/><stop offset="0.30" stop-color="#46be6f"/><stop offset="0.40" stop-color="#28a883"/><stop offset="0.50" stop-color="#22908c"/><stop offset="0.60" stop-color="#2a788e"/><stop offset="0.70" stop-color="#355f8c"/><stop offset="0.80" stop-color="#404386"/><stop offset="0.90" stop-color="#482474"/><stop offset="1.00" stop-color="#440154"/></linearGradient><path d="M516.0 833.6C518.8 833.3 527.5 832.3 533.1 831.5C538.7 830.8 544.1 829.6 549.6 829.1C555.1 828.5 560.6 828.5 566.1 828.0C571.6 827.6 577.1 826.4 582.6 826.4C588.1 826.4 593.6 827.9 599.1 827.8C604.5 827.7 610.0 826.4 615.5 825.8C621.0 825.1 626.5 825.0 632.0 823.9C637.5 822.8 643.0 821.3 648.5 819.2C654.0 817.0 660.2 814.0 665.0 810.9C669.8 807.8 673.6 803.5 677.4 800.6C681.1 797.7 683.6 795.0 687.7 793.4C691.8 791.9 698.3 792.4 702.1 791.3C705.9 790.3 707.4 788.8 710.3 787.2C713.3 785.7 718.1 782.9 719.6 782.1" fill="none" stroke="url(#g3)" stroke-width="4" stroke-linejoin="round"/><rect x="743.8" y="758.9" width="222.2" height="1" fill="#ececec"/><rect x="743.8" y="779.9" width="222.2" height="1" fill="#ececec"/><rect x="743.8" y="800.9" width="222.2" height="1" fill="#ececec"/><rect x="743.8" y="821.8" width="222.2" height="1" fill="#ececec"/><rect x="743.8" y="842.4" width="222.2" height="1.5" fill="#d4d4d4"/><linearGradient id="g4" gradientUnits="userSpaceOnUse" x1="752.1" y1="0" x2="956.5" y2="0"><stop offset="0.00" stop-color="#fde725"/><stop offset="0.10" stop-color="#bcdf2a"/><stop offset="0.20" stop-color="#7cd14f"/><stop offset="0.30" stop-color="#46be6f"/><stop offset="0.40" stop-color="#28a883"/><stop offset="0.50" stop-color="#22908c"/><stop offset="0.60" stop-color="#2a788e"/><stop offset="0.70" stop-color="#355f8c"/><stop offset="0.80" stop-color="#404386"/><stop offset="0.90" stop-color="#482474"/><stop offset="1.00" stop-color="#440154"/></linearGradient><path d="M752.1 806.8C754.9 807.1 763.4 808.8 769.0 808.9C774.5 808.9 780.0 807.3 785.5 807.2C791.0 807.1 796.5 807.9 802.0 808.2C807.4 808.6 814.3 809.5 818.4 809.3C822.6 809.0 823.2 808.1 826.7 806.8C830.1 805.5 834.2 802.6 839.1 801.2C843.9 799.9 850.0 799.4 855.5 798.6C861.0 797.7 866.5 796.7 872.0 796.1C877.5 795.5 883.0 796.5 888.5 794.9C894.0 793.2 900.2 787.9 905.0 786.2C909.8 784.5 912.6 785.4 917.4 784.8C922.2 784.1 929.4 783.4 933.9 782.1C938.3 780.8 940.4 779.2 944.2 776.9C947.9 774.7 954.5 770.1 956.5 768.7" fill="none" stroke="url(#g4)" stroke-width="4" stroke-linejoin="round"/><rect x="979.6" y="758.9" width="222.2" height="1" fill="#ececec"/><rect x="979.6" y="779.9" width="222.2" height="1" fill="#ececec"/><rect x="979.6" y="800.9" width="222.2" height="1" fill="#ececec"/><rect x="979.6" y="821.8" width="222.2" height="1" fill="#ececec"/><rect x="979.6" y="842.4" width="222.2" height="1.5" fill="#d4d4d4"/><linearGradient id="g5" gradientUnits="userSpaceOnUse" x1="988.5" y1="0" x2="1192.6" y2="0"><stop offset="0.00" stop-color="#fde725"/><stop offset="0.10" stop-color="#bcdf2a"/><stop offset="0.20" stop-color="#7cd14f"/><stop offset="0.30" stop-color="#46be6f"/><stop offset="0.40" stop-color="#28a883"/><stop offset="0.50" stop-color="#22908c"/><stop offset="0.60" stop-color="#2a788e"/><stop offset="0.70" stop-color="#355f8c"/><stop offset="0.80" stop-color="#404386"/><stop offset="0.90" stop-color="#482474"/><stop offset="1.00" stop-color="#440154"/></linearGradient><path d="M988.5 839.4C990.6 839.1 996.8 838.7 1000.9 837.7C1005.0 836.8 1009.2 835.7 1013.3 833.6C1017.4 831.5 1021.5 829.1 1025.6 825.4C1029.8 821.6 1033.5 816.1 1038.0 810.9C1042.5 805.8 1048.3 798.2 1052.4 794.4C1056.6 790.7 1059.0 789.7 1062.7 788.3C1066.5 786.8 1071.0 785.7 1075.1 785.8C1079.2 785.9 1082.7 787.4 1087.5 788.7C1092.3 789.9 1097.8 792.1 1104.0 793.4C1110.1 794.7 1118.4 795.1 1124.6 796.5C1130.8 797.9 1136.9 801.1 1141.1 801.7C1145.2 802.2 1146.4 800.5 1149.3 799.6C1152.2 798.7 1155.5 796.1 1158.6 796.1C1161.7 796.1 1164.9 798.4 1167.9 799.6C1170.8 800.8 1173.4 802.4 1176.1 803.3C1178.8 804.2 1181.6 804.4 1184.3 804.7C1187.1 805.1 1191.2 805.1 1192.6 805.2" fill="none" stroke="url(#g5)" stroke-width="4" stroke-linejoin="round"/><rect x="762.50" y="1105.53" width="3.5" height="13.47" fill="#82cf56"/><rect x="767.23" y="1104.28" width="3.5" height="14.72" fill="#7ecd57"/><rect x="771.95" y="1106.47" width="3.5" height="12.53" fill="#85d056"/><rect x="776.67" y="1108.04" width="3.5" height="10.96" fill="#8ad156"/><rect x="781.40" y="1109.60" width="3.5" height="9.40" fill="#8ed355"/><rect x="786.12" y="1108.66" width="3.5" height="10.34" fill="#8cd255"/><rect x="790.85" y="1108.66" width="3.5" height="10.34" fill="#8cd255"/><rect x="795.58" y="1112.11" width="3.5" height="6.89" fill="#96d654"/><rect x="800.30" y="1108.04" width="3.5" height="10.96" fill="#8ad156"/><rect x="805.02" y="1109.60" width="3.5" height="9.40" fill="#8ed355"/><rect x="809.75" y="1109.60" width="3.5" height="9.40" fill="#8ed355"/><rect x="814.48" y="1110.54" width="3.5" height="8.46" fill="#91d455"/><rect x="819.20" y="1110.54" width="3.5" height="8.46" fill="#91d455"/><rect x="823.92" y="1109.60" width="3.5" height="9.40" fill="#8ed355"/><rect x="828.65" y="1101.77" width="3.5" height="17.23" fill="#76ca58"/><rect x="833.38" y="1103.96" width="3.5" height="15.04" fill="#7dcd57"/><rect x="838.10" y="1109.60" width="3.5" height="9.40" fill="#8ed355"/><rect x="842.82" y="1111.17" width="3.5" height="7.83" fill="#93d554"/><rect x="847.55" y="1109.60" width="3.5" height="9.40" fill="#8ed355"/><rect x="852.27" y="1108.66" width="3.5" height="10.34" fill="#8cd255"/><rect x="857.00" y="1110.54" width="3.5" height="8.46" fill="#91d455"/><rect x="861.73" y="1103.34" width="3.5" height="15.66" fill="#7bcc57"/><rect x="866.45" y="1104.90" width="3.5" height="14.10" fill="#80ce57"/><rect x="871.17" y="1104.28" width="3.5" height="14.72" fill="#7ecd57"/><rect x="875.90" y="1100.83" width="3.5" height="18.17" fill="#73c958"/><rect x="880.62" y="1100.20" width="3.5" height="18.80" fill="#71c958"/><rect x="885.35" y="1094.88" width="3.5" height="24.12" fill="#60c25b"/><rect x="890.07" y="1093.62" width="3.5" height="25.38" fill="#5cc15b"/><rect x="894.80" y="1093.62" width="3.5" height="25.38" fill="#5cc15b"/><rect x="899.52" y="1098.64" width="3.5" height="20.36" fill="#6cc759"/><rect x="904.25" y="1100.52" width="3.5" height="18.48" fill="#72c958"/><rect x="908.97" y="1104.90" width="3.5" height="14.10" fill="#80ce57"/><rect x="913.70" y="1104.28" width="3.5" height="14.72" fill="#7ecd57"/><rect x="918.42" y="1108.04" width="3.5" height="10.96" fill="#8ad156"/><rect x="923.15" y="1102.71" width="3.5" height="16.29" fill="#79cb58"/><rect x="927.88" y="1106.47" width="3.5" height="12.53" fill="#85d056"/><rect x="932.60" y="1107.41" width="3.5" height="11.59" fill="#88d156"/><rect x="937.32" y="1105.84" width="3.5" height="13.16" fill="#83cf56"/><rect x="942.05" y="1108.66" width="3.5" height="10.34" fill="#8cd255"/><rect x="946.77" y="1108.04" width="3.5" height="10.96" fill="#8ad156"/><rect x="951.50" y="1108.04" width="3.5" height="10.96" fill="#8ad156"/><rect x="956.22" y="1108.04" width="3.5" height="10.96" fill="#8ad156"/><rect x="960.95" y="1106.78" width="3.5" height="12.22" fill="#86d056"/><rect x="965.67" y="1107.41" width="3.5" height="11.59" fill="#88d156"/><rect x="970.40" y="1108.04" width="3.5" height="10.96" fill="#8ad156"/><rect x="975.12" y="1104.28" width="3.5" height="14.72" fill="#7ecd57"/><rect x="979.85" y="1091.12" width="3.5" height="27.88" fill="#54be5c"/><rect x="984.57" y="1110.23" width="3.5" height="8.77" fill="#90d455"/><rect x="989.30" y="1105.84" width="3.5" height="13.16" fill="#83cf56"/><rect x="994.02" y="1101.14" width="3.5" height="17.86" fill="#74ca58"/><rect x="998.75" y="1093.94" width="3.5" height="25.06" fill="#5dc15b"/><rect x="1003.47" y="1096.76" width="3.5" height="22.24" fill="#66c55a"/><circle cx="445.3" cy="1563.7" r="43.0" fill="none" stroke="#d2d2d2" stroke-width="1.3" stroke-dasharray="3 7"/><circle cx="445.3" cy="1563.7" r="87.0" fill="none" stroke="#d2d2d2" stroke-width="1.3" stroke-dasharray="3 7"/><circle cx="445.3" cy="1563.7" r="130.0" fill="none" stroke="#d2d2d2" stroke-width="1.3" stroke-dasharray="3 7"/><circle cx="445.3" cy="1563.7" r="174.0" fill="none" stroke="#d2d2d2" stroke-width="1.3" stroke-dasharray="3 7"/><path d="M449.5 1379.7A184.0 184.0 0 0 1 533.7 1402.3" fill="none" stroke="#d0d0d0" stroke-width="2"/><path d="M540.9 1406.5A184.0 184.0 0 0 1 602.5 1468.1" fill="none" stroke="#d0d0d0" stroke-width="2"/><path d="M606.7 1475.3A184.0 184.0 0 0 1 629.3 1559.5" fill="none" stroke="#d0d0d0" stroke-width="2"/><path d="M629.3 1567.9A184.0 184.0 0 0 1 606.7 1652.1" fill="none" stroke="#d0d0d0" stroke-width="2"/><path d="M602.5 1659.3A184.0 184.0 0 0 1 540.9 1720.9" fill="none" stroke="#d0d0d0" stroke-width="2"/><path d="M533.7 1725.1A184.0 184.0 0 0 1 449.5 1747.7" fill="none" stroke="#d0d0d0" stroke-width="2"/><path d="M441.1 1747.7A184.0 184.0 0 0 1 356.9 1725.1" fill="none" stroke="#d0d0d0" stroke-width="2"/><path d="M349.7 1720.9A184.0 184.0 0 0 1 288.1 1659.3" fill="none" stroke="#d0d0d0" stroke-width="2"/><path d="M283.9 1652.1A184.0 184.0 0 0 1 261.3 1567.9" fill="none" stroke="#d0d0d0" stroke-width="2"/><path d="M261.3 1559.5A184.0 184.0 0 0 1 283.9 1475.3" fill="none" stroke="#d0d0d0" stroke-width="2"/><path d="M288.1 1468.1A184.0 184.0 0 0 1 349.7 1406.5" fill="none" stroke="#d0d0d0" stroke-width="2"/><path d="M356.9 1402.3A184.0 184.0 0 0 1 441.1 1379.7" fill="none" stroke="#d0d0d0" stroke-width="2"/><text x="490.0" y="1363.6" transform="rotate(12.6 490.0 1363.6)" text-anchor="middle" dominant-baseline="central" font-size="15.5" letter-spacing="1.2" fill="#929292">JAN</text><text x="584.1" y="1412.8" transform="rotate(42.6 584.1 1412.8)" text-anchor="middle" dominant-baseline="central" font-size="15.5" letter-spacing="1.2" fill="#929292">FEB</text><text x="640.9" y="1502.4" transform="rotate(72.6 640.9 1502.4)" text-anchor="middle" dominant-baseline="central" font-size="15.5" letter-spacing="1.2" fill="#929292">MAR</text><text x="645.4" y="1608.4" transform="rotate(-77.4 645.4 1608.4)" text-anchor="middle" dominant-baseline="central" font-size="15.5" letter-spacing="1.2" fill="#929292">APR</text><text x="596.2" y="1702.5" transform="rotate(-47.4 596.2 1702.5)" text-anchor="middle" dominant-baseline="central" font-size="15.5" letter-spacing="1.2" fill="#929292">MAY</text><text x="506.6" y="1759.3" transform="rotate(-17.4 506.6 1759.3)" text-anchor="middle" dominant-baseline="central" font-size="15.5" letter-spacing="1.2" fill="#929292">JUN</text><text x="400.6" y="1763.8" transform="rotate(12.6 400.6 1763.8)" text-anchor="middle" dominant-baseline="central" font-size="15.5" letter-spacing="1.2" fill="#929292">JUL</text><text x="306.5" y="1714.6" transform="rotate(42.6 306.5 1714.6)" text-anchor="middle" dominant-baseline="central" font-size="15.5" letter-spacing="1.2" fill="#929292">AUG</text><text x="249.7" y="1625.0" transform="rotate(72.6 249.7 1625.0)" text-anchor="middle" dominant-baseline="central" font-size="15.5" letter-spacing="1.2" fill="#929292">SEP</text><text x="245.2" y="1519.0" transform="rotate(282.6 245.2 1519.0)" text-anchor="middle" dominant-baseline="central" font-size="15.5" letter-spacing="1.2" fill="#929292">OCT</text><text x="294.4" y="1424.9" transform="rotate(312.6 294.4 1424.9)" text-anchor="middle" dominant-baseline="central" font-size="15.5" letter-spacing="1.2" fill="#929292">NOV</text><text x="384.0" y="1368.1" transform="rotate(342.6 384.0 1368.1)" text-anchor="middle" dominant-baseline="central" font-size="15.5" letter-spacing="1.2" fill="#929292">DEC</text><circle cx="445.3" cy="1563.7" r="5.7" fill="#999"/><path d="M431.4 1442.4A122.1 122.1 0 0 1 445.1 1441.6L445.1 1447.2A116.5 116.5 0 0 0 432.1 1448.0Z" fill="#3b528a" stroke="#fff" stroke-width=".6"/><path d="M432.8 1454.3A110.1 110.1 0 0 1 445.1 1453.6L445.1 1459.2A104.5 104.5 0 0 0 433.4 1459.9Z" fill="#45085a" stroke="#fff" stroke-width=".6"/><path d="M433.6 1461.3A103.1 103.1 0 0 1 445.1 1460.6L445.1 1466.2A97.5 97.5 0 0 0 434.2 1466.8Z" fill="#471a6b" stroke="#fff" stroke-width=".6"/><path d="M434.4 1468.2A96.1 96.1 0 0 1 445.1 1467.6L445.1 1473.2A90.5 90.5 0 0 0 435.0 1473.8Z" fill="#44347e" stroke="#fff" stroke-width=".6"/><path d="M435.1 1474.7A89.6 89.6 0 0 1 445.1 1474.1L445.2 1479.7A84.0 84.0 0 0 0 435.8 1480.2Z" fill="#28a883" stroke="#fff" stroke-width=".6"/><path d="M436.0 1482.1A82.1 82.1 0 0 1 445.2 1481.6L445.2 1487.2A76.5 76.5 0 0 0 436.6 1487.7Z" fill="#26838e" stroke="#fff" stroke-width=".6"/><rect x="495.1" y="1536.1" width="9.6" height="6.1" fill="#c7e02a" stroke="#fff" stroke-width=".6" transform="rotate(66 499.9 1539.1)"/><rect x="473.5" y="1487.4" width="9.6" height="6.1" fill="#3b528a" stroke="#fff" stroke-width=".6" transform="rotate(24 478.3 1490.4)"/><rect x="456.4" y="1509.5" width="9.6" height="6.1" fill="#22908c" stroke="#fff" stroke-width=".6" transform="rotate(17 461.2 1512.5)"/><rect x="477.3" y="1478.9" width="9.6" height="6.1" fill="#471e6f" stroke="#fff" stroke-width=".6" transform="rotate(24 482.1 1481.9)"/><rect x="486.7" y="1514.5" width="9.6" height="6.1" fill="#297b8e" stroke="#fff" stroke-width=".6" transform="rotate(45 491.5 1517.5)"/><rect x="475.4" y="1525.8" width="9.6" height="6.1" fill="#92d642" stroke="#fff" stroke-width=".6" transform="rotate(45 480.2 1528.8)"/><rect x="444.5" y="1493.7" width="9.6" height="6.1" fill="#24a485" stroke="#fff" stroke-width=".6" transform="rotate(3 449.3 1496.8)"/><rect x="502.7" y="1512.0" width="9.6" height="6.1" fill="#433980" stroke="#fff" stroke-width=".6" transform="rotate(52 507.5 1515.0)"/><rect x="460.7" y="1495.8" width="9.6" height="6.1" fill="#60c860" stroke="#fff" stroke-width=".6" transform="rotate(17 465.5 1498.9)"/><rect x="479.8" y="1521.3" width="9.6" height="6.1" fill="#24a485" stroke="#fff" stroke-width=".6" transform="rotate(45 484.6 1524.4)"/><rect x="493.5" y="1507.7" width="9.6" height="6.1" fill="#471e6f" stroke="#fff" stroke-width=".6" transform="rotate(45 498.3 1510.7)"/><rect x="454.4" y="1516.0" width="9.6" height="6.1" fill="#92d642" stroke="#fff" stroke-width=".6" transform="rotate(17 459.2 1519.1)"/><rect x="484.7" y="1526.0" width="9.6" height="6.1" fill="#92d642" stroke="#fff" stroke-width=".6" transform="rotate(52 489.5 1529.1)"/><rect x="481.5" y="1492.8" width="9.6" height="6.1" fill="#433980" stroke="#fff" stroke-width=".6" transform="rotate(31 486.3 1495.8)"/><rect x="461.9" y="1513.0" width="9.6" height="6.1" fill="#60c860" stroke="#fff" stroke-width=".6" transform="rotate(24 466.7 1516.1)"/><rect x="445.0" y="1485.9" width="9.6" height="6.1" fill="#3b528a" stroke="#fff" stroke-width=".6" transform="rotate(3 449.8 1488.9)"/><rect x="449.0" y="1514.2" width="9.6" height="6.1" fill="#c7e02a" stroke="#fff" stroke-width=".6" transform="rotate(10 453.8 1517.3)"/><rect x="450.0" y="1508.6" width="9.6" height="6.1" fill="#60c860" stroke="#fff" stroke-width=".6" transform="rotate(10 454.8 1511.6)"/><rect x="456.8" y="1471.4" width="9.6" height="6.1" fill="#3b528a" stroke="#fff" stroke-width=".6" transform="rotate(10 461.6 1474.5)"/><rect x="455.7" y="1477.9" width="9.6" height="6.1" fill="#471e6f" stroke="#fff" stroke-width=".6" transform="rotate(10 460.5 1480.9)"/><rect x="477.8" y="1523.3" width="9.6" height="6.1" fill="#60c860" stroke="#fff" stroke-width=".6" transform="rotate(45 482.6 1526.4)"/><rect x="467.9" y="1472.6" width="9.6" height="6.1" fill="#440154" stroke="#fff" stroke-width=".6" transform="rotate(17 472.7 1475.6)"/><rect x="464.8" y="1520.4" width="9.6" height="6.1" fill="#60c860" stroke="#fff" stroke-width=".6" transform="rotate(31 469.6 1523.5)"/><rect x="463.2" y="1510.1" width="9.6" height="6.1" fill="#35b779" stroke="#fff" stroke-width=".6" transform="rotate(24 468.0 1513.2)"/><rect x="446.2" y="1466.7" width="9.6" height="6.1" fill="#471e6f" stroke="#fff" stroke-width=".6" transform="rotate(3 451.0 1469.8)"/><rect x="481.0" y="1528.9" width="9.6" height="6.1" fill="#c7e02a" stroke="#fff" stroke-width=".6" transform="rotate(52 485.8 1532.0)"/><rect x="478.1" y="1512.7" width="9.6" height="6.1" fill="#297b8e" stroke="#fff" stroke-width=".6" transform="rotate(38 482.9 1515.7)"/><rect x="471.8" y="1520.7" width="9.6" height="6.1" fill="#24a485" stroke="#fff" stroke-width=".6" transform="rotate(38 476.6 1523.7)"/><rect x="501.9" y="1533.0" width="9.6" height="6.1" fill="#24a485" stroke="#fff" stroke-width=".6" transform="rotate(66 506.7 1536.1)"/><rect x="457.9" y="1465.9" width="9.6" height="6.1" fill="#440154" stroke="#fff" stroke-width=".6" transform="rotate(10 462.7 1469.0)"/><rect x="454.6" y="1483.6" width="9.6" height="6.1" fill="#22908c" stroke="#fff" stroke-width=".6" transform="rotate(10 459.4 1486.7)"/><rect x="494.0" y="1528.3" width="9.6" height="6.1" fill="#22908c" stroke="#fff" stroke-width=".6" transform="rotate(59 498.8 1531.3)"/><rect x="478.9" y="1497.1" width="9.6" height="6.1" fill="#3b528a" stroke="#fff" stroke-width=".6" transform="rotate(31 483.7 1500.1)"/><rect x="474.9" y="1503.7" width="9.6" height="6.1" fill="#24a485" stroke="#fff" stroke-width=".6" transform="rotate(31 479.7 1506.7)"/><rect x="464.5" y="1483.5" width="9.6" height="6.1" fill="#3b528a" stroke="#fff" stroke-width=".6" transform="rotate(17 469.3 1486.6)"/><rect x="507.1" y="1508.5" width="9.6" height="6.1" fill="#3b528a" stroke="#fff" stroke-width=".6" transform="rotate(52 511.9 1511.5)"/><rect x="469.5" y="1523.7" width="9.6" height="6.1" fill="#60c860" stroke="#fff" stroke-width=".6" transform="rotate(38 474.3 1526.7)"/><rect x="454.0" y="1486.9" width="9.6" height="6.1" fill="#31688e" stroke="#fff" stroke-width=".6" transform="rotate(10 458.8 1490.0)"/><rect x="467.1" y="1526.7" width="9.6" height="6.1" fill="#92d642" stroke="#fff" stroke-width=".6" transform="rotate(38 471.9 1529.7)"/><rect x="454.0" y="1487.1" width="9.6" height="6.1" fill="#297b8e" stroke="#fff" stroke-width=".6" transform="rotate(10 458.8 1490.1)"/><rect x="482.5" y="1527.8" width="9.6" height="6.1" fill="#35b779" stroke="#fff" stroke-width=".6" transform="rotate(52 487.3 1530.8)"/><rect x="471.2" y="1492.5" width="9.6" height="6.1" fill="#31688e" stroke="#fff" stroke-width=".6" transform="rotate(24 476.0 1495.5)"/><rect x="467.7" y="1525.9" width="9.6" height="6.1" fill="#c7e02a" stroke="#fff" stroke-width=".6" transform="rotate(38 472.5 1528.9)"/><rect x="444.8" y="1489.0" width="9.6" height="6.1" fill="#31688e" stroke="#fff" stroke-width=".6" transform="rotate(3 449.6 1492.1)"/><rect x="455.8" y="1477.1" width="9.6" height="6.1" fill="#433980" stroke="#fff" stroke-width=".6" transform="rotate(10 460.6 1480.1)"/><rect x="444.2" y="1499.4" width="9.6" height="6.1" fill="#92d642" stroke="#fff" stroke-width=".6" transform="rotate(3 449.0 1502.4)"/><rect x="446.4" y="1463.6" width="9.6" height="6.1" fill="#440154" stroke="#fff" stroke-width=".6" transform="rotate(3 451.2 1466.6)"/><rect x="501.9" y="1533.0" width="9.6" height="6.1" fill="#297b8e" stroke="#fff" stroke-width=".6" transform="rotate(66 506.7 1536.1)"/><rect x="468.8" y="1497.8" width="9.6" height="6.1" fill="#297b8e" stroke="#fff" stroke-width=".6" transform="rotate(24 473.6 1500.8)"/><rect x="490.4" y="1530.5" width="9.6" height="6.1" fill="#c7e02a" stroke="#fff" stroke-width=".6" transform="rotate(59 495.2 1533.5)"/><rect x="459.4" y="1518.7" width="9.6" height="6.1" fill="#c7e02a" stroke="#fff" stroke-width=".6" transform="rotate(24 464.2 1521.8)"/><rect x="507.7" y="1520.1" width="9.6" height="6.1" fill="#31688e" stroke="#fff" stroke-width=".6" transform="rotate(59 512.5 1523.1)"/><rect x="471.6" y="1529.6" width="9.6" height="6.1" fill="#c7e02a" stroke="#fff" stroke-width=".6" transform="rotate(45 476.4 1532.6)"/><rect x="484.3" y="1526.3" width="9.6" height="6.1" fill="#60c860" stroke="#fff" stroke-width=".6" transform="rotate(52 489.1 1529.4)"/><rect x="454.2" y="1516.7" width="9.6" height="6.1" fill="#c7e02a" stroke="#fff" stroke-width=".6" transform="rotate(17 459.0 1519.8)"/><rect x="463.5" y="1522.6" width="9.6" height="6.1" fill="#92d642" stroke="#fff" stroke-width=".6" transform="rotate(31 468.3 1525.6)"/><rect x="508.3" y="1530.2" width="9.6" height="6.1" fill="#22908c" stroke="#fff" stroke-width=".6" transform="rotate(66 513.1 1533.2)"/><rect x="495.8" y="1517.3" width="9.6" height="6.1" fill="#471e6f" stroke="#fff" stroke-width=".6" transform="rotate(52 500.6 1520.3)"/><rect x="461.8" y="1492.4" width="9.6" height="6.1" fill="#297b8e" stroke="#fff" stroke-width=".6" transform="rotate(17 466.6 1495.5)"/><rect x="443.3" y="1513.7" width="9.6" height="6.1" fill="#c7e02a" stroke="#fff" stroke-width=".6" transform="rotate(3 448.1 1516.8)"/><rect x="476.3" y="1481.0" width="9.6" height="6.1" fill="#433980" stroke="#fff" stroke-width=".6" transform="rotate(24 481.1 1484.1)"/><rect x="464.5" y="1507.3" width="9.6" height="6.1" fill="#92d642" stroke="#fff" stroke-width=".6" transform="rotate(24 469.3 1510.4)"/><rect x="466.2" y="1518.1" width="9.6" height="6.1" fill="#35b779" stroke="#fff" stroke-width=".6" transform="rotate(31 471.0 1521.2)"/><rect x="470.3" y="1522.6" width="9.6" height="6.1" fill="#22908c" stroke="#fff" stroke-width=".6" transform="rotate(38 475.1 1525.6)"/><rect x="497.4" y="1516.0" width="9.6" height="6.1" fill="#31688e" stroke="#fff" stroke-width=".6" transform="rotate(52 502.2 1519.1)"/><rect x="449.9" y="1509.2" width="9.6" height="6.1" fill="#92d642" stroke="#fff" stroke-width=".6" transform="rotate(10 454.7 1512.2)"/><rect x="513.7" y="1516.4" width="9.6" height="6.1" fill="#440154" stroke="#fff" stroke-width=".6" transform="rotate(59 518.5 1519.4)"/><rect x="481.2" y="1508.7" width="9.6" height="6.1" fill="#31688e" stroke="#fff" stroke-width=".6" transform="rotate(38 486.0 1511.8)"/><rect x="490.3" y="1497.0" width="9.6" height="6.1" fill="#471e6f" stroke="#fff" stroke-width=".6" transform="rotate(38 495.1 1500.1)"/><rect x="484.9" y="1487.2" width="9.6" height="6.1" fill="#440154" stroke="#fff" stroke-width=".6" transform="rotate(31 489.7 1490.2)"/><rect x="449.0" y="1514.1" width="9.6" height="6.1" fill="#35b779" stroke="#fff" stroke-width=".6" transform="rotate(10 453.8 1517.1)"/><rect x="466.8" y="1476.1" width="9.6" height="6.1" fill="#433980" stroke="#fff" stroke-width=".6" transform="rotate(17 471.6 1479.2)"/><rect x="491.9" y="1495.0" width="9.6" height="6.1" fill="#440154" stroke="#fff" stroke-width=".6" transform="rotate(38 496.7 1498.0)"/><rect x="505.5" y="1509.7" width="9.6" height="6.1" fill="#440154" stroke="#fff" stroke-width=".6" transform="rotate(52 510.3 1512.8)"/><rect x="462.8" y="1511.1" width="9.6" height="6.1" fill="#22908c" stroke="#fff" stroke-width=".6" transform="rotate(24 467.6 1514.1)"/><rect x="444.1" y="1500.7" width="9.6" height="6.1" fill="#35b779" stroke="#fff" stroke-width=".6" transform="rotate(3 448.9 1503.7)"/><rect x="450.2" y="1507.7" width="9.6" height="6.1" fill="#24a485" stroke="#fff" stroke-width=".6" transform="rotate(10 455.0 1510.8)"/><rect x="510.4" y="1518.4" width="9.6" height="6.1" fill="#297b8e" stroke="#fff" stroke-width=".6" transform="rotate(59 515.2 1521.4)"/><rect x="463.0" y="1488.5" width="9.6" height="6.1" fill="#24a485" stroke="#fff" stroke-width=".6" transform="rotate(17 467.8 1491.5)"/><rect x="476.4" y="1501.2" width="9.6" height="6.1" fill="#297b8e" stroke="#fff" stroke-width=".6" transform="rotate(31 481.2 1504.2)"/><rect x="445.3" y="1481.8" width="9.6" height="6.1" fill="#433980" stroke="#fff" stroke-width=".6" transform="rotate(3 450.1 1484.8)"/><rect x="481.2" y="1519.9" width="9.6" height="6.1" fill="#35b779" stroke="#fff" stroke-width=".6" transform="rotate(45 486.0 1523.0)"/><rect x="468.2" y="1471.8" width="9.6" height="6.1" fill="#471e6f" stroke="#fff" stroke-width=".6" transform="rotate(17 473.0 1474.9)"/><rect x="481.9" y="1507.9" width="9.6" height="6.1" fill="#3b528a" stroke="#fff" stroke-width=".6" transform="rotate(38 486.7 1510.9)"/><rect x="453.7" y="1518.2" width="9.6" height="6.1" fill="#35b779" stroke="#fff" stroke-width=".6" transform="rotate(17 458.5 1521.3)"/><rect x="461.8" y="1492.4" width="9.6" height="6.1" fill="#31688e" stroke="#fff" stroke-width=".6" transform="rotate(17 466.6 1495.5)"/><rect x="443.7" y="1507.9" width="9.6" height="6.1" fill="#60c860" stroke="#fff" stroke-width=".6" transform="rotate(3 448.5 1511.0)"/><rect x="518.9" y="1525.4" width="9.6" height="6.1" fill="#471e6f" stroke="#fff" stroke-width=".6" transform="rotate(66 523.7 1528.4)"/><rect x="491.2" y="1520.9" width="9.6" height="6.1" fill="#297b8e" stroke="#fff" stroke-width=".6" transform="rotate(52 496.0 1523.9)"/><rect x="489.4" y="1522.4" width="9.6" height="6.1" fill="#24a485" stroke="#fff" stroke-width=".6" transform="rotate(52 494.2 1525.4)"/><rect x="472.4" y="1507.9" width="9.6" height="6.1" fill="#22908c" stroke="#fff" stroke-width=".6" transform="rotate(31 477.2 1510.9)"/><rect x="471.3" y="1492.3" width="9.6" height="6.1" fill="#24a485" stroke="#fff" stroke-width=".6" transform="rotate(24 476.1 1495.3)"/><rect x="488.1" y="1523.3" width="9.6" height="6.1" fill="#22908c" stroke="#fff" stroke-width=".6" transform="rotate(52 492.9 1526.4)"/><rect x="467.7" y="1526.0" width="9.6" height="6.1" fill="#35b779" stroke="#fff" stroke-width=".6" transform="rotate(38 472.5 1529.0)"/><rect x="493.1" y="1508.1" width="9.6" height="6.1" fill="#3b528a" stroke="#fff" stroke-width=".6" transform="rotate(45 497.9 1511.1)"/><rect x="504.9" y="1540.6" width="9.6" height="6.1" fill="#92d642" stroke="#fff" stroke-width=".6" transform="rotate(73 509.7 1543.6)"/><rect x="445.4" y="1480.4" width="9.6" height="6.1" fill="#297b8e" stroke="#fff" stroke-width=".6" transform="rotate(3 450.2 1483.4)"/><rect x="480.3" y="1494.9" width="9.6" height="6.1" fill="#31688e" stroke="#fff" stroke-width=".6" transform="rotate(31 485.1 1497.9)"/><rect x="486.4" y="1514.7" width="9.6" height="6.1" fill="#31688e" stroke="#fff" stroke-width=".6" transform="rotate(45 491.2 1517.8)"/><rect x="445.1" y="1484.6" width="9.6" height="6.1" fill="#22908c" stroke="#fff" stroke-width=".6" transform="rotate(3 449.9 1487.7)"/><rect x="489.3" y="1511.9" width="9.6" height="6.1" fill="#433980" stroke="#fff" stroke-width=".6" transform="rotate(45 494.1 1514.9)"/><rect x="465.8" y="1518.8" width="9.6" height="6.1" fill="#c7e02a" stroke="#fff" stroke-width=".6" transform="rotate(31 470.6 1521.8)"/><rect x="491.2" y="1496.0" width="9.6" height="6.1" fill="#433980" stroke="#fff" stroke-width=".6" transform="rotate(38 496.0 1499.0)"/><rect x="506.8" y="1520.6" width="9.6" height="6.1" fill="#3b528a" stroke="#fff" stroke-width=".6" transform="rotate(59 511.6 1523.6)"/><rect x="498.0" y="1503.1" width="9.6" height="6.1" fill="#440154" stroke="#fff" stroke-width=".6" transform="rotate(45 502.8 1506.2)"/><rect x="486.2" y="1515.0" width="9.6" height="6.1" fill="#22908c" stroke="#fff" stroke-width=".6" transform="rotate(45 491.0 1518.0)"/><rect x="485.8" y="1485.7" width="9.6" height="6.1" fill="#471e6f" stroke="#fff" stroke-width=".6" transform="rotate(31 490.6 1488.8)"/><rect x="478.1" y="1477.1" width="9.6" height="6.1" fill="#440154" stroke="#fff" stroke-width=".6" transform="rotate(24 482.9 1480.2)"/><rect x="596.0" y="1478.9" width="5.0" height="5.0" fill="#e3e427" transform="rotate(15 598.5 1481.4)"/><rect x="636.0" y="1467.5" width="4.5" height="4.5" fill="#9cd83b" transform="rotate(-15 638.3 1469.7)"/><rect x="543.4" y="1528.0" width="5.5" height="5.5" fill="#46be6f" transform="rotate(15 546.1 1530.7)"/><rect x="563.4" y="1522.2" width="5.0" height="5.0" fill="#37b878" transform="rotate(15 565.9 1524.7)"/><rect x="599.4" y="1523.3" width="5.0" height="5.0" fill="#22908c" transform="rotate(0 601.9 1525.8)"/><rect x="625.8" y="1541.8" width="4.5" height="4.5" fill="#22908c" transform="rotate(-15 628.0 1544.0)"/><rect x="575.6" y="1545.8" width="5.5" height="5.5" fill="#2a788e" transform="rotate(-15 578.4 1548.6)"/><rect x="543.1" y="1541.8" width="6.0" height="6.0" fill="#472b79" transform="rotate(30 546.1 1544.8)"/><rect x="539.1" y="1540.4" width="5.0" height="5.0" fill="#2a788e" transform="rotate(-15 541.6 1542.9)"/><rect x="559.4" y="1574.0" width="6.0" height="6.0" fill="#450c5e" transform="rotate(30 562.4 1577.0)"/><rect x="586.9" y="1577.5" width="5.0" height="5.0" fill="#3b528a" transform="rotate(15 589.4 1580.0)"/><rect x="631.2" y="1604.1" width="5.0" height="5.0" fill="#44347e" transform="rotate(15 633.7 1606.6)"/><rect x="671.9" y="1567.8" width="4.0" height="4.0" fill="#26838e" transform="rotate(25 673.9 1569.8)"/><rect x="676.9" y="1659.2" width="4.0" height="4.0" fill="#44347e" transform="rotate(15 678.9 1661.2)"/><rect x="763.8" y="1347.0" width="3.6" height="3.6" fill="#eae527" transform="rotate(0 765.6 1348.8)"/><rect x="781.0" y="1372.6" width="3.2" height="3.2" fill="#d6e228" transform="rotate(0 782.6 1374.2)"/><rect x="801.8" y="1402.5" width="3.0" height="3.0" fill="#7cd14f" transform="rotate(0 803.3 1404.0)"/><rect x="814.5" y="1440.9" width="3.0" height="3.0" fill="#46be6f" transform="rotate(0 816.0 1442.4)"/><rect x="681.6" y="1464.0" width="4.0" height="4.0" fill="#50c269" transform="rotate(15 683.6 1466.0)"/><rect x="720.6" y="1474.0" width="3.6" height="3.6" fill="#46be6f" transform="rotate(0 722.4 1475.8)"/><rect x="755.2" y="1499.5" width="3.4" height="3.4" fill="#1f9d89" transform="rotate(0 756.9 1501.2)"/><rect x="777.8" y="1538.7" width="3.2" height="3.2" fill="#248b8c" transform="rotate(0 779.4 1540.3)"/><rect x="798.1" y="1580.1" width="3.2" height="3.2" fill="#26838e" transform="rotate(0 799.7 1581.7)"/><rect x="724.1" y="1599.7" width="3.8" height="3.8" fill="#2c738e" transform="rotate(0 726.0 1601.6)"/><rect x="809.8" y="1629.1" width="3.0" height="3.0" fill="#2c738e" transform="rotate(0 811.3 1630.6)"/><rect x="749.8" y="1651.1" width="3.4" height="3.4" fill="#375a8c" transform="rotate(0 751.5 1652.8)"/><rect x="817.8" y="1680.3" width="3.0" height="3.0" fill="#3a548b" transform="rotate(0 819.3 1681.8)"/><rect x="775.2" y="1701.6" width="3.2" height="3.2" fill="#44347e" transform="rotate(0 776.8 1703.2)"/><rect x="711.7" y="1729.5" width="4.0" height="4.0" fill="#450c5e" transform="rotate(30 713.7 1731.5)"/><rect x="793.5" y="1757.5" width="3.0" height="3.0" fill="#461364" transform="rotate(0 795.0 1759.0)"/><rect x="805.5" y="1815.5" width="3.0" height="3.0" fill="#450c5e" transform="rotate(0 807.0 1817.0)"/><path d="M826.4 1292.3h2.5v2.5h-2.5zM829.4 1292.6h2.5v2.5h-2.5zM832.4 1293.6h2.5v2.5h-2.5zM835.4 1292.2h2.5v2.5h-2.5zM838.5 1292.2h2.5v2.5h-2.5zM841.5 1292.2h2.5v2.5h-2.5zM844.5 1290.7h2.5v2.5h-2.5zM847.5 1291.2h2.5v2.5h-2.5zM850.6 1290.8h2.5v2.5h-2.5zM853.6 1290.2h2.5v2.5h-2.5zM856.6 1286.8h2.5v2.5h-2.5zM859.6 1285.7h2.5v2.5h-2.5zM862.6 1283.1h2.5v2.5h-2.5zM865.7 1282.9h2.5v2.5h-2.5zM868.7 1280.3h2.5v2.5h-2.5zM871.7 1276.2h2.5v2.5h-2.5zM874.7 1277.0h2.5v2.5h-2.5zM877.8 1275.6h2.5v2.5h-2.5zM880.8 1274.1h2.5v2.5h-2.5zM883.8 1274.1h2.5v2.5h-2.5zM886.8 1273.6h2.5v2.5h-2.5zM889.8 1274.7h2.5v2.5h-2.5zM892.9 1278.2h2.5v2.5h-2.5zM895.9 1279.1h2.5v2.5h-2.5zM898.9 1281.8h2.5v2.5h-2.5zM901.9 1284.1h2.5v2.5h-2.5zM905.0 1285.4h2.5v2.5h-2.5zM908.0 1288.3h2.5v2.5h-2.5zM911.0 1289.5h2.5v2.5h-2.5zM914.0 1291.6h2.5v2.5h-2.5zM917.1 1291.3h2.5v2.5h-2.5zM920.1 1292.1h2.5v2.5h-2.5zM923.1 1292.0h2.5v2.5h-2.5zM926.1 1292.7h2.5v2.5h-2.5zM929.1 1292.2h2.5v2.5h-2.5zM932.2 1291.7h2.5v2.5h-2.5zM935.2 1293.8h2.5v2.5h-2.5zM938.2 1293.9h2.5v2.5h-2.5zM941.2 1293.4h2.5v2.5h-2.5zM944.3 1293.0h2.5v2.5h-2.5zM947.3 1291.9h2.5v2.5h-2.5zM950.3 1291.6h2.5v2.5h-2.5zM953.3 1291.8h2.5v2.5h-2.5zM956.3 1291.2h2.5v2.5h-2.5zM959.4 1273.9h2.5v2.5h-2.5zM962.4 1291.0h2.5v2.5h-2.5zM965.4 1290.0h2.5v2.5h-2.5zM968.4 1283.0h2.5v2.5h-2.5zM971.5 1291.3h2.5v2.5h-2.5zM974.5 1289.9h2.5v2.5h-2.5zM977.5 1275.7h2.5v2.5h-2.5zM980.5 1291.6h2.5v2.5h-2.5z" fill="#c7e02a"/><path d="M832.4 1341.2h2.5v2.5h-2.5zM835.4 1338.7h2.5v2.5h-2.5zM838.5 1339.2h2.5v2.5h-2.5zM841.5 1341.1h2.5v2.5h-2.5zM844.5 1339.5h2.5v2.5h-2.5zM847.5 1340.6h2.5v2.5h-2.5zM850.6 1338.3h2.5v2.5h-2.5zM853.6 1336.5h2.5v2.5h-2.5zM856.6 1337.1h2.5v2.5h-2.5zM859.6 1336.2h2.5v2.5h-2.5zM862.6 1333.3h2.5v2.5h-2.5zM865.7 1331.1h2.5v2.5h-2.5zM868.7 1330.2h2.5v2.5h-2.5zM871.7 1330.5h2.5v2.5h-2.5zM874.7 1328.7h2.5v2.5h-2.5zM877.8 1326.1h2.5v2.5h-2.5zM880.8 1326.2h2.5v2.5h-2.5zM883.8 1326.0h2.5v2.5h-2.5zM886.8 1326.7h2.5v2.5h-2.5zM889.8 1330.0h2.5v2.5h-2.5zM892.9 1329.7h2.5v2.5h-2.5zM895.9 1332.5h2.5v2.5h-2.5zM898.9 1333.8h2.5v2.5h-2.5zM901.9 1334.5h2.5v2.5h-2.5zM905.0 1337.4h2.5v2.5h-2.5zM908.0 1336.7h2.5v2.5h-2.5zM911.0 1339.0h2.5v2.5h-2.5zM914.0 1338.1h2.5v2.5h-2.5zM917.1 1339.4h2.5v2.5h-2.5zM920.1 1339.1h2.5v2.5h-2.5zM923.1 1339.4h2.5v2.5h-2.5zM926.1 1341.5h2.5v2.5h-2.5zM929.1 1341.1h2.5v2.5h-2.5zM932.2 1339.7h2.5v2.5h-2.5zM935.2 1341.4h2.5v2.5h-2.5zM938.2 1339.5h2.5v2.5h-2.5zM941.2 1340.0h2.5v2.5h-2.5zM944.3 1341.3h2.5v2.5h-2.5zM947.3 1340.7h2.5v2.5h-2.5zM950.3 1339.1h2.5v2.5h-2.5zM953.3 1341.7h2.5v2.5h-2.5zM956.3 1339.5h2.5v2.5h-2.5zM959.4 1323.3h2.5v2.5h-2.5zM962.4 1337.4h2.5v2.5h-2.5zM965.4 1338.9h2.5v2.5h-2.5zM968.4 1337.6h2.5v2.5h-2.5zM971.5 1337.5h2.5v2.5h-2.5zM974.5 1336.9h2.5v2.5h-2.5zM977.5 1322.2h2.5v2.5h-2.5zM980.5 1332.0h2.5v2.5h-2.5z" fill="#92d642"/><path d="M832.4 1385.5h2.5v2.5h-2.5zM835.4 1386.9h2.5v2.5h-2.5zM838.5 1385.9h2.5v2.5h-2.5zM841.5 1386.9h2.5v2.5h-2.5zM844.5 1386.2h2.5v2.5h-2.5zM847.5 1386.2h2.5v2.5h-2.5zM850.6 1387.5h2.5v2.5h-2.5zM853.6 1385.7h2.5v2.5h-2.5zM856.6 1385.4h2.5v2.5h-2.5zM859.6 1385.5h2.5v2.5h-2.5zM862.6 1382.5h2.5v2.5h-2.5zM865.7 1381.2h2.5v2.5h-2.5zM868.7 1382.0h2.5v2.5h-2.5zM871.7 1380.1h2.5v2.5h-2.5zM874.7 1376.9h2.5v2.5h-2.5zM877.8 1375.2h2.5v2.5h-2.5zM880.8 1375.6h2.5v2.5h-2.5zM883.8 1375.3h2.5v2.5h-2.5zM886.8 1372.8h2.5v2.5h-2.5zM889.8 1375.2h2.5v2.5h-2.5zM892.9 1375.7h2.5v2.5h-2.5zM895.9 1376.0h2.5v2.5h-2.5zM898.9 1376.9h2.5v2.5h-2.5zM901.9 1377.5h2.5v2.5h-2.5zM905.0 1378.9h2.5v2.5h-2.5zM908.0 1383.1h2.5v2.5h-2.5zM911.0 1382.3h2.5v2.5h-2.5zM914.0 1384.7h2.5v2.5h-2.5zM917.1 1384.3h2.5v2.5h-2.5zM920.1 1386.5h2.5v2.5h-2.5zM923.1 1386.3h2.5v2.5h-2.5zM926.1 1385.7h2.5v2.5h-2.5zM929.1 1385.5h2.5v2.5h-2.5zM932.2 1387.2h2.5v2.5h-2.5zM935.2 1385.4h2.5v2.5h-2.5zM938.2 1385.9h2.5v2.5h-2.5zM941.2 1386.9h2.5v2.5h-2.5zM944.3 1387.8h2.5v2.5h-2.5zM947.3 1387.1h2.5v2.5h-2.5zM950.3 1386.1h2.5v2.5h-2.5zM953.3 1387.9h2.5v2.5h-2.5zM956.3 1385.9h2.5v2.5h-2.5zM959.4 1371.9h2.5v2.5h-2.5zM962.4 1383.2h2.5v2.5h-2.5zM965.4 1383.9h2.5v2.5h-2.5zM968.4 1384.4h2.5v2.5h-2.5zM971.5 1383.3h2.5v2.5h-2.5zM974.5 1383.6h2.5v2.5h-2.5zM977.5 1374.0h2.5v2.5h-2.5zM980.5 1376.6h2.5v2.5h-2.5z" fill="#60c860"/><path d="M832.4 1438.9h2.5v2.5h-2.5zM835.4 1439.4h2.5v2.5h-2.5zM838.5 1437.9h2.5v2.5h-2.5zM841.5 1438.4h2.5v2.5h-2.5zM844.5 1439.5h2.5v2.5h-2.5zM847.5 1439.2h2.5v2.5h-2.5zM850.6 1437.5h2.5v2.5h-2.5zM853.6 1436.5h2.5v2.5h-2.5zM856.6 1434.7h2.5v2.5h-2.5zM859.6 1431.7h2.5v2.5h-2.5zM862.6 1429.4h2.5v2.5h-2.5zM865.7 1427.1h2.5v2.5h-2.5zM868.7 1427.5h2.5v2.5h-2.5zM871.7 1424.9h2.5v2.5h-2.5zM874.7 1424.0h2.5v2.5h-2.5zM877.8 1420.2h2.5v2.5h-2.5zM880.8 1421.6h2.5v2.5h-2.5zM883.8 1421.5h2.5v2.5h-2.5zM886.8 1423.3h2.5v2.5h-2.5zM889.8 1423.7h2.5v2.5h-2.5zM892.9 1427.7h2.5v2.5h-2.5zM895.9 1427.3h2.5v2.5h-2.5zM898.9 1430.8h2.5v2.5h-2.5zM901.9 1433.4h2.5v2.5h-2.5zM905.0 1435.7h2.5v2.5h-2.5zM908.0 1436.6h2.5v2.5h-2.5zM911.0 1437.6h2.5v2.5h-2.5zM914.0 1438.7h2.5v2.5h-2.5zM917.1 1439.6h2.5v2.5h-2.5zM920.1 1438.3h2.5v2.5h-2.5zM923.1 1439.6h2.5v2.5h-2.5zM926.1 1440.3h2.5v2.5h-2.5zM929.1 1440.3h2.5v2.5h-2.5zM932.2 1439.0h2.5v2.5h-2.5zM935.2 1440.2h2.5v2.5h-2.5zM938.2 1440.4h2.5v2.5h-2.5zM941.2 1439.5h2.5v2.5h-2.5zM944.3 1439.7h2.5v2.5h-2.5zM947.3 1439.0h2.5v2.5h-2.5zM950.3 1439.6h2.5v2.5h-2.5zM953.3 1439.6h2.5v2.5h-2.5zM956.3 1438.1h2.5v2.5h-2.5zM959.4 1429.2h2.5v2.5h-2.5zM962.4 1437.6h2.5v2.5h-2.5zM965.4 1438.6h2.5v2.5h-2.5zM968.4 1438.3h2.5v2.5h-2.5zM971.5 1437.8h2.5v2.5h-2.5zM974.5 1436.8h2.5v2.5h-2.5zM977.5 1429.9h2.5v2.5h-2.5zM980.5 1429.2h2.5v2.5h-2.5z" fill="#35b779"/><path d="M832.4 1488.5h2.5v2.5h-2.5zM835.4 1488.0h2.5v2.5h-2.5zM838.5 1487.5h2.5v2.5h-2.5zM841.5 1488.4h2.5v2.5h-2.5zM844.5 1485.8h2.5v2.5h-2.5zM847.5 1487.2h2.5v2.5h-2.5zM850.6 1484.3h2.5v2.5h-2.5zM853.6 1484.9h2.5v2.5h-2.5zM856.6 1483.1h2.5v2.5h-2.5zM859.6 1480.7h2.5v2.5h-2.5zM862.6 1480.1h2.5v2.5h-2.5zM865.7 1477.3h2.5v2.5h-2.5zM868.7 1475.5h2.5v2.5h-2.5zM871.7 1474.4h2.5v2.5h-2.5zM874.7 1470.9h2.5v2.5h-2.5zM877.8 1469.1h2.5v2.5h-2.5zM880.8 1469.6h2.5v2.5h-2.5zM883.8 1471.0h2.5v2.5h-2.5zM886.8 1470.7h2.5v2.5h-2.5zM889.8 1472.2h2.5v2.5h-2.5zM892.9 1476.3h2.5v2.5h-2.5zM895.9 1477.8h2.5v2.5h-2.5zM898.9 1479.3h2.5v2.5h-2.5zM901.9 1482.6h2.5v2.5h-2.5zM905.0 1482.7h2.5v2.5h-2.5zM908.0 1485.1h2.5v2.5h-2.5zM911.0 1484.8h2.5v2.5h-2.5zM914.0 1486.3h2.5v2.5h-2.5zM917.1 1487.9h2.5v2.5h-2.5zM920.1 1488.6h2.5v2.5h-2.5zM923.1 1488.7h2.5v2.5h-2.5zM926.1 1487.4h2.5v2.5h-2.5zM929.1 1488.1h2.5v2.5h-2.5zM932.2 1487.4h2.5v2.5h-2.5zM935.2 1486.9h2.5v2.5h-2.5zM938.2 1487.9h2.5v2.5h-2.5zM941.2 1488.9h2.5v2.5h-2.5zM944.3 1488.9h2.5v2.5h-2.5zM947.3 1488.5h2.5v2.5h-2.5zM950.3 1489.2h2.5v2.5h-2.5zM953.3 1487.3h2.5v2.5h-2.5zM956.3 1487.0h2.5v2.5h-2.5zM959.4 1487.8h2.5v2.5h-2.5zM962.4 1473.8h2.5v2.5h-2.5zM965.4 1485.1h2.5v2.5h-2.5zM968.4 1484.9h2.5v2.5h-2.5zM971.5 1485.5h2.5v2.5h-2.5zM974.5 1486.1h2.5v2.5h-2.5zM977.5 1478.9h2.5v2.5h-2.5zM980.5 1472.0h2.5v2.5h-2.5z" fill="#24a485"/><path d="M826.4 1538.0h2.5v2.5h-2.5zM829.4 1537.4h2.5v2.5h-2.5zM832.4 1539.0h2.5v2.5h-2.5zM835.4 1539.4h2.5v2.5h-2.5zM838.5 1537.8h2.5v2.5h-2.5zM841.5 1536.7h2.5v2.5h-2.5zM844.5 1536.5h2.5v2.5h-2.5zM847.5 1538.8h2.5v2.5h-2.5zM850.6 1536.3h2.5v2.5h-2.5zM853.6 1537.9h2.5v2.5h-2.5zM856.6 1537.1h2.5v2.5h-2.5zM859.6 1535.8h2.5v2.5h-2.5zM862.6 1536.5h2.5v2.5h-2.5zM865.7 1533.2h2.5v2.5h-2.5zM868.7 1532.4h2.5v2.5h-2.5zM871.7 1532.0h2.5v2.5h-2.5zM874.7 1529.3h2.5v2.5h-2.5zM877.8 1530.3h2.5v2.5h-2.5zM880.8 1527.3h2.5v2.5h-2.5zM883.8 1526.1h2.5v2.5h-2.5zM886.8 1525.2h2.5v2.5h-2.5zM889.8 1526.8h2.5v2.5h-2.5zM892.9 1526.6h2.5v2.5h-2.5zM895.9 1527.9h2.5v2.5h-2.5zM898.9 1529.1h2.5v2.5h-2.5zM901.9 1530.9h2.5v2.5h-2.5zM905.0 1532.7h2.5v2.5h-2.5zM908.0 1533.3h2.5v2.5h-2.5zM911.0 1533.2h2.5v2.5h-2.5zM914.0 1535.1h2.5v2.5h-2.5zM917.1 1535.1h2.5v2.5h-2.5zM920.1 1535.2h2.5v2.5h-2.5zM923.1 1537.1h2.5v2.5h-2.5zM926.1 1538.1h2.5v2.5h-2.5zM929.1 1536.7h2.5v2.5h-2.5zM932.2 1537.2h2.5v2.5h-2.5zM935.2 1537.4h2.5v2.5h-2.5zM938.2 1538.5h2.5v2.5h-2.5zM941.2 1538.0h2.5v2.5h-2.5zM944.3 1538.3h2.5v2.5h-2.5zM947.3 1538.7h2.5v2.5h-2.5zM950.3 1537.7h2.5v2.5h-2.5zM953.3 1538.8h2.5v2.5h-2.5zM956.3 1539.2h2.5v2.5h-2.5zM959.4 1536.8h2.5v2.5h-2.5zM962.4 1527.1h2.5v2.5h-2.5zM965.4 1537.1h2.5v2.5h-2.5zM968.4 1536.5h2.5v2.5h-2.5zM971.5 1534.7h2.5v2.5h-2.5zM974.5 1535.7h2.5v2.5h-2.5zM977.5 1529.6h2.5v2.5h-2.5zM980.5 1519.9h2.5v2.5h-2.5z" fill="#22908c"/><path d="M829.4 1586.2h2.5v2.5h-2.5zM832.4 1587.0h2.5v2.5h-2.5zM835.4 1585.4h2.5v2.5h-2.5zM838.5 1585.8h2.5v2.5h-2.5zM841.5 1586.5h2.5v2.5h-2.5zM844.5 1585.9h2.5v2.5h-2.5zM847.5 1585.8h2.5v2.5h-2.5zM850.6 1583.7h2.5v2.5h-2.5zM853.6 1583.2h2.5v2.5h-2.5zM856.6 1580.7h2.5v2.5h-2.5zM859.6 1580.6h2.5v2.5h-2.5zM862.6 1579.0h2.5v2.5h-2.5zM865.7 1576.5h2.5v2.5h-2.5zM868.7 1574.8h2.5v2.5h-2.5zM871.7 1571.5h2.5v2.5h-2.5zM874.7 1572.0h2.5v2.5h-2.5zM877.8 1571.3h2.5v2.5h-2.5zM880.8 1570.9h2.5v2.5h-2.5zM883.8 1570.0h2.5v2.5h-2.5zM886.8 1571.7h2.5v2.5h-2.5zM889.8 1571.8h2.5v2.5h-2.5zM892.9 1575.3h2.5v2.5h-2.5zM895.9 1577.2h2.5v2.5h-2.5zM898.9 1577.7h2.5v2.5h-2.5zM901.9 1578.7h2.5v2.5h-2.5zM905.0 1581.3h2.5v2.5h-2.5zM908.0 1582.9h2.5v2.5h-2.5zM911.0 1584.6h2.5v2.5h-2.5zM914.0 1584.5h2.5v2.5h-2.5zM917.1 1583.7h2.5v2.5h-2.5zM920.1 1586.3h2.5v2.5h-2.5zM923.1 1584.3h2.5v2.5h-2.5zM926.1 1586.6h2.5v2.5h-2.5zM929.1 1584.8h2.5v2.5h-2.5zM932.2 1585.3h2.5v2.5h-2.5zM935.2 1586.7h2.5v2.5h-2.5zM938.2 1584.8h2.5v2.5h-2.5zM941.2 1584.8h2.5v2.5h-2.5zM944.3 1585.9h2.5v2.5h-2.5zM947.3 1586.5h2.5v2.5h-2.5zM950.3 1586.9h2.5v2.5h-2.5zM953.3 1586.4h2.5v2.5h-2.5zM956.3 1587.2h2.5v2.5h-2.5zM959.4 1585.8h2.5v2.5h-2.5zM962.4 1575.3h2.5v2.5h-2.5zM965.4 1585.0h2.5v2.5h-2.5zM968.4 1582.5h2.5v2.5h-2.5zM971.5 1582.9h2.5v2.5h-2.5zM974.5 1583.8h2.5v2.5h-2.5zM977.5 1578.6h2.5v2.5h-2.5zM980.5 1568.8h2.5v2.5h-2.5z" fill="#297b8e"/><path d="M829.4 1632.4h2.5v2.5h-2.5zM832.4 1633.7h2.5v2.5h-2.5zM835.4 1633.4h2.5v2.5h-2.5zM838.5 1633.0h2.5v2.5h-2.5zM841.5 1633.9h2.5v2.5h-2.5zM844.5 1633.0h2.5v2.5h-2.5zM847.5 1632.2h2.5v2.5h-2.5zM850.6 1632.2h2.5v2.5h-2.5zM853.6 1633.2h2.5v2.5h-2.5zM856.6 1632.9h2.5v2.5h-2.5zM859.6 1630.3h2.5v2.5h-2.5zM862.6 1631.4h2.5v2.5h-2.5zM865.7 1630.7h2.5v2.5h-2.5zM868.7 1628.3h2.5v2.5h-2.5zM871.7 1627.2h2.5v2.5h-2.5zM874.7 1624.8h2.5v2.5h-2.5zM877.8 1624.6h2.5v2.5h-2.5zM880.8 1623.5h2.5v2.5h-2.5zM883.8 1623.1h2.5v2.5h-2.5zM886.8 1621.1h2.5v2.5h-2.5zM889.8 1624.0h2.5v2.5h-2.5zM892.9 1623.3h2.5v2.5h-2.5zM895.9 1623.8h2.5v2.5h-2.5zM898.9 1626.1h2.5v2.5h-2.5zM901.9 1626.7h2.5v2.5h-2.5zM905.0 1627.8h2.5v2.5h-2.5zM908.0 1629.6h2.5v2.5h-2.5zM911.0 1628.8h2.5v2.5h-2.5zM914.0 1631.0h2.5v2.5h-2.5zM917.1 1631.3h2.5v2.5h-2.5zM920.1 1633.4h2.5v2.5h-2.5zM923.1 1633.7h2.5v2.5h-2.5zM926.1 1632.0h2.5v2.5h-2.5zM929.1 1632.7h2.5v2.5h-2.5zM932.2 1631.8h2.5v2.5h-2.5zM935.2 1632.8h2.5v2.5h-2.5zM938.2 1633.9h2.5v2.5h-2.5zM941.2 1634.2h2.5v2.5h-2.5zM944.3 1632.9h2.5v2.5h-2.5zM947.3 1632.5h2.5v2.5h-2.5zM950.3 1632.1h2.5v2.5h-2.5zM953.3 1633.4h2.5v2.5h-2.5zM956.3 1634.3h2.5v2.5h-2.5zM959.4 1631.9h2.5v2.5h-2.5zM962.4 1620.3h2.5v2.5h-2.5zM965.4 1631.7h2.5v2.5h-2.5zM968.4 1629.5h2.5v2.5h-2.5zM971.5 1630.0h2.5v2.5h-2.5zM974.5 1630.1h2.5v2.5h-2.5zM977.5 1627.6h2.5v2.5h-2.5zM980.5 1618.9h2.5v2.5h-2.5z" fill="#31688e"/><path d="M829.4 1685.4h2.5v2.5h-2.5zM832.4 1684.3h2.5v2.5h-2.5zM835.4 1684.4h2.5v2.5h-2.5zM838.5 1685.1h2.5v2.5h-2.5zM841.5 1683.5h2.5v2.5h-2.5zM844.5 1685.1h2.5v2.5h-2.5zM847.5 1683.1h2.5v2.5h-2.5zM850.6 1683.8h2.5v2.5h-2.5zM853.6 1682.4h2.5v2.5h-2.5zM856.6 1681.3h2.5v2.5h-2.5zM859.6 1681.1h2.5v2.5h-2.5zM862.6 1679.3h2.5v2.5h-2.5zM865.7 1677.4h2.5v2.5h-2.5zM868.7 1675.5h2.5v2.5h-2.5zM871.7 1673.9h2.5v2.5h-2.5zM874.7 1670.9h2.5v2.5h-2.5zM877.8 1669.4h2.5v2.5h-2.5zM880.8 1669.5h2.5v2.5h-2.5zM883.8 1669.0h2.5v2.5h-2.5zM886.8 1668.8h2.5v2.5h-2.5zM889.8 1670.5h2.5v2.5h-2.5zM892.9 1671.1h2.5v2.5h-2.5zM895.9 1673.6h2.5v2.5h-2.5zM898.9 1673.7h2.5v2.5h-2.5zM901.9 1677.2h2.5v2.5h-2.5zM905.0 1679.3h2.5v2.5h-2.5zM908.0 1681.2h2.5v2.5h-2.5zM911.0 1680.9h2.5v2.5h-2.5zM914.0 1682.0h2.5v2.5h-2.5zM917.1 1684.6h2.5v2.5h-2.5zM920.1 1683.1h2.5v2.5h-2.5zM923.1 1685.7h2.5v2.5h-2.5zM926.1 1685.7h2.5v2.5h-2.5zM929.1 1683.6h2.5v2.5h-2.5zM932.2 1684.0h2.5v2.5h-2.5zM935.2 1685.5h2.5v2.5h-2.5zM938.2 1684.2h2.5v2.5h-2.5zM941.2 1683.7h2.5v2.5h-2.5zM944.3 1685.8h2.5v2.5h-2.5zM947.3 1684.7h2.5v2.5h-2.5zM950.3 1685.7h2.5v2.5h-2.5zM953.3 1683.8h2.5v2.5h-2.5zM956.3 1684.6h2.5v2.5h-2.5zM959.4 1685.4h2.5v2.5h-2.5zM962.4 1675.1h2.5v2.5h-2.5zM965.4 1681.3h2.5v2.5h-2.5zM968.4 1681.8h2.5v2.5h-2.5zM971.5 1683.2h2.5v2.5h-2.5zM974.5 1683.9h2.5v2.5h-2.5zM977.5 1680.5h2.5v2.5h-2.5zM980.5 1677.6h2.5v2.5h-2.5z" fill="#3b528a"/><path d="M826.4 1734.1h2.5v2.5h-2.5zM829.4 1731.6h2.5v2.5h-2.5zM832.4 1732.7h2.5v2.5h-2.5zM835.4 1733.4h2.5v2.5h-2.5zM838.5 1732.6h2.5v2.5h-2.5zM841.5 1732.9h2.5v2.5h-2.5zM844.5 1731.2h2.5v2.5h-2.5zM847.5 1730.5h2.5v2.5h-2.5zM850.6 1730.0h2.5v2.5h-2.5zM853.6 1729.0h2.5v2.5h-2.5zM856.6 1729.5h2.5v2.5h-2.5zM859.6 1728.1h2.5v2.5h-2.5zM862.6 1726.7h2.5v2.5h-2.5zM865.7 1723.7h2.5v2.5h-2.5zM868.7 1722.1h2.5v2.5h-2.5zM871.7 1720.4h2.5v2.5h-2.5zM874.7 1720.8h2.5v2.5h-2.5zM877.8 1720.2h2.5v2.5h-2.5zM880.8 1719.5h2.5v2.5h-2.5zM883.8 1717.2h2.5v2.5h-2.5zM886.8 1717.8h2.5v2.5h-2.5zM889.8 1721.5h2.5v2.5h-2.5zM892.9 1721.6h2.5v2.5h-2.5zM895.9 1724.2h2.5v2.5h-2.5zM898.9 1724.7h2.5v2.5h-2.5zM901.9 1726.8h2.5v2.5h-2.5zM905.0 1728.5h2.5v2.5h-2.5zM908.0 1729.5h2.5v2.5h-2.5zM911.0 1730.9h2.5v2.5h-2.5zM914.0 1730.0h2.5v2.5h-2.5zM917.1 1732.5h2.5v2.5h-2.5zM920.1 1733.2h2.5v2.5h-2.5zM923.1 1731.5h2.5v2.5h-2.5zM926.1 1732.5h2.5v2.5h-2.5zM929.1 1733.4h2.5v2.5h-2.5zM932.2 1732.4h2.5v2.5h-2.5zM935.2 1731.9h2.5v2.5h-2.5zM938.2 1731.8h2.5v2.5h-2.5zM941.2 1732.8h2.5v2.5h-2.5zM944.3 1731.4h2.5v2.5h-2.5zM947.3 1733.9h2.5v2.5h-2.5zM950.3 1733.6h2.5v2.5h-2.5zM953.3 1733.4h2.5v2.5h-2.5zM956.3 1733.8h2.5v2.5h-2.5zM959.4 1733.1h2.5v2.5h-2.5zM962.4 1730.3h2.5v2.5h-2.5zM965.4 1730.9h2.5v2.5h-2.5zM968.4 1723.0h2.5v2.5h-2.5zM971.5 1730.6h2.5v2.5h-2.5zM974.5 1732.0h2.5v2.5h-2.5zM977.5 1728.4h2.5v2.5h-2.5zM980.5 1727.3h2.5v2.5h-2.5z" fill="#433980"/><path d="M826.4 1782.6h2.5v2.5h-2.5zM829.4 1781.0h2.5v2.5h-2.5zM832.4 1782.9h2.5v2.5h-2.5zM835.4 1782.4h2.5v2.5h-2.5zM838.5 1782.5h2.5v2.5h-2.5zM841.5 1782.5h2.5v2.5h-2.5zM844.5 1781.2h2.5v2.5h-2.5zM847.5 1782.5h2.5v2.5h-2.5zM850.6 1782.2h2.5v2.5h-2.5zM853.6 1781.2h2.5v2.5h-2.5zM856.6 1780.9h2.5v2.5h-2.5zM859.6 1780.1h2.5v2.5h-2.5zM862.6 1778.0h2.5v2.5h-2.5zM865.7 1777.6h2.5v2.5h-2.5zM868.7 1774.2h2.5v2.5h-2.5zM871.7 1773.3h2.5v2.5h-2.5zM874.7 1772.0h2.5v2.5h-2.5zM877.8 1769.1h2.5v2.5h-2.5zM880.8 1768.8h2.5v2.5h-2.5zM883.8 1768.7h2.5v2.5h-2.5zM886.8 1768.3h2.5v2.5h-2.5zM889.8 1767.4h2.5v2.5h-2.5zM892.9 1770.2h2.5v2.5h-2.5zM895.9 1770.5h2.5v2.5h-2.5zM898.9 1771.1h2.5v2.5h-2.5zM901.9 1773.7h2.5v2.5h-2.5zM905.0 1775.1h2.5v2.5h-2.5zM908.0 1776.6h2.5v2.5h-2.5zM911.0 1777.5h2.5v2.5h-2.5zM914.0 1780.4h2.5v2.5h-2.5zM917.1 1780.3h2.5v2.5h-2.5zM920.1 1781.1h2.5v2.5h-2.5zM923.1 1781.7h2.5v2.5h-2.5zM926.1 1782.7h2.5v2.5h-2.5zM929.1 1780.1h2.5v2.5h-2.5zM932.2 1781.9h2.5v2.5h-2.5zM935.2 1782.3h2.5v2.5h-2.5zM938.2 1781.0h2.5v2.5h-2.5zM941.2 1781.4h2.5v2.5h-2.5zM944.3 1780.4h2.5v2.5h-2.5zM947.3 1780.8h2.5v2.5h-2.5zM950.3 1781.4h2.5v2.5h-2.5zM953.3 1780.6h2.5v2.5h-2.5zM956.3 1781.0h2.5v2.5h-2.5zM959.4 1782.9h2.5v2.5h-2.5zM962.4 1779.7h2.5v2.5h-2.5zM965.4 1779.6h2.5v2.5h-2.5zM968.4 1772.7h2.5v2.5h-2.5zM971.5 1780.9h2.5v2.5h-2.5zM974.5 1779.8h2.5v2.5h-2.5zM977.5 1779.2h2.5v2.5h-2.5zM980.5 1776.3h2.5v2.5h-2.5z" fill="#471e6f"/><path d="M826.4 1832.5h2.5v2.5h-2.5zM829.4 1831.4h2.5v2.5h-2.5zM832.4 1831.9h2.5v2.5h-2.5zM835.4 1829.7h2.5v2.5h-2.5zM838.5 1831.2h2.5v2.5h-2.5zM841.5 1831.5h2.5v2.5h-2.5zM844.5 1829.2h2.5v2.5h-2.5zM847.5 1831.4h2.5v2.5h-2.5zM850.6 1828.6h2.5v2.5h-2.5zM853.6 1828.8h2.5v2.5h-2.5zM856.6 1827.0h2.5v2.5h-2.5zM859.6 1826.8h2.5v2.5h-2.5zM862.6 1825.7h2.5v2.5h-2.5zM865.7 1822.6h2.5v2.5h-2.5zM868.7 1823.5h2.5v2.5h-2.5zM871.7 1820.5h2.5v2.5h-2.5zM874.7 1819.5h2.5v2.5h-2.5zM877.8 1818.8h2.5v2.5h-2.5zM880.8 1817.6h2.5v2.5h-2.5zM883.8 1817.5h2.5v2.5h-2.5zM886.8 1819.2h2.5v2.5h-2.5zM889.8 1819.9h2.5v2.5h-2.5zM892.9 1820.5h2.5v2.5h-2.5zM895.9 1823.3h2.5v2.5h-2.5zM898.9 1823.7h2.5v2.5h-2.5zM901.9 1824.4h2.5v2.5h-2.5zM905.0 1826.4h2.5v2.5h-2.5zM908.0 1826.9h2.5v2.5h-2.5zM911.0 1828.1h2.5v2.5h-2.5zM914.0 1830.5h2.5v2.5h-2.5zM917.1 1829.9h2.5v2.5h-2.5zM920.1 1831.7h2.5v2.5h-2.5zM923.1 1831.5h2.5v2.5h-2.5zM926.1 1829.6h2.5v2.5h-2.5zM929.1 1832.4h2.5v2.5h-2.5zM932.2 1832.3h2.5v2.5h-2.5zM935.2 1829.8h2.5v2.5h-2.5zM938.2 1832.2h2.5v2.5h-2.5zM941.2 1830.9h2.5v2.5h-2.5zM944.3 1831.0h2.5v2.5h-2.5zM947.3 1832.4h2.5v2.5h-2.5zM950.3 1830.3h2.5v2.5h-2.5zM953.3 1831.1h2.5v2.5h-2.5zM956.3 1832.3h2.5v2.5h-2.5zM959.4 1831.7h2.5v2.5h-2.5zM962.4 1828.8h2.5v2.5h-2.5zM965.4 1830.3h2.5v2.5h-2.5zM968.4 1821.6h2.5v2.5h-2.5zM971.5 1829.8h2.5v2.5h-2.5zM974.5 1829.2h2.5v2.5h-2.5zM977.5 1827.1h2.5v2.5h-2.5zM980.5 1823.8h2.5v2.5h-2.5z" fill="#440154"/><circle cx="791.9" cy="2160.8" r="40.0" fill="none" stroke="#d6d6d6" stroke-width="1.2" stroke-dasharray="3 6.5"/><circle cx="791.9" cy="2160.8" r="79.0" fill="none" stroke="#d6d6d6" stroke-width="1.2" stroke-dasharray="3 6.5"/><circle cx="791.9" cy="2160.8" r="119.0" fill="none" stroke="#d6d6d6" stroke-width="1.2" stroke-dasharray="3 6.5"/><circle cx="791.9" cy="2160.8" r="159.0" fill="none" stroke="#d6d6d6" stroke-width="1.2" stroke-dasharray="3 6.5"/><path d="M795.7 1993.3A167.5 167.5 0 0 1 872.3 2013.9" fill="none" stroke="#d4d4d4" stroke-width="1.8"/><path d="M878.9 2017.7A167.5 167.5 0 0 1 935.0 2073.8" fill="none" stroke="#d4d4d4" stroke-width="1.8"/><path d="M938.8 2080.4A167.5 167.5 0 0 1 959.4 2157.0" fill="none" stroke="#d4d4d4" stroke-width="1.8"/><path d="M959.4 2164.6A167.5 167.5 0 0 1 938.8 2241.2" fill="none" stroke="#d4d4d4" stroke-width="1.8"/><path d="M935.0 2247.8A167.5 167.5 0 0 1 878.9 2303.9" fill="none" stroke="#d4d4d4" stroke-width="1.8"/><path d="M872.3 2307.7A167.5 167.5 0 0 1 795.7 2328.3" fill="none" stroke="#d4d4d4" stroke-width="1.8"/><path d="M788.1 2328.3A167.5 167.5 0 0 1 711.5 2307.7" fill="none" stroke="#d4d4d4" stroke-width="1.8"/><path d="M704.9 2303.9A167.5 167.5 0 0 1 648.8 2247.8" fill="none" stroke="#d4d4d4" stroke-width="1.8"/><path d="M645.0 2241.2A167.5 167.5 0 0 1 624.4 2164.6" fill="none" stroke="#d4d4d4" stroke-width="1.8"/><path d="M624.4 2157.0A167.5 167.5 0 0 1 645.0 2080.4" fill="none" stroke="#d4d4d4" stroke-width="1.8"/><path d="M648.8 2073.8A167.5 167.5 0 0 1 704.9 2017.7" fill="none" stroke="#d4d4d4" stroke-width="1.8"/><path d="M711.5 2013.9A167.5 167.5 0 0 1 788.1 1993.3" fill="none" stroke="#d4d4d4" stroke-width="1.8"/><text x="832.3" y="1980.3" transform="rotate(12.6 832.3 1980.3)" text-anchor="middle" dominant-baseline="central" font-size="14.5" letter-spacing="1.1" fill="#8a8a8a">JAN</text><text x="917.1" y="2024.6" transform="rotate(42.6 917.1 2024.6)" text-anchor="middle" dominant-baseline="central" font-size="14.5" letter-spacing="1.1" fill="#8a8a8a">FEB</text><text x="972.4" y="2201.2" transform="rotate(-77.4 972.4 2201.2)" text-anchor="middle" dominant-baseline="central" font-size="14.5" letter-spacing="1.1" fill="#8a8a8a">APR</text><text x="928.1" y="2286.0" transform="rotate(-47.4 928.1 2286.0)" text-anchor="middle" dominant-baseline="central" font-size="14.5" letter-spacing="1.1" fill="#8a8a8a">MAY</text><text x="847.2" y="2337.3" transform="rotate(-17.4 847.2 2337.3)" text-anchor="middle" dominant-baseline="central" font-size="14.5" letter-spacing="1.1" fill="#8a8a8a">JUN</text><text x="751.5" y="2341.3" transform="rotate(12.6 751.5 2341.3)" text-anchor="middle" dominant-baseline="central" font-size="14.5" letter-spacing="1.1" fill="#8a8a8a">JUL</text><text x="666.7" y="2297.0" transform="rotate(42.6 666.7 2297.0)" text-anchor="middle" dominant-baseline="central" font-size="14.5" letter-spacing="1.1" fill="#8a8a8a">AUG</text><text x="615.4" y="2216.1" transform="rotate(72.6 615.4 2216.1)" text-anchor="middle" dominant-baseline="central" font-size="14.5" letter-spacing="1.1" fill="#8a8a8a">SEP</text><text x="611.4" y="2120.4" transform="rotate(282.6 611.4 2120.4)" text-anchor="middle" dominant-baseline="central" font-size="14.5" letter-spacing="1.1" fill="#8a8a8a">OCT</text><text x="655.7" y="2035.6" transform="rotate(312.6 655.7 2035.6)" text-anchor="middle" dominant-baseline="central" font-size="14.5" letter-spacing="1.1" fill="#8a8a8a">NOV</text><text x="736.6" y="1984.3" transform="rotate(342.6 736.6 1984.3)" text-anchor="middle" dominant-baseline="central" font-size="14.5" letter-spacing="1.1" fill="#8a8a8a">DEC</text><use href="#apT"/><circle cx="791.9" cy="2160.8" r="5.2" fill="#999"/><path d="M799.5 2155.9L856.6 2110.7M853.6 2106.9L859.6 2114.5" stroke="#1fc16b" stroke-width="2.6" fill="none"/><circle cx="736.2" cy="2029.1" r="64.3" fill="#fff" filter="url(#sh)"/><g clip-path="url(#mc0)"><circle cx="791.9" cy="2160.8" r="40.0" fill="none" stroke="#d6d6d6" stroke-width="1.2" stroke-dasharray="3 6.5"/><circle cx="791.9" cy="2160.8" r="79.0" fill="none" stroke="#d6d6d6" stroke-width="1.2" stroke-dasharray="3 6.5"/><circle cx="791.9" cy="2160.8" r="119.0" fill="none" stroke="#d6d6d6" stroke-width="1.2" stroke-dasharray="3 6.5"/><circle cx="791.9" cy="2160.8" r="159.0" fill="none" stroke="#d6d6d6" stroke-width="1.2" stroke-dasharray="3 6.5"/><path d="M795.7 1993.3A167.5 167.5 0 0 1 872.3 2013.9" fill="none" stroke="#d4d4d4" stroke-width="1.8"/><path d="M878.9 2017.7A167.5 167.5 0 0 1 935.0 2073.8" fill="none" stroke="#d4d4d4" stroke-width="1.8"/><path d="M938.8 2080.4A167.5 167.5 0 0 1 959.4 2157.0" fill="none" stroke="#d4d4d4" stroke-width="1.8"/><path d="M959.4 2164.6A167.5 167.5 0 0 1 938.8 2241.2" fill="none" stroke="#d4d4d4" stroke-width="1.8"/><path d="M935.0 2247.8A167.5 167.5 0 0 1 878.9 2303.9" fill="none" stroke="#d4d4d4" stroke-width="1.8"/><path d="M872.3 2307.7A167.5 167.5 0 0 1 795.7 2328.3" fill="none" stroke="#d4d4d4" stroke-width="1.8"/><path d="M788.1 2328.3A167.5 167.5 0 0 1 711.5 2307.7" fill="none" stroke="#d4d4d4" stroke-width="1.8"/><path d="M704.9 2303.9A167.5 167.5 0 0 1 648.8 2247.8" fill="none" stroke="#d4d4d4" stroke-width="1.8"/><path d="M645.0 2241.2A167.5 167.5 0 0 1 624.4 2164.6" fill="none" stroke="#d4d4d4" stroke-width="1.8"/><path d="M624.4 2157.0A167.5 167.5 0 0 1 645.0 2080.4" fill="none" stroke="#d4d4d4" stroke-width="1.8"/><path d="M648.8 2073.8A167.5 167.5 0 0 1 704.9 2017.7" fill="none" stroke="#d4d4d4" stroke-width="1.8"/><path d="M711.5 2013.9A167.5 167.5 0 0 1 788.1 1993.3" fill="none" stroke="#d4d4d4" stroke-width="1.8"/><text x="738.5" y="1990.5" transform="rotate(342.6 738.5 1990.5)" text-anchor="middle" dominant-baseline="central" font-size="14.5" letter-spacing="1.1" fill="#8a8a8a">DEC</text><use href="#apT"/></g><circle cx="736.2" cy="2029.1" r="64.3" fill="url(#fade)"/><circle cx="810.9" cy="2298.8" r="63.7" fill="#fff" filter="url(#sh)"/><g clip-path="url(#mc1)"><circle cx="791.9" cy="2160.8" r="40.0" fill="none" stroke="#d6d6d6" stroke-width="1.2" stroke-dasharray="3 6.5"/><circle cx="791.9" cy="2160.8" r="79.0" fill="none" stroke="#d6d6d6" stroke-width="1.2" stroke-dasharray="3 6.5"/><circle cx="791.9" cy="2160.8" r="119.0" fill="none" stroke="#d6d6d6" stroke-width="1.2" stroke-dasharray="3 6.5"/><circle cx="791.9" cy="2160.8" r="159.0" fill="none" stroke="#d6d6d6" stroke-width="1.2" stroke-dasharray="3 6.5"/><path d="M795.7 1993.3A167.5 167.5 0 0 1 872.3 2013.9" fill="none" stroke="#d4d4d4" stroke-width="1.8"/><path d="M878.9 2017.7A167.5 167.5 0 0 1 935.0 2073.8" fill="none" stroke="#d4d4d4" stroke-width="1.8"/><path d="M938.8 2080.4A167.5 167.5 0 0 1 959.4 2157.0" fill="none" stroke="#d4d4d4" stroke-width="1.8"/><path d="M959.4 2164.6A167.5 167.5 0 0 1 938.8 2241.2" fill="none" stroke="#d4d4d4" stroke-width="1.8"/><path d="M935.0 2247.8A167.5 167.5 0 0 1 878.9 2303.9" fill="none" stroke="#d4d4d4" stroke-width="1.8"/><path d="M872.3 2307.7A167.5 167.5 0 0 1 795.7 2328.3" fill="none" stroke="#d4d4d4" stroke-width="1.8"/><path d="M788.1 2328.3A167.5 167.5 0 0 1 711.5 2307.7" fill="none" stroke="#d4d4d4" stroke-width="1.8"/><path d="M704.9 2303.9A167.5 167.5 0 0 1 648.8 2247.8" fill="none" stroke="#d4d4d4" stroke-width="1.8"/><path d="M645.0 2241.2A167.5 167.5 0 0 1 624.4 2164.6" fill="none" stroke="#d4d4d4" stroke-width="1.8"/><path d="M624.4 2157.0A167.5 167.5 0 0 1 645.0 2080.4" fill="none" stroke="#d4d4d4" stroke-width="1.8"/><path d="M648.8 2073.8A167.5 167.5 0 0 1 704.9 2017.7" fill="none" stroke="#d4d4d4" stroke-width="1.8"/><path d="M711.5 2013.9A167.5 167.5 0 0 1 788.1 1993.3" fill="none" stroke="#d4d4d4" stroke-width="1.8"/><text x="738.5" y="1990.5" transform="rotate(342.6 738.5 1990.5)" text-anchor="middle" dominant-baseline="central" font-size="14.5" letter-spacing="1.1" fill="#8a8a8a">DEC</text><use href="#apT"/></g><circle cx="810.9" cy="2298.8" r="63.7" fill="url(#fade)"/><text x="847.2" y="2337.3" transform="rotate(-17.4 847.2 2337.3)" text-anchor="middle" dominant-baseline="central" font-size="14.5" letter-spacing="1.1" fill="#8a8a8a" opacity=".38">JUN</text><rect x="513.0" y="2373" width="7.2" height="7" fill="#fde725"/><rect x="521.0" y="2373" width="7.2" height="7" fill="#c7e02a"/><rect x="528.9" y="2373" width="7.2" height="7" fill="#92d642"/><rect x="536.9" y="2373" width="7.2" height="7" fill="#60c860"/><rect x="544.8" y="2373" width="7.2" height="7" fill="#35b779"/><rect x="552.8" y="2373" width="7.2" height="7" fill="#24a485"/><rect x="560.7" y="2373" width="7.2" height="7" fill="#22908c"/><rect x="568.6" y="2373" width="7.2" height="7" fill="#297b8e"/><rect x="576.6" y="2373" width="7.2" height="7" fill="#31688e"/><rect x="584.5" y="2373" width="7.2" height="7" fill="#3b528a"/><rect x="592.5" y="2373" width="7.2" height="7" fill="#433980"/><rect x="600.5" y="2373" width="7.2" height="7" fill="#471e6f"/><rect x="608.4" y="2373" width="7.2" height="7" fill="#440154"/></svg><div class="ft"><svg width="1280" height="204" viewBox="0 0 1280 204"><g class="dd"><g id="df"><path transform="translate(49.5 77.9) scale(0.806 0.801) rotate(-30)" d="M47.9 0.0C47.9 5.6 45.3 12.1 41.3 16.9C37.2 21.7 30.4 25.8 23.5 28.8C16.6 31.8 7.8 34.8 0.0 34.7C-7.8 34.7 -16.4 31.5 -23.3 28.6C-30.2 25.6 -37.3 21.8 -41.6 17.0C-45.9 12.2 -49.3 5.6 -49.1 0.0C-49.0 -5.6 -44.7 -11.6 -40.5 -16.6C-36.3 -21.5 -30.8 -26.6 -24.1 -29.5C-17.3 -32.5 -7.9 -34.4 -0.0 -34.2C7.9 -34.1 16.5 -31.5 23.3 -28.6C30.2 -25.7 37.2 -21.6 41.3 -16.9C45.4 -12.1 47.9 -5.6 47.9 0.0ZM38.5 0.0C38.4 4.2 36.0 8.8 32.8 12.5C29.6 16.1 24.7 19.9 19.3 21.9C13.8 23.9 6.3 24.6 0.0 24.5C-6.3 24.4 -13.3 23.4 -18.7 21.3C-24.1 19.3 -28.9 15.8 -32.1 12.2C-35.4 8.7 -37.7 4.2 -38.0 0.0C-38.3 -4.2 -36.9 -9.2 -33.7 -12.8C-30.6 -16.4 -24.7 -19.7 -19.1 -21.8C-13.5 -23.9 -6.3 -25.5 -0.0 -25.4C6.3 -25.4 13.3 -23.6 18.9 -21.5C24.4 -19.4 30.1 -16.3 33.4 -12.7C36.7 -9.1 38.6 -4.2 38.5 0.0ZM-30.0 0.0C-30.0 -4.7 -17.7 -12.3 -10.0 -14.0C-2.3 -15.7 10.0 -12.3 16.0 -10.0C22.0 -7.7 23.0 0.0 26.0 0.0C29.0 0.0 32.7 -11.7 34.0 -10.0C35.3 -8.3 35.3 8.3 34.0 10.0C32.7 11.7 29.0 0.0 26.0 0.0C23.0 0.0 22.0 7.7 16.0 10.0C10.0 12.3 -2.3 15.7 -10.0 14.0C-17.7 12.3 -30.0 4.7 -30.0 0.0ZM-15.1 -3.0C-15.2 -2.4 -15.3 -1.8 -15.6 -1.3C-16.0 -0.8 -16.5 -0.3 -17.1 -0.1C-17.6 0.1 -18.4 0.1 -19.0 -0.1C-19.5 -0.3 -20.1 -0.8 -20.4 -1.3C-20.7 -1.7 -20.9 -2.4 -20.9 -3.0C-20.8 -3.6 -20.7 -4.3 -20.4 -4.7C-20.0 -5.2 -19.4 -5.6 -18.9 -5.8C-18.4 -5.9 -17.7 -5.9 -17.1 -5.8C-16.5 -5.6 -15.8 -5.3 -15.5 -4.8C-15.2 -4.4 -15.1 -3.6 -15.1 -3.0ZM7.8 0.0C7.9 1.2 7.7 2.7 7.1 3.7C6.4 4.7 5.1 5.7 3.9 6.0C2.8 6.3 1.4 5.8 0.2 5.4C-0.9 5.0 -2.1 4.4 -2.8 3.5C-3.5 2.6 -4.0 1.1 -4.0 0.0C-4.0 -1.1 -3.3 -2.4 -2.6 -3.3C-1.9 -4.3 -0.9 -5.2 0.2 -5.7C1.2 -6.1 2.9 -6.4 3.9 -6.0C5.0 -5.6 6.0 -4.4 6.6 -3.4C7.3 -2.4 7.7 -1.2 7.8 0.0ZM4.5 0.0C4.5 0.5 4.2 1.0 3.9 1.4C3.6 1.8 3.2 2.2 2.8 2.4C2.3 2.6 1.6 2.7 1.2 2.5C0.7 2.3 0.3 1.8 0.0 1.4C-0.2 1.0 -0.4 0.5 -0.4 0.0C-0.3 -0.5 -0.2 -1.0 0.1 -1.4C0.3 -1.8 0.8 -2.2 1.2 -2.4C1.7 -2.5 2.3 -2.4 2.7 -2.2C3.2 -2.1 3.6 -1.8 3.9 -1.4C4.2 -1.0 4.5 -0.5 4.5 0.0Z"/><path transform="translate(83.1 92.5) scale(1.111 0.958) rotate(-18)" d="M-50.0 4.0C-50.0 0.7 -52.3 -5.3 -44.0 -8.0C-35.7 -10.7 -14.7 -12.0 0.0 -12.0C14.7 -12.0 35.7 -10.5 44.0 -8.0C52.3 -5.5 50.0 -0.3 50.0 3.0C50.0 6.3 52.3 10.8 44.0 12.0C35.7 13.2 14.7 10.0 0.0 10.0C-14.7 10.0 -35.7 13.0 -44.0 12.0C-52.3 11.0 -50.0 7.3 -50.0 4.0ZM-30.0 -8.0C-29.2 -6.7 -27.0 -2.3 -25.0 0.0C-23.0 2.3 -19.2 5.0 -18.0 6.0M-12.0 -8.0C-11.2 -6.7 -9.0 -2.3 -7.0 0.0C-5.0 2.3 -1.2 5.0 0.0 6.0M6.0 -8.0C6.8 -6.7 9.0 -2.3 11.0 0.0C13.0 2.3 16.8 5.0 18.0 6.0M24.0 -8.0C24.8 -6.7 27.0 -2.3 29.0 0.0C31.0 2.3 34.8 5.0 36.0 6.0"/><path transform="translate(202.3 104.1) scale(0.801 0.602) rotate(0)" d="M27.0 14.0C27.1 20.1 26.6 27.6 24.4 32.8C22.1 37.9 17.5 42.1 13.4 44.9C9.3 47.7 4.5 49.5 0.0 49.6C-4.5 49.7 -9.9 48.7 -13.7 45.6C-17.4 42.5 -20.2 36.5 -22.4 31.3C-24.7 26.0 -27.2 19.8 -27.2 14.0C-27.2 8.2 -24.9 1.8 -22.6 -3.4C-20.4 -8.7 -17.4 -14.1 -13.6 -17.5C-9.9 -20.9 -4.4 -23.9 -0.0 -23.6C4.4 -23.4 9.0 -19.0 12.9 -15.8C16.8 -12.5 21.2 -9.1 23.5 -4.1C25.9 0.9 26.8 7.9 27.0 14.0ZM-22.0 -4.0C-20.2 -5.0 -14.7 -10.0 -11.0 -10.0C-7.3 -10.0 -3.7 -4.0 0.0 -4.0C3.7 -4.0 7.3 -10.0 11.0 -10.0C14.7 -10.0 20.2 -5.0 22.0 -4.0M-22.0 10.0C-20.2 9.0 -14.7 4.0 -11.0 4.0C-7.3 4.0 -3.7 10.0 0.0 10.0C3.7 10.0 7.3 4.0 11.0 4.0C14.7 4.0 20.2 9.0 22.0 10.0M-22.0 24.0C-20.2 23.0 -14.7 18.0 -11.0 18.0C-7.3 18.0 -3.7 24.0 0.0 24.0C3.7 24.0 7.3 18.0 11.0 18.0C14.7 18.0 20.2 23.0 22.0 24.0M-22.0 38.0C-20.2 37.0 -14.7 32.0 -11.0 32.0C-7.3 32.0 -3.7 38.0 0.0 38.0C3.7 38.0 7.3 32.0 11.0 32.0C14.7 32.0 20.2 37.0 22.0 38.0M-12.0 -18.0C-13.2 -19.9 -16.5 -25.8 -19.3 -29.2C-22.1 -32.6 -30.3 -38.2 -28.6 -38.4C-26.9 -38.5 -14.1 -33.5 -9.3 -30.1C-4.5 -26.7 -1.6 -20.0 0.0 -18.0M-9.3 -18.0C-10.5 -21.5 -14.2 -32.2 -16.5 -38.8C-18.8 -45.3 -24.7 -57.2 -23.0 -57.5C-21.3 -57.8 -10.8 -47.2 -6.5 -40.6C-2.2 -34.0 1.2 -21.8 2.7 -18.0M-6.9 -18.0C-7.2 -22.5 -8.6 -36.1 -8.7 -44.7C-8.8 -53.3 -9.1 -69.0 -7.5 -69.4C-5.8 -69.9 -0.8 -55.8 1.3 -47.2C3.4 -38.6 4.5 -22.9 5.1 -18.0M-4.5 -18.0C-3.6 -22.0 -2.0 -34.5 0.7 -42.3C3.3 -50.0 9.7 -64.2 11.4 -64.6C13.0 -64.9 11.3 -52.3 10.7 -44.5C10.0 -36.8 8.0 -22.4 7.5 -18.0M-1.8 -18.0C-0.3 -20.8 2.9 -29.4 7.2 -34.5C11.6 -39.7 22.8 -48.8 24.5 -49.1C26.1 -49.3 19.6 -41.2 17.2 -36.0C14.9 -30.8 11.4 -21.0 10.2 -18.0M0.6 -18.0C1.7 -19.4 3.4 -23.9 7.5 -26.4C11.5 -28.8 23.3 -32.6 25.0 -32.7C26.6 -32.8 19.5 -29.4 17.5 -27.0C15.4 -24.5 13.4 -19.5 12.6 -18.0"/><path transform="translate(288.7 75.7) scale(0.679 0.580) rotate(8)" d="M-44.0 6.0C-47.3 -0.7 -37.3 -11.3 -30.0 -16.0C-22.7 -20.7 -10.0 -22.3 0.0 -22.0C10.0 -21.7 22.3 -18.3 30.0 -14.0C37.7 -9.7 46.3 -1.7 46.0 4.0C45.7 9.7 37.3 16.7 28.0 20.0C18.7 23.3 2.0 26.3 -10.0 24.0C-22.0 21.7 -40.7 12.7 -44.0 6.0ZM-34.0 6.0C-36.0 2.2 -27.7 -5.0 -22.0 -8.0C-16.3 -11.0 -7.3 -12.3 0.0 -12.0C7.3 -11.7 16.3 -8.7 22.0 -6.0C27.7 -3.3 34.7 0.8 34.0 4.0C33.3 7.2 25.3 11.2 18.0 13.0C10.7 14.8 -1.3 16.2 -10.0 15.0C-18.7 13.8 -32.0 9.8 -34.0 6.0ZM2.1 2.0C2.0 4.1 0.5 6.7 -1.2 8.1C-2.9 9.6 -5.6 10.7 -8.0 10.8C-10.4 10.9 -13.7 10.1 -15.4 8.7C-17.2 7.2 -18.6 4.1 -18.5 2.0C-18.4 -0.1 -16.6 -2.6 -14.8 -4.1C-13.1 -5.7 -10.4 -7.1 -8.0 -7.2C-5.6 -7.3 -2.3 -6.2 -0.6 -4.7C1.1 -3.1 2.2 -0.1 2.1 2.0Z"/><path transform="translate(345.8 76.2) scale(0.464 0.360) rotate(0)" d="M43 0C43 7 42 16 38 22C35 28 28 34 21 37C15 41 7 43 0 44C-7 44-16 42-22 38C-29 35-35 28-38 22C-42 16-45 7-45 0C-44-7-41-15-37-22C-33-28-28-34-22-38C-16-42-7-45 0-45C7-45 16-42 22-38C28-34 34-28 38-22C42-16 43-7 43 0ZM36 0C36 6 35 13 32 18C29 24 23 29 18 31C13 34 6 35 0 35C-6 35-13 35-18 32C-24 29-28 23-31 18C-34 12-36 6-36 0C-36-6-34-12-31-18C-28-23-23-28-18-31C-13-34-6-36 0-36C6-36 12-33 18-30C23-28 28-23 31-18C34-13 36-6 36 0ZM4 1L33 7M2 3L19 28M-1 4L-7 33M-3 2L-28 19M-4-1L-33-7M-2-3L-19-28M1-4L7-33M3-2L28-19"/><path transform="translate(306.0 101.0) scale(0.519 0.434) rotate(10)" d="M-46-6C-43-1-38 19-30 26C-22 33-10 38 0 38C10 38 22 33 30 26C38 19 43-1 46-6ZM-36-6C-34-2-28 12-22 18C-16 24-7 28 0 28C7 28 16 24 22 18C28 12 34-2 36-6M0-4L26 10M0-4L15 22M0-4L0 26M0-4L-15 22M0-4L-26 10"/><path transform="translate(356.0 112.1) scale(0.589 0.422) rotate(-30)" d="M-48 0C-48-5-30-13-20-16C-10-19 4-20 15-17C26-14 48-5 48 0C48 5 26 13 15 15C4 17-10 16-20 14C-30 12-48 5-48 0ZM-48 0C-40 0-16 1 0 1C16 1 40 0 48 0M-22 0L-12-11M-22 0L-12 10M-4 0L6-11M-4 0L6 10M14 0L24-11M14 0L24 10"/><path transform="translate(144.1 183.1) scale(0.547 0.654) rotate(-25)" d="M-40.0 -40.0L40.0 -40.0L0.0 2.0ZM0.0 2.0L0.0 40.0M-22.0 42.0C-22.0 40.5 -7.3 38.0 0.0 38.0C7.3 38.0 22.0 40.5 22.0 42.0C22.0 43.5 7.3 47.0 0.0 47.0C-7.3 47.0 -22.0 43.5 -22.0 42.0ZM-28.0 -28.0L28.0 -28.0M13.7 -18.0C13.7 -16.8 13.7 -15.2 13.0 -14.4C12.4 -13.5 10.9 -13.0 9.7 -12.6C8.6 -12.2 7.2 -11.8 6.1 -12.1C5.0 -12.4 3.6 -13.4 3.0 -14.3C2.3 -15.3 2.0 -16.8 2.0 -18.0C2.0 -19.2 2.3 -20.7 3.0 -21.6C3.7 -22.5 5.1 -23.2 6.2 -23.5C7.3 -23.9 8.8 -24.2 9.9 -23.9C11.0 -23.5 12.2 -22.5 12.8 -21.5C13.4 -20.5 13.7 -19.2 13.7 -18.0ZM8.0 -18.0L30.0 -52.0"/><path transform="translate(28.2 181.4) scale(0.603 0.480) rotate(8)" d="M-44.0 6.0C-47.3 -0.7 -37.3 -11.3 -30.0 -16.0C-22.7 -20.7 -10.0 -22.3 0.0 -22.0C10.0 -21.7 22.3 -18.3 30.0 -14.0C37.7 -9.7 46.3 -1.7 46.0 4.0C45.7 9.7 37.3 16.7 28.0 20.0C18.7 23.3 2.0 26.3 -10.0 24.0C-22.0 21.7 -40.7 12.7 -44.0 6.0ZM-34.0 6.0C-36.0 2.2 -27.7 -5.0 -22.0 -8.0C-16.3 -11.0 -7.3 -12.3 0.0 -12.0C7.3 -11.7 16.3 -8.7 22.0 -6.0C27.7 -3.3 34.7 0.8 34.0 4.0C33.3 7.2 25.3 11.2 18.0 13.0C10.7 14.8 -1.3 16.2 -10.0 15.0C-18.7 13.8 -32.0 9.8 -34.0 6.0ZM1.7 2.0C1.8 4.1 1.0 7.2 -0.6 8.7C-2.2 10.1 -5.6 11.0 -8.0 10.9C-10.4 10.8 -13.3 9.8 -15.0 8.3C-16.7 6.8 -18.4 4.1 -18.4 2.0C-18.4 -0.1 -16.7 -2.8 -15.0 -4.3C-13.3 -5.8 -10.3 -7.2 -8.0 -7.2C-5.7 -7.1 -2.8 -5.7 -1.2 -4.2C0.5 -2.6 1.6 -0.1 1.7 2.0Z"/><path transform="translate(75.6 183.6) scale(0.365 0.363) rotate(0)" d="M45 0C45 7 42 16 38 22C34 28 28 33 21 37C15 41 7 45 0 45C-7 45-15 41-22 37C-28 34-35 29-39 23C-43 16-45 8-45 0C-45-8-42-16-38-22C-34-28-28-34-21-37C-15-40-7-43 0-43C7-43 15-41 22-37C28-34 34-28 38-22C42-16 45-7 45 0ZM36 0C36 6 35 13 32 18C29 24 23 28 18 31C12 34 6 35 0 35C-6 35-13 34-18 31C-23 28-28 23-30 18C-33 12-35 6-35 0C-35-6-34-13-31-18C-28-23-23-29-18-32C-13-34-6-35 0-35C6-35 13-34 18-31C23-28 28-23 32-18C35-13 36-6 36 0ZM4 1L33 7M2 3L19 28M-1 4L-7 33M-3 2L-28 19M-4-1L-33-7M-2-3L-19-28M1-4L7-33M3-2L28-19"/><path transform="translate(196.8 197.1) scale(0.625 0.640) rotate(-20)" d="M-48.0 -10.0C-48.0 -17.0 -31.3 -24.3 -20.0 -26.0C-8.7 -27.7 8.7 -25.3 20.0 -20.0C31.3 -14.7 47.7 -1.3 48.0 6.0C48.3 13.3 33.3 22.3 22.0 24.0C10.7 25.7 -8.3 21.7 -20.0 16.0C-31.7 10.3 -48.0 -3.0 -48.0 -10.0ZM-30.0 -6.0C-29.3 -9.3 -18.0 -13.7 -10.0 -14.0C-2.0 -14.3 11.3 -11.0 18.0 -8.0C24.7 -5.0 31.0 0.7 30.0 4.0C29.0 7.3 19.3 11.7 12.0 12.0C4.7 12.3 -7.0 9.0 -14.0 6.0C-21.0 3.0 -30.7 -2.7 -30.0 -6.0ZM-4.7 -4.0C-4.8 -2.8 -6.2 -1.2 -7.6 -0.6C-8.9 0.0 -11.5 0.3 -12.7 -0.3C-13.9 -0.8 -14.7 -2.8 -14.7 -4.0C-14.7 -5.2 -13.8 -7.0 -12.6 -7.6C-11.4 -8.2 -8.7 -8.3 -7.4 -7.7C-6.1 -7.1 -4.7 -5.2 -4.7 -4.0ZM7.4 0.0C7.4 1.1 5.8 2.9 4.5 3.5C3.2 4.0 0.9 3.8 -0.3 3.2C-1.5 2.6 -2.5 1.1 -2.5 0.0C-2.6 -1.1 -1.7 -2.9 -0.5 -3.5C0.6 -4.0 3.0 -3.8 4.3 -3.2C5.7 -2.7 7.4 -1.1 7.4 0.0ZM19.1 2.0C19.1 3.1 17.6 4.6 16.3 5.2C15.0 5.8 12.5 6.2 11.4 5.7C10.2 5.1 9.2 3.1 9.3 2.0C9.3 0.9 10.6 -0.6 11.7 -1.1C12.9 -1.7 15.1 -1.8 16.3 -1.2C17.6 -0.7 19.1 0.9 19.1 2.0Z"/><path transform="translate(280.8 181.6) scale(0.717 0.749) rotate(0)" d="M49.1 0.0C49.1 5.7 41.8 11.2 38.7 17.0C35.6 22.8 35.3 31.5 30.4 34.8C25.5 38.2 16.1 35.5 9.3 37.0C2.4 38.5 -4.8 44.6 -10.9 43.8C-17.1 42.9 -22.1 35.7 -27.7 31.7C-33.3 27.7 -41.7 24.8 -44.5 19.6C-47.2 14.3 -44.7 6.4 -44.4 0.0C-44.1 -6.4 -45.5 -13.5 -42.8 -18.8C-40.0 -24.1 -33.1 -27.5 -27.8 -31.8C-22.6 -36.2 -17.5 -44.0 -11.3 -45.1C-5.0 -46.2 2.6 -39.9 9.6 -38.2C16.6 -36.6 25.9 -38.7 30.7 -35.2C35.6 -31.7 35.6 -22.9 38.7 -17.0C41.7 -11.1 49.0 -5.7 49.1 0.0ZM-38.0 13.5C-37.8 9.7 -40.0 -2.5 -37.3 -9.2C-34.6 -15.8 -28.3 -22.9 -21.8 -26.4C-15.4 -30.0 -5.8 -31.7 1.6 -30.6C9.0 -29.5 17.5 -25.1 22.5 -19.8C27.5 -14.5 31.3 -5.9 31.7 1.2C32.0 8.3 26.0 19.4 24.9 23.0M-28.0 10.4C-27.9 7.7 -29.4 -0.9 -27.5 -5.6C-25.6 -10.3 -21.2 -15.3 -16.6 -17.8C-12.0 -20.3 -5.3 -21.5 -0.1 -20.7C5.2 -19.9 11.2 -16.8 14.7 -13.1C18.3 -9.3 20.9 -3.3 21.2 1.7C21.4 6.8 17.2 14.5 16.4 17.1M-17.0 7.0C-16.9 5.6 -17.8 0.9 -16.7 -1.7C-15.7 -4.2 -13.3 -6.9 -10.8 -8.3C-8.3 -9.6 -4.7 -10.3 -1.9 -9.8C1.0 -9.4 4.2 -7.7 6.1 -5.7C8.1 -3.7 9.5 -0.4 9.6 2.3C9.8 5.0 7.5 9.3 7.0 10.6M-8.0 40.0C-7.0 35.0 -5.0 18.0 -2.0 10.0C1.0 2.0 8.0 -5.0 10.0 -8.0"/><path transform="translate(495.2 136.3) scale(0.741 0.694) rotate(0)" d="M50.7 0.0C50.4 5.6 40.4 10.4 37.1 16.3C33.8 22.2 35.6 31.9 31.0 35.5C26.4 39.2 16.5 36.9 9.6 38.2C2.6 39.5 -4.7 44.3 -10.8 43.2C-16.9 42.0 -21.5 35.0 -27.2 31.1C-32.9 27.2 -42.7 25.0 -45.1 19.8C-47.4 14.6 -41.3 6.6 -41.3 0.0C-41.3 -6.6 -47.5 -14.7 -45.0 -19.8C-42.5 -24.9 -32.2 -26.4 -26.6 -30.4C-20.9 -34.4 -17.0 -42.4 -10.9 -43.8C-4.9 -45.1 2.9 -40.2 9.6 -38.5C16.4 -36.9 24.8 -37.5 29.7 -34.0C34.5 -30.4 35.4 -22.8 38.9 -17.1C42.4 -11.4 51.0 -5.6 50.7 0.0ZM-38.0 13.5C-37.8 9.7 -40.0 -2.5 -37.3 -9.2C-34.6 -15.8 -28.3 -22.9 -21.8 -26.4C-15.4 -30.0 -5.8 -31.7 1.6 -30.6C9.0 -29.5 17.5 -25.1 22.5 -19.8C27.5 -14.5 31.3 -5.9 31.7 1.2C32.0 8.3 26.0 19.4 24.9 23.0M-28.0 10.4C-27.9 7.7 -29.4 -0.9 -27.5 -5.6C-25.6 -10.3 -21.2 -15.3 -16.6 -17.8C-12.0 -20.3 -5.3 -21.5 -0.1 -20.7C5.2 -19.9 11.2 -16.8 14.7 -13.1C18.3 -9.3 20.9 -3.3 21.2 1.7C21.4 6.8 17.2 14.5 16.4 17.1M-17.0 7.0C-16.9 5.6 -17.8 0.9 -16.7 -1.7C-15.7 -4.2 -13.3 -6.9 -10.8 -8.3C-8.3 -9.6 -4.7 -10.3 -1.9 -9.8C1.0 -9.4 4.2 -7.7 6.1 -5.7C8.1 -3.7 9.5 -0.4 9.6 2.3C9.8 5.0 7.5 9.3 7.0 10.6M-8.0 40.0C-7.0 35.0 -5.0 18.0 -2.0 10.0C1.0 2.0 8.0 -5.0 10.0 -8.0"/><path transform="translate(446.6 73.6) scale(0.243 0.235) rotate(-10)" d="M0-24C8-24 18-33 24-30C30-27 37-17 36-8C35 1 24 17 18 26C12 35 6 44 0 44C-6 44-12 35-18 26C-24 17-35 1-36-8C-37-17-30-27-24-30C-18-33-8-24 0-24ZM-18-28L-8-40L0-28L8-40L18-28M0-40L0-50M-14-8L-12-5M10-10L12-7M-4 6L-2 9M14 10L16 13M-10 20L-8 23M2 26L4 29"/><path transform="translate(473.3 74.5) scale(0.242 0.217) rotate(15)" d="M0-24C8-24 18-33 24-30C30-27 37-17 36-8C35 1 24 17 18 26C12 35 6 44 0 44C-6 44-12 35-18 26C-24 17-35 1-36-8C-37-17-30-27-24-30C-18-33-8-24 0-24ZM-18-28L-8-40L0-28L8-40L18-28M0-40L0-50M-14-8L-12-5M10-10L12-7M-4 6L-2 9M14 10L16 13M-10 20L-8 23M2 26L4 29"/><path transform="translate(412.8 33.9) scale(0.697 0.623) rotate(-15)" d="M-48.0 -14.0L40.0 -24.0L48.0 16.0L-40.0 26.0ZM-42.0 -9.0L36.0 -18.0L42.0 11.0L-35.0 20.0ZM0.0 -2.0C-6.0 -3.7 -10.7 -15.7 -14.0 -16.0C-17.3 -16.3 -22.3 -6.3 -20.0 -4.0C-17.7 -1.7 -5.7 0.3 0.0 -2.0C5.7 -4.3 10.3 -17.3 14.0 -18.0C17.7 -18.7 24.3 -8.7 22.0 -6.0C19.7 -3.3 6.0 -0.3 0.0 -2.0ZM0.0 -2.0C-1.7 1.3 -8.3 14.7 -10.0 18.0M0.0 -2.0C2.0 1.0 10.0 13.0 12.0 16.0M-30.0 2.0C-31.3 0.3 -34.0 -2.7 -34.0 -4.0C-34.0 -5.3 -31.3 -6.3 -30.0 -6.0C-28.7 -5.7 -27.3 -2.0 -26.0 -2.0C-24.7 -2.0 -23.2 -6.0 -22.0 -6.0C-20.8 -6.0 -18.3 -4.0 -19.0 -2.0C-19.7 0.0 -24.2 5.3 -26.0 6.0C-27.8 6.7 -28.7 3.7 -30.0 2.0ZM26.0 2.0C24.7 0.3 22.0 -2.7 22.0 -4.0C22.0 -5.3 24.7 -6.3 26.0 -6.0C27.3 -5.7 28.7 -2.0 30.0 -2.0C31.3 -2.0 32.8 -6.0 34.0 -6.0C35.2 -6.0 37.7 -4.0 37.0 -2.0C36.3 0.0 31.8 5.3 30.0 6.0C28.2 6.7 27.3 3.7 26.0 2.0Z"/><path transform="translate(140.0 20.3) scale(0.427 0.458) rotate(-20)" d="M-48 0C-48-5-30-13-20-16C-10-19 4-20 15-17C26-14 48-5 48 0C48 5 26 13 15 15C4 17-10 16-20 14C-30 12-48 5-48 0ZM-48 0C-40 0-16 1 0 1C16 1 40 0 48 0M-22 0L-12-11M-22 0L-12 10M-4 0L6-11M-4 0L6 10M14 0L24-11M14 0L24 10"/><path transform="translate(210.0 27.3) scale(0.667 0.773) rotate(0)" d="M-30.0 10.0C-26.7 6.7 -16.7 -9.7 -10.0 -10.0C-3.3 -10.3 3.3 8.3 10.0 8.0C16.7 7.7 26.7 -8.7 30.0 -12.0"/><path transform="translate(482.9 25.4) scale(0.373 0.323) rotate(0)" d="M-2 26C-2 30-3 34-5 37C-8 39-12 41-15 41C-19 42-23 42-26 40C-29 39-32 35-33 32C-34 28-34 24-33 20C-32 17-29 13-26 12C-23 10-19 10-15 11C-12 12-8 13-6 16C-3 18-2 22-2 26ZM35 30C35 33 34 37 32 40C30 42 26 44 23 45C19 45 16 44 13 42C10 41 8 38 6 35C5 32 5 28 6 25C7 22 10 19 13 17C16 16 19 15 22 16C26 16 29 18 31 20C33 23 35 27 35 30ZM-16 10C-14 5-8-11-4-20C0-29 8-40 10-44M20 15C19 10 18-6 16-16C14-26 11-39 10-44M10-44C10-47 24-54 30-54C36-54 46-47 46-44C46-41 36-36 30-36C24-36 10-41 10-44Z"/></g><use href="#df" x="538"/><use href="#df" x="1076"/><use href="#df" x="-538"/></g></svg><div class="t" style="left:85px;top:16px;height:48px;width:672px;background:#16ca62"></div><div class="t " style="left:84.5px;top:17.00px;font-size:35.5px;line-height:44px;color:#fff;font-weight:400;letter-spacing:0.75px;">It's January! What's asked for right now?</div></div></body></html>
